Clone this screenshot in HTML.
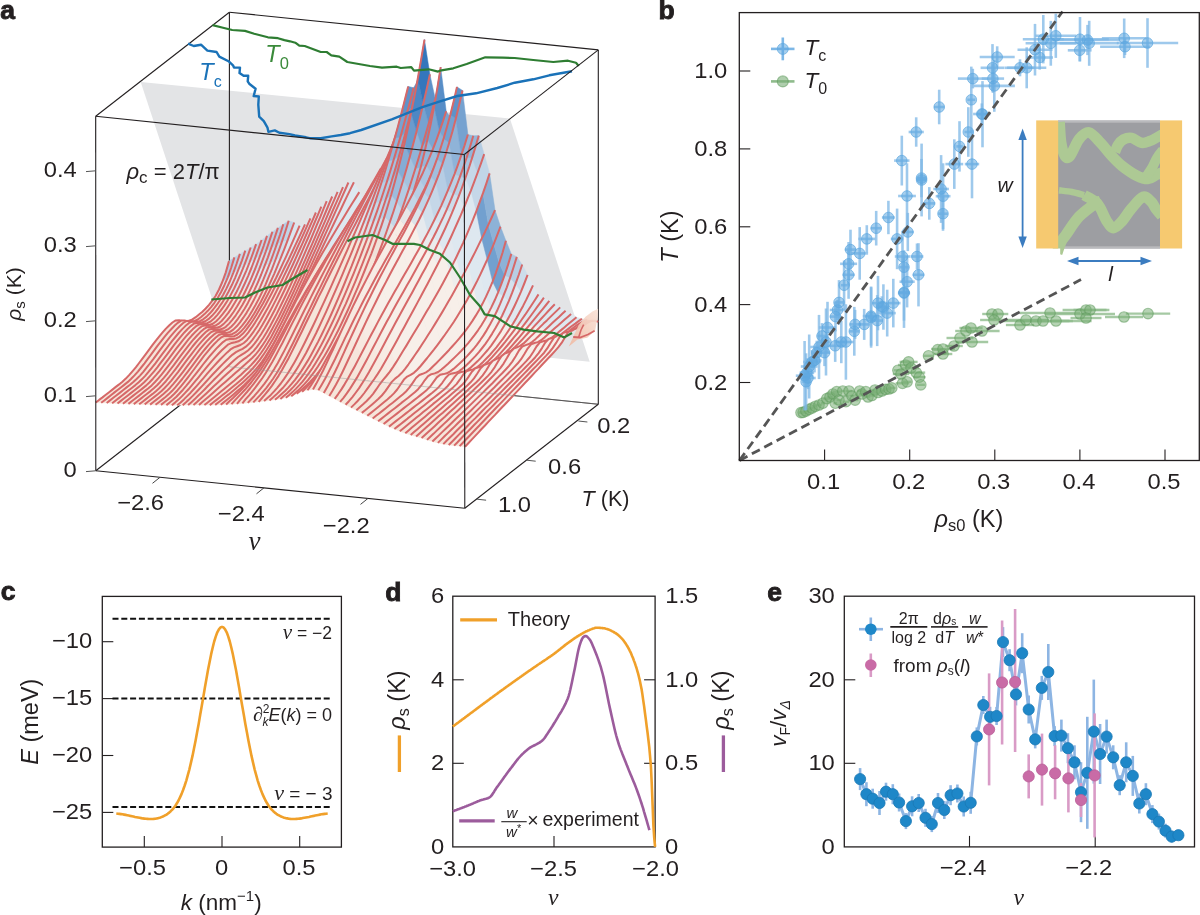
<!DOCTYPE html>
<html><head><meta charset="utf-8"><style>
html,body{margin:0;padding:0;background:#fff;}
body{width:1200px;height:915px;overflow:hidden;font-family:"Liberation Sans",sans-serif;}
svg{display:block;will-change:transform;}
</style></head><body>
<svg width="1200" height="915" viewBox="0 0 1200 915">
<rect width="1200" height="915" fill="#ffffff"/>
<polygon points="140.7,82 509.9,118.4 589.7,361.7 220.5,324.3" fill="#e3e4e6"/>
<g stroke="#231f20" stroke-width="1.1" fill="none">
<line x1="229.4" y1="12.2" x2="229.4" y2="366.8"/>
<line x1="229.4" y1="12.2" x2="598.3" y2="49.9"/>
<line x1="95.7" y1="116.2" x2="229.4" y2="12.2"/>
<line x1="598.3" y1="49.9" x2="598.3" y2="404.2"/>
<line x1="229.4" y1="366.8" x2="598.3" y2="404.2"/>
<line x1="95.8" y1="470.8" x2="229.4" y2="366.8"/>
</g>
<polygon points="95.8,402.6 99.1,399.9 102.5,397.4 107.9,397.6 104.6,400.2 101.2,402.8" fill="#f6e5da" stroke="#f6e5da" stroke-width="0.5"/>
<polygon points="102.5,397.4 105.8,394.8 109.1,392.2 114.5,392.4 111.2,395 107.9,397.6" fill="#f6e5da" stroke="#f6e5da" stroke-width="0.5"/>
<polygon points="109.1,392.2 112.4,389.6 115.8,386.9 121.2,387.2 117.9,389.8 114.5,392.4" fill="#f6e5da" stroke="#f6e5da" stroke-width="0.5"/>
<polygon points="115.8,386.9 119.1,384.4 122.4,381.7 127.9,381.9 124.5,384.6 121.2,387.2" fill="#f6e5da" stroke="#f6e5da" stroke-width="0.5"/>
<polygon points="122.4,381.7 125.8,378.6 129.1,375.1 134.5,375.4 131.2,378.8 127.9,381.9" fill="#f6e5da" stroke="#f6e5da" stroke-width="0.5"/>
<polygon points="129.1,375.1 132.4,371.3 135.8,367.3 141.2,367.5 137.9,371.6 134.5,375.4" fill="#f6e5da" stroke="#f6e5da" stroke-width="0.5"/>
<polygon points="135.8,367.3 139.1,363 142.4,358.7 147.8,358.9 144.5,363.3 141.2,367.5" fill="#f6e5da" stroke="#f6e5da" stroke-width="0.5"/>
<polygon points="142.4,358.7 145.8,354.2 149.1,349.7 154.5,349.9 151.2,354.4 147.8,358.9" fill="#f6e5da" stroke="#f6e5da" stroke-width="0.5"/>
<polygon points="149.1,349.7 152.4,345.2 155.7,340.9 161.2,341.1 157.8,345.4 154.5,349.9" fill="#f6e5da" stroke="#f6e5da" stroke-width="0.5"/>
<polygon points="155.7,340.9 159.1,336.7 162.4,332.7 167.8,332.9 164.5,336.9 161.2,341.1" fill="#f6e5da" stroke="#f6e5da" stroke-width="0.5"/>
<polygon points="162.4,332.7 165.7,328.9 169.1,325.5 174.5,325.8 171.2,329.2 167.8,332.9" fill="#f6e5da" stroke="#f6e5da" stroke-width="0.5"/>
<polygon points="169.1,325.5 172.4,322.5 175.7,320.4 181.1,320.6 177.8,322.8 174.5,325.8" fill="#f6e5da" stroke="#f6e5da" stroke-width="0.5"/>
<polygon points="175.7,320.4 179.1,320.2 182.4,321.1 187.8,321.3 184.5,320.5 181.1,320.6" fill="#f2cdbe" stroke="#f2cdbe" stroke-width="0.5"/>
<polygon points="182.4,321.1 185.7,321.5 189,321 194.5,321.2 191.1,321.8 187.8,321.3" fill="#f2cdbe" stroke="#f2cdbe" stroke-width="0.5"/>
<polygon points="189,321 192.4,319.4 195.7,317.2 201.1,317 197.8,319.5 194.5,321.2" fill="#f5ded2" stroke="#f5ded2" stroke-width="0.5"/>
<polygon points="195.7,317.2 199,314.5 202.4,311.7 207.8,310.8 204.5,314.1 201.1,317" fill="#f6e5da" stroke="#f6e5da" stroke-width="0.5"/>
<polygon points="202.4,311.7 205.7,308.5 209,304.9 214.4,302.8 211.1,307.1 207.8,310.8" fill="#f6e5da" stroke="#f6e5da" stroke-width="0.5"/>
<polygon points="209,304.9 212.3,300.7 215.7,295.7 221.1,292 217.8,297.8 214.4,302.8" fill="#e9e7e6" stroke="#e9e7e6" stroke-width="0.5"/>
<polygon points="215.7,295.7 219,289.5 222.3,282 227.8,277.3 224.4,285.2 221.1,292" fill="#dee8f0" stroke="#dee8f0" stroke-width="0.5"/>
<polygon points="222.3,282 225.7,272.6 229,261.1 234.4,257.4 231.1,268 227.8,277.3" fill="#b6cde4" stroke="#b6cde4" stroke-width="0.5"/>
<path d="M95.8 402.6L99.1 399.9L102.5 397.4L105.8 394.8L109.1 392.2L112.4 389.6L115.8 386.9L119.1 384.4L122.4 381.7L125.8 378.6L129.1 375.1L132.4 371.3L135.8 367.3L139.1 363L142.4 358.7L145.8 354.2L149.1 349.7L152.4 345.2L155.7 340.9L159.1 336.7L162.4 332.7L165.7 328.9L169.1 325.5L172.4 322.5L175.7 320.4L179.1 320.2L182.4 321.1L185.7 321.5L189 321L192.4 319.4L195.7 317.2L199 314.5L202.4 311.7L205.7 308.5L209 304.9L212.3 300.7L215.7 295.7L219 289.5L222.3 282L225.7 272.6L229 261.1" fill="none" stroke="#d66868" stroke-width="2" stroke-linejoin="round"/>
<polygon points="101.2,402.8 104.6,400.2 107.9,397.6 113.3,397.8 110,400.4 106.7,403" fill="#f6e5da" stroke="#f6e5da" stroke-width="0.5"/>
<polygon points="107.9,397.6 111.2,395 114.5,392.4 120,392.6 116.6,395.2 113.3,397.8" fill="#f6e5da" stroke="#f6e5da" stroke-width="0.5"/>
<polygon points="114.5,392.4 117.9,389.8 121.2,387.2 126.6,387.4 123.3,390 120,392.6" fill="#f6e5da" stroke="#f6e5da" stroke-width="0.5"/>
<polygon points="121.2,387.2 124.5,384.6 127.9,381.9 133.3,382.1 130,384.8 126.6,387.4" fill="#f6e5da" stroke="#f6e5da" stroke-width="0.5"/>
<polygon points="127.9,381.9 131.2,378.8 134.5,375.4 140,375.6 136.6,379 133.3,382.1" fill="#f6e5da" stroke="#f6e5da" stroke-width="0.5"/>
<polygon points="134.5,375.4 137.9,371.6 141.2,367.5 146.6,367.7 143.3,371.8 140,375.6" fill="#f6e5da" stroke="#f6e5da" stroke-width="0.5"/>
<polygon points="141.2,367.5 144.5,363.3 147.8,358.9 153.3,359.1 149.9,363.5 146.6,367.7" fill="#f6e5da" stroke="#f6e5da" stroke-width="0.5"/>
<polygon points="147.8,358.9 151.2,354.4 154.5,349.9 159.9,350.1 156.6,354.6 153.3,359.1" fill="#f6e5da" stroke="#f6e5da" stroke-width="0.5"/>
<polygon points="154.5,349.9 157.8,345.4 161.2,341.1 166.6,341.3 163.3,345.7 159.9,350.1" fill="#f6e5da" stroke="#f6e5da" stroke-width="0.5"/>
<polygon points="161.2,341.1 164.5,336.9 167.8,332.9 173.3,333.1 169.9,337.1 166.6,341.3" fill="#f6e5da" stroke="#f6e5da" stroke-width="0.5"/>
<polygon points="167.8,332.9 171.2,329.2 174.5,325.8 179.9,326 176.6,329.4 173.3,333.1" fill="#f6e5da" stroke="#f6e5da" stroke-width="0.5"/>
<polygon points="174.5,325.8 177.8,322.8 181.1,320.6 186.6,320.9 183.2,323 179.9,326" fill="#f6e5da" stroke="#f6e5da" stroke-width="0.5"/>
<polygon points="181.1,320.6 184.5,320.5 187.8,321.3 193.2,321.6 189.9,320.8 186.6,320.9" fill="#f2cdbe" stroke="#f2cdbe" stroke-width="0.5"/>
<polygon points="187.8,321.3 191.1,321.8 194.5,321.2 199.9,321.2 196.6,321.9 193.2,321.6" fill="#f2cdbe" stroke="#f2cdbe" stroke-width="0.5"/>
<polygon points="194.5,321.2 197.8,319.5 201.1,317 206.6,316.6 203.2,319.3 199.9,321.2" fill="#f5e1d5" stroke="#f5e1d5" stroke-width="0.5"/>
<polygon points="201.1,317 204.5,314.1 207.8,310.8 213.2,309.5 209.9,313.3 206.6,316.6" fill="#f6e5da" stroke="#f6e5da" stroke-width="0.5"/>
<polygon points="207.8,310.8 211.1,307.1 214.4,302.8 219.9,300.3 216.5,305.2 213.2,309.5" fill="#f6e5da" stroke="#f6e5da" stroke-width="0.5"/>
<polygon points="214.4,302.8 217.8,297.8 221.1,292 226.5,288.4 223.2,294.7 219.9,300.3" fill="#e7e7e8" stroke="#e7e7e8" stroke-width="0.5"/>
<polygon points="221.1,292 224.4,285.2 227.8,277.3 233.2,273.1 229.9,281.2 226.5,288.4" fill="#dee8f0" stroke="#dee8f0" stroke-width="0.5"/>
<polygon points="227.8,277.3 231.1,268 234.4,257.4 239.9,253.9 236.5,264 233.2,273.1" fill="#bfd3e7" stroke="#bfd3e7" stroke-width="0.5"/>
<path d="M101.2 402.8L104.6 400.2L107.9 397.6L111.2 395L114.5 392.4L117.9 389.8L121.2 387.2L124.5 384.6L127.9 381.9L131.2 378.8L134.5 375.4L137.9 371.6L141.2 367.5L144.5 363.3L147.8 358.9L151.2 354.4L154.5 349.9L157.8 345.4L161.2 341.1L164.5 336.9L167.8 332.9L171.2 329.2L174.5 325.8L177.8 322.8L181.1 320.6L184.5 320.5L187.8 321.3L191.1 321.8L194.5 321.2L197.8 319.5L201.1 317L204.5 314.1L207.8 310.8L211.1 307.1L214.4 302.8L217.8 297.8L221.1 292L224.4 285.2L227.8 277.3L231.1 268L234.4 257.4" fill="none" stroke="#d66868" stroke-width="2" stroke-linejoin="round"/>
<polygon points="106.7,403 110,400.4 113.3,397.8 118.7,398.1 115.4,400.7 112.1,403.3" fill="#f6e5da" stroke="#f6e5da" stroke-width="0.5"/>
<polygon points="113.3,397.8 116.6,395.2 120,392.6 125.4,392.9 122.1,395.5 118.7,398.1" fill="#f6e5da" stroke="#f6e5da" stroke-width="0.5"/>
<polygon points="120,392.6 123.3,390 126.6,387.4 132.1,387.7 128.7,390.3 125.4,392.9" fill="#f6e5da" stroke="#f6e5da" stroke-width="0.5"/>
<polygon points="126.6,387.4 130,384.8 133.3,382.1 138.7,382.3 135.4,385.1 132.1,387.7" fill="#f6e5da" stroke="#f6e5da" stroke-width="0.5"/>
<polygon points="133.3,382.1 136.6,379 140,375.6 145.4,375.6 142.1,379.1 138.7,382.3" fill="#f6e5da" stroke="#f6e5da" stroke-width="0.5"/>
<polygon points="140,375.6 143.3,371.8 146.6,367.7 152,367.6 148.7,371.7 145.4,375.6" fill="#f6e5da" stroke="#f6e5da" stroke-width="0.5"/>
<polygon points="146.6,367.7 149.9,363.5 153.3,359.1 158.7,358.9 155.4,363.3 152,367.6" fill="#f6e5da" stroke="#f6e5da" stroke-width="0.5"/>
<polygon points="153.3,359.1 156.6,354.6 159.9,350.1 165.4,349.9 162,354.4 158.7,358.9" fill="#f6e5da" stroke="#f6e5da" stroke-width="0.5"/>
<polygon points="159.9,350.1 163.3,345.7 166.6,341.3 172,341.1 168.7,345.5 165.4,349.9" fill="#f6e5da" stroke="#f6e5da" stroke-width="0.5"/>
<polygon points="166.6,341.3 169.9,337.1 173.3,333.1 178.7,333 175.4,337 172,341.1" fill="#f6e5da" stroke="#f6e5da" stroke-width="0.5"/>
<polygon points="173.3,333.1 176.6,329.4 179.9,326 185.3,326.1 182,329.4 178.7,333" fill="#f6e5da" stroke="#f6e5da" stroke-width="0.5"/>
<polygon points="179.9,326 183.2,323 186.6,320.9 192,321.5 188.7,323.2 185.3,326.1" fill="#f6e3d8" stroke="#f6e3d8" stroke-width="0.5"/>
<polygon points="186.6,320.9 189.9,320.8 193.2,321.6 198.7,322.4 195.3,321.7 192,321.5" fill="#f2cdbe" stroke="#f2cdbe" stroke-width="0.5"/>
<polygon points="193.2,321.6 196.6,321.9 199.9,321.2 205.3,321.3 202,322.5 198.7,322.4" fill="#f2cdbe" stroke="#f2cdbe" stroke-width="0.5"/>
<polygon points="199.9,321.2 203.2,319.3 206.6,316.6 212,315.8 208.7,318.9 205.3,321.3" fill="#f6e4d9" stroke="#f6e4d9" stroke-width="0.5"/>
<polygon points="206.6,316.6 209.9,313.3 213.2,309.5 218.6,307.8 215.3,312.1 212,315.8" fill="#f6e5da" stroke="#f6e5da" stroke-width="0.5"/>
<polygon points="213.2,309.5 216.5,305.2 219.9,300.3 225.3,297.5 222,302.9 218.6,307.8" fill="#f6e5da" stroke="#f6e5da" stroke-width="0.5"/>
<polygon points="219.9,300.3 223.2,294.7 226.5,288.4 232,284.8 228.6,291.5 225.3,297.5" fill="#e4e7ea" stroke="#e4e7ea" stroke-width="0.5"/>
<polygon points="226.5,288.4 229.9,281.2 233.2,273.1 238.6,269.2 235.3,277.3 232,284.8" fill="#dee8f0" stroke="#dee8f0" stroke-width="0.5"/>
<polygon points="233.2,273.1 236.5,264 239.9,253.9 245.3,250.7 242,260.3 238.6,269.2" fill="#c6d8e9" stroke="#c6d8e9" stroke-width="0.5"/>
<path d="M106.7 403L110 400.4L113.3 397.8L116.6 395.2L120 392.6L123.3 390L126.6 387.4L130 384.8L133.3 382.1L136.6 379L140 375.6L143.3 371.8L146.6 367.7L149.9 363.5L153.3 359.1L156.6 354.6L159.9 350.1L163.3 345.7L166.6 341.3L169.9 337.1L173.3 333.1L176.6 329.4L179.9 326L183.2 323L186.6 320.9L189.9 320.8L193.2 321.6L196.6 321.9L199.9 321.2L203.2 319.3L206.6 316.6L209.9 313.3L213.2 309.5L216.5 305.2L219.9 300.3L223.2 294.7L226.5 288.4L229.9 281.2L233.2 273.1L236.5 264L239.9 253.9" fill="none" stroke="#d66868" stroke-width="2" stroke-linejoin="round"/>
<polygon points="112.1,403.3 115.4,400.7 118.7,398.1 124.2,398.3 120.8,400.9 117.5,403.5" fill="#f6e5da" stroke="#f6e5da" stroke-width="0.5"/>
<polygon points="118.7,398.1 122.1,395.5 125.4,392.9 130.8,393.1 127.5,395.7 124.2,398.3" fill="#f6e5da" stroke="#f6e5da" stroke-width="0.5"/>
<polygon points="125.4,392.9 128.7,390.3 132.1,387.7 137.5,387.9 134.2,390.5 130.8,393.1" fill="#f6e5da" stroke="#f6e5da" stroke-width="0.5"/>
<polygon points="132.1,387.7 135.4,385.1 138.7,382.3 144.2,382.3 140.8,385.3 137.5,387.9" fill="#f6e5da" stroke="#f6e5da" stroke-width="0.5"/>
<polygon points="138.7,382.3 142.1,379.1 145.4,375.6 150.8,375.2 147.5,378.9 144.2,382.3" fill="#f6e5da" stroke="#f6e5da" stroke-width="0.5"/>
<polygon points="145.4,375.6 148.7,371.7 152,367.6 157.5,367.1 154.1,371.3 150.8,375.2" fill="#f6e5da" stroke="#f6e5da" stroke-width="0.5"/>
<polygon points="152,367.6 155.4,363.3 158.7,358.9 164.1,358.3 160.8,362.7 157.5,367.1" fill="#f6e5da" stroke="#f6e5da" stroke-width="0.5"/>
<polygon points="158.7,358.9 162,354.4 165.4,349.9 170.8,349.3 167.5,353.8 164.1,358.3" fill="#f6e5da" stroke="#f6e5da" stroke-width="0.5"/>
<polygon points="165.4,349.9 168.7,345.5 172,341.1 177.5,340.6 174.1,344.9 170.8,349.3" fill="#f6e5da" stroke="#f6e5da" stroke-width="0.5"/>
<polygon points="172,341.1 175.4,337 178.7,333 184.1,332.7 180.8,336.6 177.5,340.6" fill="#f6e5da" stroke="#f6e5da" stroke-width="0.5"/>
<polygon points="178.7,333 182,329.4 185.3,326.1 190.8,326.1 187.4,329.2 184.1,332.7" fill="#f6e5da" stroke="#f6e5da" stroke-width="0.5"/>
<polygon points="185.3,326.1 188.7,323.2 192,321.5 197.4,322.7 194.1,323.5 190.8,326.1" fill="#f5dfd3" stroke="#f5dfd3" stroke-width="0.5"/>
<polygon points="192,321.5 195.3,321.7 198.7,322.4 204.1,323.8 200.8,323.3 197.4,322.7" fill="#f2cdbe" stroke="#f2cdbe" stroke-width="0.5"/>
<polygon points="198.7,322.4 202,322.5 205.3,321.3 210.8,321.3 207.4,323.2 204.1,323.8" fill="#f3d3c5" stroke="#f3d3c5" stroke-width="0.5"/>
<polygon points="205.3,321.3 208.7,318.9 212,315.8 217.4,314.8 214.1,318.5 210.8,321.3" fill="#f6e5da" stroke="#f6e5da" stroke-width="0.5"/>
<polygon points="212,315.8 215.3,312.1 218.6,307.8 224.1,305.9 220.7,310.7 217.4,314.8" fill="#f6e5da" stroke="#f6e5da" stroke-width="0.5"/>
<polygon points="218.6,307.8 222,302.9 225.3,297.5 230.7,294.9 227.4,300.7 224.1,305.9" fill="#f6e5da" stroke="#f6e5da" stroke-width="0.5"/>
<polygon points="225.3,297.5 228.6,291.5 232,284.8 237.4,281.5 234.1,288.5 230.7,294.9" fill="#e2e7ec" stroke="#e2e7ec" stroke-width="0.5"/>
<polygon points="232,284.8 235.3,277.3 238.6,269.2 244.1,265.7 240.7,273.9 237.4,281.5" fill="#dee8f0" stroke="#dee8f0" stroke-width="0.5"/>
<polygon points="238.6,269.2 242,260.3 245.3,250.7 250.7,247.5 247.4,256.9 244.1,265.7" fill="#cbdbea" stroke="#cbdbea" stroke-width="0.5"/>
<path d="M112.1 403.3L115.4 400.7L118.7 398.1L122.1 395.5L125.4 392.9L128.7 390.3L132.1 387.7L135.4 385.1L138.7 382.3L142.1 379.1L145.4 375.6L148.7 371.7L152 367.6L155.4 363.3L158.7 358.9L162 354.4L165.4 349.9L168.7 345.5L172 341.1L175.4 337L178.7 333L182 329.4L185.3 326.1L188.7 323.2L192 321.5L195.3 321.7L198.7 322.4L202 322.5L205.3 321.3L208.7 318.9L212 315.8L215.3 312.1L218.6 307.8L222 302.9L225.3 297.5L228.6 291.5L232 284.8L235.3 277.3L238.6 269.2L242 260.3L245.3 250.7" fill="none" stroke="#d66868" stroke-width="2" stroke-linejoin="round"/>
<polygon points="117.5,403.5 120.8,400.9 124.2,398.3 129.6,398.5 126.3,401.1 122.9,403.7" fill="#f6e5da" stroke="#f6e5da" stroke-width="0.5"/>
<polygon points="124.2,398.3 127.5,395.7 130.8,393.1 136.3,393.3 132.9,395.9 129.6,398.5" fill="#f6e5da" stroke="#f6e5da" stroke-width="0.5"/>
<polygon points="130.8,393.1 134.2,390.5 137.5,387.9 142.9,388.1 139.6,390.7 136.3,393.3" fill="#f6e5da" stroke="#f6e5da" stroke-width="0.5"/>
<polygon points="137.5,387.9 140.8,385.3 144.2,382.3 149.6,382.2 146.3,385.4 142.9,388.1" fill="#f6e5da" stroke="#f6e5da" stroke-width="0.5"/>
<polygon points="144.2,382.3 147.5,378.9 150.8,375.2 156.2,374.9 152.9,378.7 149.6,382.2" fill="#f6e5da" stroke="#f6e5da" stroke-width="0.5"/>
<polygon points="150.8,375.2 154.1,371.3 157.5,367.1 162.9,366.5 159.6,370.8 156.2,374.9" fill="#f6e5da" stroke="#f6e5da" stroke-width="0.5"/>
<polygon points="157.5,367.1 160.8,362.7 164.1,358.3 169.6,357.6 166.2,362.1 162.9,366.5" fill="#f6e5da" stroke="#f6e5da" stroke-width="0.5"/>
<polygon points="164.1,358.3 167.5,353.8 170.8,349.3 176.2,348.7 172.9,353.1 169.6,357.6" fill="#f6e5da" stroke="#f6e5da" stroke-width="0.5"/>
<polygon points="170.8,349.3 174.1,344.9 177.5,340.6 182.9,340.1 179.6,344.3 176.2,348.7" fill="#f6e5da" stroke="#f6e5da" stroke-width="0.5"/>
<polygon points="177.5,340.6 180.8,336.6 184.1,332.7 189.5,332.5 186.2,336.2 182.9,340.1" fill="#f6e5da" stroke="#f6e5da" stroke-width="0.5"/>
<polygon points="184.1,332.7 187.4,329.2 190.8,326.1 196.2,326.2 192.9,329.1 189.5,332.5" fill="#f6e5da" stroke="#f6e5da" stroke-width="0.5"/>
<polygon points="190.8,326.1 194.1,323.5 197.4,322.7 202.9,324.3 199.5,324.2 196.2,326.2" fill="#f4d7ca" stroke="#f4d7ca" stroke-width="0.5"/>
<polygon points="197.4,322.7 200.8,323.3 204.1,323.8 209.5,325 206.2,324.9 202.9,324.3" fill="#f2cdbe" stroke="#f2cdbe" stroke-width="0.5"/>
<polygon points="204.1,323.8 207.4,323.2 210.8,321.3 216.2,321.3 212.9,323.7 209.5,325" fill="#f4dacd" stroke="#f4dacd" stroke-width="0.5"/>
<polygon points="210.8,321.3 214.1,318.5 217.4,314.8 222.8,313.9 219.5,317.9 216.2,321.3" fill="#f6e5da" stroke="#f6e5da" stroke-width="0.5"/>
<polygon points="217.4,314.8 220.7,310.7 224.1,305.9 229.5,304.3 226.2,309.4 222.8,313.9" fill="#f6e5da" stroke="#f6e5da" stroke-width="0.5"/>
<polygon points="224.1,305.9 227.4,300.7 230.7,294.9 236.2,292.6 232.8,298.7 229.5,304.3" fill="#f4e5db" stroke="#f4e5db" stroke-width="0.5"/>
<polygon points="230.7,294.9 234.1,288.5 237.4,281.5 242.8,278.6 239.5,285.9 236.2,292.6" fill="#e0e8ee" stroke="#e0e8ee" stroke-width="0.5"/>
<polygon points="237.4,281.5 240.7,273.9 244.1,265.7 249.5,262.5 246.2,270.8 242.8,278.6" fill="#dee8f0" stroke="#dee8f0" stroke-width="0.5"/>
<polygon points="244.1,265.7 247.4,256.9 250.7,247.5 256.1,244.1 252.8,253.6 249.5,262.5" fill="#ccdcea" stroke="#ccdcea" stroke-width="0.5"/>
<path d="M117.5 403.5L120.8 400.9L124.2 398.3L127.5 395.7L130.8 393.1L134.2 390.5L137.5 387.9L140.8 385.3L144.2 382.3L147.5 378.9L150.8 375.2L154.1 371.3L157.5 367.1L160.8 362.7L164.1 358.3L167.5 353.8L170.8 349.3L174.1 344.9L177.5 340.6L180.8 336.6L184.1 332.7L187.4 329.2L190.8 326.1L194.1 323.5L197.4 322.7L200.8 323.3L204.1 323.8L207.4 323.2L210.8 321.3L214.1 318.5L217.4 314.8L220.7 310.7L224.1 305.9L227.4 300.7L230.7 294.9L234.1 288.5L237.4 281.5L240.7 273.9L244.1 265.7L247.4 256.9L250.7 247.5" fill="none" stroke="#d66868" stroke-width="2" stroke-linejoin="round"/>
<polygon points="122.9,403.7 126.3,401.1 129.6,398.5 135,398.7 131.7,401.3 128.4,403.9" fill="#f6e5da" stroke="#f6e5da" stroke-width="0.5"/>
<polygon points="129.6,398.5 132.9,395.9 136.3,393.3 141.7,393.5 138.4,396.1 135,398.7" fill="#f6e5da" stroke="#f6e5da" stroke-width="0.5"/>
<polygon points="136.3,393.3 139.6,390.7 142.9,388.1 148.4,388.3 145,390.9 141.7,393.5" fill="#f6e5da" stroke="#f6e5da" stroke-width="0.5"/>
<polygon points="142.9,388.1 146.3,385.4 149.6,382.2 155,382 151.7,385.4 148.4,388.3" fill="#f6e5da" stroke="#f6e5da" stroke-width="0.5"/>
<polygon points="149.6,382.2 152.9,378.7 156.2,374.9 161.7,374.4 158.3,378.4 155,382" fill="#f6e5da" stroke="#f6e5da" stroke-width="0.5"/>
<polygon points="156.2,374.9 159.6,370.8 162.9,366.5 168.3,365.9 165,370.2 161.7,374.4" fill="#f6e5da" stroke="#f6e5da" stroke-width="0.5"/>
<polygon points="162.9,366.5 166.2,362.1 169.6,357.6 175,356.9 171.7,361.4 168.3,365.9" fill="#f6e5da" stroke="#f6e5da" stroke-width="0.5"/>
<polygon points="169.6,357.6 172.9,353.1 176.2,348.7 181.7,348.1 178.3,352.5 175,356.9" fill="#f6e5da" stroke="#f6e5da" stroke-width="0.5"/>
<polygon points="176.2,348.7 179.6,344.3 182.9,340.1 188.3,339.7 185,343.8 181.7,348.1" fill="#f6e5da" stroke="#f6e5da" stroke-width="0.5"/>
<polygon points="182.9,340.1 186.2,336.2 189.5,332.5 195,332.3 191.6,335.8 188.3,339.7" fill="#f6e5da" stroke="#f6e5da" stroke-width="0.5"/>
<polygon points="189.5,332.5 192.9,329.1 196.2,326.2 201.6,326.4 198.3,329.1 195,332.3" fill="#f6e5da" stroke="#f6e5da" stroke-width="0.5"/>
<polygon points="196.2,326.2 199.5,324.2 202.9,324.3 208.3,325.9 205,325.4 201.6,326.4" fill="#f2d0c1" stroke="#f2d0c1" stroke-width="0.5"/>
<polygon points="202.9,324.3 206.2,324.9 209.5,325 215,325.8 211.6,326.4 208.3,325.9" fill="#f2cdbe" stroke="#f2cdbe" stroke-width="0.5"/>
<polygon points="209.5,325 212.9,323.7 216.2,321.3 221.6,321 218.3,323.9 215,325.8" fill="#f5e0d4" stroke="#f5e0d4" stroke-width="0.5"/>
<polygon points="216.2,321.3 219.5,317.9 222.8,313.9 228.3,312.9 224.9,317.2 221.6,321" fill="#f6e5da" stroke="#f6e5da" stroke-width="0.5"/>
<polygon points="222.8,313.9 226.2,309.4 229.5,304.3 234.9,302.6 231.6,308 228.3,312.9" fill="#f6e5da" stroke="#f6e5da" stroke-width="0.5"/>
<polygon points="229.5,304.3 232.8,298.7 236.2,292.6 241.6,290.2 238.3,296.7 234.9,302.6" fill="#f3e5dd" stroke="#f3e5dd" stroke-width="0.5"/>
<polygon points="236.2,292.6 239.5,285.9 242.8,278.6 248.3,275.6 244.9,283.2 241.6,290.2" fill="#dfe8ef" stroke="#dfe8ef" stroke-width="0.5"/>
<polygon points="242.8,278.6 246.2,270.8 249.5,262.5 254.9,258.8 251.6,267.5 248.3,275.6" fill="#dee8f0" stroke="#dee8f0" stroke-width="0.5"/>
<polygon points="249.5,262.5 252.8,253.6 256.1,244.1 261.6,240 258.2,249.7 254.9,258.8" fill="#c8dae9" stroke="#c8dae9" stroke-width="0.5"/>
<path d="M122.9 403.7L126.3 401.1L129.6 398.5L132.9 395.9L136.3 393.3L139.6 390.7L142.9 388.1L146.3 385.4L149.6 382.2L152.9 378.7L156.2 374.9L159.6 370.8L162.9 366.5L166.2 362.1L169.6 357.6L172.9 353.1L176.2 348.7L179.6 344.3L182.9 340.1L186.2 336.2L189.5 332.5L192.9 329.1L196.2 326.2L199.5 324.2L202.9 324.3L206.2 324.9L209.5 325L212.9 323.7L216.2 321.3L219.5 317.9L222.8 313.9L226.2 309.4L229.5 304.3L232.8 298.7L236.2 292.6L239.5 285.9L242.8 278.6L246.2 270.8L249.5 262.5L252.8 253.6L256.1 244.1" fill="none" stroke="#d66868" stroke-width="2" stroke-linejoin="round"/>
<polygon points="128.4,403.9 131.7,401.3 135,398.7 140.5,398.9 137.1,401.5 133.8,404.1" fill="#f6e5da" stroke="#f6e5da" stroke-width="0.5"/>
<polygon points="135,398.7 138.4,396.1 141.7,393.5 147.1,393.7 143.8,396.3 140.5,398.9" fill="#f6e5da" stroke="#f6e5da" stroke-width="0.5"/>
<polygon points="141.7,393.5 145,390.9 148.4,388.3 153.8,388.3 150.5,391.1 147.1,393.7" fill="#f6e5da" stroke="#f6e5da" stroke-width="0.5"/>
<polygon points="148.4,388.3 151.7,385.4 155,382 160.4,381.7 157.1,385.2 153.8,388.3" fill="#f6e5da" stroke="#f6e5da" stroke-width="0.5"/>
<polygon points="155,382 158.3,378.4 161.7,374.4 167.1,373.8 163.8,377.9 160.4,381.7" fill="#f6e5da" stroke="#f6e5da" stroke-width="0.5"/>
<polygon points="161.7,374.4 165,370.2 168.3,365.9 173.8,365.1 170.4,369.5 167.1,373.8" fill="#f6e5da" stroke="#f6e5da" stroke-width="0.5"/>
<polygon points="168.3,365.9 171.7,361.4 175,356.9 180.4,356.1 177.1,360.6 173.8,365.1" fill="#f6e5da" stroke="#f6e5da" stroke-width="0.5"/>
<polygon points="175,356.9 178.3,352.5 181.7,348.1 187.1,347.3 183.8,351.7 180.4,356.1" fill="#f6e5da" stroke="#f6e5da" stroke-width="0.5"/>
<polygon points="181.7,348.1 185,343.8 188.3,339.7 193.7,339.2 190.4,343.1 187.1,347.3" fill="#f6e5da" stroke="#f6e5da" stroke-width="0.5"/>
<polygon points="188.3,339.7 191.6,335.8 195,332.3 200.4,332.1 197.1,335.5 193.7,339.2" fill="#f6e5da" stroke="#f6e5da" stroke-width="0.5"/>
<polygon points="195,332.3 198.3,329.1 201.6,326.4 207.1,327.2 203.7,329.2 200.4,332.1" fill="#f6e5da" stroke="#f6e5da" stroke-width="0.5"/>
<polygon points="201.6,326.4 205,325.4 208.3,325.9 213.7,327.8 210.4,327.2 207.1,327.2" fill="#f2cdbe" stroke="#f2cdbe" stroke-width="0.5"/>
<polygon points="208.3,325.9 211.6,326.4 215,325.8 220.4,326.5 217.1,327.8 213.7,327.8" fill="#f2cdbe" stroke="#f2cdbe" stroke-width="0.5"/>
<polygon points="215,325.8 218.3,323.9 221.6,321 227,320.5 223.7,323.9 220.4,326.5" fill="#f6e5da" stroke="#f6e5da" stroke-width="0.5"/>
<polygon points="221.6,321 224.9,317.2 228.3,312.9 233.7,311.7 230.4,316.4 227,320.5" fill="#f6e5da" stroke="#f6e5da" stroke-width="0.5"/>
<polygon points="228.3,312.9 231.6,308 234.9,302.6 240.4,300.8 237,306.5 233.7,311.7" fill="#f6e5da" stroke="#f6e5da" stroke-width="0.5"/>
<polygon points="234.9,302.6 238.3,296.7 241.6,290.2 247,287.7 243.7,294.5 240.4,300.8" fill="#f1e6df" stroke="#f1e6df" stroke-width="0.5"/>
<polygon points="241.6,290.2 244.9,283.2 248.3,275.6 253.7,272.5 250.4,280.4 247,287.7" fill="#dee8f0" stroke="#dee8f0" stroke-width="0.5"/>
<polygon points="248.3,275.6 251.6,267.5 254.9,258.8 260.3,255.2 257,264.1 253.7,272.5" fill="#d8e4ee" stroke="#d8e4ee" stroke-width="0.5"/>
<polygon points="254.9,258.8 258.2,249.7 261.6,240 267,235.9 263.7,245.8 260.3,255.2" fill="#c4d6e8" stroke="#c4d6e8" stroke-width="0.5"/>
<path d="M128.4 403.9L131.7 401.3L135 398.7L138.4 396.1L141.7 393.5L145 390.9L148.4 388.3L151.7 385.4L155 382L158.3 378.4L161.7 374.4L165 370.2L168.3 365.9L171.7 361.4L175 356.9L178.3 352.5L181.7 348.1L185 343.8L188.3 339.7L191.6 335.8L195 332.3L198.3 329.1L201.6 326.4L205 325.4L208.3 325.9L211.6 326.4L215 325.8L218.3 323.9L221.6 321L224.9 317.2L228.3 312.9L231.6 308L234.9 302.6L238.3 296.7L241.6 290.2L244.9 283.2L248.3 275.6L251.6 267.5L254.9 258.8L258.2 249.7L261.6 240" fill="none" stroke="#d66868" stroke-width="2" stroke-linejoin="round"/>
<polygon points="133.8,404.1 137.1,401.5 140.5,398.9 145.9,399.1 142.6,401.7 139.2,404.3" fill="#f6e5da" stroke="#f6e5da" stroke-width="0.5"/>
<polygon points="140.5,398.9 143.8,396.3 147.1,393.7 152.6,393.9 149.2,396.5 145.9,399.1" fill="#f6e5da" stroke="#f6e5da" stroke-width="0.5"/>
<polygon points="147.1,393.7 150.5,391.1 153.8,388.3 159.2,388.3 155.9,391.2 152.6,393.9" fill="#f6e5da" stroke="#f6e5da" stroke-width="0.5"/>
<polygon points="153.8,388.3 157.1,385.2 160.4,381.7 165.9,381.2 162.5,384.9 159.2,388.3" fill="#f6e5da" stroke="#f6e5da" stroke-width="0.5"/>
<polygon points="160.4,381.7 163.8,377.9 167.1,373.8 172.5,373 169.2,377.2 165.9,381.2" fill="#f6e5da" stroke="#f6e5da" stroke-width="0.5"/>
<polygon points="167.1,373.8 170.4,369.5 173.8,365.1 179.2,364.2 175.9,368.6 172.5,373" fill="#f6e5da" stroke="#f6e5da" stroke-width="0.5"/>
<polygon points="173.8,365.1 177.1,360.6 180.4,356.1 185.9,355.2 182.5,359.7 179.2,364.2" fill="#f6e5da" stroke="#f6e5da" stroke-width="0.5"/>
<polygon points="180.4,356.1 183.8,351.7 187.1,347.3 192.5,346.5 189.2,350.8 185.9,355.2" fill="#f6e5da" stroke="#f6e5da" stroke-width="0.5"/>
<polygon points="187.1,347.3 190.4,343.1 193.7,339.2 199.2,338.7 195.8,342.5 192.5,346.5" fill="#f6e5da" stroke="#f6e5da" stroke-width="0.5"/>
<polygon points="193.7,339.2 197.1,335.5 200.4,332.1 205.8,332 202.5,335.2 199.2,338.7" fill="#f6e5da" stroke="#f6e5da" stroke-width="0.5"/>
<polygon points="200.4,332.1 203.7,329.2 207.1,327.2 212.5,328.7 209.2,329.4 205.8,332" fill="#f5dfd3" stroke="#f5dfd3" stroke-width="0.5"/>
<polygon points="207.1,327.2 210.4,327.2 213.7,327.8 219.2,329.6 215.8,329.2 212.5,328.7" fill="#f2cdbe" stroke="#f2cdbe" stroke-width="0.5"/>
<polygon points="213.7,327.8 217.1,327.8 220.4,326.5 225.8,326.8 222.5,328.8 219.2,329.6" fill="#f3d4c7" stroke="#f3d4c7" stroke-width="0.5"/>
<polygon points="220.4,326.5 223.7,323.9 227,320.5 232.5,319.7 229.1,323.6 225.8,326.8" fill="#f6e5da" stroke="#f6e5da" stroke-width="0.5"/>
<polygon points="227,320.5 230.4,316.4 233.7,311.7 239.1,310.3 235.8,315.3 232.5,319.7" fill="#f6e5da" stroke="#f6e5da" stroke-width="0.5"/>
<polygon points="233.7,311.7 237,306.5 240.4,300.8 245.8,298.7 242.5,304.7 239.1,310.3" fill="#f6e5da" stroke="#f6e5da" stroke-width="0.5"/>
<polygon points="240.4,300.8 243.7,294.5 247,287.7 252.5,285 249.1,292.1 245.8,298.7" fill="#efe6e0" stroke="#efe6e0" stroke-width="0.5"/>
<polygon points="247,287.7 250.4,280.4 253.7,272.5 259.1,269.3 255.8,277.4 252.5,285" fill="#dee8f0" stroke="#dee8f0" stroke-width="0.5"/>
<polygon points="253.7,272.5 257,264.1 260.3,255.2 265.8,251.5 262.4,260.6 259.1,269.3" fill="#d3e1ed" stroke="#d3e1ed" stroke-width="0.5"/>
<polygon points="260.3,255.2 263.7,245.8 267,235.9 272.4,231.8 269.1,241.9 265.8,251.5" fill="#bfd3e7" stroke="#bfd3e7" stroke-width="0.5"/>
<path d="M133.8 404.1L137.1 401.5L140.5 398.9L143.8 396.3L147.1 393.7L150.5 391.1L153.8 388.3L157.1 385.2L160.4 381.7L163.8 377.9L167.1 373.8L170.4 369.5L173.8 365.1L177.1 360.6L180.4 356.1L183.8 351.7L187.1 347.3L190.4 343.1L193.7 339.2L197.1 335.5L200.4 332.1L203.7 329.2L207.1 327.2L210.4 327.2L213.7 327.8L217.1 327.8L220.4 326.5L223.7 323.9L227 320.5L230.4 316.4L233.7 311.7L237 306.5L240.4 300.8L243.7 294.5L247 287.7L250.4 280.4L253.7 272.5L257 264.1L260.3 255.2L263.7 245.8L267 235.9" fill="none" stroke="#d66868" stroke-width="2" stroke-linejoin="round"/>
<polygon points="139.2,404.3 142.6,401.7 145.9,399.1 151.3,399.2 148,401.8 144.7,404.4" fill="#f6e5da" stroke="#f6e5da" stroke-width="0.5"/>
<polygon points="145.9,399.1 149.2,396.5 152.6,393.9 158,394 154.7,396.6 151.3,399.2" fill="#f6e5da" stroke="#f6e5da" stroke-width="0.5"/>
<polygon points="152.6,393.9 155.9,391.2 159.2,388.3 164.6,388 161.3,391.2 158,394" fill="#f6e5da" stroke="#f6e5da" stroke-width="0.5"/>
<polygon points="159.2,388.3 162.5,384.9 165.9,381.2 171.3,380.6 168,384.4 164.6,388" fill="#f6e5da" stroke="#f6e5da" stroke-width="0.5"/>
<polygon points="165.9,381.2 169.2,377.2 172.5,373 178,372.1 174.6,376.4 171.3,380.6" fill="#f6e5da" stroke="#f6e5da" stroke-width="0.5"/>
<polygon points="172.5,373 175.9,368.6 179.2,364.2 184.6,363.2 181.3,367.7 178,372.1" fill="#f6e5da" stroke="#f6e5da" stroke-width="0.5"/>
<polygon points="179.2,364.2 182.5,359.7 185.9,355.2 191.3,354.3 188,358.7 184.6,363.2" fill="#f6e5da" stroke="#f6e5da" stroke-width="0.5"/>
<polygon points="185.9,355.2 189.2,350.8 192.5,346.5 197.9,345.8 194.6,350 191.3,354.3" fill="#f6e5da" stroke="#f6e5da" stroke-width="0.5"/>
<polygon points="192.5,346.5 195.8,342.5 199.2,338.7 204.6,338.3 201.3,341.9 197.9,345.8" fill="#f6e5da" stroke="#f6e5da" stroke-width="0.5"/>
<polygon points="199.2,338.7 202.5,335.2 205.8,332 211.3,332.1 207.9,335 204.6,338.3" fill="#f6e5da" stroke="#f6e5da" stroke-width="0.5"/>
<polygon points="205.8,332 209.2,329.4 212.5,328.7 217.9,330.7 214.6,330.5 211.3,332.1" fill="#f3d6c8" stroke="#f3d6c8" stroke-width="0.5"/>
<polygon points="212.5,328.7 215.8,329.2 219.2,329.6 224.6,331 221.3,331.2 217.9,330.7" fill="#f2cdbe" stroke="#f2cdbe" stroke-width="0.5"/>
<polygon points="219.2,329.6 222.5,328.8 225.8,326.8 231.2,326.7 227.9,329.4 224.6,331" fill="#f5dcd0" stroke="#f5dcd0" stroke-width="0.5"/>
<polygon points="225.8,326.8 229.1,323.6 232.5,319.7 237.9,318.8 234.6,323.1 231.2,326.7" fill="#f6e5da" stroke="#f6e5da" stroke-width="0.5"/>
<polygon points="232.5,319.7 235.8,315.3 239.1,310.3 244.6,308.7 241.2,314 237.9,318.8" fill="#f6e5da" stroke="#f6e5da" stroke-width="0.5"/>
<polygon points="239.1,310.3 242.5,304.7 245.8,298.7 251.2,296.5 247.9,302.9 244.6,308.7" fill="#f6e5da" stroke="#f6e5da" stroke-width="0.5"/>
<polygon points="245.8,298.7 249.1,292.1 252.5,285 257.9,282.3 254.6,289.7 251.2,296.5" fill="#eee6e2" stroke="#eee6e2" stroke-width="0.5"/>
<polygon points="252.5,285 255.8,277.4 259.1,269.3 264.5,266.1 261.2,274.5 257.9,282.3" fill="#dee8f0" stroke="#dee8f0" stroke-width="0.5"/>
<polygon points="259.1,269.3 262.4,260.6 265.8,251.5 271.2,247.9 267.9,257.3 264.5,266.1" fill="#cfdeeb" stroke="#cfdeeb" stroke-width="0.5"/>
<polygon points="265.8,251.5 269.1,241.9 272.4,231.8 277.9,227.9 274.5,238.2 271.2,247.9" fill="#bcd1e5" stroke="#bcd1e5" stroke-width="0.5"/>
<path d="M139.2 404.3L142.6 401.7L145.9 399.1L149.2 396.5L152.6 393.9L155.9 391.2L159.2 388.3L162.5 384.9L165.9 381.2L169.2 377.2L172.5 373L175.9 368.6L179.2 364.2L182.5 359.7L185.9 355.2L189.2 350.8L192.5 346.5L195.8 342.5L199.2 338.7L202.5 335.2L205.8 332L209.2 329.4L212.5 328.7L215.8 329.2L219.2 329.6L222.5 328.8L225.8 326.8L229.1 323.6L232.5 319.7L235.8 315.3L239.1 310.3L242.5 304.7L245.8 298.7L249.1 292.1L252.5 285L255.8 277.4L259.1 269.3L262.4 260.6L265.8 251.5L269.1 241.9L272.4 231.8" fill="none" stroke="#d66868" stroke-width="2" stroke-linejoin="round"/>
<polygon points="144.7,404.4 148,401.8 151.3,399.2 156.8,399.4 153.4,402 150.1,404.6" fill="#f6e5da" stroke="#f6e5da" stroke-width="0.5"/>
<polygon points="151.3,399.2 154.7,396.6 158,394 163.4,394.1 160.1,396.8 156.8,399.4" fill="#f6e5da" stroke="#f6e5da" stroke-width="0.5"/>
<polygon points="158,394 161.3,391.2 164.6,388 170.1,387.7 166.7,391.1 163.4,394.1" fill="#f6e5da" stroke="#f6e5da" stroke-width="0.5"/>
<polygon points="164.6,388 168,384.4 171.3,380.6 176.7,379.9 173.4,383.9 170.1,387.7" fill="#f6e5da" stroke="#f6e5da" stroke-width="0.5"/>
<polygon points="171.3,380.6 174.6,376.4 178,372.1 183.4,371.3 180.1,375.6 176.7,379.9" fill="#f6e5da" stroke="#f6e5da" stroke-width="0.5"/>
<polygon points="178,372.1 181.3,367.7 184.6,363.2 190.1,362.3 186.7,366.8 183.4,371.3" fill="#f6e5da" stroke="#f6e5da" stroke-width="0.5"/>
<polygon points="184.6,363.2 188,358.7 191.3,354.3 196.7,353.5 193.4,357.8 190.1,362.3" fill="#f6e5da" stroke="#f6e5da" stroke-width="0.5"/>
<polygon points="191.3,354.3 194.6,350 197.9,345.8 203.4,345.2 200,349.2 196.7,353.5" fill="#f6e5da" stroke="#f6e5da" stroke-width="0.5"/>
<polygon points="197.9,345.8 201.3,341.9 204.6,338.3 210,338 206.7,341.4 203.4,345.2" fill="#f6e5da" stroke="#f6e5da" stroke-width="0.5"/>
<polygon points="204.6,338.3 207.9,335 211.3,332.1 216.7,332.5 213.4,334.9 210,338" fill="#f6e5da" stroke="#f6e5da" stroke-width="0.5"/>
<polygon points="211.3,332.1 214.6,330.5 217.9,330.7 223.4,332.7 220,332.1 216.7,332.5" fill="#f2cdbe" stroke="#f2cdbe" stroke-width="0.5"/>
<polygon points="217.9,330.7 221.3,331.2 224.6,331 230,331.9 226.7,332.9 223.4,332.7" fill="#f2cdbe" stroke="#f2cdbe" stroke-width="0.5"/>
<polygon points="224.6,331 227.9,329.4 231.2,326.7 236.7,326.3 233.3,329.6 230,331.9" fill="#f6e4d9" stroke="#f6e4d9" stroke-width="0.5"/>
<polygon points="231.2,326.7 234.6,323.1 237.9,318.8 243.3,317.7 240,322.3 236.7,326.3" fill="#f6e5da" stroke="#f6e5da" stroke-width="0.5"/>
<polygon points="237.9,318.8 241.2,314 244.6,308.7 250,307.1 246.7,312.6 243.3,317.7" fill="#f6e5da" stroke="#f6e5da" stroke-width="0.5"/>
<polygon points="244.6,308.7 247.9,302.9 251.2,296.5 256.7,294.4 253.3,301 250,307.1" fill="#f6e5da" stroke="#f6e5da" stroke-width="0.5"/>
<polygon points="251.2,296.5 254.6,289.7 257.9,282.3 263.3,279.7 260,287.3 256.7,294.4" fill="#ece6e3" stroke="#ece6e3" stroke-width="0.5"/>
<polygon points="257.9,282.3 261.2,274.5 264.5,266.1 270,263 266.6,271.6 263.3,279.7" fill="#dee8f0" stroke="#dee8f0" stroke-width="0.5"/>
<polygon points="264.5,266.1 267.9,257.3 271.2,247.9 276.6,244.6 273.3,254 270,263" fill="#cbdbea" stroke="#cbdbea" stroke-width="0.5"/>
<polygon points="271.2,247.9 274.5,238.2 277.9,227.9 283.3,224.3 280,234.7 276.6,244.6" fill="#b9cfe5" stroke="#b9cfe5" stroke-width="0.5"/>
<path d="M144.7 404.4L148 401.8L151.3 399.2L154.7 396.6L158 394L161.3 391.2L164.6 388L168 384.4L171.3 380.6L174.6 376.4L178 372.1L181.3 367.7L184.6 363.2L188 358.7L191.3 354.3L194.6 350L197.9 345.8L201.3 341.9L204.6 338.3L207.9 335L211.3 332.1L214.6 330.5L217.9 330.7L221.3 331.2L224.6 331L227.9 329.4L231.2 326.7L234.6 323.1L237.9 318.8L241.2 314L244.6 308.7L247.9 302.9L251.2 296.5L254.6 289.7L257.9 282.3L261.2 274.5L264.5 266.1L267.9 257.3L271.2 247.9L274.5 238.2L277.9 227.9" fill="none" stroke="#d66868" stroke-width="2" stroke-linejoin="round"/>
<polygon points="150.1,404.6 153.4,402 156.8,399.4 162.2,399.6 158.9,402.2 155.5,404.8" fill="#f6e5da" stroke="#f6e5da" stroke-width="0.5"/>
<polygon points="156.8,399.4 160.1,396.8 163.4,394.1 168.8,394.1 165.5,397 162.2,399.6" fill="#f6e5da" stroke="#f6e5da" stroke-width="0.5"/>
<polygon points="163.4,394.1 166.7,391.1 170.1,387.7 175.5,387.1 172.2,390.8 168.8,394.1" fill="#f6e5da" stroke="#f6e5da" stroke-width="0.5"/>
<polygon points="170.1,387.7 173.4,383.9 176.7,379.9 182.2,379 178.8,383.2 175.5,387.1" fill="#f6e5da" stroke="#f6e5da" stroke-width="0.5"/>
<polygon points="176.7,379.9 180.1,375.6 183.4,371.3 188.8,370.3 185.5,374.7 182.2,379" fill="#f6e5da" stroke="#f6e5da" stroke-width="0.5"/>
<polygon points="183.4,371.3 186.7,366.8 190.1,362.3 195.5,361.3 192.2,365.8 188.8,370.3" fill="#f6e5da" stroke="#f6e5da" stroke-width="0.5"/>
<polygon points="190.1,362.3 193.4,357.8 196.7,353.5 202.1,352.6 198.8,356.9 195.5,361.3" fill="#f6e5da" stroke="#f6e5da" stroke-width="0.5"/>
<polygon points="196.7,353.5 200,349.2 203.4,345.2 208.8,344.6 205.5,348.5 202.1,352.6" fill="#f6e5da" stroke="#f6e5da" stroke-width="0.5"/>
<polygon points="203.4,345.2 206.7,341.4 210,338 215.5,337.8 212.1,341 208.8,344.6" fill="#f6e5da" stroke="#f6e5da" stroke-width="0.5"/>
<polygon points="210,338 213.4,334.9 216.7,332.5 222.1,333.9 218.8,335 215.5,337.8" fill="#f6e2d7" stroke="#f6e2d7" stroke-width="0.5"/>
<polygon points="216.7,332.5 220,332.1 223.4,332.7 228.8,334.7 225.5,334.3 222.1,333.9" fill="#f2cdbe" stroke="#f2cdbe" stroke-width="0.5"/>
<polygon points="223.4,332.7 226.7,332.9 230,331.9 235.4,332.4 232.1,334.2 228.8,334.7" fill="#f3d2c4" stroke="#f3d2c4" stroke-width="0.5"/>
<polygon points="230,331.9 233.3,329.6 236.7,326.3 242.1,325.7 238.8,329.4 235.4,332.4" fill="#f6e5da" stroke="#f6e5da" stroke-width="0.5"/>
<polygon points="236.7,326.3 240,322.3 243.3,317.7 248.8,316.5 245.4,321.4 242.1,325.7" fill="#f6e5da" stroke="#f6e5da" stroke-width="0.5"/>
<polygon points="243.3,317.7 246.7,312.6 250,307.1 255.4,305.3 252.1,311.1 248.8,316.5" fill="#f6e5da" stroke="#f6e5da" stroke-width="0.5"/>
<polygon points="250,307.1 253.3,301 256.7,294.4 262.1,292.1 258.8,298.9 255.4,305.3" fill="#f6e5da" stroke="#f6e5da" stroke-width="0.5"/>
<polygon points="256.7,294.4 260,287.3 263.3,279.7 268.7,276.9 265.4,284.8 262.1,292.1" fill="#eae6e5" stroke="#eae6e5" stroke-width="0.5"/>
<polygon points="263.3,279.7 266.6,271.6 270,263 275.4,260 272.1,268.7 268.7,276.9" fill="#dae6ef" stroke="#dae6ef" stroke-width="0.5"/>
<polygon points="270,263 273.3,254 276.6,244.6 282.1,241.2 278.7,250.8 275.4,260" fill="#c8d9e9" stroke="#c8d9e9" stroke-width="0.5"/>
<polygon points="276.6,244.6 280,234.7 283.3,224.3 288.7,220.7 285.4,231.2 282.1,241.2" fill="#b6cde4" stroke="#b6cde4" stroke-width="0.5"/>
<path d="M150.1 404.6L153.4 402L156.8 399.4L160.1 396.8L163.4 394.1L166.7 391.1L170.1 387.7L173.4 383.9L176.7 379.9L180.1 375.6L183.4 371.3L186.7 366.8L190.1 362.3L193.4 357.8L196.7 353.5L200 349.2L203.4 345.2L206.7 341.4L210 338L213.4 334.9L216.7 332.5L220 332.1L223.4 332.7L226.7 332.9L230 331.9L233.3 329.6L236.7 326.3L240 322.3L243.3 317.7L246.7 312.6L250 307.1L253.3 301L256.7 294.4L260 287.3L263.3 279.7L266.6 271.6L270 263L273.3 254L276.6 244.6L280 234.7L283.3 224.3" fill="none" stroke="#d66868" stroke-width="2" stroke-linejoin="round"/>
<polygon points="155.5,404.8 158.9,402.2 162.2,399.6 167.6,399.7 164.3,402.3 161,404.9" fill="#f6e5da" stroke="#f6e5da" stroke-width="0.5"/>
<polygon points="162.2,399.6 165.5,397 168.8,394.1 174.3,393.7 170.9,396.9 167.6,399.7" fill="#f6e5da" stroke="#f6e5da" stroke-width="0.5"/>
<polygon points="168.8,394.1 172.2,390.8 175.5,387.1 180.9,386.3 177.6,390.2 174.3,393.7" fill="#f6e5da" stroke="#f6e5da" stroke-width="0.5"/>
<polygon points="175.5,387.1 178.8,383.2 182.2,379 187.6,377.9 184.3,382.2 180.9,386.3" fill="#f6e5da" stroke="#f6e5da" stroke-width="0.5"/>
<polygon points="182.2,379 185.5,374.7 188.8,370.3 194.3,369 190.9,373.5 187.6,377.9" fill="#f6e5da" stroke="#f6e5da" stroke-width="0.5"/>
<polygon points="188.8,370.3 192.2,365.8 195.5,361.3 200.9,360.1 197.6,364.5 194.3,369" fill="#f6e5da" stroke="#f6e5da" stroke-width="0.5"/>
<polygon points="195.5,361.3 198.8,356.9 202.1,352.6 207.6,351.6 204.2,355.7 200.9,360.1" fill="#f6e5da" stroke="#f6e5da" stroke-width="0.5"/>
<polygon points="202.1,352.6 205.5,348.5 208.8,344.6 214.2,344 210.9,347.6 207.6,351.6" fill="#f6e5da" stroke="#f6e5da" stroke-width="0.5"/>
<polygon points="208.8,344.6 212.1,341 215.5,337.8 220.9,337.7 217.6,340.6 214.2,344" fill="#f6e5da" stroke="#f6e5da" stroke-width="0.5"/>
<polygon points="215.5,337.8 218.8,335 222.1,333.9 227.6,336 224.2,335.9 220.9,337.7" fill="#f4d8cb" stroke="#f4d8cb" stroke-width="0.5"/>
<polygon points="222.1,333.9 225.5,334.3 228.8,334.7 234.2,336.2 230.9,336.5 227.6,336" fill="#f2cdbe" stroke="#f2cdbe" stroke-width="0.5"/>
<polygon points="228.8,334.7 232.1,334.2 235.4,332.4 240.9,331.6 237.5,334.5 234.2,336.2" fill="#f4dccf" stroke="#f4dccf" stroke-width="0.5"/>
<polygon points="235.4,332.4 238.8,329.4 242.1,325.7 247.5,323.6 244.2,327.9 240.9,331.6" fill="#f6e5da" stroke="#f6e5da" stroke-width="0.5"/>
<polygon points="242.1,325.7 245.4,321.4 248.8,316.5 254.2,313.5 250.9,318.7 247.5,323.6" fill="#f6e5da" stroke="#f6e5da" stroke-width="0.5"/>
<polygon points="248.8,316.5 252.1,311.1 255.4,305.3 260.9,301.7 257.5,307.8 254.2,313.5" fill="#f6e5da" stroke="#f6e5da" stroke-width="0.5"/>
<polygon points="255.4,305.3 258.8,298.9 262.1,292.1 267.5,288.4 264.2,295.3 260.9,301.7" fill="#f6e5da" stroke="#f6e5da" stroke-width="0.5"/>
<polygon points="262.1,292.1 265.4,284.8 268.7,276.9 274.2,273.8 270.8,281.3 267.5,288.4" fill="#e8e7e7" stroke="#e8e7e7" stroke-width="0.5"/>
<polygon points="268.7,276.9 272.1,268.7 275.4,260 280.8,257.8 277.5,265.9 274.2,273.8" fill="#dee8f0" stroke="#dee8f0" stroke-width="0.5"/>
<polygon points="275.4,260 278.7,250.8 282.1,241.2 287.5,240.7 284.2,249.4 280.8,257.8" fill="#cfdeeb" stroke="#cfdeeb" stroke-width="0.5"/>
<polygon points="282.1,241.2 285.4,231.2 288.7,220.7 294.2,222.5 290.8,231.7 287.5,240.7" fill="#c1d4e7" stroke="#c1d4e7" stroke-width="0.5"/>
<path d="M155.5 404.8L158.9 402.2L162.2 399.6L165.5 397L168.8 394.1L172.2 390.8L175.5 387.1L178.8 383.2L182.2 379L185.5 374.7L188.8 370.3L192.2 365.8L195.5 361.3L198.8 356.9L202.1 352.6L205.5 348.5L208.8 344.6L212.1 341L215.5 337.8L218.8 335L222.1 333.9L225.5 334.3L228.8 334.7L232.1 334.2L235.4 332.4L238.8 329.4L242.1 325.7L245.4 321.4L248.8 316.5L252.1 311.1L255.4 305.3L258.8 298.9L262.1 292.1L265.4 284.8L268.7 276.9L272.1 268.7L275.4 260L278.7 250.8L282.1 241.2L285.4 231.2L288.7 220.7" fill="none" stroke="#d66868" stroke-width="2" stroke-linejoin="round"/>
<polygon points="161,404.9 164.3,402.3 167.6,399.7 173,399.8 169.7,402.5 166.4,405.1" fill="#f6e5da" stroke="#f6e5da" stroke-width="0.5"/>
<polygon points="167.6,399.7 170.9,396.9 174.3,393.7 179.7,393.3 176.4,396.7 173,399.8" fill="#f6e5da" stroke="#f6e5da" stroke-width="0.5"/>
<polygon points="174.3,393.7 177.6,390.2 180.9,386.3 186.4,385.7 183,389.7 179.7,393.3" fill="#f6e5da" stroke="#f6e5da" stroke-width="0.5"/>
<polygon points="180.9,386.3 184.3,382.2 187.6,377.9 193,377.4 189.7,381.6 186.4,385.7" fill="#f6e5da" stroke="#f6e5da" stroke-width="0.5"/>
<polygon points="187.6,377.9 190.9,373.5 194.3,369 199.7,368.8 196.4,373.1 193,377.4" fill="#f6e5da" stroke="#f6e5da" stroke-width="0.5"/>
<polygon points="194.3,369 197.6,364.5 200.9,360.1 206.3,360.3 203,364.5 199.7,368.8" fill="#f6e5da" stroke="#f6e5da" stroke-width="0.5"/>
<polygon points="200.9,360.1 204.2,355.7 207.6,351.6 213,352.3 209.7,356.2 206.3,360.3" fill="#f6e5da" stroke="#f6e5da" stroke-width="0.5"/>
<polygon points="207.6,351.6 210.9,347.6 214.2,344 219.7,345.2 216.3,348.6 213,352.3" fill="#f6e5da" stroke="#f6e5da" stroke-width="0.5"/>
<polygon points="214.2,344 217.6,340.6 220.9,337.7 226.3,339.7 223,342.1 219.7,345.2" fill="#f6e5da" stroke="#f6e5da" stroke-width="0.5"/>
<polygon points="220.9,337.7 224.2,335.9 227.6,336 233,339 229.7,339 226.3,339.7" fill="#f2d0c1" stroke="#f2d0c1" stroke-width="0.5"/>
<polygon points="227.6,336 230.9,336.5 234.2,336.2 239.6,336.6 236.3,338.4 233,339" fill="#f2cfc0" stroke="#f2cfc0" stroke-width="0.5"/>
<polygon points="234.2,336.2 237.5,334.5 240.9,331.6 246.3,329.7 243,333.6 239.6,336.6" fill="#f6e5da" stroke="#f6e5da" stroke-width="0.5"/>
<polygon points="240.9,331.6 244.2,327.9 247.5,323.6 253,320.3 249.6,325.2 246.3,329.7" fill="#f6e5da" stroke="#f6e5da" stroke-width="0.5"/>
<polygon points="247.5,323.6 250.9,318.7 254.2,313.5 259.6,309.3 256.3,315 253,320.3" fill="#f6e5da" stroke="#f6e5da" stroke-width="0.5"/>
<polygon points="254.2,313.5 257.5,307.8 260.9,301.7 266.3,297.3 263,303.4 259.6,309.3" fill="#f6e5da" stroke="#f6e5da" stroke-width="0.5"/>
<polygon points="260.9,301.7 264.2,295.3 267.5,288.4 272.9,284.3 269.6,290.9 266.3,297.3" fill="#f6e5da" stroke="#f6e5da" stroke-width="0.5"/>
<polygon points="267.5,288.4 270.8,281.3 274.2,273.8 279.6,270.5 276.3,277.5 272.9,284.3" fill="#e5e7e9" stroke="#e5e7e9" stroke-width="0.5"/>
<polygon points="274.2,273.8 277.5,265.9 280.8,257.8 286.3,256.1 282.9,263.4 279.6,270.5" fill="#dee8f0" stroke="#dee8f0" stroke-width="0.5"/>
<polygon points="280.8,257.8 284.2,249.4 287.5,240.7 292.9,241.1 289.6,248.7 286.3,256.1" fill="#dee8f0" stroke="#dee8f0" stroke-width="0.5"/>
<polygon points="287.5,240.7 290.8,231.7 294.2,222.5 299.6,225.6 296.3,233.4 292.9,241.1" fill="#dae5ef" stroke="#dae5ef" stroke-width="0.5"/>
<path d="M161 404.9L164.3 402.3L167.6 399.7L170.9 396.9L174.3 393.7L177.6 390.2L180.9 386.3L184.3 382.2L187.6 377.9L190.9 373.5L194.3 369L197.6 364.5L200.9 360.1L204.2 355.7L207.6 351.6L210.9 347.6L214.2 344L217.6 340.6L220.9 337.7L224.2 335.9L227.6 336L230.9 336.5L234.2 336.2L237.5 334.5L240.9 331.6L244.2 327.9L247.5 323.6L250.9 318.7L254.2 313.5L257.5 307.8L260.9 301.7L264.2 295.3L267.5 288.4L270.8 281.3L274.2 273.8L277.5 265.9L280.8 257.8L284.2 249.4L287.5 240.7L290.8 231.7L294.2 222.5" fill="none" stroke="#d66868" stroke-width="2" stroke-linejoin="round"/>
<polygon points="166.4,405.1 169.7,402.5 173,399.8 178.5,399.6 175.1,402.6 171.8,405.2" fill="#f6e5da" stroke="#f6e5da" stroke-width="0.5"/>
<polygon points="173,399.8 176.4,396.7 179.7,393.3 185.1,392.9 181.8,396.4 178.5,399.6" fill="#f6e5da" stroke="#f6e5da" stroke-width="0.5"/>
<polygon points="179.7,393.3 183,389.7 186.4,385.7 191.8,385.4 188.5,389.3 185.1,392.9" fill="#f6e5da" stroke="#f6e5da" stroke-width="0.5"/>
<polygon points="186.4,385.7 189.7,381.6 193,377.4 198.5,377.3 195.1,381.4 191.8,385.4" fill="#f6e5da" stroke="#f6e5da" stroke-width="0.5"/>
<polygon points="193,377.4 196.4,373.1 199.7,368.8 205.1,369.2 201.8,373.2 198.5,377.3" fill="#f6e5da" stroke="#f6e5da" stroke-width="0.5"/>
<polygon points="199.7,368.8 203,364.5 206.3,360.3 211.8,361.2 208.4,365.1 205.1,369.2" fill="#f6e5da" stroke="#f6e5da" stroke-width="0.5"/>
<polygon points="206.3,360.3 209.7,356.2 213,352.3 218.4,353.8 215.1,357.4 211.8,361.2" fill="#f6e5da" stroke="#f6e5da" stroke-width="0.5"/>
<polygon points="213,352.3 216.3,348.6 219.7,345.2 225.1,347.2 221.8,350.3 218.4,353.8" fill="#f6e5da" stroke="#f6e5da" stroke-width="0.5"/>
<polygon points="219.7,345.2 223,342.1 226.3,339.7 231.8,342.9 228.4,344.3 225.1,347.2" fill="#f6e3d8" stroke="#f6e3d8" stroke-width="0.5"/>
<polygon points="226.3,339.7 229.7,339 233,339 238.4,341.3 235.1,342.3 231.8,342.9" fill="#f2cfc0" stroke="#f2cfc0" stroke-width="0.5"/>
<polygon points="233,339 236.3,338.4 239.6,336.6 245.1,336.3 241.7,339.4 238.4,341.3" fill="#f5ddd1" stroke="#f5ddd1" stroke-width="0.5"/>
<polygon points="239.6,336.6 243,333.6 246.3,329.7 251.7,327.7 248.4,332.3 245.1,336.3" fill="#f6e5da" stroke="#f6e5da" stroke-width="0.5"/>
<polygon points="246.3,329.7 249.6,325.2 253,320.3 258.4,317.2 255.1,322.6 251.7,327.7" fill="#f6e5da" stroke="#f6e5da" stroke-width="0.5"/>
<polygon points="253,320.3 256.3,315 259.6,309.3 265.1,305.7 261.7,311.6 258.4,317.2" fill="#f6e5da" stroke="#f6e5da" stroke-width="0.5"/>
<polygon points="259.6,309.3 263,303.4 266.3,297.3 271.7,293.3 268.4,299.6 265.1,305.7" fill="#f6e5da" stroke="#f6e5da" stroke-width="0.5"/>
<polygon points="266.3,297.3 269.6,290.9 272.9,284.3 278.4,280.3 275,286.9 271.7,293.3" fill="#f6e5da" stroke="#f6e5da" stroke-width="0.5"/>
<polygon points="272.9,284.3 276.3,277.5 279.6,270.5 285,266.8 281.7,273.6 278.4,280.3" fill="#e3e7ec" stroke="#e3e7ec" stroke-width="0.5"/>
<polygon points="279.6,270.5 282.9,263.4 286.3,256.1 291.7,253 288.4,260 285,266.8" fill="#dee8f0" stroke="#dee8f0" stroke-width="0.5"/>
<polygon points="286.3,256.1 289.6,248.7 292.9,241.1 298.4,238.8 295,245.9 291.7,253" fill="#dee8f0" stroke="#dee8f0" stroke-width="0.5"/>
<polygon points="292.9,241.1 296.3,233.4 299.6,225.6 305,224.3 301.7,231.6 298.4,238.8" fill="#dee8f0" stroke="#dee8f0" stroke-width="0.5"/>
<path d="M166.4 405.1L169.7 402.5L173 399.8L176.4 396.7L179.7 393.3L183 389.7L186.4 385.7L189.7 381.6L193 377.4L196.4 373.1L199.7 368.8L203 364.5L206.3 360.3L209.7 356.2L213 352.3L216.3 348.6L219.7 345.2L223 342.1L226.3 339.7L229.7 339L233 339L236.3 338.4L239.6 336.6L243 333.6L246.3 329.7L249.6 325.2L253 320.3L256.3 315L259.6 309.3L263 303.4L266.3 297.3L269.6 290.9L272.9 284.3L276.3 277.5L279.6 270.5L282.9 263.4L286.3 256.1L289.6 248.7L292.9 241.1L296.3 233.4L299.6 225.6" fill="none" stroke="#d66868" stroke-width="2" stroke-linejoin="round"/>
<polygon points="171.8,405.2 175.1,402.6 178.5,399.6 183.9,399.4 180.6,402.5 177.2,405.3" fill="#f6e5da" stroke="#f6e5da" stroke-width="0.5"/>
<polygon points="178.5,399.6 181.8,396.4 185.1,392.9 190.6,392.7 187.2,396.1 183.9,399.4" fill="#f6e5da" stroke="#f6e5da" stroke-width="0.5"/>
<polygon points="185.1,392.9 188.5,389.3 191.8,385.4 197.2,385.3 193.9,389 190.6,392.7" fill="#f6e5da" stroke="#f6e5da" stroke-width="0.5"/>
<polygon points="191.8,385.4 195.1,381.4 198.5,377.3 203.9,377.6 200.6,381.4 197.2,385.3" fill="#f6e5da" stroke="#f6e5da" stroke-width="0.5"/>
<polygon points="198.5,377.3 201.8,373.2 205.1,369.2 210.5,369.9 207.2,373.7 203.9,377.6" fill="#f6e5da" stroke="#f6e5da" stroke-width="0.5"/>
<polygon points="205.1,369.2 208.4,365.1 211.8,361.2 217.2,362.5 213.9,366.1 210.5,369.9" fill="#f6e5da" stroke="#f6e5da" stroke-width="0.5"/>
<polygon points="211.8,361.2 215.1,357.4 218.4,353.8 223.9,355.6 220.5,359 217.2,362.5" fill="#f6e5da" stroke="#f6e5da" stroke-width="0.5"/>
<polygon points="218.4,353.8 221.8,350.3 225.1,347.2 230.5,349.4 227.2,352.4 223.9,355.6" fill="#f6e5da" stroke="#f6e5da" stroke-width="0.5"/>
<polygon points="225.1,347.2 228.4,344.3 231.8,342.9 237.2,346.2 233.9,347.4 230.5,349.4" fill="#f5ddd1" stroke="#f5ddd1" stroke-width="0.5"/>
<polygon points="231.8,342.9 235.1,342.3 238.4,341.3 243.8,343 240.5,345 237.2,346.2" fill="#f3d6c8" stroke="#f3d6c8" stroke-width="0.5"/>
<polygon points="238.4,341.3 241.7,339.4 245.1,336.3 250.5,335.9 247.2,339.9 243.8,343" fill="#f6e5da" stroke="#f6e5da" stroke-width="0.5"/>
<polygon points="245.1,336.3 248.4,332.3 251.7,327.7 257.2,326.2 253.8,331.3 250.5,335.9" fill="#f6e5da" stroke="#f6e5da" stroke-width="0.5"/>
<polygon points="251.7,327.7 255.1,322.6 258.4,317.2 263.8,315.1 260.5,320.8 257.2,326.2" fill="#f6e5da" stroke="#f6e5da" stroke-width="0.5"/>
<polygon points="258.4,317.2 261.7,311.6 265.1,305.7 270.5,302.9 267.2,309.1 263.8,315.1" fill="#f6e5da" stroke="#f6e5da" stroke-width="0.5"/>
<polygon points="265.1,305.7 268.4,299.6 271.7,293.3 277.1,289.9 273.8,296.5 270.5,302.9" fill="#f6e5da" stroke="#f6e5da" stroke-width="0.5"/>
<polygon points="271.7,293.3 275,286.9 278.4,280.3 283.8,276.4 280.5,283.2 277.1,289.9" fill="#f4e5dc" stroke="#f4e5dc" stroke-width="0.5"/>
<polygon points="278.4,280.3 281.7,273.6 285,266.8 290.5,262.4 287.1,269.5 283.8,276.4" fill="#e0e8ee" stroke="#e0e8ee" stroke-width="0.5"/>
<polygon points="285,266.8 288.4,260 291.7,253 297.1,248 293.8,255.3 290.5,262.4" fill="#dee8f0" stroke="#dee8f0" stroke-width="0.5"/>
<polygon points="291.7,253 295,245.9 298.4,238.8 303.8,233.4 300.5,240.7 297.1,248" fill="#dee8f0" stroke="#dee8f0" stroke-width="0.5"/>
<polygon points="298.4,238.8 301.7,231.6 305,224.3 310.4,218.4 307.1,225.9 303.8,233.4" fill="#dee8f0" stroke="#dee8f0" stroke-width="0.5"/>
<path d="M171.8 405.2L175.1 402.6L178.5 399.6L181.8 396.4L185.1 392.9L188.5 389.3L191.8 385.4L195.1 381.4L198.5 377.3L201.8 373.2L205.1 369.2L208.4 365.1L211.8 361.2L215.1 357.4L218.4 353.8L221.8 350.3L225.1 347.2L228.4 344.3L231.8 342.9L235.1 342.3L238.4 341.3L241.7 339.4L245.1 336.3L248.4 332.3L251.7 327.7L255.1 322.6L258.4 317.2L261.7 311.6L265.1 305.7L268.4 299.6L271.7 293.3L275 286.9L278.4 280.3L281.7 273.6L285 266.8L288.4 260L291.7 253L295 245.9L298.4 238.8L301.7 231.6L305 224.3" fill="none" stroke="#d66868" stroke-width="2" stroke-linejoin="round"/>
<polygon points="177.2,405.3 180.6,402.5 183.9,399.4 189.3,399.2 186,402.3 182.7,405.2" fill="#f6e5da" stroke="#f6e5da" stroke-width="0.5"/>
<polygon points="183.9,399.4 187.2,396.1 190.6,392.7 196,392.5 192.7,395.9 189.3,399.2" fill="#f6e5da" stroke="#f6e5da" stroke-width="0.5"/>
<polygon points="190.6,392.7 193.9,389 197.2,385.3 202.7,385.4 199.3,389 196,392.5" fill="#f6e5da" stroke="#f6e5da" stroke-width="0.5"/>
<polygon points="197.2,385.3 200.6,381.4 203.9,377.6 209.3,378.1 206,381.8 202.7,385.4" fill="#f6e5da" stroke="#f6e5da" stroke-width="0.5"/>
<polygon points="203.9,377.6 207.2,373.7 210.5,369.9 216,371 212.6,374.5 209.3,378.1" fill="#f6e5da" stroke="#f6e5da" stroke-width="0.5"/>
<polygon points="210.5,369.9 213.9,366.1 217.2,362.5 222.6,364.1 219.3,367.5 216,371" fill="#f6e5da" stroke="#f6e5da" stroke-width="0.5"/>
<polygon points="217.2,362.5 220.5,359 223.9,355.6 229.3,357.6 226,360.8 222.6,364.1" fill="#f6e5da" stroke="#f6e5da" stroke-width="0.5"/>
<polygon points="223.9,355.6 227.2,352.4 230.5,349.4 236,352.1 232.6,354.6 229.3,357.6" fill="#f6e5da" stroke="#f6e5da" stroke-width="0.5"/>
<polygon points="230.5,349.4 233.9,347.4 237.2,346.2 242.6,348.9 239.3,350.4 236,352.1" fill="#f4dacd" stroke="#f4dacd" stroke-width="0.5"/>
<polygon points="237.2,346.2 240.5,345 243.8,343 249.3,343.6 245.9,346.7 242.6,348.9" fill="#f5e0d4" stroke="#f5e0d4" stroke-width="0.5"/>
<polygon points="243.8,343 247.2,339.9 250.5,335.9 255.9,335 252.6,339.6 249.3,343.6" fill="#f6e5da" stroke="#f6e5da" stroke-width="0.5"/>
<polygon points="250.5,335.9 253.8,331.3 257.2,326.2 262.6,324.5 259.3,330 255.9,335" fill="#f6e5da" stroke="#f6e5da" stroke-width="0.5"/>
<polygon points="257.2,326.2 260.5,320.8 263.8,315.1 269.3,312.6 265.9,318.7 262.6,324.5" fill="#f6e5da" stroke="#f6e5da" stroke-width="0.5"/>
<polygon points="263.8,315.1 267.2,309.1 270.5,302.9 275.9,299.9 272.6,306.4 269.3,312.6" fill="#f6e5da" stroke="#f6e5da" stroke-width="0.5"/>
<polygon points="270.5,302.9 273.8,296.5 277.1,289.9 282.6,286.4 279.2,293.2 275.9,299.9" fill="#f6e5da" stroke="#f6e5da" stroke-width="0.5"/>
<polygon points="277.1,289.9 280.5,283.2 283.8,276.4 289.2,272.3 285.9,279.4 282.6,286.4" fill="#f1e6de" stroke="#f1e6de" stroke-width="0.5"/>
<polygon points="283.8,276.4 287.1,269.5 290.5,262.4 295.9,257.9 292.6,265.2 289.2,272.3" fill="#dee8f0" stroke="#dee8f0" stroke-width="0.5"/>
<polygon points="290.5,262.4 293.8,255.3 297.1,248 302.6,243.1 299.2,250.5 295.9,257.9" fill="#dee8f0" stroke="#dee8f0" stroke-width="0.5"/>
<polygon points="297.1,248 300.5,240.7 303.8,233.4 309.2,227.9 305.9,235.5 302.6,243.1" fill="#dee8f0" stroke="#dee8f0" stroke-width="0.5"/>
<polygon points="303.8,233.4 307.1,225.9 310.4,218.4 315.9,212.5 312.5,220.3 309.2,227.9" fill="#dee8f0" stroke="#dee8f0" stroke-width="0.5"/>
<path d="M177.2 405.3L180.6 402.5L183.9 399.4L187.2 396.1L190.6 392.7L193.9 389L197.2 385.3L200.6 381.4L203.9 377.6L207.2 373.7L210.5 369.9L213.9 366.1L217.2 362.5L220.5 359L223.9 355.6L227.2 352.4L230.5 349.4L233.9 347.4L237.2 346.2L240.5 345L243.8 343L247.2 339.9L250.5 335.9L253.8 331.3L257.2 326.2L260.5 320.8L263.8 315.1L267.2 309.1L270.5 302.9L273.8 296.5L277.1 289.9L280.5 283.2L283.8 276.4L287.1 269.5L290.5 262.4L293.8 255.3L297.1 248L300.5 240.7L303.8 233.4L307.1 225.9L310.4 218.4" fill="none" stroke="#d66868" stroke-width="2" stroke-linejoin="round"/>
<polygon points="182.7,405.2 186,402.3 189.3,399.2 194.8,399.1 191.4,402.2 188.1,405.1" fill="#f6e5da" stroke="#f6e5da" stroke-width="0.5"/>
<polygon points="189.3,399.2 192.7,395.9 196,392.5 201.4,392.6 198.1,395.8 194.8,399.1" fill="#f6e5da" stroke="#f6e5da" stroke-width="0.5"/>
<polygon points="196,392.5 199.3,389 202.7,385.4 208.1,385.8 204.8,389.2 201.4,392.6" fill="#f6e5da" stroke="#f6e5da" stroke-width="0.5"/>
<polygon points="202.7,385.4 206,381.8 209.3,378.1 214.7,379 211.4,382.4 208.1,385.8" fill="#f6e5da" stroke="#f6e5da" stroke-width="0.5"/>
<polygon points="209.3,378.1 212.6,374.5 216,371 221.4,372.3 218.1,375.6 214.7,379" fill="#f6e5da" stroke="#f6e5da" stroke-width="0.5"/>
<polygon points="216,371 219.3,367.5 222.6,364.1 228.1,365.9 224.7,369.1 221.4,372.3" fill="#f6e5da" stroke="#f6e5da" stroke-width="0.5"/>
<polygon points="222.6,364.1 226,360.8 229.3,357.6 234.7,359.8 231.4,362.8 228.1,365.9" fill="#f6e5da" stroke="#f6e5da" stroke-width="0.5"/>
<polygon points="229.3,357.6 232.6,354.6 236,352.1 241.4,354.9 238,357 234.7,359.8" fill="#f6e5da" stroke="#f6e5da" stroke-width="0.5"/>
<polygon points="236,352.1 239.3,350.4 242.6,348.9 248,350.5 244.7,352.9 241.4,354.9" fill="#f5ddd1" stroke="#f5ddd1" stroke-width="0.5"/>
<polygon points="242.6,348.9 245.9,346.7 249.3,343.6 254.7,343.4 251.4,347.3 248,350.5" fill="#f6e5da" stroke="#f6e5da" stroke-width="0.5"/>
<polygon points="249.3,343.6 252.6,339.6 255.9,335 261.4,333.7 258,338.8 254.7,343.4" fill="#f6e5da" stroke="#f6e5da" stroke-width="0.5"/>
<polygon points="255.9,335 259.3,330 262.6,324.5 268,322.4 264.7,328.3 261.4,333.7" fill="#f6e5da" stroke="#f6e5da" stroke-width="0.5"/>
<polygon points="262.6,324.5 265.9,318.7 269.3,312.6 274.7,310 271.4,316.3 268,322.4" fill="#f6e5da" stroke="#f6e5da" stroke-width="0.5"/>
<polygon points="269.3,312.6 272.6,306.4 275.9,299.9 281.3,296.7 278,303.4 274.7,310" fill="#f6e5da" stroke="#f6e5da" stroke-width="0.5"/>
<polygon points="275.9,299.9 279.2,293.2 282.6,286.4 288,282.7 284.7,289.7 281.3,296.7" fill="#f6e5da" stroke="#f6e5da" stroke-width="0.5"/>
<polygon points="282.6,286.4 285.9,279.4 289.2,272.3 294.7,268.2 291.3,275.5 288,282.7" fill="#efe6e1" stroke="#efe6e1" stroke-width="0.5"/>
<polygon points="289.2,272.3 292.6,265.2 295.9,257.9 301.3,253.3 298,260.8 294.7,268.2" fill="#dee8f0" stroke="#dee8f0" stroke-width="0.5"/>
<polygon points="295.9,257.9 299.2,250.5 302.6,243.1 308,238 304.6,245.7 301.3,253.3" fill="#dee8f0" stroke="#dee8f0" stroke-width="0.5"/>
<polygon points="302.6,243.1 305.9,235.5 309.2,227.9 314.6,222.5 311.3,230.3 308,238" fill="#dee8f0" stroke="#dee8f0" stroke-width="0.5"/>
<polygon points="309.2,227.9 312.5,220.3 315.9,212.5 321.3,206.7 318,214.6 314.6,222.5" fill="#dee8f0" stroke="#dee8f0" stroke-width="0.5"/>
<path d="M182.7 405.2L186 402.3L189.3 399.2L192.7 395.9L196 392.5L199.3 389L202.7 385.4L206 381.8L209.3 378.1L212.6 374.5L216 371L219.3 367.5L222.6 364.1L226 360.8L229.3 357.6L232.6 354.6L236 352.1L239.3 350.4L242.6 348.9L245.9 346.7L249.3 343.6L252.6 339.6L255.9 335L259.3 330L262.6 324.5L265.9 318.7L269.3 312.6L272.6 306.4L275.9 299.9L279.2 293.2L282.6 286.4L285.9 279.4L289.2 272.3L292.6 265.2L295.9 257.9L299.2 250.5L302.6 243.1L305.9 235.5L309.2 227.9L312.5 220.3L315.9 212.5" fill="none" stroke="#d66868" stroke-width="2" stroke-linejoin="round"/>
<polygon points="188.1,405.1 191.4,402.2 194.8,399.1 200.2,399.1 196.9,402.1 193.5,405" fill="#f6e5da" stroke="#f6e5da" stroke-width="0.5"/>
<polygon points="194.8,399.1 198.1,395.8 201.4,392.6 206.8,392.9 203.5,396 200.2,399.1" fill="#f6e5da" stroke="#f6e5da" stroke-width="0.5"/>
<polygon points="201.4,392.6 204.8,389.2 208.1,385.8 213.5,386.5 210.2,389.7 206.8,392.9" fill="#f6e5da" stroke="#f6e5da" stroke-width="0.5"/>
<polygon points="208.1,385.8 211.4,382.4 214.7,379 220.2,380.2 216.8,383.4 213.5,386.5" fill="#f6e5da" stroke="#f6e5da" stroke-width="0.5"/>
<polygon points="214.7,379 218.1,375.6 221.4,372.3 226.8,374 223.5,377.1 220.2,380.2" fill="#f6e5da" stroke="#f6e5da" stroke-width="0.5"/>
<polygon points="221.4,372.3 224.7,369.1 228.1,365.9 233.5,367.9 230.2,370.9 226.8,374" fill="#f6e5da" stroke="#f6e5da" stroke-width="0.5"/>
<polygon points="228.1,365.9 231.4,362.8 234.7,359.8 240.1,362 236.8,364.9 233.5,367.9" fill="#f6e5da" stroke="#f6e5da" stroke-width="0.5"/>
<polygon points="234.7,359.8 238,357 241.4,354.9 246.8,357.1 243.5,359.4 240.1,362" fill="#f6e3d8" stroke="#f6e3d8" stroke-width="0.5"/>
<polygon points="241.4,354.9 244.7,352.9 248,350.5 253.5,351.1 250.1,354.4 246.8,357.1" fill="#f6e5da" stroke="#f6e5da" stroke-width="0.5"/>
<polygon points="248,350.5 251.4,347.3 254.7,343.4 260.1,342.5 256.8,347.1 253.5,351.1" fill="#f6e5da" stroke="#f6e5da" stroke-width="0.5"/>
<polygon points="254.7,343.4 258,338.8 261.4,333.7 266.8,332 263.5,337.5 260.1,342.5" fill="#f6e5da" stroke="#f6e5da" stroke-width="0.5"/>
<polygon points="261.4,333.7 264.7,328.3 268,322.4 273.4,320 270.1,326.2 266.8,332" fill="#f6e5da" stroke="#f6e5da" stroke-width="0.5"/>
<polygon points="268,322.4 271.4,316.3 274.7,310 280.1,307 276.8,313.6 273.4,320" fill="#f6e5da" stroke="#f6e5da" stroke-width="0.5"/>
<polygon points="274.7,310 278,303.4 281.3,296.7 286.8,293.2 283.4,300.2 280.1,307" fill="#f6e5da" stroke="#f6e5da" stroke-width="0.5"/>
<polygon points="281.3,296.7 284.7,289.7 288,282.7 293.4,278.8 290.1,286.1 286.8,293.2" fill="#f6e5da" stroke="#f6e5da" stroke-width="0.5"/>
<polygon points="288,282.7 291.3,275.5 294.7,268.2 300.1,264 296.8,271.4 293.4,278.8" fill="#ece6e3" stroke="#ece6e3" stroke-width="0.5"/>
<polygon points="294.7,268.2 298,260.8 301.3,253.3 306.7,248.7 303.4,256.4 300.1,264" fill="#dee8f0" stroke="#dee8f0" stroke-width="0.5"/>
<polygon points="301.3,253.3 304.6,245.7 308,238 313.4,233.1 310.1,241 306.7,248.7" fill="#dee8f0" stroke="#dee8f0" stroke-width="0.5"/>
<polygon points="308,238 311.3,230.3 314.6,222.5 320.1,217.3 316.7,225.2 313.4,233.1" fill="#dee8f0" stroke="#dee8f0" stroke-width="0.5"/>
<polygon points="314.6,222.5 318,214.6 321.3,206.7 326.7,201.1 323.4,209.2 320.1,217.3" fill="#dee8f0" stroke="#dee8f0" stroke-width="0.5"/>
<path d="M188.1 405.1L191.4 402.2L194.8 399.1L198.1 395.8L201.4 392.6L204.8 389.2L208.1 385.8L211.4 382.4L214.7 379L218.1 375.6L221.4 372.3L224.7 369.1L228.1 365.9L231.4 362.8L234.7 359.8L238 357L241.4 354.9L244.7 352.9L248 350.5L251.4 347.3L254.7 343.4L258 338.8L261.4 333.7L264.7 328.3L268 322.4L271.4 316.3L274.7 310L278 303.4L281.3 296.7L284.7 289.7L288 282.7L291.3 275.5L294.7 268.2L298 260.8L301.3 253.3L304.6 245.7L308 238L311.3 230.3L314.6 222.5L318 214.6L321.3 206.7" fill="none" stroke="#d66868" stroke-width="2" stroke-linejoin="round"/>
<polygon points="193.5,405 196.9,402.1 200.2,399.1 205.6,399.3 202.3,402.1 199,405" fill="#f6e5da" stroke="#f6e5da" stroke-width="0.5"/>
<polygon points="200.2,399.1 203.5,396 206.8,392.9 212.3,393.4 208.9,396.4 205.6,399.3" fill="#f6e5da" stroke="#f6e5da" stroke-width="0.5"/>
<polygon points="206.8,392.9 210.2,389.7 213.5,386.5 218.9,387.5 215.6,390.5 212.3,393.4" fill="#f6e5da" stroke="#f6e5da" stroke-width="0.5"/>
<polygon points="213.5,386.5 216.8,383.4 220.2,380.2 225.6,381.7 222.3,384.6 218.9,387.5" fill="#f6e5da" stroke="#f6e5da" stroke-width="0.5"/>
<polygon points="220.2,380.2 223.5,377.1 226.8,374 232.3,375.8 228.9,378.7 225.6,381.7" fill="#f6e5da" stroke="#f6e5da" stroke-width="0.5"/>
<polygon points="226.8,374 230.2,370.9 233.5,367.9 238.9,369.9 235.6,372.8 232.3,375.8" fill="#f6e5da" stroke="#f6e5da" stroke-width="0.5"/>
<polygon points="233.5,367.9 236.8,364.9 240.1,362 245.6,364 242.2,366.9 238.9,369.9" fill="#f6e5da" stroke="#f6e5da" stroke-width="0.5"/>
<polygon points="240.1,362 243.5,359.4 246.8,357.1 252.2,358 248.9,361.1 245.6,364" fill="#f6e5da" stroke="#f6e5da" stroke-width="0.5"/>
<polygon points="246.8,357.1 250.1,354.4 253.5,351.1 258.9,350.3 255.6,354.5 252.2,358" fill="#f6e5da" stroke="#f6e5da" stroke-width="0.5"/>
<polygon points="253.5,351.1 256.8,347.1 260.1,342.5 265.6,340.5 262.2,345.7 258.9,350.3" fill="#f6e5da" stroke="#f6e5da" stroke-width="0.5"/>
<polygon points="260.1,342.5 263.5,337.5 266.8,332 272.2,329.1 268.9,335 265.6,340.5" fill="#f6e5da" stroke="#f6e5da" stroke-width="0.5"/>
<polygon points="266.8,332 270.1,326.2 273.4,320 278.9,316.5 275.5,322.9 272.2,329.1" fill="#f6e5da" stroke="#f6e5da" stroke-width="0.5"/>
<polygon points="273.4,320 276.8,313.6 280.1,307 285.5,302.9 282.2,309.8 278.9,316.5" fill="#f6e5da" stroke="#f6e5da" stroke-width="0.5"/>
<polygon points="280.1,307 283.4,300.2 286.8,293.2 292.2,288.8 288.9,295.9 285.5,302.9" fill="#f6e5da" stroke="#f6e5da" stroke-width="0.5"/>
<polygon points="286.8,293.2 290.1,286.1 293.4,278.8 298.9,274.2 295.5,281.5 292.2,288.8" fill="#f6e5da" stroke="#f6e5da" stroke-width="0.5"/>
<polygon points="293.4,278.8 296.8,271.4 300.1,264 305.5,259.2 302.2,266.7 298.9,274.2" fill="#eae7e5" stroke="#eae7e5" stroke-width="0.5"/>
<polygon points="300.1,264 303.4,256.4 306.7,248.7 312.2,243.9 308.8,251.5 305.5,259.2" fill="#dee8f0" stroke="#dee8f0" stroke-width="0.5"/>
<polygon points="306.7,248.7 310.1,241 313.4,233.1 318.8,228.3 315.5,236.1 312.2,243.9" fill="#dee8f0" stroke="#dee8f0" stroke-width="0.5"/>
<polygon points="313.4,233.1 316.7,225.2 320.1,217.3 325.5,212.5 322.2,220.4 318.8,228.3" fill="#dee8f0" stroke="#dee8f0" stroke-width="0.5"/>
<polygon points="320.1,217.3 323.4,209.2 326.7,201.1 332.2,196.5 328.8,204.5 325.5,212.5" fill="#dee8f0" stroke="#dee8f0" stroke-width="0.5"/>
<path d="M193.5 405L196.9 402.1L200.2 399.1L203.5 396L206.8 392.9L210.2 389.7L213.5 386.5L216.8 383.4L220.2 380.2L223.5 377.1L226.8 374L230.2 370.9L233.5 367.9L236.8 364.9L240.1 362L243.5 359.4L246.8 357.1L250.1 354.4L253.5 351.1L256.8 347.1L260.1 342.5L263.5 337.5L266.8 332L270.1 326.2L273.4 320L276.8 313.6L280.1 307L283.4 300.2L286.8 293.2L290.1 286.1L293.4 278.8L296.8 271.4L300.1 264L303.4 256.4L306.7 248.7L310.1 241L313.4 233.1L316.7 225.2L320.1 217.3L323.4 209.2L326.7 201.1" fill="none" stroke="#d66868" stroke-width="2" stroke-linejoin="round"/>
<polygon points="199,405 202.3,402.1 205.6,399.3 211,399.7 207.7,402.4 204.4,405.1" fill="#f6e5da" stroke="#f6e5da" stroke-width="0.5"/>
<polygon points="205.6,399.3 208.9,396.4 212.3,393.4 217.7,394.3 214.4,397 211,399.7" fill="#f6e5da" stroke="#f6e5da" stroke-width="0.5"/>
<polygon points="212.3,393.4 215.6,390.5 218.9,387.5 224.4,388.8 221,391.6 217.7,394.3" fill="#f6e5da" stroke="#f6e5da" stroke-width="0.5"/>
<polygon points="218.9,387.5 222.3,384.6 225.6,381.7 231,383.3 227.7,386.1 224.4,388.8" fill="#f6e5da" stroke="#f6e5da" stroke-width="0.5"/>
<polygon points="225.6,381.7 228.9,378.7 232.3,375.8 237.7,377.6 234.4,380.5 231,383.3" fill="#f6e5da" stroke="#f6e5da" stroke-width="0.5"/>
<polygon points="232.3,375.8 235.6,372.8 238.9,369.9 244.3,371.6 241,374.7 237.7,377.6" fill="#f6e5da" stroke="#f6e5da" stroke-width="0.5"/>
<polygon points="238.9,369.9 242.2,366.9 245.6,364 251,365.1 247.7,368.4 244.3,371.6" fill="#f6e5da" stroke="#f6e5da" stroke-width="0.5"/>
<polygon points="245.6,364 248.9,361.1 252.2,358 257.7,357.5 254.3,361.5 251,365.1" fill="#f6e5da" stroke="#f6e5da" stroke-width="0.5"/>
<polygon points="252.2,358 255.6,354.5 258.9,350.3 264.3,348.2 261,353 257.7,357.5" fill="#f6e5da" stroke="#f6e5da" stroke-width="0.5"/>
<polygon points="258.9,350.3 262.2,345.7 265.6,340.5 271,337.2 267.7,342.8 264.3,348.2" fill="#f6e5da" stroke="#f6e5da" stroke-width="0.5"/>
<polygon points="265.6,340.5 268.9,335 272.2,329.1 277.6,324.8 274.3,331.1 271,337.2" fill="#f6e5da" stroke="#f6e5da" stroke-width="0.5"/>
<polygon points="272.2,329.1 275.5,322.9 278.9,316.5 284.3,311.5 281,318.2 277.6,324.8" fill="#f6e5da" stroke="#f6e5da" stroke-width="0.5"/>
<polygon points="278.9,316.5 282.2,309.8 285.5,302.9 291,297.5 287.6,304.6 284.3,311.5" fill="#f6e5da" stroke="#f6e5da" stroke-width="0.5"/>
<polygon points="285.5,302.9 288.9,295.9 292.2,288.8 297.6,283.1 294.3,290.3 291,297.5" fill="#f6e5da" stroke="#f6e5da" stroke-width="0.5"/>
<polygon points="292.2,288.8 295.5,281.5 298.9,274.2 304.3,268.4 301,275.8 297.6,283.1" fill="#f6e5da" stroke="#f6e5da" stroke-width="0.5"/>
<polygon points="298.9,274.2 302.2,266.7 305.5,259.2 310.9,253.4 307.6,260.9 304.3,268.4" fill="#e6e7e9" stroke="#e6e7e9" stroke-width="0.5"/>
<polygon points="305.5,259.2 308.8,251.5 312.2,243.9 317.6,238.2 314.3,245.8 310.9,253.4" fill="#dee8f0" stroke="#dee8f0" stroke-width="0.5"/>
<polygon points="312.2,243.9 315.5,236.1 318.8,228.3 324.3,222.9 320.9,230.6 317.6,238.2" fill="#dee8f0" stroke="#dee8f0" stroke-width="0.5"/>
<polygon points="318.8,228.3 322.2,220.4 325.5,212.5 330.9,207.4 327.6,215.2 324.3,222.9" fill="#dee8f0" stroke="#dee8f0" stroke-width="0.5"/>
<polygon points="325.5,212.5 328.8,204.5 332.2,196.5 337.6,191.8 334.3,199.6 330.9,207.4" fill="#dee8f0" stroke="#dee8f0" stroke-width="0.5"/>
<path d="M199 405L202.3 402.1L205.6 399.3L208.9 396.4L212.3 393.4L215.6 390.5L218.9 387.5L222.3 384.6L225.6 381.7L228.9 378.7L232.3 375.8L235.6 372.8L238.9 369.9L242.2 366.9L245.6 364L248.9 361.1L252.2 358L255.6 354.5L258.9 350.3L262.2 345.7L265.6 340.5L268.9 335L272.2 329.1L275.5 322.9L278.9 316.5L282.2 309.8L285.5 302.9L288.9 295.9L292.2 288.8L295.5 281.5L298.9 274.2L302.2 266.7L305.5 259.2L308.8 251.5L312.2 243.9L315.5 236.1L318.8 228.3L322.2 220.4L325.5 212.5L328.8 204.5L332.2 196.5" fill="none" stroke="#d66868" stroke-width="2" stroke-linejoin="round"/>
<polygon points="204.4,405.1 207.7,402.4 211,399.7 216.5,399.9 213.1,402.5 209.8,405.1" fill="#f6e5da" stroke="#f6e5da" stroke-width="0.5"/>
<polygon points="211,399.7 214.4,397 217.7,394.3 223.1,394.6 219.8,397.3 216.5,399.9" fill="#f6e5da" stroke="#f6e5da" stroke-width="0.5"/>
<polygon points="217.7,394.3 221,391.6 224.4,388.8 229.8,389.3 226.5,392 223.1,394.6" fill="#f6e5da" stroke="#f6e5da" stroke-width="0.5"/>
<polygon points="224.4,388.8 227.7,386.1 231,383.3 236.5,383.8 233.1,386.6 229.8,389.3" fill="#f6e5da" stroke="#f6e5da" stroke-width="0.5"/>
<polygon points="231,383.3 234.4,380.5 237.7,377.6 243.1,378 239.8,380.9 236.5,383.8" fill="#f6e5da" stroke="#f6e5da" stroke-width="0.5"/>
<polygon points="237.7,377.6 241,374.7 244.3,371.6 249.8,371.5 246.4,374.8 243.1,378" fill="#f6e5da" stroke="#f6e5da" stroke-width="0.5"/>
<polygon points="244.3,371.6 247.7,368.4 251,365.1 256.4,364.1 253.1,368 249.8,371.5" fill="#f6e5da" stroke="#f6e5da" stroke-width="0.5"/>
<polygon points="251,365.1 254.3,361.5 257.7,357.5 263.1,355.2 259.8,359.8 256.4,364.1" fill="#f6e5da" stroke="#f6e5da" stroke-width="0.5"/>
<polygon points="257.7,357.5 261,353 264.3,348.2 269.8,344.7 266.4,350.2 263.1,355.2" fill="#f6e5da" stroke="#f6e5da" stroke-width="0.5"/>
<polygon points="264.3,348.2 267.7,342.8 271,337.2 276.4,332.8 273.1,338.9 269.8,344.7" fill="#f6e5da" stroke="#f6e5da" stroke-width="0.5"/>
<polygon points="271,337.2 274.3,331.1 277.6,324.8 283.1,319.7 279.7,326.4 276.4,332.8" fill="#f6e5da" stroke="#f6e5da" stroke-width="0.5"/>
<polygon points="277.6,324.8 281,318.2 284.3,311.5 289.7,306 286.4,312.9 283.1,319.7" fill="#f6e5da" stroke="#f6e5da" stroke-width="0.5"/>
<polygon points="284.3,311.5 287.6,304.6 291,297.5 296.4,291.8 293.1,298.9 289.7,306" fill="#f6e5da" stroke="#f6e5da" stroke-width="0.5"/>
<polygon points="291,297.5 294.3,290.3 297.6,283.1 303.1,277.3 299.7,284.6 296.4,291.8" fill="#f6e5da" stroke="#f6e5da" stroke-width="0.5"/>
<polygon points="297.6,283.1 301,275.8 304.3,268.4 309.7,262.5 306.4,269.9 303.1,277.3" fill="#f6e5da" stroke="#f6e5da" stroke-width="0.5"/>
<polygon points="304.3,268.4 307.6,260.9 310.9,253.4 316.4,247.7 313,255.1 309.7,262.5" fill="#e2e7ec" stroke="#e2e7ec" stroke-width="0.5"/>
<polygon points="310.9,253.4 314.3,245.8 317.6,238.2 323,232.7 319.7,240.2 316.4,247.7" fill="#dee8f0" stroke="#dee8f0" stroke-width="0.5"/>
<polygon points="317.6,238.2 320.9,230.6 324.3,222.9 329.7,217.6 326.4,225.1 323,232.7" fill="#dee8f0" stroke="#dee8f0" stroke-width="0.5"/>
<polygon points="324.3,222.9 327.6,215.2 330.9,207.4 336.4,202.4 333,210 329.7,217.6" fill="#dee8f0" stroke="#dee8f0" stroke-width="0.5"/>
<polygon points="330.9,207.4 334.3,199.6 337.6,191.8 343,187.1 339.7,194.8 336.4,202.4" fill="#dee8f0" stroke="#dee8f0" stroke-width="0.5"/>
<path d="M204.4 405.1L207.7 402.4L211 399.7L214.4 397L217.7 394.3L221 391.6L224.4 388.8L227.7 386.1L231 383.3L234.4 380.5L237.7 377.6L241 374.7L244.3 371.6L247.7 368.4L251 365.1L254.3 361.5L257.7 357.5L261 353L264.3 348.2L267.7 342.8L271 337.2L274.3 331.1L277.6 324.8L281 318.2L284.3 311.5L287.6 304.6L291 297.5L294.3 290.3L297.6 283.1L301 275.8L304.3 268.4L307.6 260.9L310.9 253.4L314.3 245.8L317.6 238.2L320.9 230.6L324.3 222.9L327.6 215.2L330.9 207.4L334.3 199.6L337.6 191.8" fill="none" stroke="#d66868" stroke-width="2" stroke-linejoin="round"/>
<polygon points="209.8,405.1 213.1,402.5 216.5,399.9 221.9,399.7 218.6,402.3 215.2,404.9" fill="#f6e5da" stroke="#f6e5da" stroke-width="0.5"/>
<polygon points="216.5,399.9 219.8,397.3 223.1,394.6 228.6,394.4 225.2,397 221.9,399.7" fill="#f6e5da" stroke="#f6e5da" stroke-width="0.5"/>
<polygon points="223.1,394.6 226.5,392 229.8,389.3 235.2,388.9 231.9,391.7 228.6,394.4" fill="#f6e5da" stroke="#f6e5da" stroke-width="0.5"/>
<polygon points="229.8,389.3 233.1,386.6 236.5,383.8 241.9,383.2 238.6,386.1 235.2,388.9" fill="#f6e5da" stroke="#f6e5da" stroke-width="0.5"/>
<polygon points="236.5,383.8 239.8,380.9 243.1,378 248.5,377.1 245.2,380.2 241.9,383.2" fill="#f6e5da" stroke="#f6e5da" stroke-width="0.5"/>
<polygon points="243.1,378 246.4,374.8 249.8,371.5 255.2,370.1 251.9,373.7 248.5,377.1" fill="#f6e5da" stroke="#f6e5da" stroke-width="0.5"/>
<polygon points="249.8,371.5 253.1,368 256.4,364.1 261.9,361.8 258.5,366.1 255.2,370.1" fill="#f6e5da" stroke="#f6e5da" stroke-width="0.5"/>
<polygon points="256.4,364.1 259.8,359.8 263.1,355.2 268.5,351.9 265.2,357 261.9,361.8" fill="#f6e5da" stroke="#f6e5da" stroke-width="0.5"/>
<polygon points="263.1,355.2 266.4,350.2 269.8,344.7 275.2,340.5 271.9,346.4 268.5,351.9" fill="#f6e5da" stroke="#f6e5da" stroke-width="0.5"/>
<polygon points="269.8,344.7 273.1,338.9 276.4,332.8 281.8,327.8 278.5,334.3 275.2,340.5" fill="#f6e5da" stroke="#f6e5da" stroke-width="0.5"/>
<polygon points="276.4,332.8 279.7,326.4 283.1,319.7 288.5,314.3 285.2,321.1 281.8,327.8" fill="#f6e5da" stroke="#f6e5da" stroke-width="0.5"/>
<polygon points="283.1,319.7 286.4,312.9 289.7,306 295.2,300.3 291.8,307.3 288.5,314.3" fill="#f6e5da" stroke="#f6e5da" stroke-width="0.5"/>
<polygon points="289.7,306 293.1,298.9 296.4,291.8 301.8,285.9 298.5,293.1 295.2,300.3" fill="#f6e5da" stroke="#f6e5da" stroke-width="0.5"/>
<polygon points="296.4,291.8 299.7,284.6 303.1,277.3 308.5,271.4 305.2,278.7 301.8,285.9" fill="#f6e5da" stroke="#f6e5da" stroke-width="0.5"/>
<polygon points="303.1,277.3 306.4,269.9 309.7,262.5 315.1,256.8 311.8,264.1 308.5,271.4" fill="#f3e5dd" stroke="#f3e5dd" stroke-width="0.5"/>
<polygon points="309.7,262.5 313,255.1 316.4,247.7 321.8,242 318.5,249.4 315.1,256.8" fill="#dfe8ef" stroke="#dfe8ef" stroke-width="0.5"/>
<polygon points="316.4,247.7 319.7,240.2 323,232.7 328.5,227.2 325.1,234.6 321.8,242" fill="#dee8f0" stroke="#dee8f0" stroke-width="0.5"/>
<polygon points="323,232.7 326.4,225.1 329.7,217.6 335.1,212.3 331.8,219.8 328.5,227.2" fill="#dee8f0" stroke="#dee8f0" stroke-width="0.5"/>
<polygon points="329.7,217.6 333,210 336.4,202.4 341.8,197.4 338.5,204.9 335.1,212.3" fill="#dee8f0" stroke="#dee8f0" stroke-width="0.5"/>
<polygon points="336.4,202.4 339.7,194.8 343,187.1 348.4,182.5 345.1,190 341.8,197.4" fill="#dee8f0" stroke="#dee8f0" stroke-width="0.5"/>
<path d="M209.8 405.1L213.1 402.5L216.5 399.9L219.8 397.3L223.1 394.6L226.5 392L229.8 389.3L233.1 386.6L236.5 383.8L239.8 380.9L243.1 378L246.4 374.8L249.8 371.5L253.1 368L256.4 364.1L259.8 359.8L263.1 355.2L266.4 350.2L269.8 344.7L273.1 338.9L276.4 332.8L279.7 326.4L283.1 319.7L286.4 312.9L289.7 306L293.1 298.9L296.4 291.8L299.7 284.6L303.1 277.3L306.4 269.9L309.7 262.5L313 255.1L316.4 247.7L319.7 240.2L323 232.7L326.4 225.1L329.7 217.6L333 210L336.4 202.4L339.7 194.8L343 187.1" fill="none" stroke="#d66868" stroke-width="2" stroke-linejoin="round"/>
<polygon points="215.2,404.9 218.6,402.3 221.9,399.7 227.3,399.4 224,402.1 220.7,404.7" fill="#f6e5da" stroke="#f6e5da" stroke-width="0.5"/>
<polygon points="221.9,399.7 225.2,397 228.6,394.4 234,393.9 230.7,396.7 227.3,399.4" fill="#f6e5da" stroke="#f6e5da" stroke-width="0.5"/>
<polygon points="228.6,394.4 231.9,391.7 235.2,388.9 240.7,388.2 237.3,391.1 234,393.9" fill="#f6e5da" stroke="#f6e5da" stroke-width="0.5"/>
<polygon points="235.2,388.9 238.6,386.1 241.9,383.2 247.3,382 244,385.2 240.7,388.2" fill="#f6e5da" stroke="#f6e5da" stroke-width="0.5"/>
<polygon points="241.9,383.2 245.2,380.2 248.5,377.1 254,375.1 250.6,378.7 247.3,382" fill="#f6e5da" stroke="#f6e5da" stroke-width="0.5"/>
<polygon points="248.5,377.1 251.9,373.7 255.2,370.1 260.6,367 257.3,371.2 254,375.1" fill="#f6e5da" stroke="#f6e5da" stroke-width="0.5"/>
<polygon points="255.2,370.1 258.5,366.1 261.9,361.8 267.3,357.4 264,362.4 260.6,367" fill="#f6e5da" stroke="#f6e5da" stroke-width="0.5"/>
<polygon points="261.9,361.8 265.2,357 268.5,351.9 274,346.3 270.6,352 267.3,357.4" fill="#f6e5da" stroke="#f6e5da" stroke-width="0.5"/>
<polygon points="268.5,351.9 271.9,346.4 275.2,340.5 280.6,333.8 277.3,340.2 274,346.3" fill="#f6e5da" stroke="#f6e5da" stroke-width="0.5"/>
<polygon points="275.2,340.5 278.5,334.3 281.8,327.8 287.3,320.6 283.9,327.3 280.6,333.8" fill="#f6e5da" stroke="#f6e5da" stroke-width="0.5"/>
<polygon points="281.8,327.8 285.2,321.1 288.5,314.3 293.9,306.9 290.6,313.8 287.3,320.6" fill="#f6e5da" stroke="#f6e5da" stroke-width="0.5"/>
<polygon points="288.5,314.3 291.8,307.3 295.2,300.3 300.6,293.1 297.3,300 293.9,306.9" fill="#f6e5da" stroke="#f6e5da" stroke-width="0.5"/>
<polygon points="295.2,300.3 298.5,293.1 301.8,285.9 307.3,279.1 303.9,286.1 300.6,293.1" fill="#f6e5da" stroke="#f6e5da" stroke-width="0.5"/>
<polygon points="301.8,285.9 305.2,278.7 308.5,271.4 313.9,265.2 310.6,272.1 307.3,279.1" fill="#f6e5da" stroke="#f6e5da" stroke-width="0.5"/>
<polygon points="308.5,271.4 311.8,264.1 315.1,256.8 320.6,251.3 317.2,258.2 313.9,265.2" fill="#efe6e0" stroke="#efe6e0" stroke-width="0.5"/>
<polygon points="315.1,256.8 318.5,249.4 321.8,242 327.2,237.4 323.9,244.3 320.6,251.3" fill="#dee8f0" stroke="#dee8f0" stroke-width="0.5"/>
<polygon points="321.8,242 325.1,234.6 328.5,227.2 333.9,223.5 330.6,230.4 327.2,237.4" fill="#dee8f0" stroke="#dee8f0" stroke-width="0.5"/>
<polygon points="328.5,227.2 331.8,219.8 335.1,212.3 340.6,209.7 337.2,216.6 333.9,223.5" fill="#dee8f0" stroke="#dee8f0" stroke-width="0.5"/>
<polygon points="335.1,212.3 338.5,204.9 341.8,197.4 347.2,195.9 343.9,202.8 340.6,209.7" fill="#dee8f0" stroke="#dee8f0" stroke-width="0.5"/>
<polygon points="341.8,197.4 345.1,190 348.4,182.5 353.9,182.2 350.5,189.1 347.2,195.9" fill="#dee8f0" stroke="#dee8f0" stroke-width="0.5"/>
<path d="M215.2 404.9L218.6 402.3L221.9 399.7L225.2 397L228.6 394.4L231.9 391.7L235.2 388.9L238.6 386.1L241.9 383.2L245.2 380.2L248.5 377.1L251.9 373.7L255.2 370.1L258.5 366.1L261.9 361.8L265.2 357L268.5 351.9L271.9 346.4L275.2 340.5L278.5 334.3L281.8 327.8L285.2 321.1L288.5 314.3L291.8 307.3L295.2 300.3L298.5 293.1L301.8 285.9L305.2 278.7L308.5 271.4L311.8 264.1L315.1 256.8L318.5 249.4L321.8 242L325.1 234.6L328.5 227.2L331.8 219.8L335.1 212.3L338.5 204.9L341.8 197.4L345.1 190L348.4 182.5" fill="none" stroke="#d66868" stroke-width="2" stroke-linejoin="round"/>
<polygon points="220.7,404.7 224,402.1 227.3,399.4 232.8,398.2 229.4,401.3 226.1,404.5" fill="#f6e5da" stroke="#f6e5da" stroke-width="0.5"/>
<polygon points="227.3,399.4 230.7,396.7 234,393.9 239.4,391.7 236.1,395 232.8,398.2" fill="#f6e5da" stroke="#f6e5da" stroke-width="0.5"/>
<polygon points="234,393.9 237.3,391.1 240.7,388.2 246.1,384.7 242.8,388.3 239.4,391.7" fill="#f6e5da" stroke="#f6e5da" stroke-width="0.5"/>
<polygon points="240.7,388.2 244,385.2 247.3,382 252.7,376.9 249.4,380.9 246.1,384.7" fill="#f6e5da" stroke="#f6e5da" stroke-width="0.5"/>
<polygon points="247.3,382 250.6,378.7 254,375.1 259.4,367.8 256.1,372.5 252.7,376.9" fill="#f6e5da" stroke="#f6e5da" stroke-width="0.5"/>
<polygon points="254,375.1 257.3,371.2 260.6,367 266.1,357.3 262.7,362.7 259.4,367.8" fill="#f6e5da" stroke="#f6e5da" stroke-width="0.5"/>
<polygon points="260.6,367 264,362.4 267.3,357.4 272.7,345.6 269.4,351.6 266.1,357.3" fill="#f6e5da" stroke="#f6e5da" stroke-width="0.5"/>
<polygon points="267.3,357.4 270.6,352 274,346.3 279.4,333 276.1,339.4 272.7,345.6" fill="#f6e5da" stroke="#f6e5da" stroke-width="0.5"/>
<polygon points="274,346.3 277.3,340.2 280.6,333.8 286,320.1 282.7,326.6 279.4,333" fill="#f6e5da" stroke="#f6e5da" stroke-width="0.5"/>
<polygon points="280.6,333.8 283.9,327.3 287.3,320.6 292.7,307.2 289.4,313.6 286,320.1" fill="#f6e5da" stroke="#f6e5da" stroke-width="0.5"/>
<polygon points="287.3,320.6 290.6,313.8 293.9,306.9 299.4,294.6 296,300.8 292.7,307.2" fill="#f6e5da" stroke="#f6e5da" stroke-width="0.5"/>
<polygon points="293.9,306.9 297.3,300 300.6,293.1 306,282.2 302.7,288.3 299.4,294.6" fill="#f6e5da" stroke="#f6e5da" stroke-width="0.5"/>
<polygon points="300.6,293.1 303.9,286.1 307.3,279.1 312.7,270.2 309.4,276.1 306,282.2" fill="#f6e5da" stroke="#f6e5da" stroke-width="0.5"/>
<polygon points="307.3,279.1 310.6,272.1 313.9,265.2 319.3,258.4 316,264.2 312.7,270.2" fill="#f6e5da" stroke="#f6e5da" stroke-width="0.5"/>
<polygon points="313.9,265.2 317.2,258.2 320.6,251.3 326,246.9 322.7,252.6 319.3,258.4" fill="#ece6e3" stroke="#ece6e3" stroke-width="0.5"/>
<polygon points="320.6,251.3 323.9,244.3 327.2,237.4 332.7,235.6 329.3,241.2 326,246.9" fill="#dee8f0" stroke="#dee8f0" stroke-width="0.5"/>
<polygon points="327.2,237.4 330.6,230.4 333.9,223.5 339.3,224.5 336,230 332.7,235.6" fill="#dee8f0" stroke="#dee8f0" stroke-width="0.5"/>
<polygon points="333.9,223.5 337.2,216.6 340.6,209.7 346,213.5 342.7,219 339.3,224.5" fill="#dee8f0" stroke="#dee8f0" stroke-width="0.5"/>
<polygon points="340.6,209.7 343.9,202.8 347.2,195.9 352.6,202.8 349.3,208.1 346,213.5" fill="#dee8f0" stroke="#dee8f0" stroke-width="0.5"/>
<polygon points="347.2,195.9 350.5,189.1 353.9,182.2 359.3,192.1 356,197.4 352.6,202.8" fill="#dee8f0" stroke="#dee8f0" stroke-width="0.5"/>
<path d="M220.7 404.7L224 402.1L227.3 399.4L230.7 396.7L234 393.9L237.3 391.1L240.7 388.2L244 385.2L247.3 382L250.6 378.7L254 375.1L257.3 371.2L260.6 367L264 362.4L267.3 357.4L270.6 352L274 346.3L277.3 340.2L280.6 333.8L283.9 327.3L287.3 320.6L290.6 313.8L293.9 306.9L297.3 300L300.6 293.1L303.9 286.1L307.3 279.1L310.6 272.1L313.9 265.2L317.2 258.2L320.6 251.3L323.9 244.3L327.2 237.4L330.6 230.4L333.9 223.5L337.2 216.6L340.6 209.7L343.9 202.8L347.2 195.9L350.5 189.1L353.9 182.2" fill="none" stroke="#d66868" stroke-width="2" stroke-linejoin="round"/>
<polygon points="226.1,404.5 229.4,401.3 232.8,398.2 238.2,396.9 234.9,400.4 231.5,404.2" fill="#f6e5da" stroke="#f6e5da" stroke-width="0.5"/>
<polygon points="232.8,398.2 236.1,395 239.4,391.7 244.9,389.8 241.5,393.4 238.2,396.9" fill="#f6e5da" stroke="#f6e5da" stroke-width="0.5"/>
<polygon points="239.4,391.7 242.8,388.3 246.1,384.7 251.5,382 248.2,386 244.9,389.8" fill="#f6e5da" stroke="#f6e5da" stroke-width="0.5"/>
<polygon points="246.1,384.7 249.4,380.9 252.7,376.9 258.2,373.2 254.8,377.7 251.5,382" fill="#f6e5da" stroke="#f6e5da" stroke-width="0.5"/>
<polygon points="252.7,376.9 256.1,372.5 259.4,367.8 264.8,363.3 261.5,368.4 258.2,373.2" fill="#f6e5da" stroke="#f6e5da" stroke-width="0.5"/>
<polygon points="259.4,367.8 262.7,362.7 266.1,357.3 271.5,352.2 268.2,357.9 264.8,363.3" fill="#f6e5da" stroke="#f6e5da" stroke-width="0.5"/>
<polygon points="266.1,357.3 269.4,351.6 272.7,345.6 278.2,340.4 274.8,346.4 271.5,352.2" fill="#f6e5da" stroke="#f6e5da" stroke-width="0.5"/>
<polygon points="272.7,345.6 276.1,339.4 279.4,333 284.8,328.2 281.5,334.3 278.2,340.4" fill="#f6e5da" stroke="#f6e5da" stroke-width="0.5"/>
<polygon points="279.4,333 282.7,326.6 286,320.1 291.5,316.2 288.1,322.2 284.8,328.2" fill="#f6e5da" stroke="#f6e5da" stroke-width="0.5"/>
<polygon points="286,320.1 289.4,313.6 292.7,307.2 298.1,304.4 294.8,310.3 291.5,316.2" fill="#f6e5da" stroke="#f6e5da" stroke-width="0.5"/>
<polygon points="292.7,307.2 296,300.8 299.4,294.6 304.8,293 301.5,298.7 298.1,304.4" fill="#f6e5da" stroke="#f6e5da" stroke-width="0.5"/>
<polygon points="299.4,294.6 302.7,288.3 306,282.2 311.5,282 308.1,287.5 304.8,293" fill="#f6e5da" stroke="#f6e5da" stroke-width="0.5"/>
<polygon points="306,282.2 309.4,276.1 312.7,270.2 318.1,271.2 314.8,276.6 311.5,282" fill="#f6e5da" stroke="#f6e5da" stroke-width="0.5"/>
<polygon points="312.7,270.2 316,264.2 319.3,258.4 324.8,260.8 321.4,266 318.1,271.2" fill="#f6e5da" stroke="#f6e5da" stroke-width="0.5"/>
<polygon points="319.3,258.4 322.7,252.6 326,246.9 331.4,250.5 328.1,255.6 324.8,260.8" fill="#e8e7e7" stroke="#e8e7e7" stroke-width="0.5"/>
<polygon points="326,246.9 329.3,241.2 332.7,235.6 338.1,240.5 334.8,245.5 331.4,250.5" fill="#dee8f0" stroke="#dee8f0" stroke-width="0.5"/>
<polygon points="332.7,235.6 336,230 339.3,224.5 344.8,230.7 341.4,235.6 338.1,240.5" fill="#dee8f0" stroke="#dee8f0" stroke-width="0.5"/>
<polygon points="339.3,224.5 342.7,219 346,213.5 351.4,221 348.1,225.8 344.8,230.7" fill="#dee8f0" stroke="#dee8f0" stroke-width="0.5"/>
<polygon points="346,213.5 349.3,208.1 352.6,202.8 358.1,211.5 354.7,216.2 351.4,221" fill="#dee8f0" stroke="#dee8f0" stroke-width="0.5"/>
<polygon points="352.6,202.8 356,197.4 359.3,192.1 364.7,202 361.4,206.7 358.1,211.5" fill="#dee8f0" stroke="#dee8f0" stroke-width="0.5"/>
<path d="M226.1 404.5L229.4 401.3L232.8 398.2L236.1 395L239.4 391.7L242.8 388.3L246.1 384.7L249.4 380.9L252.7 376.9L256.1 372.5L259.4 367.8L262.7 362.7L266.1 357.3L269.4 351.6L272.7 345.6L276.1 339.4L279.4 333L282.7 326.6L286 320.1L289.4 313.6L292.7 307.2L296 300.8L299.4 294.6L302.7 288.3L306 282.2L309.4 276.1L312.7 270.2L316 264.2L319.3 258.4L322.7 252.6L326 246.9L329.3 241.2L332.7 235.6L336 230L339.3 224.5L342.7 219L346 213.5L349.3 208.1L352.6 202.8L356 197.4L359.3 192.1" fill="none" stroke="#d66868" stroke-width="2" stroke-linejoin="round"/>
<polygon points="231.5,404.2 234.9,400.4 238.2,396.9 243.6,395.8 240.3,399.6 237,403.8" fill="#f6e5da" stroke="#f6e5da" stroke-width="0.5"/>
<polygon points="238.2,396.9 241.5,393.4 244.9,389.8 250.3,388 247,392 243.6,395.8" fill="#f6e5da" stroke="#f6e5da" stroke-width="0.5"/>
<polygon points="244.9,389.8 248.2,386 251.5,382 256.9,379.4 253.6,383.8 250.3,388" fill="#f6e5da" stroke="#f6e5da" stroke-width="0.5"/>
<polygon points="251.5,382 254.8,377.7 258.2,373.2 263.6,369.6 260.3,374.6 256.9,379.4" fill="#f6e5da" stroke="#f6e5da" stroke-width="0.5"/>
<polygon points="258.2,373.2 261.5,368.4 264.8,363.3 270.3,358.5 266.9,364.2 263.6,369.6" fill="#f6e5da" stroke="#f6e5da" stroke-width="0.5"/>
<polygon points="264.8,363.3 268.2,357.9 271.5,352.2 276.9,346.4 273.6,352.6 270.3,358.5" fill="#f6e5da" stroke="#f6e5da" stroke-width="0.5"/>
<polygon points="271.5,352.2 274.8,346.4 278.2,340.4 283.6,333.8 280.3,340.1 276.9,346.4" fill="#f6e5da" stroke="#f6e5da" stroke-width="0.5"/>
<polygon points="278.2,340.4 281.5,334.3 284.8,328.2 290.2,321 286.9,327.4 283.6,333.8" fill="#f6e5da" stroke="#f6e5da" stroke-width="0.5"/>
<polygon points="284.8,328.2 288.1,322.2 291.5,316.2 296.9,308.5 293.6,314.8 290.2,321" fill="#f6e5da" stroke="#f6e5da" stroke-width="0.5"/>
<polygon points="291.5,316.2 294.8,310.3 298.1,304.4 303.6,296.4 300.2,302.4 296.9,308.5" fill="#f6e5da" stroke="#f6e5da" stroke-width="0.5"/>
<polygon points="298.1,304.4 301.5,298.7 304.8,293 310.2,284.7 306.9,290.5 303.6,296.4" fill="#f6e5da" stroke="#f6e5da" stroke-width="0.5"/>
<polygon points="304.8,293 308.1,287.5 311.5,282 316.9,273.3 313.6,278.9 310.2,284.7" fill="#f6e5da" stroke="#f6e5da" stroke-width="0.5"/>
<polygon points="311.5,282 314.8,276.6 318.1,271.2 323.5,262.2 320.2,267.7 316.9,273.3" fill="#f6e5da" stroke="#f6e5da" stroke-width="0.5"/>
<polygon points="318.1,271.2 321.4,266 324.8,260.8 330.2,251.4 326.9,256.8 323.5,262.2" fill="#f6e5da" stroke="#f6e5da" stroke-width="0.5"/>
<polygon points="324.8,260.8 328.1,255.6 331.4,250.5 336.9,240.9 333.5,246.1 330.2,251.4" fill="#e4e7ea" stroke="#e4e7ea" stroke-width="0.5"/>
<polygon points="331.4,250.5 334.8,245.5 338.1,240.5 343.5,230.6 340.2,235.7 336.9,240.9" fill="#dee8f0" stroke="#dee8f0" stroke-width="0.5"/>
<polygon points="338.1,240.5 341.4,235.6 344.8,230.7 350.2,220.4 346.9,225.5 343.5,230.6" fill="#dee8f0" stroke="#dee8f0" stroke-width="0.5"/>
<polygon points="344.8,230.7 348.1,225.8 351.4,221 356.8,210.4 353.5,215.4 350.2,220.4" fill="#dee8f0" stroke="#dee8f0" stroke-width="0.5"/>
<polygon points="351.4,221 354.7,216.2 358.1,211.5 363.5,200.6 360.2,205.5 356.8,210.4" fill="#dee8f0" stroke="#dee8f0" stroke-width="0.5"/>
<polygon points="358.1,211.5 361.4,206.7 364.7,202 370.2,190.9 366.8,195.7 363.5,200.6" fill="#dee8f0" stroke="#dee8f0" stroke-width="0.5"/>
<path d="M231.5 404.2L234.9 400.4L238.2 396.9L241.5 393.4L244.9 389.8L248.2 386L251.5 382L254.8 377.7L258.2 373.2L261.5 368.4L264.8 363.3L268.2 357.9L271.5 352.2L274.8 346.4L278.2 340.4L281.5 334.3L284.8 328.2L288.1 322.2L291.5 316.2L294.8 310.3L298.1 304.4L301.5 298.7L304.8 293L308.1 287.5L311.5 282L314.8 276.6L318.1 271.2L321.4 266L324.8 260.8L328.1 255.6L331.4 250.5L334.8 245.5L338.1 240.5L341.4 235.6L344.8 230.7L348.1 225.8L351.4 221L354.7 216.2L358.1 211.5L361.4 206.7L364.7 202" fill="none" stroke="#d66868" stroke-width="2" stroke-linejoin="round"/>
<polygon points="237,403.8 240.3,399.6 243.6,395.8 249.1,395.3 245.7,399.2 242.4,403.4" fill="#f6e5da" stroke="#f6e5da" stroke-width="0.5"/>
<polygon points="243.6,395.8 247,392 250.3,388 255.7,387.2 252.4,391.3 249.1,395.3" fill="#f6e5da" stroke="#f6e5da" stroke-width="0.5"/>
<polygon points="250.3,388 253.6,383.8 256.9,379.4 262.4,378 259,382.7 255.7,387.2" fill="#f6e5da" stroke="#f6e5da" stroke-width="0.5"/>
<polygon points="256.9,379.4 260.3,374.6 263.6,369.6 269,367.5 265.7,373 262.4,378" fill="#f6e5da" stroke="#f6e5da" stroke-width="0.5"/>
<polygon points="263.6,369.6 266.9,364.2 270.3,358.5 275.7,355.7 272.4,361.8 269,367.5" fill="#f6e5da" stroke="#f6e5da" stroke-width="0.5"/>
<polygon points="270.3,358.5 273.6,352.6 276.9,346.4 282.4,343 279,349.4 275.7,355.7" fill="#f6e5da" stroke="#f6e5da" stroke-width="0.5"/>
<polygon points="276.9,346.4 280.3,340.1 283.6,333.8 289,329.8 285.7,336.4 282.4,343" fill="#f6e5da" stroke="#f6e5da" stroke-width="0.5"/>
<polygon points="283.6,333.8 286.9,327.4 290.2,321 295.7,316.6 292.3,323.1 289,329.8" fill="#f6e5da" stroke="#f6e5da" stroke-width="0.5"/>
<polygon points="290.2,321 293.6,314.8 296.9,308.5 302.3,303.6 299,310.1 295.7,316.6" fill="#f6e5da" stroke="#f6e5da" stroke-width="0.5"/>
<polygon points="296.9,308.5 300.2,302.4 303.6,296.4 309,291 305.7,297.3 302.3,303.6" fill="#f6e5da" stroke="#f6e5da" stroke-width="0.5"/>
<polygon points="303.6,296.4 306.9,290.5 310.2,284.7 315.7,278.8 312.3,284.9 309,291" fill="#f6e5da" stroke="#f6e5da" stroke-width="0.5"/>
<polygon points="310.2,284.7 313.6,278.9 316.9,273.3 322.3,266.9 319,272.8 315.7,278.8" fill="#f6e5da" stroke="#f6e5da" stroke-width="0.5"/>
<polygon points="316.9,273.3 320.2,267.7 323.5,262.2 329,255.3 325.6,261 322.3,266.9" fill="#f6e5da" stroke="#f6e5da" stroke-width="0.5"/>
<polygon points="323.5,262.2 326.9,256.8 330.2,251.4 335.6,243.9 332.3,249.6 329,255.3" fill="#f5e5db" stroke="#f5e5db" stroke-width="0.5"/>
<polygon points="330.2,251.4 333.5,246.1 336.9,240.9 342.3,232.8 339,238.3 335.6,243.9" fill="#e1e8ed" stroke="#e1e8ed" stroke-width="0.5"/>
<polygon points="336.9,240.9 340.2,235.7 343.5,230.6 349,221.9 345.6,227.3 342.3,232.8" fill="#dee8f0" stroke="#dee8f0" stroke-width="0.5"/>
<polygon points="343.5,230.6 346.9,225.5 350.2,220.4 355.6,211.1 352.3,216.5 349,221.9" fill="#dee8f0" stroke="#dee8f0" stroke-width="0.5"/>
<polygon points="350.2,220.4 353.5,215.4 356.8,210.4 362.3,200.5 358.9,205.8 355.6,211.1" fill="#dee8f0" stroke="#dee8f0" stroke-width="0.5"/>
<polygon points="356.8,210.4 360.2,205.5 363.5,200.6 368.9,190.1 365.6,195.3 362.3,200.5" fill="#dee8f0" stroke="#dee8f0" stroke-width="0.5"/>
<polygon points="363.5,200.6 366.8,195.7 370.2,190.9 375.6,179.8 372.3,184.9 368.9,190.1" fill="#dee8f0" stroke="#dee8f0" stroke-width="0.5"/>
<path d="M237 403.8L240.3 399.6L243.6 395.8L247 392L250.3 388L253.6 383.8L256.9 379.4L260.3 374.6L263.6 369.6L266.9 364.2L270.3 358.5L273.6 352.6L276.9 346.4L280.3 340.1L283.6 333.8L286.9 327.4L290.2 321L293.6 314.8L296.9 308.5L300.2 302.4L303.6 296.4L306.9 290.5L310.2 284.7L313.6 278.9L316.9 273.3L320.2 267.7L323.5 262.2L326.9 256.8L330.2 251.4L333.5 246.1L336.9 240.9L340.2 235.7L343.5 230.6L346.9 225.5L350.2 220.4L353.5 215.4L356.8 210.4L360.2 205.5L363.5 200.6L366.8 195.7L370.2 190.9" fill="none" stroke="#d66868" stroke-width="2" stroke-linejoin="round"/>
<polygon points="242.4,403.4 245.7,399.2 249.1,395.3 254.5,395.7 251.2,399.3 247.8,402.9" fill="#f6e5da" stroke="#f6e5da" stroke-width="0.5"/>
<polygon points="249.1,395.3 252.4,391.3 255.7,387.2 261.1,387.9 257.8,391.9 254.5,395.7" fill="#f6e5da" stroke="#f6e5da" stroke-width="0.5"/>
<polygon points="255.7,387.2 259,382.7 262.4,378 267.8,379 264.5,383.6 261.1,387.9" fill="#f6e5da" stroke="#f6e5da" stroke-width="0.5"/>
<polygon points="262.4,378 265.7,373 269,367.5 274.5,368.6 271.1,374 267.8,379" fill="#f6e5da" stroke="#f6e5da" stroke-width="0.5"/>
<polygon points="269,367.5 272.4,361.8 275.7,355.7 281.1,356.8 277.8,362.9 274.5,368.6" fill="#f6e5da" stroke="#f6e5da" stroke-width="0.5"/>
<polygon points="275.7,355.7 279,349.4 282.4,343 287.8,343.9 284.5,350.4 281.1,356.8" fill="#f6e5da" stroke="#f6e5da" stroke-width="0.5"/>
<polygon points="282.4,343 285.7,336.4 289,329.8 294.4,330.5 291.1,337.3 287.8,343.9" fill="#f6e5da" stroke="#f6e5da" stroke-width="0.5"/>
<polygon points="289,329.8 292.3,323.1 295.7,316.6 301.1,317 297.8,323.8 294.4,330.5" fill="#f6e5da" stroke="#f6e5da" stroke-width="0.5"/>
<polygon points="295.7,316.6 299,310.1 302.3,303.6 307.8,303.6 304.4,310.3 301.1,317" fill="#f6e5da" stroke="#f6e5da" stroke-width="0.5"/>
<polygon points="302.3,303.6 305.7,297.3 309,291 314.4,290.3 311.1,296.9 307.8,303.6" fill="#f6e5da" stroke="#f6e5da" stroke-width="0.5"/>
<polygon points="309,291 312.3,284.9 315.7,278.8 321.1,277.3 317.8,283.8 314.4,290.3" fill="#f6e5da" stroke="#f6e5da" stroke-width="0.5"/>
<polygon points="315.7,278.8 319,272.8 322.3,266.9 327.7,264.6 324.4,270.9 321.1,277.3" fill="#f6e5da" stroke="#f6e5da" stroke-width="0.5"/>
<polygon points="322.3,266.9 325.6,261 329,255.3 334.4,252 331.1,258.2 327.7,264.6" fill="#f6e5da" stroke="#f6e5da" stroke-width="0.5"/>
<polygon points="329,255.3 332.3,249.6 335.6,243.9 341.1,239.6 337.7,245.8 334.4,252" fill="#f2e5dd" stroke="#f2e5dd" stroke-width="0.5"/>
<polygon points="335.6,243.9 339,238.3 342.3,232.8 347.7,227.4 344.4,233.5 341.1,239.6" fill="#dee8f0" stroke="#dee8f0" stroke-width="0.5"/>
<polygon points="342.3,232.8 345.6,227.3 349,221.9 354.4,215.3 351.1,221.3 347.7,227.4" fill="#dee8f0" stroke="#dee8f0" stroke-width="0.5"/>
<polygon points="349,221.9 352.3,216.5 355.6,211.1 361,203.3 357.7,209.3 354.4,215.3" fill="#dee8f0" stroke="#dee8f0" stroke-width="0.5"/>
<polygon points="355.6,211.1 358.9,205.8 362.3,200.5 367.7,191.5 364.4,197.4 361,203.3" fill="#dee8f0" stroke="#dee8f0" stroke-width="0.5"/>
<polygon points="362.3,200.5 365.6,195.3 368.9,190.1 374.4,179.8 371,185.6 367.7,191.5" fill="#dee8f0" stroke="#dee8f0" stroke-width="0.5"/>
<polygon points="368.9,190.1 372.3,184.9 375.6,179.8 381,168.2 377.7,174 374.4,179.8" fill="#dee8f0" stroke="#dee8f0" stroke-width="0.5"/>
<path d="M242.4 403.4L245.7 399.2L249.1 395.3L252.4 391.3L255.7 387.2L259 382.7L262.4 378L265.7 373L269 367.5L272.4 361.8L275.7 355.7L279 349.4L282.4 343L285.7 336.4L289 329.8L292.3 323.1L295.7 316.6L299 310.1L302.3 303.6L305.7 297.3L309 291L312.3 284.9L315.7 278.8L319 272.8L322.3 266.9L325.6 261L329 255.3L332.3 249.6L335.6 243.9L339 238.3L342.3 232.8L345.6 227.3L349 221.9L352.3 216.5L355.6 211.1L358.9 205.8L362.3 200.5L365.6 195.3L368.9 190.1L372.3 184.9L375.6 179.8" fill="none" stroke="#d66868" stroke-width="2" stroke-linejoin="round"/>
<polygon points="247.8,402.9 251.2,399.3 254.5,395.7 259.9,395.4 256.6,398.9 253.3,402.4" fill="#f6e5da" stroke="#f6e5da" stroke-width="0.5"/>
<polygon points="254.5,395.7 257.8,391.9 261.1,387.9 266.6,387.6 263.2,391.6 259.9,395.4" fill="#f6e5da" stroke="#f6e5da" stroke-width="0.5"/>
<polygon points="261.1,387.9 264.5,383.6 267.8,379 273.2,378.5 269.9,383.2 266.6,387.6" fill="#f6e5da" stroke="#f6e5da" stroke-width="0.5"/>
<polygon points="267.8,379 271.1,374 274.5,368.6 279.9,367.8 276.6,373.3 273.2,378.5" fill="#f6e5da" stroke="#f6e5da" stroke-width="0.5"/>
<polygon points="274.5,368.6 277.8,362.9 281.1,356.8 286.6,355.8 283.2,361.9 279.9,367.8" fill="#f6e5da" stroke="#f6e5da" stroke-width="0.5"/>
<polygon points="281.1,356.8 284.5,350.4 287.8,343.9 293.2,342.7 289.9,349.3 286.6,355.8" fill="#f6e5da" stroke="#f6e5da" stroke-width="0.5"/>
<polygon points="287.8,343.9 291.1,337.3 294.4,330.5 299.9,329.2 296.5,336 293.2,342.7" fill="#f6e5da" stroke="#f6e5da" stroke-width="0.5"/>
<polygon points="294.4,330.5 297.8,323.8 301.1,317 306.5,315.4 303.2,322.3 299.9,329.2" fill="#f6e5da" stroke="#f6e5da" stroke-width="0.5"/>
<polygon points="301.1,317 304.4,310.3 307.8,303.6 313.2,301.7 309.9,308.6 306.5,315.4" fill="#f6e5da" stroke="#f6e5da" stroke-width="0.5"/>
<polygon points="307.8,303.6 311.1,296.9 314.4,290.3 319.9,288.1 316.5,294.9 313.2,301.7" fill="#f6e5da" stroke="#f6e5da" stroke-width="0.5"/>
<polygon points="314.4,290.3 317.8,283.8 321.1,277.3 326.5,274.6 323.2,281.4 319.9,288.1" fill="#f6e5da" stroke="#f6e5da" stroke-width="0.5"/>
<polygon points="321.1,277.3 324.4,270.9 327.7,264.6 333.2,261.3 329.8,268 326.5,274.6" fill="#f6e5da" stroke="#f6e5da" stroke-width="0.5"/>
<polygon points="327.7,264.6 331.1,258.2 334.4,252 339.8,248.1 336.5,254.7 333.2,261.3" fill="#f6e5da" stroke="#f6e5da" stroke-width="0.5"/>
<polygon points="334.4,252 337.7,245.8 341.1,239.6 346.5,235 343.2,241.6 339.8,248.1" fill="#efe6e0" stroke="#efe6e0" stroke-width="0.5"/>
<polygon points="341.1,239.6 344.4,233.5 347.7,227.4 353.2,222.1 349.8,228.5 346.5,235" fill="#dee8f0" stroke="#dee8f0" stroke-width="0.5"/>
<polygon points="347.7,227.4 351.1,221.3 354.4,215.3 359.8,209.2 356.5,215.6 353.2,222.1" fill="#dee8f0" stroke="#dee8f0" stroke-width="0.5"/>
<polygon points="354.4,215.3 357.7,209.3 361,203.3 366.5,196.4 363.1,202.8 359.8,209.2" fill="#dee8f0" stroke="#dee8f0" stroke-width="0.5"/>
<polygon points="361,203.3 364.4,197.4 367.7,191.5 373.1,183.8 369.8,190.1 366.5,196.4" fill="#dee8f0" stroke="#dee8f0" stroke-width="0.5"/>
<polygon points="367.7,191.5 371,185.6 374.4,179.8 379.8,171.2 376.5,177.4 373.1,183.8" fill="#dee8f0" stroke="#dee8f0" stroke-width="0.5"/>
<polygon points="374.4,179.8 377.7,174 381,168.2 386.5,158.6 383.1,164.9 379.8,171.2" fill="#dee8f0" stroke="#dee8f0" stroke-width="0.5"/>
<path d="M247.8 402.9L251.2 399.3L254.5 395.7L257.8 391.9L261.1 387.9L264.5 383.6L267.8 379L271.1 374L274.5 368.6L277.8 362.9L281.1 356.8L284.5 350.4L287.8 343.9L291.1 337.3L294.4 330.5L297.8 323.8L301.1 317L304.4 310.3L307.8 303.6L311.1 296.9L314.4 290.3L317.8 283.8L321.1 277.3L324.4 270.9L327.7 264.6L331.1 258.2L334.4 252L337.7 245.8L341.1 239.6L344.4 233.5L347.7 227.4L351.1 221.3L354.4 215.3L357.7 209.3L361 203.3L364.4 197.4L367.7 191.5L371 185.6L374.4 179.8L377.7 174L381 168.2" fill="none" stroke="#d66868" stroke-width="2" stroke-linejoin="round"/>
<polygon points="253.3,402.4 256.6,398.9 259.9,395.4 265.3,394.1 262,398 258.7,401.8" fill="#f6e5da" stroke="#f6e5da" stroke-width="0.5"/>
<polygon points="259.9,395.4 263.2,391.6 266.6,387.6 272,385.6 268.7,390 265.3,394.1" fill="#f6e5da" stroke="#f6e5da" stroke-width="0.5"/>
<polygon points="266.6,387.6 269.9,383.2 273.2,378.5 278.7,375.6 275.3,380.8 272,385.6" fill="#f6e5da" stroke="#f6e5da" stroke-width="0.5"/>
<polygon points="273.2,378.5 276.6,373.3 279.9,367.8 285.3,364.1 282,370 278.7,375.6" fill="#f6e5da" stroke="#f6e5da" stroke-width="0.5"/>
<polygon points="279.9,367.8 283.2,361.9 286.6,355.8 292,351.4 288.7,357.9 285.3,364.1" fill="#f6e5da" stroke="#f6e5da" stroke-width="0.5"/>
<polygon points="286.6,355.8 289.9,349.3 293.2,342.7 298.6,338 295.3,344.8 292,351.4" fill="#f6e5da" stroke="#f6e5da" stroke-width="0.5"/>
<polygon points="293.2,342.7 296.5,336 299.9,329.2 305.3,324.3 302,331.2 298.6,338" fill="#f6e5da" stroke="#f6e5da" stroke-width="0.5"/>
<polygon points="299.9,329.2 303.2,322.3 306.5,315.4 312,310.6 308.6,317.5 305.3,324.3" fill="#f6e5da" stroke="#f6e5da" stroke-width="0.5"/>
<polygon points="306.5,315.4 309.9,308.6 313.2,301.7 318.6,296.9 315.3,303.8 312,310.6" fill="#f6e5da" stroke="#f6e5da" stroke-width="0.5"/>
<polygon points="313.2,301.7 316.5,294.9 319.9,288.1 325.3,283.4 322,290.2 318.6,296.9" fill="#f6e5da" stroke="#f6e5da" stroke-width="0.5"/>
<polygon points="319.9,288.1 323.2,281.4 326.5,274.6 331.9,270 328.6,276.7 325.3,283.4" fill="#f6e5da" stroke="#f6e5da" stroke-width="0.5"/>
<polygon points="326.5,274.6 329.8,268 333.2,261.3 338.6,256.8 335.3,263.4 331.9,270" fill="#f6e5da" stroke="#f6e5da" stroke-width="0.5"/>
<polygon points="333.2,261.3 336.5,254.7 339.8,248.1 345.3,243.6 341.9,250.2 338.6,256.8" fill="#f6e5da" stroke="#f6e5da" stroke-width="0.5"/>
<polygon points="339.8,248.1 343.2,241.6 346.5,235 351.9,230.6 348.6,237.1 345.3,243.6" fill="#ece6e3" stroke="#ece6e3" stroke-width="0.5"/>
<polygon points="346.5,235 349.8,228.5 353.2,222.1 358.6,217.7 355.3,224.2 351.9,230.6" fill="#dee8f0" stroke="#dee8f0" stroke-width="0.5"/>
<polygon points="353.2,222.1 356.5,215.6 359.8,209.2 365.2,204.9 361.9,211.3 358.6,217.7" fill="#dee8f0" stroke="#dee8f0" stroke-width="0.5"/>
<polygon points="359.8,209.2 363.1,202.8 366.5,196.4 371.9,192.2 368.6,198.6 365.2,204.9" fill="#d6e3ee" stroke="#d6e3ee" stroke-width="0.5"/>
<polygon points="366.5,196.4 369.8,190.1 373.1,183.8 378.6,179.6 375.2,185.9 371.9,192.2" fill="#ccdcea" stroke="#ccdcea" stroke-width="0.5"/>
<polygon points="373.1,183.8 376.5,177.4 379.8,171.2 385.2,167.1 381.9,173.3 378.6,179.6" fill="#c1d5e7" stroke="#c1d5e7" stroke-width="0.5"/>
<polygon points="379.8,171.2 383.1,164.9 386.5,158.6 391.9,154.6 388.6,160.8 385.2,167.1" fill="#b7cee4" stroke="#b7cee4" stroke-width="0.5"/>
<path d="M253.3 402.4L256.6 398.9L259.9 395.4L263.2 391.6L266.6 387.6L269.9 383.2L273.2 378.5L276.6 373.3L279.9 367.8L283.2 361.9L286.6 355.8L289.9 349.3L293.2 342.7L296.5 336L299.9 329.2L303.2 322.3L306.5 315.4L309.9 308.6L313.2 301.7L316.5 294.9L319.9 288.1L323.2 281.4L326.5 274.6L329.8 268L333.2 261.3L336.5 254.7L339.8 248.1L343.2 241.6L346.5 235L349.8 228.5L353.2 222.1L356.5 215.6L359.8 209.2L363.1 202.8L366.5 196.4L369.8 190.1L373.1 183.8L376.5 177.4L379.8 171.2L383.1 164.9L386.5 158.6" fill="none" stroke="#d66868" stroke-width="2" stroke-linejoin="round"/>
<polygon points="258.7,401.8 262,398 265.3,394.1 270.8,394.9 267.4,398.1 264.1,401.1" fill="#f6e5da" stroke="#f6e5da" stroke-width="0.5"/>
<polygon points="265.3,394.1 268.7,390 272,385.6 277.4,387.6 274.1,391.4 270.8,394.9" fill="#f6e5da" stroke="#f6e5da" stroke-width="0.5"/>
<polygon points="272,385.6 275.3,380.8 278.7,375.6 284.1,378.9 280.8,383.5 277.4,387.6" fill="#f6e5da" stroke="#f6e5da" stroke-width="0.5"/>
<polygon points="278.7,375.6 282,370 285.3,364.1 290.8,368.6 287.4,374 284.1,378.9" fill="#f6e5da" stroke="#f6e5da" stroke-width="0.5"/>
<polygon points="285.3,364.1 288.7,357.9 292,351.4 297.4,356.9 294.1,362.9 290.8,368.6" fill="#f6e5da" stroke="#f6e5da" stroke-width="0.5"/>
<polygon points="292,351.4 295.3,344.8 298.6,338 304.1,344 300.7,350.6 297.4,356.9" fill="#f6e5da" stroke="#f6e5da" stroke-width="0.5"/>
<polygon points="298.6,338 302,331.2 305.3,324.3 310.7,330.5 307.4,337.3 304.1,344" fill="#f6e5da" stroke="#f6e5da" stroke-width="0.5"/>
<polygon points="305.3,324.3 308.6,317.5 312,310.6 317.4,316.4 314.1,323.5 310.7,330.5" fill="#f6e5da" stroke="#f6e5da" stroke-width="0.5"/>
<polygon points="312,310.6 315.3,303.8 318.6,296.9 324.1,301.9 320.7,309.2 317.4,316.4" fill="#f6e5da" stroke="#f6e5da" stroke-width="0.5"/>
<polygon points="318.6,296.9 322,290.2 325.3,283.4 330.7,287.3 327.4,294.6 324.1,301.9" fill="#f6e5da" stroke="#f6e5da" stroke-width="0.5"/>
<polygon points="325.3,283.4 328.6,276.7 331.9,270 337.4,272.4 334,279.8 330.7,287.3" fill="#f6e5da" stroke="#f6e5da" stroke-width="0.5"/>
<polygon points="331.9,270 335.3,263.4 338.6,256.8 344,257.4 340.7,264.9 337.4,272.4" fill="#f6e5da" stroke="#f6e5da" stroke-width="0.5"/>
<polygon points="338.6,256.8 341.9,250.2 345.3,243.6 350.7,242.2 347.4,249.8 344,257.4" fill="#f6e5da" stroke="#f6e5da" stroke-width="0.5"/>
<polygon points="345.3,243.6 348.6,237.1 351.9,230.6 357.4,226.9 354,234.6 350.7,242.2" fill="#e9e7e5" stroke="#e9e7e5" stroke-width="0.5"/>
<polygon points="351.9,230.6 355.3,224.2 358.6,217.7 364,211.6 360.7,219.3 357.4,226.9" fill="#dee8f0" stroke="#dee8f0" stroke-width="0.5"/>
<polygon points="358.6,217.7 361.9,211.3 365.2,204.9 370.7,196.1 367.3,203.8 364,211.6" fill="#d8e4ee" stroke="#d8e4ee" stroke-width="0.5"/>
<polygon points="365.2,204.9 368.6,198.6 371.9,192.2 377.3,180.5 374,188.3 370.7,196.1" fill="#cbdbea" stroke="#cbdbea" stroke-width="0.5"/>
<polygon points="371.9,192.2 375.2,185.9 378.6,179.6 384,164.9 380.7,172.7 377.3,180.5" fill="#bed3e6" stroke="#bed3e6" stroke-width="0.5"/>
<polygon points="378.6,179.6 381.9,173.3 385.2,167.1 390.7,149.2 387.3,157 384,164.9" fill="#b2cae2" stroke="#b2cae2" stroke-width="0.5"/>
<polygon points="385.2,167.1 388.6,160.8 391.9,154.6 397.3,133.3 394,141.3 390.7,149.2" fill="#a5c2df" stroke="#a5c2df" stroke-width="0.5"/>
<path d="M258.7 401.8L262 398L265.3 394.1L268.7 390L272 385.6L275.3 380.8L278.7 375.6L282 370L285.3 364.1L288.7 357.9L292 351.4L295.3 344.8L298.6 338L302 331.2L305.3 324.3L308.6 317.5L312 310.6L315.3 303.8L318.6 296.9L322 290.2L325.3 283.4L328.6 276.7L331.9 270L335.3 263.4L338.6 256.8L341.9 250.2L345.3 243.6L348.6 237.1L351.9 230.6L355.3 224.2L358.6 217.7L361.9 211.3L365.2 204.9L368.6 198.6L371.9 192.2L375.2 185.9L378.6 179.6L381.9 173.3L385.2 167.1L388.6 160.8L391.9 154.6" fill="none" stroke="#d66868" stroke-width="2" stroke-linejoin="round"/>
<polygon points="264.1,401.1 267.4,398.1 270.8,394.9 276.2,394.6 272.9,397.6 269.5,400.5" fill="#f6e5da" stroke="#f6e5da" stroke-width="0.5"/>
<polygon points="270.8,394.9 274.1,391.4 277.4,387.6 282.9,387.8 279.5,391.3 276.2,394.6" fill="#f6e5da" stroke="#f6e5da" stroke-width="0.5"/>
<polygon points="277.4,387.6 280.8,383.5 284.1,378.9 289.5,379.6 286.2,383.9 282.9,387.8" fill="#f6e5da" stroke="#f6e5da" stroke-width="0.5"/>
<polygon points="284.1,378.9 287.4,374 290.8,368.6 296.2,369.9 292.9,375 289.5,379.6" fill="#f6e5da" stroke="#f6e5da" stroke-width="0.5"/>
<polygon points="290.8,368.6 294.1,362.9 297.4,356.9 302.8,358.7 299.5,364.5 296.2,369.9" fill="#f6e5da" stroke="#f6e5da" stroke-width="0.5"/>
<polygon points="297.4,356.9 300.7,350.6 304.1,344 309.5,346.3 306.2,352.7 302.8,358.7" fill="#f6e5da" stroke="#f6e5da" stroke-width="0.5"/>
<polygon points="304.1,344 307.4,337.3 310.7,330.5 316.2,333 312.8,339.7 309.5,346.3" fill="#f6e5da" stroke="#f6e5da" stroke-width="0.5"/>
<polygon points="310.7,330.5 314.1,323.5 317.4,316.4 322.8,318.9 319.5,326 316.2,333" fill="#f6e5da" stroke="#f6e5da" stroke-width="0.5"/>
<polygon points="317.4,316.4 320.7,309.2 324.1,301.9 329.5,304.2 326.2,311.6 322.8,318.9" fill="#f6e5da" stroke="#f6e5da" stroke-width="0.5"/>
<polygon points="324.1,301.9 327.4,294.6 330.7,287.3 336.1,289.1 332.8,296.7 329.5,304.2" fill="#f6e5da" stroke="#f6e5da" stroke-width="0.5"/>
<polygon points="330.7,287.3 334,279.8 337.4,272.4 342.8,273.6 339.5,281.4 336.1,289.1" fill="#f6e5da" stroke="#f6e5da" stroke-width="0.5"/>
<polygon points="337.4,272.4 340.7,264.9 344,257.4 349.5,257.7 346.1,265.7 342.8,273.6" fill="#f6e5da" stroke="#f6e5da" stroke-width="0.5"/>
<polygon points="344,257.4 347.4,249.8 350.7,242.2 356.1,241.4 352.8,249.6 349.5,257.7" fill="#f6e5da" stroke="#f6e5da" stroke-width="0.5"/>
<polygon points="350.7,242.2 354,234.6 357.4,226.9 362.8,224.7 359.5,233.1 356.1,241.4" fill="#e9e7e6" stroke="#e9e7e6" stroke-width="0.5"/>
<polygon points="357.4,226.9 360.7,219.3 364,211.6 369.4,207.6 366.1,216.2 362.8,224.7" fill="#dee8f0" stroke="#dee8f0" stroke-width="0.5"/>
<polygon points="364,211.6 367.3,203.8 370.7,196.1 376.1,190 372.8,198.9 369.4,207.6" fill="#ceddeb" stroke="#ceddeb" stroke-width="0.5"/>
<polygon points="370.7,196.1 374,188.3 377.3,180.5 382.8,172 379.4,181.1 376.1,190" fill="#bed2e6" stroke="#bed2e6" stroke-width="0.5"/>
<polygon points="377.3,180.5 380.7,172.7 384,164.9 389.4,153.4 386.1,162.7 382.8,172" fill="#adc7e1" stroke="#adc7e1" stroke-width="0.5"/>
<polygon points="384,164.9 387.3,157 390.7,149.2 396.1,134.2 392.8,143.8 389.4,153.4" fill="#9cbcdc" stroke="#9cbcdc" stroke-width="0.5"/>
<polygon points="390.7,149.2 394,141.3 397.3,133.3 402.7,114.4 399.4,124.4 396.1,134.2" fill="#8ab0d6" stroke="#8ab0d6" stroke-width="0.5"/>
<path d="M264.1 401.1L267.4 398.1L270.8 394.9L274.1 391.4L277.4 387.6L280.8 383.5L284.1 378.9L287.4 374L290.8 368.6L294.1 362.9L297.4 356.9L300.7 350.6L304.1 344L307.4 337.3L310.7 330.5L314.1 323.5L317.4 316.4L320.7 309.2L324.1 301.9L327.4 294.6L330.7 287.3L334 279.8L337.4 272.4L340.7 264.9L344 257.4L347.4 249.8L350.7 242.2L354 234.6L357.4 226.9L360.7 219.3L364 211.6L367.3 203.8L370.7 196.1L374 188.3L377.3 180.5L380.7 172.7L384 164.9L387.3 157L390.7 149.2L394 141.3L397.3 133.3" fill="none" stroke="#d66868" stroke-width="2" stroke-linejoin="round"/>
<polygon points="269.5,400.5 272.9,397.6 276.2,394.6 281.6,394.1 278.3,397 275,399.7" fill="#f6e5da" stroke="#f6e5da" stroke-width="0.5"/>
<polygon points="276.2,394.6 279.5,391.3 282.9,387.8 288.3,387.6 285,391 281.6,394.1" fill="#f6e5da" stroke="#f6e5da" stroke-width="0.5"/>
<polygon points="282.9,387.8 286.2,383.9 289.5,379.6 295,379.8 291.6,383.9 288.3,387.6" fill="#f6e5da" stroke="#f6e5da" stroke-width="0.5"/>
<polygon points="289.5,379.6 292.9,375 296.2,369.9 301.6,370.6 298.3,375.4 295,379.8" fill="#f6e5da" stroke="#f6e5da" stroke-width="0.5"/>
<polygon points="296.2,369.9 299.5,364.5 302.8,358.7 308.3,359.9 304.9,365.4 301.6,370.6" fill="#f6e5da" stroke="#f6e5da" stroke-width="0.5"/>
<polygon points="302.8,358.7 306.2,352.7 309.5,346.3 314.9,347.8 311.6,354 308.3,359.9" fill="#f6e5da" stroke="#f6e5da" stroke-width="0.5"/>
<polygon points="309.5,346.3 312.8,339.7 316.2,333 321.6,334.8 318.3,341.4 314.9,347.8" fill="#f6e5da" stroke="#f6e5da" stroke-width="0.5"/>
<polygon points="316.2,333 319.5,326 322.8,318.9 328.3,320.8 324.9,327.9 321.6,334.8" fill="#f6e5da" stroke="#f6e5da" stroke-width="0.5"/>
<polygon points="322.8,318.9 326.2,311.6 329.5,304.2 334.9,306 331.6,313.5 328.3,320.8" fill="#f6e5da" stroke="#f6e5da" stroke-width="0.5"/>
<polygon points="329.5,304.2 332.8,296.7 336.1,289.1 341.6,290.5 338.2,298.3 334.9,306" fill="#f6e5da" stroke="#f6e5da" stroke-width="0.5"/>
<polygon points="336.1,289.1 339.5,281.4 342.8,273.6 348.2,274.4 344.9,282.5 341.6,290.5" fill="#f6e5da" stroke="#f6e5da" stroke-width="0.5"/>
<polygon points="342.8,273.6 346.1,265.7 349.5,257.7 354.9,257.7 351.6,266.2 348.2,274.4" fill="#f6e5da" stroke="#f6e5da" stroke-width="0.5"/>
<polygon points="349.5,257.7 352.8,249.6 356.1,241.4 361.6,240.3 358.2,249.1 354.9,257.7" fill="#f4e4da" stroke="#f4e4da" stroke-width="0.5"/>
<polygon points="356.1,241.4 359.5,233.1 362.8,224.7 368.2,222.1 364.9,231.3 361.6,240.3" fill="#e1e3e6" stroke="#e1e3e6" stroke-width="0.5"/>
<polygon points="362.8,224.7 366.1,216.2 369.4,207.6 374.9,202.9 371.5,212.6 368.2,222.1" fill="#cfdeeb" stroke="#cfdeeb" stroke-width="0.5"/>
<polygon points="369.4,207.6 372.8,198.9 376.1,190 381.5,182.5 378.2,192.8 374.9,202.9" fill="#c5d7e8" stroke="#c5d7e8" stroke-width="0.5"/>
<polygon points="376.1,190 379.4,181.1 382.8,172 388.2,160.8 384.9,171.8 381.5,182.5" fill="#b1cae2" stroke="#b1cae2" stroke-width="0.5"/>
<polygon points="382.8,172 386.1,162.7 389.4,153.4 394.9,137.7 391.5,149.5 388.2,160.8" fill="#9cbcdc" stroke="#9cbcdc" stroke-width="0.5"/>
<polygon points="389.4,153.4 392.8,143.8 396.1,134.2 401.5,113 398.2,125.5 394.9,137.7" fill="#85acd5" stroke="#85acd5" stroke-width="0.5"/>
<polygon points="396.1,134.2 399.4,124.4 402.7,114.4 408.2,86.4 404.8,99.9 401.5,113" fill="#6c9ccd" stroke="#6c9ccd" stroke-width="0.5"/>
<path d="M269.5 400.5L272.9 397.6L276.2 394.6L279.5 391.3L282.9 387.8L286.2 383.9L289.5 379.6L292.9 375L296.2 369.9L299.5 364.5L302.8 358.7L306.2 352.7L309.5 346.3L312.8 339.7L316.2 333L319.5 326L322.8 318.9L326.2 311.6L329.5 304.2L332.8 296.7L336.1 289.1L339.5 281.4L342.8 273.6L346.1 265.7L349.5 257.7L352.8 249.6L356.1 241.4L359.5 233.1L362.8 224.7L366.1 216.2L369.4 207.6L372.8 198.9L376.1 190L379.4 181.1L382.8 172L386.1 162.7L389.4 153.4L392.8 143.8L396.1 134.2L399.4 124.4L402.7 114.4" fill="none" stroke="#d66868" stroke-width="2" stroke-linejoin="round"/>
<polygon points="275,399.7 278.3,397 281.6,394.1 287.1,393.2 283.7,396.1 280.4,398.9" fill="#f6e5da" stroke="#f6e5da" stroke-width="0.5"/>
<polygon points="281.6,394.1 285,391 288.3,387.6 293.7,386.6 290.4,390 287.1,393.2" fill="#f6e5da" stroke="#f6e5da" stroke-width="0.5"/>
<polygon points="288.3,387.6 291.6,383.9 295,379.8 300.4,378.7 297,382.8 293.7,386.6" fill="#f6e5da" stroke="#f6e5da" stroke-width="0.5"/>
<polygon points="295,379.8 298.3,375.4 301.6,370.6 307,369.3 303.7,374.2 300.4,378.7" fill="#f6e5da" stroke="#f6e5da" stroke-width="0.5"/>
<polygon points="301.6,370.6 304.9,365.4 308.3,359.9 313.7,358.6 310.4,364.1 307,369.3" fill="#f6e5da" stroke="#f6e5da" stroke-width="0.5"/>
<polygon points="308.3,359.9 311.6,354 314.9,347.8 320.4,346.6 317,352.7 313.7,358.6" fill="#f6e5da" stroke="#f6e5da" stroke-width="0.5"/>
<polygon points="314.9,347.8 318.3,341.4 321.6,334.8 327,333.5 323.7,340.2 320.4,346.6" fill="#f6e5da" stroke="#f6e5da" stroke-width="0.5"/>
<polygon points="321.6,334.8 324.9,327.9 328.3,320.8 333.7,319.6 330.3,326.7 327,333.5" fill="#f6e5da" stroke="#f6e5da" stroke-width="0.5"/>
<polygon points="328.3,320.8 331.6,313.5 334.9,306 340.3,304.9 337,312.3 333.7,319.6" fill="#f6e5da" stroke="#f6e5da" stroke-width="0.5"/>
<polygon points="334.9,306 338.2,298.3 341.6,290.5 347,289.4 343.7,297.2 340.3,304.9" fill="#f6e5da" stroke="#f6e5da" stroke-width="0.5"/>
<polygon points="341.6,290.5 344.9,282.5 348.2,274.4 353.7,273.3 350.3,281.4 347,289.4" fill="#f6e5da" stroke="#f6e5da" stroke-width="0.5"/>
<polygon points="348.2,274.4 351.6,266.2 354.9,257.7 360.3,256.6 357,265 353.7,273.3" fill="#f6e5da" stroke="#f6e5da" stroke-width="0.5"/>
<polygon points="354.9,257.7 358.2,249.1 361.6,240.3 367,239.1 363.6,247.9 360.3,256.6" fill="#f2e3d9" stroke="#f2e3d9" stroke-width="0.5"/>
<polygon points="361.6,240.3 364.9,231.3 368.2,222.1 373.6,220.8 370.3,230.1 367,239.1" fill="#dbdfe5" stroke="#dbdfe5" stroke-width="0.5"/>
<polygon points="368.2,222.1 371.5,212.6 374.9,202.9 380.3,201.7 377,211.4 373.6,220.8" fill="#c6d8e9" stroke="#c6d8e9" stroke-width="0.5"/>
<polygon points="374.9,202.9 378.2,192.8 381.5,182.5 387,181.4 383.6,191.7 380.3,201.7" fill="#b7cee4" stroke="#b7cee4" stroke-width="0.5"/>
<polygon points="381.5,182.5 384.9,171.8 388.2,160.8 393.6,160 390.3,170.9 387,181.4" fill="#a9c5e0" stroke="#a9c5e0" stroke-width="0.5"/>
<polygon points="388.2,160.8 391.5,149.5 394.9,137.7 400.3,137.4 396.9,148.9 393.6,160" fill="#91b4d8" stroke="#91b4d8" stroke-width="0.5"/>
<polygon points="394.9,137.7 398.2,125.5 401.5,113 406.9,113.3 403.6,125.5 400.3,137.4" fill="#77a3d1" stroke="#77a3d1" stroke-width="0.5"/>
<polygon points="401.5,113 404.8,99.9 408.2,86.4 413.6,87.8 410.3,100.7 406.9,113.3" fill="#5e92c9" stroke="#5e92c9" stroke-width="0.5"/>
<path d="M275 399.7L278.3 397L281.6 394.1L285 391L288.3 387.6L291.6 383.9L295 379.8L298.3 375.4L301.6 370.6L304.9 365.4L308.3 359.9L311.6 354L314.9 347.8L318.3 341.4L321.6 334.8L324.9 327.9L328.3 320.8L331.6 313.5L334.9 306L338.2 298.3L341.6 290.5L344.9 282.5L348.2 274.4L351.6 266.2L354.9 257.7L358.2 249.1L361.6 240.3L364.9 231.3L368.2 222.1L371.5 212.6L374.9 202.9L378.2 192.8L381.5 182.5L384.9 171.8L388.2 160.8L391.5 149.5L394.9 137.7L398.2 125.5L401.5 113L404.8 99.9L408.2 86.4" fill="none" stroke="#d66868" stroke-width="2" stroke-linejoin="round"/>
<polygon points="280.4,398.9 283.7,396.1 287.1,393.2 292.5,392.1 289.2,395 285.8,397.8" fill="#f6e5da" stroke="#f6e5da" stroke-width="0.5"/>
<polygon points="287.1,393.2 290.4,390 293.7,386.6 299.1,385.4 295.8,388.9 292.5,392.1" fill="#f6e5da" stroke="#f6e5da" stroke-width="0.5"/>
<polygon points="293.7,386.6 297,382.8 300.4,378.7 305.8,377.4 302.5,381.6 299.1,385.4" fill="#f6e5da" stroke="#f6e5da" stroke-width="0.5"/>
<polygon points="300.4,378.7 303.7,374.2 307,369.3 312.5,368 309.1,372.9 305.8,377.4" fill="#f6e5da" stroke="#f6e5da" stroke-width="0.5"/>
<polygon points="307,369.3 310.4,364.1 313.7,358.6 319.1,357.3 315.8,362.8 312.5,368" fill="#f6e5da" stroke="#f6e5da" stroke-width="0.5"/>
<polygon points="313.7,358.6 317,352.7 320.4,346.6 325.8,345.3 322.5,351.5 319.1,357.3" fill="#f6e5da" stroke="#f6e5da" stroke-width="0.5"/>
<polygon points="320.4,346.6 323.7,340.2 327,333.5 332.4,332.4 329.1,339 325.8,345.3" fill="#f6e5da" stroke="#f6e5da" stroke-width="0.5"/>
<polygon points="327,333.5 330.3,326.7 333.7,319.6 339.1,318.5 335.8,325.5 332.4,332.4" fill="#f6e5da" stroke="#f6e5da" stroke-width="0.5"/>
<polygon points="333.7,319.6 337,312.3 340.3,304.9 345.8,303.8 342.4,311.2 339.1,318.5" fill="#f6e5da" stroke="#f6e5da" stroke-width="0.5"/>
<polygon points="340.3,304.9 343.7,297.2 347,289.4 352.4,288.3 349.1,296.1 345.8,303.8" fill="#f6e5da" stroke="#f6e5da" stroke-width="0.5"/>
<polygon points="347,289.4 350.3,281.4 353.7,273.3 359.1,272.2 355.8,280.3 352.4,288.3" fill="#f6e5da" stroke="#f6e5da" stroke-width="0.5"/>
<polygon points="353.7,273.3 357,265 360.3,256.6 365.7,255.3 362.4,263.8 359.1,272.2" fill="#f6e5da" stroke="#f6e5da" stroke-width="0.5"/>
<polygon points="360.3,256.6 363.6,247.9 367,239.1 372.4,237.7 369.1,246.6 365.7,255.3" fill="#f1e2d9" stroke="#f1e2d9" stroke-width="0.5"/>
<polygon points="367,239.1 370.3,230.1 373.6,220.8 379.1,219.2 375.7,228.6 372.4,237.7" fill="#d9dfe6" stroke="#d9dfe6" stroke-width="0.5"/>
<polygon points="373.6,220.8 377,211.4 380.3,201.7 385.7,199.5 382.4,209.5 379.1,219.2" fill="#c4d6e8" stroke="#c4d6e8" stroke-width="0.5"/>
<polygon points="380.3,201.7 383.6,191.7 387,181.4 392.4,178.5 389.1,189.2 385.7,199.5" fill="#b4cce3" stroke="#b4cce3" stroke-width="0.5"/>
<polygon points="387,181.4 390.3,170.9 393.6,160 399,156.1 395.7,167.5 392.4,178.5" fill="#a5c2df" stroke="#a5c2df" stroke-width="0.5"/>
<polygon points="393.6,160 396.9,148.9 400.3,137.4 405.7,132.1 402.4,144.3 399,156.1" fill="#8db2d7" stroke="#8db2d7" stroke-width="0.5"/>
<polygon points="400.3,137.4 403.6,125.5 406.9,113.3 412.4,106.3 409,119.4 405.7,132.1" fill="#72a0cf" stroke="#72a0cf" stroke-width="0.5"/>
<polygon points="406.9,113.3 410.3,100.7 413.6,87.8 419,78.6 415.7,92.7 412.4,106.3" fill="#5e92c9" stroke="#5e92c9" stroke-width="0.5"/>
<path d="M280.4 398.9L283.7 396.1L287.1 393.2L290.4 390L293.7 386.6L297 382.8L300.4 378.7L303.7 374.2L307 369.3L310.4 364.1L313.7 358.6L317 352.7L320.4 346.6L323.7 340.2L327 333.5L330.3 326.7L333.7 319.6L337 312.3L340.3 304.9L343.7 297.2L347 289.4L350.3 281.4L353.7 273.3L357 265L360.3 256.6L363.6 247.9L367 239.1L370.3 230.1L373.6 220.8L377 211.4L380.3 201.7L383.6 191.7L387 181.4L390.3 170.9L393.6 160L396.9 148.9L400.3 137.4L403.6 125.5L406.9 113.3L410.3 100.7L413.6 87.8" fill="none" stroke="#d66868" stroke-width="2" stroke-linejoin="round"/>
<polygon points="285.8,397.8 289.2,395 292.5,392.1 297.9,390.6 294.6,393.6 291.3,396.3" fill="#f6e5da" stroke="#f6e5da" stroke-width="0.5"/>
<polygon points="292.5,392.1 295.8,388.9 299.1,385.4 304.6,383.9 301.2,387.4 297.9,390.6" fill="#f6e5da" stroke="#f6e5da" stroke-width="0.5"/>
<polygon points="299.1,385.4 302.5,381.6 305.8,377.4 311.2,375.9 307.9,380.1 304.6,383.9" fill="#f6e5da" stroke="#f6e5da" stroke-width="0.5"/>
<polygon points="305.8,377.4 309.1,372.9 312.5,368 317.9,366.5 314.6,371.4 311.2,375.9" fill="#f6e5da" stroke="#f6e5da" stroke-width="0.5"/>
<polygon points="312.5,368 315.8,362.8 319.1,357.3 324.6,355.8 321.2,361.3 317.9,366.5" fill="#f6e5da" stroke="#f6e5da" stroke-width="0.5"/>
<polygon points="319.1,357.3 322.5,351.5 325.8,345.3 331.2,343.9 327.9,350 324.6,355.8" fill="#f6e5da" stroke="#f6e5da" stroke-width="0.5"/>
<polygon points="325.8,345.3 329.1,339 332.4,332.4 337.9,331 334.5,337.6 331.2,343.9" fill="#f6e5da" stroke="#f6e5da" stroke-width="0.5"/>
<polygon points="332.4,332.4 335.8,325.5 339.1,318.5 344.5,317.2 341.2,324.2 337.9,331" fill="#f6e5da" stroke="#f6e5da" stroke-width="0.5"/>
<polygon points="339.1,318.5 342.4,311.2 345.8,303.8 351.2,302.6 347.9,310 344.5,317.2" fill="#f6e5da" stroke="#f6e5da" stroke-width="0.5"/>
<polygon points="345.8,303.8 349.1,296.1 352.4,288.3 357.9,287.1 354.5,294.9 351.2,302.6" fill="#f6e5da" stroke="#f6e5da" stroke-width="0.5"/>
<polygon points="352.4,288.3 355.8,280.3 359.1,272.2 364.5,271 361.2,279.1 357.9,287.1" fill="#f6e5da" stroke="#f6e5da" stroke-width="0.5"/>
<polygon points="359.1,272.2 362.4,263.8 365.7,255.3 371.2,254.1 367.8,262.6 364.5,271" fill="#f5e5da" stroke="#f5e5da" stroke-width="0.5"/>
<polygon points="365.7,255.3 369.1,246.6 372.4,237.7 377.8,236 374.5,245.2 371.2,254.1" fill="#f0e2d9" stroke="#f0e2d9" stroke-width="0.5"/>
<polygon points="372.4,237.7 375.7,228.6 379.1,219.2 384.5,216.4 381.2,226.4 377.8,236" fill="#d3dce5" stroke="#d3dce5" stroke-width="0.5"/>
<polygon points="379.1,219.2 382.4,209.5 385.7,199.5 391.2,194.7 387.8,205.8 384.5,216.4" fill="#b9cfe5" stroke="#b9cfe5" stroke-width="0.5"/>
<polygon points="385.7,199.5 389.1,189.2 392.4,178.5 397.8,170.6 394.5,183 391.2,194.7" fill="#a0bfdd" stroke="#a0bfdd" stroke-width="0.5"/>
<polygon points="392.4,178.5 395.7,167.5 399,156.1 404.5,143.4 401.1,157.4 397.8,170.6" fill="#8ab0d6" stroke="#8ab0d6" stroke-width="0.5"/>
<polygon points="399,156.1 402.4,144.3 405.7,132.1 411.1,112.9 407.8,128.6 404.5,143.4" fill="#719fcf" stroke="#719fcf" stroke-width="0.5"/>
<polygon points="405.7,132.1 409,119.4 412.4,106.3 417.8,78.5 414.5,96.2 411.1,112.9" fill="#548cc6" stroke="#548cc6" stroke-width="0.5"/>
<polygon points="412.4,106.3 415.7,92.7 419,78.6 424.5,39.7 421.1,59.7 417.8,78.5" fill="#3576bc" stroke="#3576bc" stroke-width="0.5"/>
<path d="M285.8 397.8L289.2 395L292.5 392.1L295.8 388.9L299.1 385.4L302.5 381.6L305.8 377.4L309.1 372.9L312.5 368L315.8 362.8L319.1 357.3L322.5 351.5L325.8 345.3L329.1 339L332.4 332.4L335.8 325.5L339.1 318.5L342.4 311.2L345.8 303.8L349.1 296.1L352.4 288.3L355.8 280.3L359.1 272.2L362.4 263.8L365.7 255.3L369.1 246.6L372.4 237.7L375.7 228.6L379.1 219.2L382.4 209.5L385.7 199.5L389.1 189.2L392.4 178.5L395.7 167.5L399 156.1L402.4 144.3L405.7 132.1L409 119.4L412.4 106.3L415.7 92.7L419 78.6" fill="none" stroke="#d66868" stroke-width="2" stroke-linejoin="round"/>
<polygon points="291.3,396.3 294.6,393.6 297.9,390.6 303.3,388.3 300,391.1 296.7,393.8" fill="#f6e5da" stroke="#f6e5da" stroke-width="0.5"/>
<polygon points="297.9,390.6 301.2,387.4 304.6,383.9 310,382 306.7,385.2 303.3,388.3" fill="#f6e5da" stroke="#f6e5da" stroke-width="0.5"/>
<polygon points="304.6,383.9 307.9,380.1 311.2,375.9 316.7,374.6 313.3,378.4 310,382" fill="#f6e5da" stroke="#f6e5da" stroke-width="0.5"/>
<polygon points="311.2,375.9 314.6,371.4 317.9,366.5 323.3,366 320,370.4 316.7,374.6" fill="#f6e5da" stroke="#f6e5da" stroke-width="0.5"/>
<polygon points="317.9,366.5 321.2,361.3 324.6,355.8 330,356.1 326.7,361.2 323.3,366" fill="#f6e5da" stroke="#f6e5da" stroke-width="0.5"/>
<polygon points="324.6,355.8 327.9,350 331.2,343.9 336.6,345.1 333.3,350.8 330,356.1" fill="#f6e5da" stroke="#f6e5da" stroke-width="0.5"/>
<polygon points="331.2,343.9 334.5,337.6 337.9,331 343.3,333.1 340,339.2 336.6,345.1" fill="#f6e5da" stroke="#f6e5da" stroke-width="0.5"/>
<polygon points="337.9,331 341.2,324.2 344.5,317.2 350,320 346.6,326.6 343.3,333.1" fill="#f6e5da" stroke="#f6e5da" stroke-width="0.5"/>
<polygon points="344.5,317.2 347.9,310 351.2,302.6 356.6,305.9 353.3,313.1 350,320" fill="#f6e5da" stroke="#f6e5da" stroke-width="0.5"/>
<polygon points="351.2,302.6 354.5,294.9 357.9,287.1 363.3,291 360,298.6 356.6,305.9" fill="#f6e5da" stroke="#f6e5da" stroke-width="0.5"/>
<polygon points="357.9,287.1 361.2,279.1 364.5,271 369.9,275.2 366.6,283.2 363.3,291" fill="#f6e5da" stroke="#f6e5da" stroke-width="0.5"/>
<polygon points="364.5,271 367.8,262.6 371.2,254.1 376.6,258.5 373.3,267 369.9,275.2" fill="#f5e5da" stroke="#f5e5da" stroke-width="0.5"/>
<polygon points="371.2,254.1 374.5,245.2 377.8,236 383.3,240.8 379.9,249.8 376.6,258.5" fill="#f0e1d9" stroke="#f0e1d9" stroke-width="0.5"/>
<polygon points="377.8,236 381.2,226.4 384.5,216.4 389.9,221.9 386.6,231.5 383.3,240.8" fill="#d3dbe5" stroke="#d3dbe5" stroke-width="0.5"/>
<polygon points="384.5,216.4 387.8,205.8 391.2,194.7 396.6,201.7 393.3,212 389.9,221.9" fill="#b6cde4" stroke="#b6cde4" stroke-width="0.5"/>
<polygon points="391.2,194.7 394.5,183 397.8,170.6 403.2,180 399.9,191 396.6,201.7" fill="#9dbcdc" stroke="#9dbcdc" stroke-width="0.5"/>
<polygon points="397.8,170.6 401.1,157.4 404.5,143.4 409.9,156.5 406.6,168.5 403.2,180" fill="#85acd5" stroke="#85acd5" stroke-width="0.5"/>
<polygon points="404.5,143.4 407.8,128.6 411.1,112.9 416.6,131.3 413.2,144.1 409.9,156.5" fill="#6b9bcd" stroke="#6b9bcd" stroke-width="0.5"/>
<polygon points="411.1,112.9 414.5,96.2 417.8,78.5 423.2,103.9 419.9,117.9 416.6,131.3" fill="#4d87c4" stroke="#4d87c4" stroke-width="0.5"/>
<polygon points="417.8,78.5 421.1,59.7 424.5,39.7 429.9,74.4 426.6,89.5 423.2,103.9" fill="#3476bc" stroke="#3476bc" stroke-width="0.5"/>
<path d="M291.3 396.3L294.6 393.6L297.9 390.6L301.2 387.4L304.6 383.9L307.9 380.1L311.2 375.9L314.6 371.4L317.9 366.5L321.2 361.3L324.6 355.8L327.9 350L331.2 343.9L334.5 337.6L337.9 331L341.2 324.2L344.5 317.2L347.9 310L351.2 302.6L354.5 294.9L357.9 287.1L361.2 279.1L364.5 271L367.8 262.6L371.2 254.1L374.5 245.2L377.8 236L381.2 226.4L384.5 216.4L387.8 205.8L391.2 194.7L394.5 183L397.8 170.6L401.1 157.4L404.5 143.4L407.8 128.6L411.1 112.9L414.5 96.2L417.8 78.5L421.1 59.7L424.5 39.7" fill="none" stroke="#d66868" stroke-width="2" stroke-linejoin="round"/>
<polygon points="296.7,393.8 300,391.1 303.3,388.3 308.8,384.9 305.4,388.5 302.1,391.8" fill="#f6e5da" stroke="#f6e5da" stroke-width="0.5"/>
<polygon points="303.3,388.3 306.7,385.2 310,382 315.4,377.4 312.1,381.3 308.8,384.9" fill="#f6e5da" stroke="#f6e5da" stroke-width="0.5"/>
<polygon points="310,382 313.3,378.4 316.7,374.6 322.1,369.2 318.8,373.4 315.4,377.4" fill="#f6e5da" stroke="#f6e5da" stroke-width="0.5"/>
<polygon points="316.7,374.6 320,370.4 323.3,366 328.8,360.3 325.4,364.8 322.1,369.2" fill="#f6e5da" stroke="#f6e5da" stroke-width="0.5"/>
<polygon points="323.3,366 326.7,361.2 330,356.1 335.4,350.8 332.1,355.6 328.8,360.3" fill="#f6e5da" stroke="#f6e5da" stroke-width="0.5"/>
<polygon points="330,356.1 333.3,350.8 336.6,345.1 342.1,340.5 338.7,345.7 335.4,350.8" fill="#f6e5da" stroke="#f6e5da" stroke-width="0.5"/>
<polygon points="336.6,345.1 340,339.2 343.3,333.1 348.7,329.5 345.4,335.1 342.1,340.5" fill="#f6e5da" stroke="#f6e5da" stroke-width="0.5"/>
<polygon points="343.3,333.1 346.6,326.6 350,320 355.4,317.7 352.1,323.7 348.7,329.5" fill="#f6e5da" stroke="#f6e5da" stroke-width="0.5"/>
<polygon points="350,320 353.3,313.1 356.6,305.9 362.1,305.1 358.7,311.5 355.4,317.7" fill="#f6e5da" stroke="#f6e5da" stroke-width="0.5"/>
<polygon points="356.6,305.9 360,298.6 363.3,291 368.7,291.6 365.4,298.4 362.1,305.1" fill="#f6e5da" stroke="#f6e5da" stroke-width="0.5"/>
<polygon points="363.3,291 366.6,283.2 369.9,275.2 375.4,277.1 372,284.5 368.7,291.6" fill="#f6e5da" stroke="#f6e5da" stroke-width="0.5"/>
<polygon points="369.9,275.2 373.3,267 376.6,258.5 382,261.7 378.7,269.5 375.4,277.1" fill="#f6e5da" stroke="#f6e5da" stroke-width="0.5"/>
<polygon points="376.6,258.5 379.9,249.8 383.3,240.8 388.7,245.3 385.4,253.6 382,261.7" fill="#f3e3da" stroke="#f3e3da" stroke-width="0.5"/>
<polygon points="383.3,240.8 386.6,231.5 389.9,221.9 395.4,227.8 392,236.7 388.7,245.3" fill="#dce0e5" stroke="#dce0e5" stroke-width="0.5"/>
<polygon points="389.9,221.9 393.3,212 396.6,201.7 402,209.3 398.7,218.7 395.4,227.8" fill="#c4d7e8" stroke="#c4d7e8" stroke-width="0.5"/>
<polygon points="396.6,201.7 399.9,191 403.2,180 408.7,189.6 405.3,199.6 402,209.3" fill="#b3cbe3" stroke="#b3cbe3" stroke-width="0.5"/>
<polygon points="403.2,180 406.6,168.5 409.9,156.5 415.3,168.7 412,179.3 408.7,189.6" fill="#a5c2de" stroke="#a5c2de" stroke-width="0.5"/>
<polygon points="409.9,156.5 413.2,144.1 416.6,131.3 422,146.7 418.7,157.9 415.3,168.7" fill="#91b4d8" stroke="#91b4d8" stroke-width="0.5"/>
<polygon points="416.6,131.3 419.9,117.9 423.2,103.9 428.7,123.5 425.3,135.2 422,146.7" fill="#75a2d0" stroke="#75a2d0" stroke-width="0.5"/>
<polygon points="423.2,103.9 426.6,89.5 429.9,74.4 435.3,98.9 432,111.4 428.7,123.5" fill="#5e92c9" stroke="#5e92c9" stroke-width="0.5"/>
<path d="M296.7 393.8L300 391.1L303.3 388.3L306.7 385.2L310 382L313.3 378.4L316.7 374.6L320 370.4L323.3 366L326.7 361.2L330 356.1L333.3 350.8L336.6 345.1L340 339.2L343.3 333.1L346.6 326.6L350 320L353.3 313.1L356.6 305.9L360 298.6L363.3 291L366.6 283.2L369.9 275.2L373.3 267L376.6 258.5L379.9 249.8L383.3 240.8L386.6 231.5L389.9 221.9L393.3 212L396.6 201.7L399.9 191L403.2 180L406.6 168.5L409.9 156.5L413.2 144.1L416.6 131.3L419.9 117.9L423.2 103.9L426.6 89.5L429.9 74.4" fill="none" stroke="#d66868" stroke-width="2" stroke-linejoin="round"/>
<polygon points="302.1,391.8 305.4,388.5 308.8,384.9 314.2,380.2 310.9,385.4 307.5,390.3" fill="#f6e5da" stroke="#f6e5da" stroke-width="0.5"/>
<polygon points="308.8,384.9 312.1,381.3 315.4,377.4 320.9,368.9 317.5,374.7 314.2,380.2" fill="#f6e5da" stroke="#f6e5da" stroke-width="0.5"/>
<polygon points="315.4,377.4 318.8,373.4 322.1,369.2 327.5,357 324.2,363 320.9,368.9" fill="#f6e5da" stroke="#f6e5da" stroke-width="0.5"/>
<polygon points="322.1,369.2 325.4,364.8 328.8,360.3 334.2,344.8 330.9,350.9 327.5,357" fill="#f6e5da" stroke="#f6e5da" stroke-width="0.5"/>
<polygon points="328.8,360.3 332.1,355.6 335.4,350.8 340.8,332.8 337.5,338.8 334.2,344.8" fill="#f6e5db" stroke="#f6e5db" stroke-width="0.5"/>
<polygon points="335.4,350.8 338.7,345.7 342.1,340.5 347.5,320.9 344.2,326.8 340.8,332.8" fill="#f6e6db" stroke="#f6e6db" stroke-width="0.5"/>
<polygon points="342.1,340.5 345.4,335.1 348.7,329.5 354.2,309.3 350.8,315.1 347.5,320.9" fill="#f6e6dc" stroke="#f6e6dc" stroke-width="0.5"/>
<polygon points="348.7,329.5 352.1,323.7 355.4,317.7 360.8,298 357.5,303.6 354.2,309.3" fill="#f6e6dc" stroke="#f6e6dc" stroke-width="0.5"/>
<polygon points="355.4,317.7 358.7,311.5 362.1,305.1 367.5,286.8 364.2,292.4 360.8,298" fill="#f6e6dc" stroke="#f6e6dc" stroke-width="0.5"/>
<polygon points="362.1,305.1 365.4,298.4 368.7,291.6 374.1,275.6 370.8,281.2 367.5,286.8" fill="#f6e6dc" stroke="#f6e6dc" stroke-width="0.5"/>
<polygon points="368.7,291.6 372,284.5 375.4,277.1 380.8,264.3 377.5,270 374.1,275.6" fill="#f6e6dc" stroke="#f6e6dc" stroke-width="0.5"/>
<polygon points="375.4,277.1 378.7,269.5 382,261.7 387.5,252.5 384.1,258.4 380.8,264.3" fill="#f6e6dc" stroke="#f6e6dc" stroke-width="0.5"/>
<polygon points="382,261.7 385.4,253.6 388.7,245.3 394.1,239.7 390.8,246.2 387.5,252.5" fill="#f6e6dc" stroke="#f6e6dc" stroke-width="0.5"/>
<polygon points="388.7,245.3 392,236.7 395.4,227.8 400.8,225.5 397.5,232.8 394.1,239.7" fill="#e9e7e7" stroke="#e9e7e7" stroke-width="0.5"/>
<polygon points="395.4,227.8 398.7,218.7 402,209.3 407.4,209.1 404.1,217.6 400.8,225.5" fill="#d5e2ed" stroke="#d5e2ed" stroke-width="0.5"/>
<polygon points="402,209.3 405.3,199.6 408.7,189.6 414.1,189.8 410.8,199.9 407.4,209.1" fill="#c0d4e7" stroke="#c0d4e7" stroke-width="0.5"/>
<polygon points="408.7,189.6 412,179.3 415.3,168.7 420.8,166.9 417.4,178.9 414.1,189.8" fill="#a7c3df" stroke="#a7c3df" stroke-width="0.5"/>
<polygon points="415.3,168.7 418.7,157.9 422,146.7 427.4,139.5 424.1,153.8 420.8,166.9" fill="#8bb0d7" stroke="#8bb0d7" stroke-width="0.5"/>
<polygon points="422,146.7 425.3,135.2 428.7,123.5 434.1,106.6 430.8,123.8 427.4,139.5" fill="#699acc" stroke="#699acc" stroke-width="0.5"/>
<polygon points="428.7,123.5 432,111.4 435.3,98.9 440.7,67.2 437.4,87.8 434.1,106.6" fill="#427fc0" stroke="#427fc0" stroke-width="0.5"/>
<path d="M302.1 391.8L305.4 388.5L308.8 384.9L312.1 381.3L315.4 377.4L318.8 373.4L322.1 369.2L325.4 364.8L328.8 360.3L332.1 355.6L335.4 350.8L338.7 345.7L342.1 340.5L345.4 335.1L348.7 329.5L352.1 323.7L355.4 317.7L358.7 311.5L362.1 305.1L365.4 298.4L368.7 291.6L372 284.5L375.4 277.1L378.7 269.5L382 261.7L385.4 253.6L388.7 245.3L392 236.7L395.4 227.8L398.7 218.7L402 209.3L405.3 199.6L408.7 189.6L412 179.3L415.3 168.7L418.7 157.9L422 146.7L425.3 135.2L428.7 123.5L432 111.4L435.3 98.9" fill="none" stroke="#d66868" stroke-width="2" stroke-linejoin="round"/>
<polygon points="307.5,390.3 310.9,385.4 314.2,380.2 319.6,377.4 316.3,383.6 313,389.4" fill="#f6e5da" stroke="#f6e5da" stroke-width="0.5"/>
<polygon points="314.2,380.2 317.5,374.7 320.9,368.9 326.3,363.9 323,370.8 319.6,377.4" fill="#f6e5da" stroke="#f6e5da" stroke-width="0.5"/>
<polygon points="320.9,368.9 324.2,363 327.5,357 333,349.5 329.6,356.7 326.3,363.9" fill="#f6e5da" stroke="#f6e5da" stroke-width="0.5"/>
<polygon points="327.5,357 330.9,350.9 334.2,344.8 339.6,334.9 336.3,342.2 333,349.5" fill="#f6e6db" stroke="#f6e6db" stroke-width="0.5"/>
<polygon points="334.2,344.8 337.5,338.8 340.8,332.8 346.3,320.5 342.9,327.6 339.6,334.9" fill="#f6e7dc" stroke="#f6e7dc" stroke-width="0.5"/>
<polygon points="340.8,332.8 344.2,326.8 347.5,320.9 352.9,306.4 349.6,313.4 346.3,320.5" fill="#f6e8de" stroke="#f6e8de" stroke-width="0.5"/>
<polygon points="347.5,320.9 350.8,315.1 354.2,309.3 359.6,292.8 356.3,299.5 352.9,306.4" fill="#f7e9e0" stroke="#f7e9e0" stroke-width="0.5"/>
<polygon points="354.2,309.3 357.5,303.6 360.8,298 366.3,279.6 362.9,286.2 359.6,292.8" fill="#f7e9e0" stroke="#f7e9e0" stroke-width="0.5"/>
<polygon points="360.8,298 364.2,292.4 367.5,286.8 372.9,266.9 369.6,273.2 366.3,279.6" fill="#f7e9e0" stroke="#f7e9e0" stroke-width="0.5"/>
<polygon points="367.5,286.8 370.8,281.2 374.1,275.6 379.6,254.5 376.2,260.7 372.9,266.9" fill="#f7e9e0" stroke="#f7e9e0" stroke-width="0.5"/>
<polygon points="374.1,275.6 377.5,270 380.8,264.3 386.2,242.4 382.9,248.5 379.6,254.5" fill="#f7e9e0" stroke="#f7e9e0" stroke-width="0.5"/>
<polygon points="380.8,264.3 384.1,258.4 387.5,252.5 392.9,230.4 389.6,236.4 386.2,242.4" fill="#f7e9e0" stroke="#f7e9e0" stroke-width="0.5"/>
<polygon points="387.5,252.5 390.8,246.2 394.1,239.7 399.6,218.4 396.2,224.4 392.9,230.4" fill="#f7e9e0" stroke="#f7e9e0" stroke-width="0.5"/>
<polygon points="394.1,239.7 397.5,232.8 400.8,225.5 406.2,206.1 402.9,212.3 399.6,218.4" fill="#e8e7e7" stroke="#e8e7e7" stroke-width="0.5"/>
<polygon points="400.8,225.5 404.1,217.6 407.4,209.1 412.9,193.3 409.5,199.8 406.2,206.1" fill="#cbdbea" stroke="#cbdbea" stroke-width="0.5"/>
<polygon points="407.4,209.1 410.8,199.9 414.1,189.8 419.5,179.8 416.2,186.7 412.9,193.3" fill="#bcd1e6" stroke="#bcd1e6" stroke-width="0.5"/>
<polygon points="414.1,189.8 417.4,178.9 420.8,166.9 426.2,165.2 422.9,172.7 419.5,179.8" fill="#abc6e0" stroke="#abc6e0" stroke-width="0.5"/>
<polygon points="420.8,166.9 424.1,153.8 427.4,139.5 432.9,149.2 429.5,157.4 426.2,165.2" fill="#95b7da" stroke="#95b7da" stroke-width="0.5"/>
<polygon points="427.4,139.5 430.8,123.8 434.1,106.6 439.5,131.4 436.2,140.6 432.9,149.2" fill="#7ba6d2" stroke="#7ba6d2" stroke-width="0.5"/>
<polygon points="434.1,106.6 437.4,87.8 440.7,67.2 446.2,111.3 442.8,121.7 439.5,131.4" fill="#588ec7" stroke="#588ec7" stroke-width="0.5"/>
<path d="M307.5 390.3L310.9 385.4L314.2 380.2L317.5 374.7L320.9 368.9L324.2 363L327.5 357L330.9 350.9L334.2 344.8L337.5 338.8L340.8 332.8L344.2 326.8L347.5 320.9L350.8 315.1L354.2 309.3L357.5 303.6L360.8 298L364.2 292.4L367.5 286.8L370.8 281.2L374.1 275.6L377.5 270L380.8 264.3L384.1 258.4L387.5 252.5L390.8 246.2L394.1 239.7L397.5 232.8L400.8 225.5L404.1 217.6L407.4 209.1L410.8 199.9L414.1 189.8L417.4 178.9L420.8 166.9L424.1 153.8L427.4 139.5L430.8 123.8L434.1 106.6L437.4 87.8L440.7 67.2" fill="none" stroke="#d66868" stroke-width="2" stroke-linejoin="round"/>
<polygon points="313,389.4 316.3,383.6 319.6,377.4 325.1,378.7 321.7,384.7 318.4,390.3" fill="#f6e5da" stroke="#f6e5da" stroke-width="0.5"/>
<polygon points="319.6,377.4 323,370.8 326.3,363.9 331.7,365.8 328.4,372.4 325.1,378.7" fill="#f6e5da" stroke="#f6e5da" stroke-width="0.5"/>
<polygon points="326.3,363.9 329.6,356.7 333,349.5 338.4,352 335.1,359 331.7,365.8" fill="#f6e5da" stroke="#f6e5da" stroke-width="0.5"/>
<polygon points="333,349.5 336.3,342.2 339.6,334.9 345,338.1 341.7,345.1 338.4,352" fill="#f6e6db" stroke="#f6e6db" stroke-width="0.5"/>
<polygon points="339.6,334.9 342.9,327.6 346.3,320.5 351.7,324.3 348.4,331.2 345,338.1" fill="#f6e8de" stroke="#f6e8de" stroke-width="0.5"/>
<polygon points="346.3,320.5 349.6,313.4 352.9,306.4 358.4,310.9 355,317.5 351.7,324.3" fill="#f7e9e1" stroke="#f7e9e1" stroke-width="0.5"/>
<polygon points="352.9,306.4 356.3,299.5 359.6,292.8 365,297.8 361.7,304.3 358.4,310.9" fill="#f7ebe4" stroke="#f7ebe4" stroke-width="0.5"/>
<polygon points="359.6,292.8 362.9,286.2 366.3,279.6 371.7,285.2 368.4,291.5 365,297.8" fill="#f7ece5" stroke="#f7ece5" stroke-width="0.5"/>
<polygon points="366.3,279.6 369.6,273.2 372.9,266.9 378.3,273 375,279.1 371.7,285.2" fill="#f7ece5" stroke="#f7ece5" stroke-width="0.5"/>
<polygon points="372.9,266.9 376.2,260.7 379.6,254.5 385,261.1 381.7,267 378.3,273" fill="#f7ece5" stroke="#f7ece5" stroke-width="0.5"/>
<polygon points="379.6,254.5 382.9,248.5 386.2,242.4 391.7,249.3 388.3,255.2 385,261.1" fill="#f7ece5" stroke="#f7ece5" stroke-width="0.5"/>
<polygon points="386.2,242.4 389.6,236.4 392.9,230.4 398.3,237.7 395,243.5 391.7,249.3" fill="#f7ece5" stroke="#f7ece5" stroke-width="0.5"/>
<polygon points="392.9,230.4 396.2,224.4 399.6,218.4 405,225.9 401.7,231.8 398.3,237.7" fill="#f7ece5" stroke="#f7ece5" stroke-width="0.5"/>
<polygon points="399.6,218.4 402.9,212.3 406.2,206.1 411.6,213.9 408.3,220 405,225.9" fill="#e7e6e7" stroke="#e7e6e7" stroke-width="0.5"/>
<polygon points="406.2,206.1 409.5,199.8 412.9,193.3 418.3,201.3 415,207.7 411.6,213.9" fill="#c3d6e8" stroke="#c3d6e8" stroke-width="0.5"/>
<polygon points="412.9,193.3 416.2,186.7 419.5,179.8 425,188 421.6,194.8 418.3,201.3" fill="#b8cee4" stroke="#b8cee4" stroke-width="0.5"/>
<polygon points="419.5,179.8 422.9,172.7 426.2,165.2 431.6,173.4 428.3,180.9 425,188" fill="#abc6e1" stroke="#abc6e1" stroke-width="0.5"/>
<polygon points="426.2,165.2 429.5,157.4 432.9,149.2 438.3,157.5 435,165.7 431.6,173.4" fill="#9dbddc" stroke="#9dbddc" stroke-width="0.5"/>
<polygon points="432.9,149.2 436.2,140.6 439.5,131.4 444.9,139.6 441.6,148.8 438.3,157.5" fill="#8db1d7" stroke="#8db1d7" stroke-width="0.5"/>
<polygon points="439.5,131.4 442.8,121.7 446.2,111.3 451.6,119.4 448.3,129.8 444.9,139.6" fill="#79a4d1" stroke="#79a4d1" stroke-width="0.5"/>
<path d="M313 389.4L316.3 383.6L319.6 377.4L323 370.8L326.3 363.9L329.6 356.7L333 349.5L336.3 342.2L339.6 334.9L342.9 327.6L346.3 320.5L349.6 313.4L352.9 306.4L356.3 299.5L359.6 292.8L362.9 286.2L366.3 279.6L369.6 273.2L372.9 266.9L376.2 260.7L379.6 254.5L382.9 248.5L386.2 242.4L389.6 236.4L392.9 230.4L396.2 224.4L399.6 218.4L402.9 212.3L406.2 206.1L409.5 199.8L412.9 193.3L416.2 186.7L419.5 179.8L422.9 172.7L426.2 165.2L429.5 157.4L432.9 149.2L436.2 140.6L439.5 131.4L442.8 121.7L446.2 111.3" fill="none" stroke="#d66868" stroke-width="2" stroke-linejoin="round"/>
<polygon points="318.4,390.3 321.7,384.7 325.1,378.7 330.5,380.8 327.2,387.1 323.8,392.9" fill="#f6e5da" stroke="#f6e5da" stroke-width="0.5"/>
<polygon points="325.1,378.7 328.4,372.4 331.7,365.8 337.2,367.3 333.8,374.2 330.5,380.8" fill="#f6e5da" stroke="#f6e5da" stroke-width="0.5"/>
<polygon points="331.7,365.8 335.1,359 338.4,352 343.8,352.9 340.5,360.1 337.2,367.3" fill="#f6e5da" stroke="#f6e5da" stroke-width="0.5"/>
<polygon points="338.4,352 341.7,345.1 345,338.1 350.5,338.2 347.1,345.5 343.8,352.9" fill="#f6e6dc" stroke="#f6e6dc" stroke-width="0.5"/>
<polygon points="345,338.1 348.4,331.2 351.7,324.3 357.1,323.8 353.8,331 350.5,338.2" fill="#f7e9e0" stroke="#f7e9e0" stroke-width="0.5"/>
<polygon points="351.7,324.3 355,317.5 358.4,310.9 363.8,309.6 360.5,316.6 357.1,323.8" fill="#f7ebe4" stroke="#f7ebe4" stroke-width="0.5"/>
<polygon points="358.4,310.9 361.7,304.3 365,297.8 370.5,296 367.1,302.8 363.8,309.6" fill="#f7eee7" stroke="#f7eee7" stroke-width="0.5"/>
<polygon points="365,297.8 368.4,291.5 371.7,285.2 377.1,282.8 373.8,289.3 370.5,296" fill="#f7efe9" stroke="#f7efe9" stroke-width="0.5"/>
<polygon points="371.7,285.2 375,279.1 378.3,273 383.8,269.9 380.4,276.3 377.1,282.8" fill="#f7efe9" stroke="#f7efe9" stroke-width="0.5"/>
<polygon points="378.3,273 381.7,267 385,261.1 390.4,257.4 387.1,263.6 383.8,269.9" fill="#f7efe9" stroke="#f7efe9" stroke-width="0.5"/>
<polygon points="385,261.1 388.3,255.2 391.7,249.3 397.1,245.1 393.8,251.2 390.4,257.4" fill="#f7efe9" stroke="#f7efe9" stroke-width="0.5"/>
<polygon points="391.7,249.3 395,243.5 398.3,237.7 403.8,232.8 400.4,238.9 397.1,245.1" fill="#f7efe9" stroke="#f7efe9" stroke-width="0.5"/>
<polygon points="398.3,237.7 401.7,231.8 405,225.9 410.4,220.1 407.1,226.5 403.8,232.8" fill="#f7efe9" stroke="#f7efe9" stroke-width="0.5"/>
<polygon points="405,225.9 408.3,220 411.6,213.9 417.1,206.8 413.7,213.6 410.4,220.1" fill="#eceaea" stroke="#eceaea" stroke-width="0.5"/>
<polygon points="411.6,213.9 415,207.7 418.3,201.3 423.7,192.5 420.4,199.8 417.1,206.8" fill="#c2d5e8" stroke="#c2d5e8" stroke-width="0.5"/>
<polygon points="418.3,201.3 421.6,194.8 425,188 430.4,176.6 427.1,184.8 423.7,192.5" fill="#b6cde4" stroke="#b6cde4" stroke-width="0.5"/>
<polygon points="425,188 428.3,180.9 431.6,173.4 437.1,158.7 433.7,167.9 430.4,176.6" fill="#a7c3df" stroke="#a7c3df" stroke-width="0.5"/>
<polygon points="431.6,173.4 435,165.7 438.3,157.5 443.7,138.2 440.4,148.8 437.1,158.7" fill="#96b8da" stroke="#96b8da" stroke-width="0.5"/>
<polygon points="438.3,157.5 441.6,148.8 444.9,139.6 450.4,114.5 447,126.8 443.7,138.2" fill="#82aad4" stroke="#82aad4" stroke-width="0.5"/>
<polygon points="444.9,139.6 448.3,129.8 451.6,119.4 457,86.9 453.7,101.2 450.4,114.5" fill="#6a9acc" stroke="#6a9acc" stroke-width="0.5"/>
<path d="M318.4 390.3L321.7 384.7L325.1 378.7L328.4 372.4L331.7 365.8L335.1 359L338.4 352L341.7 345.1L345 338.1L348.4 331.2L351.7 324.3L355 317.5L358.4 310.9L361.7 304.3L365 297.8L368.4 291.5L371.7 285.2L375 279.1L378.3 273L381.7 267L385 261.1L388.3 255.2L391.7 249.3L395 243.5L398.3 237.7L401.7 231.8L405 225.9L408.3 220L411.6 213.9L415 207.7L418.3 201.3L421.6 194.8L425 188L428.3 180.9L431.6 173.4L435 165.7L438.3 157.5L441.6 148.8L444.9 139.6L448.3 129.8L451.6 119.4" fill="none" stroke="#d66868" stroke-width="2" stroke-linejoin="round"/>
<polygon points="323.8,392.9 327.2,387.1 330.5,380.8 335.9,384.7 332.6,390.5 329.3,396" fill="#f6e5da" stroke="#f6e5da" stroke-width="0.5"/>
<polygon points="330.5,380.8 333.8,374.2 337.2,367.3 342.6,371.7 339.3,378.4 335.9,384.7" fill="#f6e5da" stroke="#f6e5da" stroke-width="0.5"/>
<polygon points="337.2,367.3 340.5,360.1 343.8,352.9 349.2,357.8 345.9,364.8 342.6,371.7" fill="#f6e5da" stroke="#f6e5da" stroke-width="0.5"/>
<polygon points="343.8,352.9 347.1,345.5 350.5,338.2 355.9,343.5 352.6,350.6 349.2,357.8" fill="#f6e6dc" stroke="#f6e6dc" stroke-width="0.5"/>
<polygon points="350.5,338.2 353.8,331 357.1,323.8 362.6,329.2 359.2,336.3 355.9,343.5" fill="#f7e9e0" stroke="#f7e9e0" stroke-width="0.5"/>
<polygon points="357.1,323.8 360.5,316.6 363.8,309.6 369.2,315.2 365.9,322.1 362.6,329.2" fill="#f7ebe4" stroke="#f7ebe4" stroke-width="0.5"/>
<polygon points="363.8,309.6 367.1,302.8 370.5,296 375.9,301.7 372.6,308.4 369.2,315.2" fill="#f7eee7" stroke="#f7eee7" stroke-width="0.5"/>
<polygon points="370.5,296 373.8,289.3 377.1,282.8 382.5,288.5 379.2,295 375.9,301.7" fill="#f7efe9" stroke="#f7efe9" stroke-width="0.5"/>
<polygon points="377.1,282.8 380.4,276.3 383.8,269.9 389.2,275.8 385.9,282.1 382.5,288.5" fill="#f7efe9" stroke="#f7efe9" stroke-width="0.5"/>
<polygon points="383.8,269.9 387.1,263.6 390.4,257.4 395.9,263.3 392.5,269.5 389.2,275.8" fill="#f7efe9" stroke="#f7efe9" stroke-width="0.5"/>
<polygon points="390.4,257.4 393.8,251.2 397.1,245.1 402.5,251 399.2,257.2 395.9,263.3" fill="#f7efe9" stroke="#f7efe9" stroke-width="0.5"/>
<polygon points="397.1,245.1 400.4,238.9 403.8,232.8 409.2,238.7 405.9,244.9 402.5,251" fill="#f7efe9" stroke="#f7efe9" stroke-width="0.5"/>
<polygon points="403.8,232.8 407.1,226.5 410.4,220.1 415.8,226 412.5,232.4 409.2,238.7" fill="#f7efe9" stroke="#f7efe9" stroke-width="0.5"/>
<polygon points="410.4,220.1 413.7,213.6 417.1,206.8 422.5,212.7 419.2,219.5 415.8,226" fill="#dce3ea" stroke="#dce3ea" stroke-width="0.5"/>
<polygon points="417.1,206.8 420.4,199.8 423.7,192.5 429.2,198.2 425.8,205.6 422.5,212.7" fill="#c0d4e7" stroke="#c0d4e7" stroke-width="0.5"/>
<polygon points="423.7,192.5 427.1,184.8 430.4,176.6 435.8,182.1 432.5,190.4 429.2,198.2" fill="#b2cae2" stroke="#b2cae2" stroke-width="0.5"/>
<polygon points="430.4,176.6 433.7,167.9 437.1,158.7 442.5,163.9 439.2,173.3 435.8,182.1" fill="#a1bfdd" stroke="#a1bfdd" stroke-width="0.5"/>
<polygon points="437.1,158.7 440.4,148.8 443.7,138.2 449.1,143 445.8,153.8 442.5,163.9" fill="#8db2d7" stroke="#8db2d7" stroke-width="0.5"/>
<polygon points="443.7,138.2 447,126.8 450.4,114.5 455.8,118.7 452.5,131.3 449.1,143" fill="#75a1d0" stroke="#75a1d0" stroke-width="0.5"/>
<polygon points="450.4,114.5 453.7,101.2 457,86.9 462.5,90.4 459.1,105.1 455.8,118.7" fill="#5e92c9" stroke="#5e92c9" stroke-width="0.5"/>
<path d="M323.8 392.9L327.2 387.1L330.5 380.8L333.8 374.2L337.2 367.3L340.5 360.1L343.8 352.9L347.1 345.5L350.5 338.2L353.8 331L357.1 323.8L360.5 316.6L363.8 309.6L367.1 302.8L370.5 296L373.8 289.3L377.1 282.8L380.4 276.3L383.8 269.9L387.1 263.6L390.4 257.4L393.8 251.2L397.1 245.1L400.4 238.9L403.8 232.8L407.1 226.5L410.4 220.1L413.7 213.6L417.1 206.8L420.4 199.8L423.7 192.5L427.1 184.8L430.4 176.6L433.7 167.9L437.1 158.7L440.4 148.8L443.7 138.2L447 126.8L450.4 114.5L453.7 101.2L457 86.9" fill="none" stroke="#d66868" stroke-width="2" stroke-linejoin="round"/>
<polygon points="329.3,396 332.6,390.5 335.9,384.7 341.4,389.4 338,394.3 334.7,398.8" fill="#f6e5da" stroke="#f6e5da" stroke-width="0.5"/>
<polygon points="335.9,384.7 339.3,378.4 342.6,371.7 348,378.5 344.7,384.1 341.4,389.4" fill="#f6e5da" stroke="#f6e5da" stroke-width="0.5"/>
<polygon points="342.6,371.7 345.9,364.8 349.2,357.8 354.7,366.4 351.3,372.6 348,378.5" fill="#f6e5da" stroke="#f6e5da" stroke-width="0.5"/>
<polygon points="349.2,357.8 352.6,350.6 355.9,343.5 361.3,353.7 358,360.1 354.7,366.4" fill="#f6e6dc" stroke="#f6e6dc" stroke-width="0.5"/>
<polygon points="355.9,343.5 359.2,336.3 362.6,329.2 368,340.9 364.7,347.3 361.3,353.7" fill="#f7e9e0" stroke="#f7e9e0" stroke-width="0.5"/>
<polygon points="362.6,329.2 365.9,322.1 369.2,315.2 374.7,328.2 371.3,334.5 368,340.9" fill="#f7ebe4" stroke="#f7ebe4" stroke-width="0.5"/>
<polygon points="369.2,315.2 372.6,308.4 375.9,301.7 381.3,315.8 378,321.9 374.7,328.2" fill="#f7eee7" stroke="#f7eee7" stroke-width="0.5"/>
<polygon points="375.9,301.7 379.2,295 382.5,288.5 388,303.6 384.6,309.7 381.3,315.8" fill="#f7efe9" stroke="#f7efe9" stroke-width="0.5"/>
<polygon points="382.5,288.5 385.9,282.1 389.2,275.8 394.6,291.8 391.3,297.7 388,303.6" fill="#f7efe9" stroke="#f7efe9" stroke-width="0.5"/>
<polygon points="389.2,275.8 392.5,269.5 395.9,263.3 401.3,280.1 398,285.9 394.6,291.8" fill="#f7efe9" stroke="#f7efe9" stroke-width="0.5"/>
<polygon points="395.9,263.3 399.2,257.2 402.5,251 408,268.5 404.6,274.3 401.3,280.1" fill="#f7efe9" stroke="#f7efe9" stroke-width="0.5"/>
<polygon points="402.5,251 405.9,244.9 409.2,238.7 414.6,256.8 411.3,262.7 408,268.5" fill="#f7efe9" stroke="#f7efe9" stroke-width="0.5"/>
<polygon points="409.2,238.7 412.5,232.4 415.8,226 421.3,244.9 417.9,250.9 414.6,256.8" fill="#f7efe9" stroke="#f7efe9" stroke-width="0.5"/>
<polygon points="415.8,226 419.2,219.5 422.5,212.7 427.9,232.6 424.6,238.8 421.3,244.9" fill="#e6eaee" stroke="#e6eaee" stroke-width="0.5"/>
<polygon points="422.5,212.7 425.8,205.6 429.2,198.2 434.6,219.5 431.3,226.1 427.9,232.6" fill="#d2e0ec" stroke="#d2e0ec" stroke-width="0.5"/>
<polygon points="429.2,198.2 432.5,190.4 435.8,182.1 441.3,205.6 437.9,212.7 434.6,219.5" fill="#c5d7e8" stroke="#c5d7e8" stroke-width="0.5"/>
<polygon points="435.8,182.1 439.2,173.3 442.5,163.9 447.9,190.4 444.6,198.2 441.3,205.6" fill="#b6cde4" stroke="#b6cde4" stroke-width="0.5"/>
<polygon points="442.5,163.9 445.8,153.8 449.1,143 454.6,173.8 451.2,182.3 447.9,190.4" fill="#a4c1de" stroke="#a4c1de" stroke-width="0.5"/>
<polygon points="449.1,143 452.5,131.3 455.8,118.7 461.2,155.3 457.9,164.8 454.6,173.8" fill="#8fb3d8" stroke="#8fb3d8" stroke-width="0.5"/>
<polygon points="455.8,118.7 459.1,105.1 462.5,90.4 467.9,134.5 464.6,145.2 461.2,155.3" fill="#76a2d0" stroke="#76a2d0" stroke-width="0.5"/>
<path d="M329.3 396L332.6 390.5L335.9 384.7L339.3 378.4L342.6 371.7L345.9 364.8L349.2 357.8L352.6 350.6L355.9 343.5L359.2 336.3L362.6 329.2L365.9 322.1L369.2 315.2L372.6 308.4L375.9 301.7L379.2 295L382.5 288.5L385.9 282.1L389.2 275.8L392.5 269.5L395.9 263.3L399.2 257.2L402.5 251L405.9 244.9L409.2 238.7L412.5 232.4L415.8 226L419.2 219.5L422.5 212.7L425.8 205.6L429.2 198.2L432.5 190.4L435.8 182.1L439.2 173.3L442.5 163.9L445.8 153.8L449.1 143L452.5 131.3L455.8 118.7L459.1 105.1L462.5 90.4" fill="none" stroke="#d66868" stroke-width="2" stroke-linejoin="round"/>
<polygon points="334.7,398.8 338,394.3 341.4,389.4 346.8,393.4 343.5,397.8 340.1,401.9" fill="#f6e5da" stroke="#f6e5da" stroke-width="0.5"/>
<polygon points="341.4,389.4 344.7,384.1 348,378.5 353.4,383.4 350.1,388.6 346.8,393.4" fill="#f6e5da" stroke="#f6e5da" stroke-width="0.5"/>
<polygon points="348,378.5 351.3,372.6 354.7,366.4 360.1,372 356.8,377.9 353.4,383.4" fill="#f6e5da" stroke="#f6e5da" stroke-width="0.5"/>
<polygon points="354.7,366.4 358,360.1 361.3,353.7 366.8,359.7 363.4,365.9 360.1,372" fill="#f6e6dc" stroke="#f6e6dc" stroke-width="0.5"/>
<polygon points="361.3,353.7 364.7,347.3 368,340.9 373.4,347 370.1,353.4 366.8,359.7" fill="#f7e9e0" stroke="#f7e9e0" stroke-width="0.5"/>
<polygon points="368,340.9 371.3,334.5 374.7,328.2 380.1,334.3 376.8,340.6 373.4,347" fill="#f7ebe4" stroke="#f7ebe4" stroke-width="0.5"/>
<polygon points="374.7,328.2 378,321.9 381.3,315.8 386.7,321.8 383.4,328 380.1,334.3" fill="#f7eee7" stroke="#f7eee7" stroke-width="0.5"/>
<polygon points="381.3,315.8 384.6,309.7 388,303.6 393.4,309.6 390.1,315.7 386.7,321.8" fill="#f7efe9" stroke="#f7efe9" stroke-width="0.5"/>
<polygon points="388,303.6 391.3,297.7 394.6,291.8 400.1,297.6 396.7,303.6 393.4,309.6" fill="#f7efe9" stroke="#f7efe9" stroke-width="0.5"/>
<polygon points="394.6,291.8 398,285.9 401.3,280.1 406.7,285.8 403.4,291.7 400.1,297.6" fill="#f7efe9" stroke="#f7efe9" stroke-width="0.5"/>
<polygon points="401.3,280.1 404.6,274.3 408,268.5 413.4,274 410.1,279.9 406.7,285.8" fill="#f7efe9" stroke="#f7efe9" stroke-width="0.5"/>
<polygon points="408,268.5 411.3,262.7 414.6,256.8 420,262.1 416.7,268.1 413.4,274" fill="#f7efe9" stroke="#f7efe9" stroke-width="0.5"/>
<polygon points="414.6,256.8 417.9,250.9 421.3,244.9 426.7,250 423.4,256.1 420,262.1" fill="#f7efe9" stroke="#f7efe9" stroke-width="0.5"/>
<polygon points="421.3,244.9 424.6,238.8 427.9,232.6 433.4,237.3 430,243.7 426.7,250" fill="#e9ebed" stroke="#e9ebed" stroke-width="0.5"/>
<polygon points="427.9,232.6 431.3,226.1 434.6,219.5 440,223.9 436.7,230.7 433.4,237.3" fill="#dee8f0" stroke="#dee8f0" stroke-width="0.5"/>
<polygon points="434.6,219.5 437.9,212.7 441.3,205.6 446.7,209.6 443.4,216.9 440,223.9" fill="#d7e3ee" stroke="#d7e3ee" stroke-width="0.5"/>
<polygon points="441.3,205.6 444.6,198.2 447.9,190.4 453.3,193.9 450,201.9 446.7,209.6" fill="#c9daea" stroke="#c9daea" stroke-width="0.5"/>
<polygon points="447.9,190.4 451.2,182.3 454.6,173.8 460,176.7 456.7,185.5 453.3,193.9" fill="#bad0e5" stroke="#bad0e5" stroke-width="0.5"/>
<polygon points="454.6,173.8 457.9,164.8 461.2,155.3 466.7,157.4 463.3,167.3 460,176.7" fill="#a8c4df" stroke="#a8c4df" stroke-width="0.5"/>
<polygon points="461.2,155.3 464.6,145.2 467.9,134.5 473.3,135.8 470,146.9 466.7,157.4" fill="#93b6d9" stroke="#93b6d9" stroke-width="0.5"/>
<path d="M334.7 398.8L338 394.3L341.4 389.4L344.7 384.1L348 378.5L351.3 372.6L354.7 366.4L358 360.1L361.3 353.7L364.7 347.3L368 340.9L371.3 334.5L374.7 328.2L378 321.9L381.3 315.8L384.6 309.7L388 303.6L391.3 297.7L394.6 291.8L398 285.9L401.3 280.1L404.6 274.3L408 268.5L411.3 262.7L414.6 256.8L417.9 250.9L421.3 244.9L424.6 238.8L427.9 232.6L431.3 226.1L434.6 219.5L437.9 212.7L441.3 205.6L444.6 198.2L447.9 190.4L451.2 182.3L454.6 173.8L457.9 164.8L461.2 155.3L464.6 145.2L467.9 134.5" fill="none" stroke="#d66868" stroke-width="2" stroke-linejoin="round"/>
<polygon points="340.1,401.9 343.5,397.8 346.8,393.4 352.2,397.3 348.9,401.2 345.6,404.8" fill="#f6e5da" stroke="#f6e5da" stroke-width="0.5"/>
<polygon points="346.8,393.4 350.1,388.6 353.4,383.4 358.9,388.4 355.5,393 352.2,397.3" fill="#f6e5da" stroke="#f6e5da" stroke-width="0.5"/>
<polygon points="353.4,383.4 356.8,377.9 360.1,372 365.5,377.9 362.2,383.3 358.9,388.4" fill="#f6e5da" stroke="#f6e5da" stroke-width="0.5"/>
<polygon points="360.1,372 363.4,365.9 366.8,359.7 372.2,366.3 368.9,372.3 365.5,377.9" fill="#f6e6dc" stroke="#f6e6dc" stroke-width="0.5"/>
<polygon points="366.8,359.7 370.1,353.4 373.4,347 378.9,354 375.5,360.2 372.2,366.3" fill="#f7e9e0" stroke="#f7e9e0" stroke-width="0.5"/>
<polygon points="373.4,347 376.8,340.6 380.1,334.3 385.5,341.5 382.2,347.8 378.9,354" fill="#f7ebe4" stroke="#f7ebe4" stroke-width="0.5"/>
<polygon points="380.1,334.3 383.4,328 386.7,321.8 392.2,329 388.8,335.2 385.5,341.5" fill="#f7eee7" stroke="#f7eee7" stroke-width="0.5"/>
<polygon points="386.7,321.8 390.1,315.7 393.4,309.6 398.8,316.7 395.5,322.8 392.2,329" fill="#f7efe9" stroke="#f7efe9" stroke-width="0.5"/>
<polygon points="393.4,309.6 396.7,303.6 400.1,297.6 405.5,304.5 402.2,310.6 398.8,316.7" fill="#f7efe9" stroke="#f7efe9" stroke-width="0.5"/>
<polygon points="400.1,297.6 403.4,291.7 406.7,285.8 412.2,292.4 408.8,298.4 405.5,304.5" fill="#f7efe9" stroke="#f7efe9" stroke-width="0.5"/>
<polygon points="406.7,285.8 410.1,279.9 413.4,274 418.8,280.2 415.5,286.3 412.2,292.4" fill="#f7efe9" stroke="#f7efe9" stroke-width="0.5"/>
<polygon points="413.4,274 416.7,268.1 420,262.1 425.5,267.9 422.1,274.1 418.8,280.2" fill="#f7efe9" stroke="#f7efe9" stroke-width="0.5"/>
<polygon points="420,262.1 423.4,256.1 426.7,250 432.1,255.2 428.8,261.6 425.5,267.9" fill="#f7efe9" stroke="#f7efe9" stroke-width="0.5"/>
<polygon points="426.7,250 430,243.7 433.4,237.3 438.8,241.9 435.5,248.7 432.1,255.2" fill="#ececec" stroke="#ececec" stroke-width="0.5"/>
<polygon points="433.4,237.3 436.7,230.7 440,223.9 445.5,227.8 442.1,235 438.8,241.9" fill="#dee8f0" stroke="#dee8f0" stroke-width="0.5"/>
<polygon points="440,223.9 443.4,216.9 446.7,209.6 452.1,212.7 448.8,220.4 445.5,227.8" fill="#dce6ef" stroke="#dce6ef" stroke-width="0.5"/>
<polygon points="446.7,209.6 450,201.9 453.3,193.9 458.8,196.1 455.4,204.6 452.1,212.7" fill="#cdddeb" stroke="#cdddeb" stroke-width="0.5"/>
<polygon points="453.3,193.9 456.7,185.5 460,176.7 465.4,178 462.1,187.3 458.8,196.1" fill="#bcd2e6" stroke="#bcd2e6" stroke-width="0.5"/>
<polygon points="460,176.7 463.3,167.3 466.7,157.4 472.1,157.9 468.8,168.2 465.4,178" fill="#a9c5e0" stroke="#a9c5e0" stroke-width="0.5"/>
<polygon points="466.7,157.4 470,146.9 473.3,135.8 478.8,135.6 475.4,147.1 472.1,157.9" fill="#93b6d9" stroke="#93b6d9" stroke-width="0.5"/>
<path d="M340.1 401.9L343.5 397.8L346.8 393.4L350.1 388.6L353.4 383.4L356.8 377.9L360.1 372L363.4 365.9L366.8 359.7L370.1 353.4L373.4 347L376.8 340.6L380.1 334.3L383.4 328L386.7 321.8L390.1 315.7L393.4 309.6L396.7 303.6L400.1 297.6L403.4 291.7L406.7 285.8L410.1 279.9L413.4 274L416.7 268.1L420 262.1L423.4 256.1L426.7 250L430 243.7L433.4 237.3L436.7 230.7L440 223.9L443.4 216.9L446.7 209.6L450 201.9L453.3 193.9L456.7 185.5L460 176.7L463.3 167.3L466.7 157.4L470 146.9L473.3 135.8" fill="none" stroke="#d66868" stroke-width="2" stroke-linejoin="round"/>
<polygon points="345.6,404.8 348.9,401.2 352.2,397.3 357.6,401 354.3,404.4 351,407.6" fill="#f6e5da" stroke="#f6e5da" stroke-width="0.5"/>
<polygon points="352.2,397.3 355.5,393 358.9,388.4 364.3,393 361,397.2 357.6,401" fill="#f6e5da" stroke="#f6e5da" stroke-width="0.5"/>
<polygon points="358.9,388.4 362.2,383.3 365.5,377.9 371,383.6 367.6,388.4 364.3,393" fill="#f6e5da" stroke="#f6e5da" stroke-width="0.5"/>
<polygon points="365.5,377.9 368.9,372.3 372.2,366.3 377.6,374.1 374.3,379 371,383.6" fill="#f6e6dc" stroke="#f6e6dc" stroke-width="0.5"/>
<polygon points="372.2,366.3 375.5,360.2 378.9,354 384.3,363.1 381,368.8 377.6,374.1" fill="#f7e9e0" stroke="#f7e9e0" stroke-width="0.5"/>
<polygon points="378.9,354 382.2,347.8 385.5,341.5 390.9,351.3 387.6,357.3 384.3,363.1" fill="#f7ebe4" stroke="#f7ebe4" stroke-width="0.5"/>
<polygon points="385.5,341.5 388.8,335.2 392.2,329 397.6,339.2 394.3,345.2 390.9,351.3" fill="#f7eee7" stroke="#f7eee7" stroke-width="0.5"/>
<polygon points="392.2,329 395.5,322.8 398.8,316.7 404.3,326.9 400.9,333.1 397.6,339.2" fill="#f7efe9" stroke="#f7efe9" stroke-width="0.5"/>
<polygon points="398.8,316.7 402.2,310.6 405.5,304.5 410.9,314.7 407.6,320.8 404.3,326.9" fill="#f7efe9" stroke="#f7efe9" stroke-width="0.5"/>
<polygon points="405.5,304.5 408.8,298.4 412.2,292.4 417.6,302.4 414.3,308.6 410.9,314.7" fill="#f7efe9" stroke="#f7efe9" stroke-width="0.5"/>
<polygon points="412.2,292.4 415.5,286.3 418.8,280.2 424.2,290 420.9,296.2 417.6,302.4" fill="#f7efe9" stroke="#f7efe9" stroke-width="0.5"/>
<polygon points="418.8,280.2 422.1,274.1 425.5,267.9 430.9,277.4 427.6,283.7 424.2,290" fill="#f7efe9" stroke="#f7efe9" stroke-width="0.5"/>
<polygon points="425.5,267.9 428.8,261.6 432.1,255.2 437.6,264.5 434.2,271 430.9,277.4" fill="#f7efe9" stroke="#f7efe9" stroke-width="0.5"/>
<polygon points="432.1,255.2 435.5,248.7 438.8,241.9 444.2,251.1 440.9,257.9 437.6,264.5" fill="#efecec" stroke="#efecec" stroke-width="0.5"/>
<polygon points="438.8,241.9 442.1,235 445.5,227.8 450.9,237.2 447.6,244.2 444.2,251.1" fill="#dee8f0" stroke="#dee8f0" stroke-width="0.5"/>
<polygon points="445.5,227.8 448.8,220.4 452.1,212.7 457.5,222.5 454.2,229.9 450.9,237.2" fill="#dee8f0" stroke="#dee8f0" stroke-width="0.5"/>
<polygon points="452.1,212.7 455.4,204.6 458.8,196.1 464.2,207 460.9,214.9 457.5,222.5" fill="#dee8f0" stroke="#dee8f0" stroke-width="0.5"/>
<polygon points="458.8,196.1 462.1,187.3 465.4,178 470.9,190.6 467.5,198.9 464.2,207" fill="#d5e2ed" stroke="#d5e2ed" stroke-width="0.5"/>
<polygon points="465.4,178 468.8,168.2 472.1,157.9 477.5,173 474.2,181.9 470.9,190.6" fill="#c6d8e9" stroke="#c6d8e9" stroke-width="0.5"/>
<polygon points="472.1,157.9 475.4,147.1 478.8,135.6 484.2,154.2 480.9,163.7 477.5,173" fill="#b4cce3" stroke="#b4cce3" stroke-width="0.5"/>
<path d="M345.6 404.8L348.9 401.2L352.2 397.3L355.5 393L358.9 388.4L362.2 383.3L365.5 377.9L368.9 372.3L372.2 366.3L375.5 360.2L378.9 354L382.2 347.8L385.5 341.5L388.8 335.2L392.2 329L395.5 322.8L398.8 316.7L402.2 310.6L405.5 304.5L408.8 298.4L412.2 292.4L415.5 286.3L418.8 280.2L422.1 274.1L425.5 267.9L428.8 261.6L432.1 255.2L435.5 248.7L438.8 241.9L442.1 235L445.5 227.8L448.8 220.4L452.1 212.7L455.4 204.6L458.8 196.1L462.1 187.3L465.4 178L468.8 168.2L472.1 157.9L475.4 147.1L478.8 135.6" fill="none" stroke="#d66868" stroke-width="2" stroke-linejoin="round"/>
<polygon points="351,407.6 354.3,404.4 357.6,401 363.1,404.3 359.7,407.3 356.4,410.2" fill="#f6e5da" stroke="#f6e5da" stroke-width="0.5"/>
<polygon points="357.6,401 361,397.2 364.3,393 369.7,397.8 366.4,401.2 363.1,404.3" fill="#f6e5da" stroke="#f6e5da" stroke-width="0.5"/>
<polygon points="364.3,393 367.6,388.4 371,383.6 376.4,389.2 373.1,393.8 369.7,397.8" fill="#f6e5da" stroke="#f6e5da" stroke-width="0.5"/>
<polygon points="371,383.6 374.3,379 377.6,374.1 383.1,379.9 379.7,384.3 376.4,389.2" fill="#f6e6dc" stroke="#f6e6dc" stroke-width="0.5"/>
<polygon points="377.6,374.1 381,368.8 384.3,363.1 389.7,371.9 386.4,376 383.1,379.9" fill="#f7e9e0" stroke="#f7e9e0" stroke-width="0.5"/>
<polygon points="384.3,363.1 387.6,357.3 390.9,351.3 396.4,361.9 393,367.1 389.7,371.9" fill="#f7ebe4" stroke="#f7ebe4" stroke-width="0.5"/>
<polygon points="390.9,351.3 394.3,345.2 397.6,339.2 403,351.1 399.7,356.5 396.4,361.9" fill="#f7eee7" stroke="#f7eee7" stroke-width="0.5"/>
<polygon points="397.6,339.2 400.9,333.1 404.3,326.9 409.7,340 406.4,345.6 403,351.1" fill="#f7efe9" stroke="#f7efe9" stroke-width="0.5"/>
<polygon points="404.3,326.9 407.6,320.8 410.9,314.7 416.4,328.9 413,334.5 409.7,340" fill="#f7efe9" stroke="#f7efe9" stroke-width="0.5"/>
<polygon points="410.9,314.7 414.3,308.6 417.6,302.4 423,317.8 419.7,323.4 416.4,328.9" fill="#f7efe9" stroke="#f7efe9" stroke-width="0.5"/>
<polygon points="417.6,302.4 420.9,296.2 424.2,290 429.7,306.5 426.3,312.1 423,317.8" fill="#f7efe9" stroke="#f7efe9" stroke-width="0.5"/>
<polygon points="424.2,290 427.6,283.7 430.9,277.4 436.3,294.9 433,300.7 429.7,306.5" fill="#f7efe9" stroke="#f7efe9" stroke-width="0.5"/>
<polygon points="430.9,277.4 434.2,271 437.6,264.5 443,283 439.7,289 436.3,294.9" fill="#f7efe9" stroke="#f7efe9" stroke-width="0.5"/>
<polygon points="437.6,264.5 440.9,257.9 444.2,251.1 449.7,270.4 446.3,276.8 443,283" fill="#f7efe9" stroke="#f7efe9" stroke-width="0.5"/>
<polygon points="444.2,251.1 447.6,244.2 450.9,237.2 456.3,257.2 453,263.9 449.7,270.4" fill="#e3e9ef" stroke="#e3e9ef" stroke-width="0.5"/>
<polygon points="450.9,237.2 454.2,229.9 457.5,222.5 463,243.1 459.6,250.3 456.3,257.2" fill="#dee8f0" stroke="#dee8f0" stroke-width="0.5"/>
<polygon points="457.5,222.5 460.9,214.9 464.2,207 469.6,227.8 466.3,235.6 463,243.1" fill="#dee8f0" stroke="#dee8f0" stroke-width="0.5"/>
<polygon points="464.2,207 467.5,198.9 470.9,190.6 476.3,211.3 473,219.7 469.6,227.8" fill="#dde8f0" stroke="#dde8f0" stroke-width="0.5"/>
<polygon points="470.9,190.6 474.2,181.9 477.5,173 483,193.2 479.6,202.4 476.3,211.3" fill="#c5d7e8" stroke="#c5d7e8" stroke-width="0.5"/>
<polygon points="477.5,173 480.9,163.7 484.2,154.2 489.6,173.4 486.3,183.6 483,193.2" fill="#c1d5e7" stroke="#c1d5e7" stroke-width="0.5"/>
<path d="M351 407.6L354.3 404.4L357.6 401L361 397.2L364.3 393L367.6 388.4L371 383.6L374.3 379L377.6 374.1L381 368.8L384.3 363.1L387.6 357.3L390.9 351.3L394.3 345.2L397.6 339.2L400.9 333.1L404.3 326.9L407.6 320.8L410.9 314.7L414.3 308.6L417.6 302.4L420.9 296.2L424.2 290L427.6 283.7L430.9 277.4L434.2 271L437.6 264.5L440.9 257.9L444.2 251.1L447.6 244.2L450.9 237.2L454.2 229.9L457.5 222.5L460.9 214.9L464.2 207L467.5 198.9L470.9 190.6L474.2 181.9L477.5 173L480.9 163.7L484.2 154.2" fill="none" stroke="#d66868" stroke-width="2" stroke-linejoin="round"/>
<polygon points="356.4,410.2 359.7,407.3 363.1,404.3 368.5,407.5 365.2,410.2 361.8,412.9" fill="#f6e5da" stroke="#f6e5da" stroke-width="0.5"/>
<polygon points="363.1,404.3 366.4,401.2 369.7,397.8 375.2,401.8 371.8,404.7 368.5,407.5" fill="#f6e5da" stroke="#f6e5da" stroke-width="0.5"/>
<polygon points="369.7,397.8 373.1,393.8 376.4,389.2 381.8,395.5 378.5,398.8 375.2,401.8" fill="#f6e5da" stroke="#f6e5da" stroke-width="0.5"/>
<polygon points="376.4,389.2 379.7,384.3 383.1,379.9 388.5,386.6 385.2,391.4 381.8,395.5" fill="#f6e6dc" stroke="#f6e6dc" stroke-width="0.5"/>
<polygon points="383.1,379.9 386.4,376 389.7,371.9 395.1,378.6 391.8,381.9 388.5,386.6" fill="#f7e9e0" stroke="#f7e9e0" stroke-width="0.5"/>
<polygon points="389.7,371.9 393,367.1 396.4,361.9 401.8,372.8 398.5,376 395.1,378.6" fill="#f7ebe4" stroke="#f7ebe4" stroke-width="0.5"/>
<polygon points="396.4,361.9 399.7,356.5 403,351.1 408.5,364.3 405.1,368.8 401.8,372.8" fill="#f7eee7" stroke="#f7eee7" stroke-width="0.5"/>
<polygon points="403,351.1 406.4,345.6 409.7,340 415.1,354.8 411.8,359.6 408.5,364.3" fill="#f7efe9" stroke="#f7efe9" stroke-width="0.5"/>
<polygon points="409.7,340 413,334.5 416.4,328.9 421.8,344.8 418.5,349.9 415.1,354.8" fill="#f7efe9" stroke="#f7efe9" stroke-width="0.5"/>
<polygon points="416.4,328.9 419.7,323.4 423,317.8 428.4,334.5 425.1,339.7 421.8,344.8" fill="#f7efe9" stroke="#f7efe9" stroke-width="0.5"/>
<polygon points="423,317.8 426.3,312.1 429.7,306.5 435.1,323.9 431.8,329.2 428.4,334.5" fill="#f7efe9" stroke="#f7efe9" stroke-width="0.5"/>
<polygon points="429.7,306.5 433,300.7 436.3,294.9 441.8,312.9 438.4,318.4 435.1,323.9" fill="#f7efe9" stroke="#f7efe9" stroke-width="0.5"/>
<polygon points="436.3,294.9 439.7,289 443,283 448.4,301.5 445.1,307.3 441.8,312.9" fill="#f7efe9" stroke="#f7efe9" stroke-width="0.5"/>
<polygon points="443,283 446.3,276.8 449.7,270.4 455.1,289.8 451.8,295.7 448.4,301.5" fill="#f7efe9" stroke="#f7efe9" stroke-width="0.5"/>
<polygon points="449.7,270.4 453,263.9 456.3,257.2 461.7,277.7 458.4,283.8 455.1,289.8" fill="#efedec" stroke="#efedec" stroke-width="0.5"/>
<polygon points="456.3,257.2 459.6,250.3 463,243.1 468.4,265.1 465.1,271.4 461.7,277.7" fill="#dee8f0" stroke="#dee8f0" stroke-width="0.5"/>
<polygon points="463,243.1 466.3,235.6 469.6,227.8 475.1,252.1 471.7,258.7 468.4,265.1" fill="#dee8f0" stroke="#dee8f0" stroke-width="0.5"/>
<polygon points="469.6,227.8 473,219.7 476.3,211.3 481.7,238.6 478.4,245.4 475.1,252.1" fill="#dee8f0" stroke="#dee8f0" stroke-width="0.5"/>
<polygon points="476.3,211.3 479.6,202.4 483,193.2 488.4,224.6 485.1,231.7 481.7,238.6" fill="#72a0cf" stroke="#72a0cf" stroke-width="0.5"/>
<polygon points="483,193.2 486.3,183.6 489.6,173.4 495,210.1 491.7,217.5 488.4,224.6" fill="#8db2d7" stroke="#8db2d7" stroke-width="0.5"/>
<path d="M356.4 410.2L359.7 407.3L363.1 404.3L366.4 401.2L369.7 397.8L373.1 393.8L376.4 389.2L379.7 384.3L383.1 379.9L386.4 376L389.7 371.9L393 367.1L396.4 361.9L399.7 356.5L403 351.1L406.4 345.6L409.7 340L413 334.5L416.4 328.9L419.7 323.4L423 317.8L426.3 312.1L429.7 306.5L433 300.7L436.3 294.9L439.7 289L443 283L446.3 276.8L449.7 270.4L453 263.9L456.3 257.2L459.6 250.3L463 243.1L466.3 235.6L469.6 227.8L473 219.7L476.3 211.3L479.6 202.4L483 193.2L486.3 183.6L489.6 173.4" fill="none" stroke="#d66868" stroke-width="2" stroke-linejoin="round"/>
<polygon points="361.8,412.9 365.2,410.2 368.5,407.5 373.9,410.4 370.6,413.1 367.3,415.7" fill="#f6e5da" stroke="#f6e5da" stroke-width="0.5"/>
<polygon points="368.5,407.5 371.8,404.7 375.2,401.8 380.6,405 377.3,407.7 373.9,410.4" fill="#f6e5da" stroke="#f6e5da" stroke-width="0.5"/>
<polygon points="375.2,401.8 378.5,398.8 381.8,395.5 387.3,399.5 383.9,402.3 380.6,405" fill="#f6e5da" stroke="#f6e5da" stroke-width="0.5"/>
<polygon points="381.8,395.5 385.2,391.4 388.5,386.6 393.9,393.4 390.6,396.6 387.3,399.5" fill="#f6e6dc" stroke="#f6e6dc" stroke-width="0.5"/>
<polygon points="388.5,386.6 391.8,381.9 395.1,378.6 400.6,384.5 397.2,389.5 393.9,393.4" fill="#f7e9e0" stroke="#f7e9e0" stroke-width="0.5"/>
<polygon points="395.1,378.6 398.5,376 401.8,372.8 407.2,376.6 403.9,379.6 400.6,384.5" fill="#f7ebe4" stroke="#f7ebe4" stroke-width="0.5"/>
<polygon points="401.8,372.8 405.1,368.8 408.5,364.3 413.9,372.8 410.6,374.9 407.2,376.6" fill="#f7eee7" stroke="#f7eee7" stroke-width="0.5"/>
<polygon points="408.5,364.3 411.8,359.6 415.1,354.8 420.6,366 417.2,369.7 413.9,372.8" fill="#f7efe9" stroke="#f7efe9" stroke-width="0.5"/>
<polygon points="415.1,354.8 418.5,349.9 421.8,344.8 427.2,358 423.9,362 420.6,366" fill="#f7efe9" stroke="#f7efe9" stroke-width="0.5"/>
<polygon points="421.8,344.8 425.1,339.7 428.4,334.5 433.9,349.6 430.5,353.8 427.2,358" fill="#f7efe9" stroke="#f7efe9" stroke-width="0.5"/>
<polygon points="428.4,334.5 431.8,329.2 435.1,323.9 440.5,340.8 437.2,345.3 433.9,349.6" fill="#f7efe9" stroke="#f7efe9" stroke-width="0.5"/>
<polygon points="435.1,323.9 438.4,318.4 441.8,312.9 447.2,331.5 443.9,336.2 440.5,340.8" fill="#f7efe9" stroke="#f7efe9" stroke-width="0.5"/>
<polygon points="441.8,312.9 445.1,307.3 448.4,301.5 453.9,321.7 450.5,326.7 447.2,331.5" fill="#f7efe9" stroke="#f7efe9" stroke-width="0.5"/>
<polygon points="448.4,301.5 451.8,295.7 455.1,289.8 460.5,311.1 457.2,316.5 453.9,321.7" fill="#f7efe9" stroke="#f7efe9" stroke-width="0.5"/>
<polygon points="455.1,289.8 458.4,283.8 461.7,277.7 467.2,299.8 463.8,305.6 460.5,311.1" fill="#f7efe9" stroke="#f7efe9" stroke-width="0.5"/>
<polygon points="461.7,277.7 465.1,271.4 468.4,265.1 473.8,287.5 470.5,293.8 467.2,299.8" fill="#e8ebed" stroke="#e8ebed" stroke-width="0.5"/>
<polygon points="468.4,265.1 471.7,258.7 475.1,252.1 480.5,274.1 477.2,280.9 473.8,287.5" fill="#dee8f0" stroke="#dee8f0" stroke-width="0.5"/>
<polygon points="475.1,252.1 478.4,245.4 481.7,238.6 487.2,259.6 483.8,267 480.5,274.1" fill="#dee8f0" stroke="#dee8f0" stroke-width="0.5"/>
<polygon points="481.7,238.6 485.1,231.7 488.4,224.6 493.8,243.8 490.5,251.9 487.2,259.6" fill="#72a0cf" stroke="#72a0cf" stroke-width="0.5"/>
<polygon points="488.4,224.6 491.7,217.5 495,210.1 500.5,226.6 497.1,235.4 493.8,243.8" fill="#8db2d7" stroke="#8db2d7" stroke-width="0.5"/>
<path d="M361.8 412.9L365.2 410.2L368.5 407.5L371.8 404.7L375.2 401.8L378.5 398.8L381.8 395.5L385.2 391.4L388.5 386.6L391.8 381.9L395.1 378.6L398.5 376L401.8 372.8L405.1 368.8L408.5 364.3L411.8 359.6L415.1 354.8L418.5 349.9L421.8 344.8L425.1 339.7L428.4 334.5L431.8 329.2L435.1 323.9L438.4 318.4L441.8 312.9L445.1 307.3L448.4 301.5L451.8 295.7L455.1 289.8L458.4 283.8L461.7 277.7L465.1 271.4L468.4 265.1L471.7 258.7L475.1 252.1L478.4 245.4L481.7 238.6L485.1 231.7L488.4 224.6L491.7 217.5L495 210.1" fill="none" stroke="#d66868" stroke-width="2" stroke-linejoin="round"/>
<polygon points="367.3,415.7 370.6,413.1 373.9,410.4 379.4,413.2 376,415.8 372.7,418.5" fill="#f6e5da" stroke="#f6e5da" stroke-width="0.5"/>
<polygon points="373.9,410.4 377.3,407.7 380.6,405 386,408 382.7,410.6 379.4,413.2" fill="#f6e5da" stroke="#f6e5da" stroke-width="0.5"/>
<polygon points="380.6,405 383.9,402.3 387.3,399.5 392.7,402.7 389.3,405.3 386,408" fill="#f6e5da" stroke="#f6e5da" stroke-width="0.5"/>
<polygon points="387.3,399.5 390.6,396.6 393.9,393.4 399.3,397.3 396,400 392.7,402.7" fill="#f6e6dc" stroke="#f6e6dc" stroke-width="0.5"/>
<polygon points="393.9,393.4 397.2,389.5 400.6,384.5 406,391.5 402.7,394.5 399.3,397.3" fill="#f7e9e0" stroke="#f7e9e0" stroke-width="0.5"/>
<polygon points="400.6,384.5 403.9,379.6 407.2,376.6 412.7,382.9 409.3,387.7 406,391.5" fill="#f7ebe4" stroke="#f7ebe4" stroke-width="0.5"/>
<polygon points="407.2,376.6 410.6,374.9 413.9,372.8 419.3,375 416,378 412.7,382.9" fill="#f7eee7" stroke="#f7eee7" stroke-width="0.5"/>
<polygon points="413.9,372.8 417.2,369.7 420.6,366 426,372.4 422.6,373.8 419.3,375" fill="#f7ebe5" stroke="#f7ebe5" stroke-width="0.5"/>
<polygon points="420.6,366 423.9,362 427.2,358 432.6,366.8 429.3,370 426,372.4" fill="#f7efe9" stroke="#f7efe9" stroke-width="0.5"/>
<polygon points="427.2,358 430.5,353.8 433.9,349.6 439.3,360.1 436,363.5 432.6,366.8" fill="#f7efe9" stroke="#f7efe9" stroke-width="0.5"/>
<polygon points="433.9,349.6 437.2,345.3 440.5,340.8 446,353.2 442.6,356.7 439.3,360.1" fill="#f7efe9" stroke="#f7efe9" stroke-width="0.5"/>
<polygon points="440.5,340.8 443.9,336.2 447.2,331.5 452.6,346 449.3,349.7 446,353.2" fill="#f7efe9" stroke="#f7efe9" stroke-width="0.5"/>
<polygon points="447.2,331.5 450.5,326.7 453.9,321.7 459.3,338.4 455.9,342.3 452.6,346" fill="#f7efe9" stroke="#f7efe9" stroke-width="0.5"/>
<polygon points="453.9,321.7 457.2,316.5 460.5,311.1 465.9,330.1 462.6,334.3 459.3,338.4" fill="#f7efe9" stroke="#f7efe9" stroke-width="0.5"/>
<polygon points="460.5,311.1 463.8,305.6 467.2,299.8 472.6,320.6 469.3,325.5 465.9,330.1" fill="#f7efe9" stroke="#f7efe9" stroke-width="0.5"/>
<polygon points="467.2,299.8 470.5,293.8 473.8,287.5 479.3,309.7 475.9,315.4 472.6,320.6" fill="#f6eeea" stroke="#f6eeea" stroke-width="0.5"/>
<polygon points="473.8,287.5 477.2,280.9 480.5,274.1 485.9,296.9 482.6,303.6 479.3,309.7" fill="#e1e9ef" stroke="#e1e9ef" stroke-width="0.5"/>
<polygon points="480.5,274.1 483.8,267 487.2,259.6 492.6,281.6 489.2,289.6 485.9,296.9" fill="#dee8f0" stroke="#dee8f0" stroke-width="0.5"/>
<polygon points="487.2,259.6 490.5,251.9 493.8,243.8 499.2,263.1 495.9,272.8 492.6,281.6" fill="#72a0cf" stroke="#72a0cf" stroke-width="0.5"/>
<polygon points="493.8,243.8 497.1,235.4 500.5,226.6 505.9,240.8 502.6,252.5 499.2,263.1" fill="#8db2d7" stroke="#8db2d7" stroke-width="0.5"/>
<path d="M367.3 415.7L370.6 413.1L373.9 410.4L377.3 407.7L380.6 405L383.9 402.3L387.3 399.5L390.6 396.6L393.9 393.4L397.2 389.5L400.6 384.5L403.9 379.6L407.2 376.6L410.6 374.9L413.9 372.8L417.2 369.7L420.6 366L423.9 362L427.2 358L430.5 353.8L433.9 349.6L437.2 345.3L440.5 340.8L443.9 336.2L447.2 331.5L450.5 326.7L453.9 321.7L457.2 316.5L460.5 311.1L463.8 305.6L467.2 299.8L470.5 293.8L473.8 287.5L477.2 280.9L480.5 274.1L483.8 267L487.2 259.6L490.5 251.9L493.8 243.8L497.1 235.4L500.5 226.6" fill="none" stroke="#d66868" stroke-width="2" stroke-linejoin="round"/>
<polygon points="372.7,418.5 376,415.8 379.4,413.2 384.8,416 381.5,418.6 378.1,421.2" fill="#f6e5da" stroke="#f6e5da" stroke-width="0.5"/>
<polygon points="379.4,413.2 382.7,410.6 386,408 391.4,410.8 388.1,413.4 384.8,416" fill="#f6e5da" stroke="#f6e5da" stroke-width="0.5"/>
<polygon points="386,408 389.3,405.3 392.7,402.7 398.1,405.6 394.8,408.2 391.4,410.8" fill="#f6e5da" stroke="#f6e5da" stroke-width="0.5"/>
<polygon points="392.7,402.7 396,400 399.3,397.3 404.8,400.3 401.4,402.9 398.1,405.6" fill="#f6e6dc" stroke="#f6e6dc" stroke-width="0.5"/>
<polygon points="399.3,397.3 402.7,394.5 406,391.5 411.4,395 408.1,397.7 404.8,400.3" fill="#f7e9e0" stroke="#f7e9e0" stroke-width="0.5"/>
<polygon points="406,391.5 409.3,387.7 412.7,382.9 418.1,389.2 414.8,392.3 411.4,395" fill="#f7ebe4" stroke="#f7ebe4" stroke-width="0.5"/>
<polygon points="412.7,382.9 416,378 419.3,375 424.7,380.3 421.4,385.2 418.1,389.2" fill="#f7eee7" stroke="#f7eee7" stroke-width="0.5"/>
<polygon points="419.3,375 422.6,373.8 426,372.4 431.4,374.2 428.1,376.1 424.7,380.3" fill="#f6e8e1" stroke="#f6e8e1" stroke-width="0.5"/>
<polygon points="426,372.4 429.3,370 432.6,366.8 438.1,372 434.7,373.4 431.4,374.2" fill="#f6e5dc" stroke="#f6e5dc" stroke-width="0.5"/>
<polygon points="432.6,366.8 436,363.5 439.3,360.1 444.7,366.7 441.4,369.6 438.1,372" fill="#f7efe9" stroke="#f7efe9" stroke-width="0.5"/>
<polygon points="439.3,360.1 442.6,356.7 446,353.2 451.4,360.6 448.1,363.7 444.7,366.7" fill="#f7efe9" stroke="#f7efe9" stroke-width="0.5"/>
<polygon points="446,353.2 449.3,349.7 452.6,346 458,354.1 454.7,357.4 451.4,360.6" fill="#f7efe9" stroke="#f7efe9" stroke-width="0.5"/>
<polygon points="452.6,346 455.9,342.3 459.3,338.4 464.7,347.1 461.4,350.7 458,354.1" fill="#f7efe9" stroke="#f7efe9" stroke-width="0.5"/>
<polygon points="459.3,338.4 462.6,334.3 465.9,330.1 471.4,339.2 468,343.3 464.7,347.1" fill="#f7efe9" stroke="#f7efe9" stroke-width="0.5"/>
<polygon points="465.9,330.1 469.3,325.5 472.6,320.6 478,330.3 474.7,334.9 471.4,339.2" fill="#f7efe9" stroke="#f7efe9" stroke-width="0.5"/>
<polygon points="472.6,320.6 475.9,315.4 479.3,309.7 484.7,319.8 481.4,325.2 478,330.3" fill="#f7efe9" stroke="#f7efe9" stroke-width="0.5"/>
<polygon points="479.3,309.7 482.6,303.6 485.9,296.9 491.3,307.4 488,313.9 484.7,319.8" fill="#edecec" stroke="#edecec" stroke-width="0.5"/>
<polygon points="485.9,296.9 489.2,289.6 492.6,281.6 498,292.6 494.7,300.3 491.3,307.4" fill="#dee8f0" stroke="#dee8f0" stroke-width="0.5"/>
<polygon points="492.6,281.6 495.9,272.8 499.2,263.1 504.7,275 501.3,284.2 498,292.6" fill="#72a0cf" stroke="#72a0cf" stroke-width="0.5"/>
<polygon points="499.2,263.1 502.6,252.5 505.9,240.8 511.3,253.9 508,264.9 504.7,275" fill="#8db2d7" stroke="#8db2d7" stroke-width="0.5"/>
<path d="M372.7 418.5L376 415.8L379.4 413.2L382.7 410.6L386 408L389.3 405.3L392.7 402.7L396 400L399.3 397.3L402.7 394.5L406 391.5L409.3 387.7L412.7 382.9L416 378L419.3 375L422.6 373.8L426 372.4L429.3 370L432.6 366.8L436 363.5L439.3 360.1L442.6 356.7L446 353.2L449.3 349.7L452.6 346L455.9 342.3L459.3 338.4L462.6 334.3L465.9 330.1L469.3 325.5L472.6 320.6L475.9 315.4L479.3 309.7L482.6 303.6L485.9 296.9L489.2 289.6L492.6 281.6L495.9 272.8L499.2 263.1L502.6 252.5L505.9 240.8" fill="none" stroke="#d66868" stroke-width="2" stroke-linejoin="round"/>
<polygon points="378.1,421.2 381.5,418.6 384.8,416 390.2,418.8 386.9,421.4 383.6,424" fill="#f6e5da" stroke="#f6e5da" stroke-width="0.5"/>
<polygon points="384.8,416 388.1,413.4 391.4,410.8 396.9,413.6 393.5,416.2 390.2,418.8" fill="#f6e5da" stroke="#f6e5da" stroke-width="0.5"/>
<polygon points="391.4,410.8 394.8,408.2 398.1,405.6 403.5,408.4 400.2,411 396.9,413.6" fill="#f6e5da" stroke="#f6e5da" stroke-width="0.5"/>
<polygon points="398.1,405.6 401.4,402.9 404.8,400.3 410.2,403.2 406.9,405.8 403.5,408.4" fill="#f6e6dc" stroke="#f6e6dc" stroke-width="0.5"/>
<polygon points="404.8,400.3 408.1,397.7 411.4,395 416.9,398 413.5,400.6 410.2,403.2" fill="#f7e9e0" stroke="#f7e9e0" stroke-width="0.5"/>
<polygon points="411.4,395 414.8,392.3 418.1,389.2 423.5,392.7 420.2,395.4 416.9,398" fill="#f7ebe4" stroke="#f7ebe4" stroke-width="0.5"/>
<polygon points="418.1,389.2 421.4,385.2 424.7,380.3 430.2,386.5 426.8,389.9 423.5,392.7" fill="#f7eee7" stroke="#f7eee7" stroke-width="0.5"/>
<polygon points="424.7,380.3 428.1,376.1 431.4,374.2 436.8,377.4 433.5,381.9 430.2,386.5" fill="#f7efe9" stroke="#f7efe9" stroke-width="0.5"/>
<polygon points="431.4,374.2 434.7,373.4 438.1,372 443.5,374.1 440.2,374.8 436.8,377.4" fill="#f4dcd1" stroke="#f4dcd1" stroke-width="0.5"/>
<polygon points="438.1,372 441.4,369.6 444.7,366.7 450.2,371.4 446.8,373.3 443.5,374.1" fill="#f6e6de" stroke="#f6e6de" stroke-width="0.5"/>
<polygon points="444.7,366.7 448.1,363.7 451.4,360.6 456.8,366 453.5,368.9 450.2,371.4" fill="#f7efe9" stroke="#f7efe9" stroke-width="0.5"/>
<polygon points="451.4,360.6 454.7,357.4 458,354.1 463.5,359.8 460.1,363 456.8,366" fill="#f7efe9" stroke="#f7efe9" stroke-width="0.5"/>
<polygon points="458,354.1 461.4,350.7 464.7,347.1 470.1,352.8 466.8,356.4 463.5,359.8" fill="#f7efe9" stroke="#f7efe9" stroke-width="0.5"/>
<polygon points="464.7,347.1 468,343.3 471.4,339.2 476.8,344.8 473.5,349 470.1,352.8" fill="#f7efe9" stroke="#f7efe9" stroke-width="0.5"/>
<polygon points="471.4,339.2 474.7,334.9 478,330.3 483.5,335.4 480.1,340.3 476.8,344.8" fill="#f7efe9" stroke="#f7efe9" stroke-width="0.5"/>
<polygon points="478,330.3 481.4,325.2 484.7,319.8 490.1,324.3 486.8,330.1 483.5,335.4" fill="#f7efe9" stroke="#f7efe9" stroke-width="0.5"/>
<polygon points="484.7,319.8 488,313.9 491.3,307.4 496.8,311.3 493.4,318.1 490.1,324.3" fill="#efedec" stroke="#efedec" stroke-width="0.5"/>
<polygon points="491.3,307.4 494.7,300.3 498,292.6 503.4,295.9 500.1,303.9 496.8,311.3" fill="#dee8f0" stroke="#dee8f0" stroke-width="0.5"/>
<polygon points="498,292.6 501.3,284.2 504.7,275 510.1,277.9 506.8,287.3 503.4,295.9" fill="#c9daea" stroke="#c9daea" stroke-width="0.5"/>
<polygon points="504.7,275 508,264.9 511.3,253.9 516.8,256.9 513.4,267.8 510.1,277.9" fill="#b0c9e2" stroke="#b0c9e2" stroke-width="0.5"/>
<path d="M378.1 421.2L381.5 418.6L384.8 416L388.1 413.4L391.4 410.8L394.8 408.2L398.1 405.6L401.4 402.9L404.8 400.3L408.1 397.7L411.4 395L414.8 392.3L418.1 389.2L421.4 385.2L424.7 380.3L428.1 376.1L431.4 374.2L434.7 373.4L438.1 372L441.4 369.6L444.7 366.7L448.1 363.7L451.4 360.6L454.7 357.4L458 354.1L461.4 350.7L464.7 347.1L468 343.3L471.4 339.2L474.7 334.9L478 330.3L481.4 325.2L484.7 319.8L488 313.9L491.3 307.4L494.7 300.3L498 292.6L501.3 284.2L504.7 275L508 264.9L511.3 253.9" fill="none" stroke="#d66868" stroke-width="2" stroke-linejoin="round"/>
<polygon points="383.6,424 386.9,421.4 390.2,418.8 395.6,421.4 392.3,424 389,426.6" fill="#f6e5da" stroke="#f6e5da" stroke-width="0.5"/>
<polygon points="390.2,418.8 393.5,416.2 396.9,413.6 402.3,416.2 399,418.8 395.6,421.4" fill="#f6e5da" stroke="#f6e5da" stroke-width="0.5"/>
<polygon points="396.9,413.6 400.2,411 403.5,408.4 409,411 405.6,413.6 402.3,416.2" fill="#f6e5da" stroke="#f6e5da" stroke-width="0.5"/>
<polygon points="403.5,408.4 406.9,405.8 410.2,403.2 415.6,405.8 412.3,408.4 409,411" fill="#f6e6dc" stroke="#f6e6dc" stroke-width="0.5"/>
<polygon points="410.2,403.2 413.5,400.6 416.9,398 422.3,400.6 419,403.2 415.6,405.8" fill="#f7e9e0" stroke="#f7e9e0" stroke-width="0.5"/>
<polygon points="416.9,398 420.2,395.4 423.5,392.7 428.9,395.4 425.6,398 422.3,400.6" fill="#f7ebe4" stroke="#f7ebe4" stroke-width="0.5"/>
<polygon points="423.5,392.7 426.8,389.9 430.2,386.5 435.6,390.1 432.3,392.8 428.9,395.4" fill="#f7eee7" stroke="#f7eee7" stroke-width="0.5"/>
<polygon points="430.2,386.5 433.5,381.9 436.8,377.4 442.3,382.8 438.9,386.9 435.6,390.1" fill="#f7efe9" stroke="#f7efe9" stroke-width="0.5"/>
<polygon points="436.8,377.4 440.2,374.8 443.5,374.1 448.9,374.6 445.6,378 442.3,382.8" fill="#f7efe9" stroke="#f7efe9" stroke-width="0.5"/>
<polygon points="443.5,374.1 446.8,373.3 450.2,371.4 455.6,372.8 452.3,373.4 448.9,374.6" fill="#f4d8cd" stroke="#f4d8cd" stroke-width="0.5"/>
<polygon points="450.2,371.4 453.5,368.9 456.8,366 462.2,368.8 458.9,371.3 455.6,372.8" fill="#f7ebe5" stroke="#f7ebe5" stroke-width="0.5"/>
<polygon points="456.8,366 460.1,363 463.5,359.8 468.9,362.8 465.6,365.9 462.2,368.8" fill="#f7efe9" stroke="#f7efe9" stroke-width="0.5"/>
<polygon points="463.5,359.8 466.8,356.4 470.1,352.8 475.6,355.9 472.2,359.4 468.9,362.8" fill="#f7efe9" stroke="#f7efe9" stroke-width="0.5"/>
<polygon points="470.1,352.8 473.5,349 476.8,344.8 482.2,348 478.9,352.1 475.6,355.9" fill="#f7efe9" stroke="#f7efe9" stroke-width="0.5"/>
<polygon points="476.8,344.8 480.1,340.3 483.5,335.4 488.9,338.8 485.6,343.6 482.2,348" fill="#f7efe9" stroke="#f7efe9" stroke-width="0.5"/>
<polygon points="483.5,335.4 486.8,330.1 490.1,324.3 495.5,328.1 492.2,333.6 488.9,338.8" fill="#f7efe9" stroke="#f7efe9" stroke-width="0.5"/>
<polygon points="490.1,324.3 493.4,318.1 496.8,311.3 502.2,315.5 498.9,322 495.5,328.1" fill="#f1edeb" stroke="#f1edeb" stroke-width="0.5"/>
<polygon points="496.8,311.3 500.1,303.9 503.4,295.9 508.9,300.9 505.5,308.4 502.2,315.5" fill="#dee8f0" stroke="#dee8f0" stroke-width="0.5"/>
<polygon points="503.4,295.9 506.8,287.3 510.1,277.9 515.5,283.9 512.2,292.7 508.9,300.9" fill="#d4e1ed" stroke="#d4e1ed" stroke-width="0.5"/>
<polygon points="510.1,277.9 513.4,267.8 516.8,256.9 522.2,264.5 518.9,274.5 515.5,283.9" fill="#b8cee4" stroke="#b8cee4" stroke-width="0.5"/>
<path d="M383.6 424L386.9 421.4L390.2 418.8L393.5 416.2L396.9 413.6L400.2 411L403.5 408.4L406.9 405.8L410.2 403.2L413.5 400.6L416.9 398L420.2 395.4L423.5 392.7L426.8 389.9L430.2 386.5L433.5 381.9L436.8 377.4L440.2 374.8L443.5 374.1L446.8 373.3L450.2 371.4L453.5 368.9L456.8 366L460.1 363L463.5 359.8L466.8 356.4L470.1 352.8L473.5 349L476.8 344.8L480.1 340.3L483.5 335.4L486.8 330.1L490.1 324.3L493.4 318.1L496.8 311.3L500.1 303.9L503.4 295.9L506.8 287.3L510.1 277.9L513.4 267.8L516.8 256.9" fill="none" stroke="#d66868" stroke-width="2" stroke-linejoin="round"/>
<polygon points="389,426.6 392.3,424 395.6,421.4 401.1,423.7 397.7,426.4 394.4,429" fill="#f6e5da" stroke="#f6e5da" stroke-width="0.5"/>
<polygon points="395.6,421.4 399,418.8 402.3,416.2 407.7,418.4 404.4,421.1 401.1,423.7" fill="#f6e5da" stroke="#f6e5da" stroke-width="0.5"/>
<polygon points="402.3,416.2 405.6,413.6 409,411 414.4,413.1 411.1,415.8 407.7,418.4" fill="#f6e5da" stroke="#f6e5da" stroke-width="0.5"/>
<polygon points="409,411 412.3,408.4 415.6,405.8 421.1,407.8 417.7,410.5 414.4,413.1" fill="#f6e6dc" stroke="#f6e6dc" stroke-width="0.5"/>
<polygon points="415.6,405.8 419,403.2 422.3,400.6 427.7,402.5 424.4,405.2 421.1,407.8" fill="#f7e9e0" stroke="#f7e9e0" stroke-width="0.5"/>
<polygon points="422.3,400.6 425.6,398 428.9,395.4 434.4,397.2 431,399.9 427.7,402.5" fill="#f7ebe4" stroke="#f7ebe4" stroke-width="0.5"/>
<polygon points="428.9,395.4 432.3,392.8 435.6,390.1 441,391.9 437.7,394.6 434.4,397.2" fill="#f7eee7" stroke="#f7eee7" stroke-width="0.5"/>
<polygon points="435.6,390.1 438.9,386.9 442.3,382.8 447.7,386 444.4,389.2 441,391.9" fill="#f7efe9" stroke="#f7efe9" stroke-width="0.5"/>
<polygon points="442.3,382.8 445.6,378 448.9,374.6 454.4,377.1 451,381.9 447.7,386" fill="#f7efe9" stroke="#f7efe9" stroke-width="0.5"/>
<polygon points="448.9,374.6 452.3,373.4 455.6,372.8 461,372 457.7,373.4 454.4,377.1" fill="#f5e2d8" stroke="#f5e2d8" stroke-width="0.5"/>
<polygon points="455.6,372.8 458.9,371.3 462.2,368.8 467.7,369.9 464.3,371.4 461,372" fill="#f5dfd5" stroke="#f5dfd5" stroke-width="0.5"/>
<polygon points="462.2,368.8 465.6,365.9 468.9,362.8 474.3,364.3 471,367.3 467.7,369.9" fill="#f7efe9" stroke="#f7efe9" stroke-width="0.5"/>
<polygon points="468.9,362.8 472.2,359.4 475.6,355.9 481,357.6 477.7,361.1 474.3,364.3" fill="#f7efe9" stroke="#f7efe9" stroke-width="0.5"/>
<polygon points="475.6,355.9 478.9,352.1 482.2,348 487.7,350 484.3,353.9 481,357.6" fill="#f7efe9" stroke="#f7efe9" stroke-width="0.5"/>
<polygon points="482.2,348 485.6,343.6 488.9,338.8 494.3,341.2 491,345.8 487.7,350" fill="#f7efe9" stroke="#f7efe9" stroke-width="0.5"/>
<polygon points="488.9,338.8 492.2,333.6 495.5,328.1 501,331.1 497.6,336.3 494.3,341.2" fill="#f7efe9" stroke="#f7efe9" stroke-width="0.5"/>
<polygon points="495.5,328.1 498.9,322 502.2,315.5 507.6,319.6 504.3,325.6 501,331.1" fill="#f3eeea" stroke="#f3eeea" stroke-width="0.5"/>
<polygon points="502.2,315.5 505.5,308.4 508.9,300.9 514.3,306.5 511,313.3 507.6,319.6" fill="#dee8f0" stroke="#dee8f0" stroke-width="0.5"/>
<polygon points="508.9,300.9 512.2,292.7 515.5,283.9 521,291.6 517.6,299.3 514.3,306.5" fill="#dee8f0" stroke="#dee8f0" stroke-width="0.5"/>
<polygon points="515.5,283.9 518.9,274.5 522.2,264.5 527.6,274.9 524.3,283.5 521,291.6" fill="#cdddeb" stroke="#cdddeb" stroke-width="0.5"/>
<path d="M389 426.6L392.3 424L395.6 421.4L399 418.8L402.3 416.2L405.6 413.6L409 411L412.3 408.4L415.6 405.8L419 403.2L422.3 400.6L425.6 398L428.9 395.4L432.3 392.8L435.6 390.1L438.9 386.9L442.3 382.8L445.6 378L448.9 374.6L452.3 373.4L455.6 372.8L458.9 371.3L462.2 368.8L465.6 365.9L468.9 362.8L472.2 359.4L475.6 355.9L478.9 352.1L482.2 348L485.6 343.6L488.9 338.8L492.2 333.6L495.5 328.1L498.9 322L502.2 315.5L505.5 308.4L508.9 300.9L512.2 292.7L515.5 283.9L518.9 274.5L522.2 264.5" fill="none" stroke="#d66868" stroke-width="2" stroke-linejoin="round"/>
<polygon points="394.4,429 397.7,426.4 401.1,423.7 406.5,425.8 403.2,428.5 399.8,431.3" fill="#f6e5da" stroke="#f6e5da" stroke-width="0.5"/>
<polygon points="401.1,423.7 404.4,421.1 407.7,418.4 413.2,420.3 409.8,423.1 406.5,425.8" fill="#f6e5da" stroke="#f6e5da" stroke-width="0.5"/>
<polygon points="407.7,418.4 411.1,415.8 414.4,413.1 419.8,414.9 416.5,417.6 413.2,420.3" fill="#f6e5da" stroke="#f6e5da" stroke-width="0.5"/>
<polygon points="414.4,413.1 417.7,410.5 421.1,407.8 426.5,409.4 423.2,412.1 419.8,414.9" fill="#f6e6dc" stroke="#f6e6dc" stroke-width="0.5"/>
<polygon points="421.1,407.8 424.4,405.2 427.7,402.5 433.1,403.9 429.8,406.7 426.5,409.4" fill="#f7e9e0" stroke="#f7e9e0" stroke-width="0.5"/>
<polygon points="427.7,402.5 431,399.9 434.4,397.2 439.8,398.5 436.5,401.2 433.1,403.9" fill="#f7ebe4" stroke="#f7ebe4" stroke-width="0.5"/>
<polygon points="434.4,397.2 437.7,394.6 441,391.9 446.5,393 443.1,395.7 439.8,398.5" fill="#f7eee7" stroke="#f7eee7" stroke-width="0.5"/>
<polygon points="441,391.9 444.4,389.2 447.7,386 453.1,387.4 449.8,390.3 446.5,393" fill="#f7efe9" stroke="#f7efe9" stroke-width="0.5"/>
<polygon points="447.7,386 451,381.9 454.4,377.1 459.8,379.7 456.5,384.1 453.1,387.4" fill="#f7efe9" stroke="#f7efe9" stroke-width="0.5"/>
<polygon points="454.4,377.1 457.7,373.4 461,372 466.4,371.3 463.1,374.8 459.8,379.7" fill="#f7efe9" stroke="#f7efe9" stroke-width="0.5"/>
<polygon points="461,372 464.3,371.4 467.7,369.9 473.1,369.4 469.8,370.1 466.4,371.3" fill="#f4d7ca" stroke="#f4d7ca" stroke-width="0.5"/>
<polygon points="467.7,369.9 471,367.3 474.3,364.3 479.8,365 476.4,367.7 473.1,369.4" fill="#f7ede7" stroke="#f7ede7" stroke-width="0.5"/>
<polygon points="474.3,364.3 477.7,361.1 481,357.6 486.4,358.5 483.1,361.9 479.8,365" fill="#f7efe9" stroke="#f7efe9" stroke-width="0.5"/>
<polygon points="481,357.6 484.3,353.9 487.7,350 493.1,351.2 489.8,355 486.4,358.5" fill="#f7efe9" stroke="#f7efe9" stroke-width="0.5"/>
<polygon points="487.7,350 491,345.8 494.3,341.2 499.7,343 496.4,347.3 493.1,351.2" fill="#f7efe9" stroke="#f7efe9" stroke-width="0.5"/>
<polygon points="494.3,341.2 497.6,336.3 501,331.1 506.4,333.8 503.1,338.6 499.7,343" fill="#f7efe9" stroke="#f7efe9" stroke-width="0.5"/>
<polygon points="501,331.1 504.3,325.6 507.6,319.6 513.1,323.5 509.7,328.8 506.4,333.8" fill="#f6eeea" stroke="#f6eeea" stroke-width="0.5"/>
<polygon points="507.6,319.6 511,313.3 514.3,306.5 519.7,312 516.4,317.9 513.1,323.5" fill="#e0e9ef" stroke="#e0e9ef" stroke-width="0.5"/>
<polygon points="514.3,306.5 517.6,299.3 521,291.6 526.4,299.4 523.1,305.9 519.7,312" fill="#dee8f0" stroke="#dee8f0" stroke-width="0.5"/>
<polygon points="521,291.6 524.3,283.5 527.6,274.9 533,285.4 529.7,292.5 526.4,299.4" fill="#dee8f0" stroke="#dee8f0" stroke-width="0.5"/>
<path d="M394.4 429L397.7 426.4L401.1 423.7L404.4 421.1L407.7 418.4L411.1 415.8L414.4 413.1L417.7 410.5L421.1 407.8L424.4 405.2L427.7 402.5L431 399.9L434.4 397.2L437.7 394.6L441 391.9L444.4 389.2L447.7 386L451 381.9L454.4 377.1L457.7 373.4L461 372L464.3 371.4L467.7 369.9L471 367.3L474.3 364.3L477.7 361.1L481 357.6L484.3 353.9L487.7 350L491 345.8L494.3 341.2L497.6 336.3L501 331.1L504.3 325.6L507.6 319.6L511 313.3L514.3 306.5L517.6 299.3L521 291.6L524.3 283.5L527.6 274.9" fill="none" stroke="#d66868" stroke-width="2" stroke-linejoin="round"/>
<polygon points="399.8,431.3 403.2,428.5 406.5,425.8 411.9,427.6 408.6,430.4 405.3,433.3" fill="#f6e5da" stroke="#f6e5da" stroke-width="0.5"/>
<polygon points="406.5,425.8 409.8,423.1 413.2,420.3 418.6,422 415.3,424.8 411.9,427.6" fill="#f6e5da" stroke="#f6e5da" stroke-width="0.5"/>
<polygon points="413.2,420.3 416.5,417.6 419.8,414.9 425.3,416.4 421.9,419.2 418.6,422" fill="#f6e5da" stroke="#f6e5da" stroke-width="0.5"/>
<polygon points="419.8,414.9 423.2,412.1 426.5,409.4 431.9,410.7 428.6,413.6 425.3,416.4" fill="#f6e6dc" stroke="#f6e6dc" stroke-width="0.5"/>
<polygon points="426.5,409.4 429.8,406.7 433.1,403.9 438.6,405.1 435.2,407.9 431.9,410.7" fill="#f7e9e0" stroke="#f7e9e0" stroke-width="0.5"/>
<polygon points="433.1,403.9 436.5,401.2 439.8,398.5 445.2,399.5 441.9,402.3 438.6,405.1" fill="#f7ebe4" stroke="#f7ebe4" stroke-width="0.5"/>
<polygon points="439.8,398.5 443.1,395.7 446.5,393 451.9,393.8 448.6,396.7 445.2,399.5" fill="#f7eee7" stroke="#f7eee7" stroke-width="0.5"/>
<polygon points="446.5,393 449.8,390.3 453.1,387.4 458.6,388.1 455.2,391 451.9,393.8" fill="#f7efe9" stroke="#f7efe9" stroke-width="0.5"/>
<polygon points="453.1,387.4 456.5,384.1 459.8,379.7 465.2,381.5 461.9,385.1 458.6,388.1" fill="#f7efe9" stroke="#f7efe9" stroke-width="0.5"/>
<polygon points="459.8,379.7 463.1,374.8 466.4,371.3 471.9,371.8 468.5,376.9 465.2,381.5" fill="#f7efe9" stroke="#f7efe9" stroke-width="0.5"/>
<polygon points="466.4,371.3 469.8,370.1 473.1,369.4 478.5,367.2 475.2,368.4 471.9,371.8" fill="#f5e0d6" stroke="#f5e0d6" stroke-width="0.5"/>
<polygon points="473.1,369.4 476.4,367.7 479.8,365 485.2,364 481.9,366.2 478.5,367.2" fill="#f6e5dc" stroke="#f6e5dc" stroke-width="0.5"/>
<polygon points="479.8,365 483.1,361.9 486.4,358.5 491.9,357.4 488.5,360.9 485.2,364" fill="#f7efe9" stroke="#f7efe9" stroke-width="0.5"/>
<polygon points="486.4,358.5 489.8,355 493.1,351.2 498.5,349.9 495.2,353.7 491.9,357.4" fill="#f7efe9" stroke="#f7efe9" stroke-width="0.5"/>
<polygon points="493.1,351.2 496.4,347.3 499.7,343 505.2,341.9 501.8,346 498.5,349.9" fill="#f7efe9" stroke="#f7efe9" stroke-width="0.5"/>
<polygon points="499.7,343 503.1,338.6 506.4,333.8 511.8,333.3 508.5,337.7 505.2,341.9" fill="#f7efe9" stroke="#f7efe9" stroke-width="0.5"/>
<polygon points="506.4,333.8 509.7,328.8 513.1,323.5 518.5,324.3 515.2,328.8 511.8,333.3" fill="#f7efea" stroke="#f7efea" stroke-width="0.5"/>
<polygon points="513.1,323.5 516.4,317.9 519.7,312 525.2,314.7 521.8,319.5 518.5,324.3" fill="#e2e9ef" stroke="#e2e9ef" stroke-width="0.5"/>
<polygon points="519.7,312 523.1,305.9 526.4,299.4 531.8,304.8 528.5,309.8 525.2,314.7" fill="#dee8f0" stroke="#dee8f0" stroke-width="0.5"/>
<polygon points="526.4,299.4 529.7,292.5 533,285.4 538.5,294.4 535.1,299.7 531.8,304.8" fill="#dee8f0" stroke="#dee8f0" stroke-width="0.5"/>
<path d="M399.8 431.3L403.2 428.5L406.5 425.8L409.8 423.1L413.2 420.3L416.5 417.6L419.8 414.9L423.2 412.1L426.5 409.4L429.8 406.7L433.1 403.9L436.5 401.2L439.8 398.5L443.1 395.7L446.5 393L449.8 390.3L453.1 387.4L456.5 384.1L459.8 379.7L463.1 374.8L466.4 371.3L469.8 370.1L473.1 369.4L476.4 367.7L479.8 365L483.1 361.9L486.4 358.5L489.8 355L493.1 351.2L496.4 347.3L499.7 343L503.1 338.6L506.4 333.8L509.7 328.8L513.1 323.5L516.4 317.9L519.7 312L523.1 305.9L526.4 299.4L529.7 292.5L533 285.4" fill="none" stroke="#d66868" stroke-width="2" stroke-linejoin="round"/>
<polygon points="405.3,433.3 408.6,430.4 411.9,427.6 417.4,429.2 414,432.1 410.7,435" fill="#f6e5da" stroke="#f6e5da" stroke-width="0.5"/>
<polygon points="411.9,427.6 415.3,424.8 418.6,422 424,423.4 420.7,426.3 417.4,429.2" fill="#f6e5da" stroke="#f6e5da" stroke-width="0.5"/>
<polygon points="418.6,422 421.9,419.2 425.3,416.4 430.7,417.6 427.4,420.5 424,423.4" fill="#f6e5da" stroke="#f6e5da" stroke-width="0.5"/>
<polygon points="425.3,416.4 428.6,413.6 431.9,410.7 437.3,411.8 434,414.7 430.7,417.6" fill="#f6e6dc" stroke="#f6e6dc" stroke-width="0.5"/>
<polygon points="431.9,410.7 435.2,407.9 438.6,405.1 444,406 440.7,408.9 437.3,411.8" fill="#f7e9e0" stroke="#f7e9e0" stroke-width="0.5"/>
<polygon points="438.6,405.1 441.9,402.3 445.2,399.5 450.7,400.2 447.3,403.1 444,406" fill="#f7ebe4" stroke="#f7ebe4" stroke-width="0.5"/>
<polygon points="445.2,399.5 448.6,396.7 451.9,393.8 457.3,394.3 454,397.3 450.7,400.2" fill="#f7eee7" stroke="#f7eee7" stroke-width="0.5"/>
<polygon points="451.9,393.8 455.2,391 458.6,388.1 464,388.5 460.7,391.4 457.3,394.3" fill="#f7efe9" stroke="#f7efe9" stroke-width="0.5"/>
<polygon points="458.6,388.1 461.9,385.1 465.2,381.5 470.6,382.3 467.3,385.5 464,388.5" fill="#f7efe9" stroke="#f7efe9" stroke-width="0.5"/>
<polygon points="465.2,381.5 468.5,376.9 471.9,371.8 477.3,373.5 474,378.4 470.6,382.3" fill="#f7efe9" stroke="#f7efe9" stroke-width="0.5"/>
<polygon points="471.9,371.8 475.2,368.4 478.5,367.2 484,365.1 480.6,368.3 477.3,373.5" fill="#f7efe9" stroke="#f7efe9" stroke-width="0.5"/>
<polygon points="478.5,367.2 481.9,366.2 485.2,364 490.6,362.6 487.3,363.9 484,365.1" fill="#f5ded3" stroke="#f5ded3" stroke-width="0.5"/>
<polygon points="485.2,364 488.5,360.9 491.9,357.4 497.3,356.8 494,360.1 490.6,362.6" fill="#f7efe9" stroke="#f7efe9" stroke-width="0.5"/>
<polygon points="491.9,357.4 495.2,353.7 498.5,349.9 503.9,349.4 500.6,353.1 497.3,356.8" fill="#f7efe9" stroke="#f7efe9" stroke-width="0.5"/>
<polygon points="498.5,349.9 501.8,346 505.2,341.9 510.6,341.5 507.3,345.5 503.9,349.4" fill="#f7efe9" stroke="#f7efe9" stroke-width="0.5"/>
<polygon points="505.2,341.9 508.5,337.7 511.8,333.3 517.3,333.3 513.9,337.4 510.6,341.5" fill="#f7efe9" stroke="#f7efe9" stroke-width="0.5"/>
<polygon points="511.8,333.3 515.2,328.8 518.5,324.3 523.9,324.8 520.6,329.1 517.3,333.3" fill="#f7efea" stroke="#f7efea" stroke-width="0.5"/>
<polygon points="518.5,324.3 521.8,319.5 525.2,314.7 530.6,316 527.3,320.4 523.9,324.8" fill="#e2e9ef" stroke="#e2e9ef" stroke-width="0.5"/>
<polygon points="525.2,314.7 528.5,309.8 531.8,304.8 537.2,306.9 533.9,311.5 530.6,316" fill="#dee8f0" stroke="#dee8f0" stroke-width="0.5"/>
<polygon points="531.8,304.8 535.1,299.7 538.5,294.4 543.9,297.7 540.6,302.3 537.2,306.9" fill="#dee8f0" stroke="#dee8f0" stroke-width="0.5"/>
<path d="M405.3 433.3L408.6 430.4L411.9 427.6L415.3 424.8L418.6 422L421.9 419.2L425.3 416.4L428.6 413.6L431.9 410.7L435.2 407.9L438.6 405.1L441.9 402.3L445.2 399.5L448.6 396.7L451.9 393.8L455.2 391L458.6 388.1L461.9 385.1L465.2 381.5L468.5 376.9L471.9 371.8L475.2 368.4L478.5 367.2L481.9 366.2L485.2 364L488.5 360.9L491.9 357.4L495.2 353.7L498.5 349.9L501.8 346L505.2 341.9L508.5 337.7L511.8 333.3L515.2 328.8L518.5 324.3L521.8 319.5L525.2 314.7L528.5 309.8L531.8 304.8L535.1 299.7L538.5 294.4" fill="none" stroke="#d66868" stroke-width="2" stroke-linejoin="round"/>
<polygon points="410.7,435 414,432.1 417.4,429.2 422.8,430.6 419.5,433.5 416.1,436.5" fill="#f6e5da" stroke="#f6e5da" stroke-width="0.5"/>
<polygon points="417.4,429.2 420.7,426.3 424,423.4 429.5,424.6 426.1,427.6 422.8,430.6" fill="#f6e5da" stroke="#f6e5da" stroke-width="0.5"/>
<polygon points="424,423.4 427.4,420.5 430.7,417.6 436.1,418.6 432.8,421.6 429.5,424.6" fill="#f6e5da" stroke="#f6e5da" stroke-width="0.5"/>
<polygon points="430.7,417.6 434,414.7 437.3,411.8 442.8,412.7 439.4,415.6 436.1,418.6" fill="#f6e6dc" stroke="#f6e6dc" stroke-width="0.5"/>
<polygon points="437.3,411.8 440.7,408.9 444,406 449.4,406.7 446.1,409.7 442.8,412.7" fill="#f7e9e0" stroke="#f7e9e0" stroke-width="0.5"/>
<polygon points="444,406 447.3,403.1 450.7,400.2 456.1,400.7 452.8,403.7 449.4,406.7" fill="#f7ebe4" stroke="#f7ebe4" stroke-width="0.5"/>
<polygon points="450.7,400.2 454,397.3 457.3,394.3 462.8,394.7 459.4,397.7 456.1,400.7" fill="#f7eee7" stroke="#f7eee7" stroke-width="0.5"/>
<polygon points="457.3,394.3 460.7,391.4 464,388.5 469.4,388.6 466.1,391.7 462.8,394.7" fill="#f7efe9" stroke="#f7efe9" stroke-width="0.5"/>
<polygon points="464,388.5 467.3,385.5 470.6,382.3 476.1,382.5 472.7,385.6 469.4,388.6" fill="#f7efe9" stroke="#f7efe9" stroke-width="0.5"/>
<polygon points="470.6,382.3 474,378.4 477.3,373.5 482.7,375.4 479.4,379.2 476.1,382.5" fill="#f7efe9" stroke="#f7efe9" stroke-width="0.5"/>
<polygon points="477.3,373.5 480.6,368.3 484,365.1 489.4,364.9 486.1,370.5 482.7,375.4" fill="#f7efe9" stroke="#f7efe9" stroke-width="0.5"/>
<polygon points="484,365.1 487.3,363.9 490.6,362.6 496.1,359 492.7,360.8 489.4,364.9" fill="#f6e8e0" stroke="#f6e8e0" stroke-width="0.5"/>
<polygon points="490.6,362.6 494,360.1 497.3,356.8 502.7,355.4 499.4,357.8 496.1,359" fill="#f7ebe5" stroke="#f7ebe5" stroke-width="0.5"/>
<polygon points="497.3,356.8 500.6,353.1 503.9,349.4 509.4,348.6 506,352.2 502.7,355.4" fill="#f7efe9" stroke="#f7efe9" stroke-width="0.5"/>
<polygon points="503.9,349.4 507.3,345.5 510.6,341.5 516,341 512.7,344.8 509.4,348.6" fill="#f7efe9" stroke="#f7efe9" stroke-width="0.5"/>
<polygon points="510.6,341.5 513.9,337.4 517.3,333.3 522.7,333.2 519.4,337.1 516,341" fill="#f7efe9" stroke="#f7efe9" stroke-width="0.5"/>
<polygon points="517.3,333.3 520.6,329.1 523.9,324.8 529.4,325.2 526,329.2 522.7,333.2" fill="#f7efea" stroke="#f7efea" stroke-width="0.5"/>
<polygon points="523.9,324.8 527.3,320.4 530.6,316 536,317.2 532.7,321.2 529.4,325.2" fill="#e2e9ef" stroke="#e2e9ef" stroke-width="0.5"/>
<polygon points="530.6,316 533.9,311.5 537.2,306.9 542.7,309.1 539.3,313.2 536,317.2" fill="#dee8f0" stroke="#dee8f0" stroke-width="0.5"/>
<polygon points="537.2,306.9 540.6,302.3 543.9,297.7 549.3,300.9 546,305 542.7,309.1" fill="#dee8f0" stroke="#dee8f0" stroke-width="0.5"/>
<path d="M410.7 435L414 432.1L417.4 429.2L420.7 426.3L424 423.4L427.4 420.5L430.7 417.6L434 414.7L437.3 411.8L440.7 408.9L444 406L447.3 403.1L450.7 400.2L454 397.3L457.3 394.3L460.7 391.4L464 388.5L467.3 385.5L470.6 382.3L474 378.4L477.3 373.5L480.6 368.3L484 365.1L487.3 363.9L490.6 362.6L494 360.1L497.3 356.8L500.6 353.1L503.9 349.4L507.3 345.5L510.6 341.5L513.9 337.4L517.3 333.3L520.6 329.1L523.9 324.8L527.3 320.4L530.6 316L533.9 311.5L537.2 306.9L540.6 302.3L543.9 297.7" fill="none" stroke="#d66868" stroke-width="2" stroke-linejoin="round"/>
<polygon points="416.1,436.5 419.5,433.5 422.8,430.6 428.2,432 424.9,435.1 421.6,438.1" fill="#f6e5da" stroke="#f6e5da" stroke-width="0.5"/>
<polygon points="422.8,430.6 426.1,427.6 429.5,424.6 434.9,425.9 431.6,428.9 428.2,432" fill="#f6e5da" stroke="#f6e5da" stroke-width="0.5"/>
<polygon points="429.5,424.6 432.8,421.6 436.1,418.6 441.5,419.7 438.2,422.8 434.9,425.9" fill="#f6e5da" stroke="#f6e5da" stroke-width="0.5"/>
<polygon points="436.1,418.6 439.4,415.6 442.8,412.7 448.2,413.6 444.9,416.7 441.5,419.7" fill="#f6e6dc" stroke="#f6e6dc" stroke-width="0.5"/>
<polygon points="442.8,412.7 446.1,409.7 449.4,406.7 454.9,407.4 451.5,410.5 448.2,413.6" fill="#f7e9e0" stroke="#f7e9e0" stroke-width="0.5"/>
<polygon points="449.4,406.7 452.8,403.7 456.1,400.7 461.5,401.2 458.2,404.3 454.9,407.4" fill="#f7ebe4" stroke="#f7ebe4" stroke-width="0.5"/>
<polygon points="456.1,400.7 459.4,397.7 462.8,394.7 468.2,395 464.9,398.1 461.5,401.2" fill="#f7eee7" stroke="#f7eee7" stroke-width="0.5"/>
<polygon points="462.8,394.7 466.1,391.7 469.4,388.6 474.8,388.7 471.5,391.9 468.2,395" fill="#f7efe9" stroke="#f7efe9" stroke-width="0.5"/>
<polygon points="469.4,388.6 472.7,385.6 476.1,382.5 481.5,382.3 478.2,385.5 474.8,388.7" fill="#f7efe9" stroke="#f7efe9" stroke-width="0.5"/>
<polygon points="476.1,382.5 479.4,379.2 482.7,375.4 488.2,375.6 484.8,379 481.5,382.3" fill="#f7efe9" stroke="#f7efe9" stroke-width="0.5"/>
<polygon points="482.7,375.4 486.1,370.5 489.4,364.9 494.8,367.1 491.5,371.8 488.2,375.6" fill="#f7efe9" stroke="#f7efe9" stroke-width="0.5"/>
<polygon points="489.4,364.9 492.7,360.8 496.1,359 501.5,356.1 498.2,361.3 494.8,367.1" fill="#f7efe9" stroke="#f7efe9" stroke-width="0.5"/>
<polygon points="496.1,359 499.4,357.8 502.7,355.4 508.1,352.2 504.8,353.5 501.5,356.1" fill="#f6e4db" stroke="#f6e4db" stroke-width="0.5"/>
<polygon points="502.7,355.4 506,352.2 509.4,348.6 514.8,347.3 511.5,350.3 508.1,352.2" fill="#f7efe9" stroke="#f7efe9" stroke-width="0.5"/>
<polygon points="509.4,348.6 512.7,344.8 516,341 521.5,340.3 518.1,343.9 514.8,347.3" fill="#f7efe9" stroke="#f7efe9" stroke-width="0.5"/>
<polygon points="516,341 519.4,337.1 522.7,333.2 528.1,333 524.8,336.6 521.5,340.3" fill="#f7efe9" stroke="#f7efe9" stroke-width="0.5"/>
<polygon points="522.7,333.2 526,329.2 529.4,325.2 534.8,325.7 531.5,329.4 528.1,333" fill="#f7efea" stroke="#f7efea" stroke-width="0.5"/>
<polygon points="529.4,325.2 532.7,321.2 536,317.2 541.4,318.5 538.1,322.1 534.8,325.7" fill="#e2e9ef" stroke="#e2e9ef" stroke-width="0.5"/>
<polygon points="536,317.2 539.3,313.2 542.7,309.1 548.1,311.3 544.8,314.9 541.4,318.5" fill="#dee8f0" stroke="#dee8f0" stroke-width="0.5"/>
<polygon points="542.7,309.1 546,305 549.3,300.9 554.8,304.2 551.4,307.7 548.1,311.3" fill="#dee8f0" stroke="#dee8f0" stroke-width="0.5"/>
<path d="M416.1 436.5L419.5 433.5L422.8 430.6L426.1 427.6L429.5 424.6L432.8 421.6L436.1 418.6L439.4 415.6L442.8 412.7L446.1 409.7L449.4 406.7L452.8 403.7L456.1 400.7L459.4 397.7L462.8 394.7L466.1 391.7L469.4 388.6L472.7 385.6L476.1 382.5L479.4 379.2L482.7 375.4L486.1 370.5L489.4 364.9L492.7 360.8L496.1 359L499.4 357.8L502.7 355.4L506 352.2L509.4 348.6L512.7 344.8L516 341L519.4 337.1L522.7 333.2L526 329.2L529.4 325.2L532.7 321.2L536 317.2L539.3 313.2L542.7 309.1L546 305L549.3 300.9" fill="none" stroke="#d66868" stroke-width="2" stroke-linejoin="round"/>
<polygon points="421.6,438.1 424.9,435.1 428.2,432 433.7,433.6 430.3,436.7 427,439.9" fill="#f6e5da" stroke="#f6e5da" stroke-width="0.5"/>
<polygon points="428.2,432 431.6,428.9 434.9,425.9 440.3,427.3 437,430.4 433.7,433.6" fill="#f6e5da" stroke="#f6e5da" stroke-width="0.5"/>
<polygon points="434.9,425.9 438.2,422.8 441.5,419.7 447,420.9 443.6,424.1 440.3,427.3" fill="#f6e5da" stroke="#f6e5da" stroke-width="0.5"/>
<polygon points="441.5,419.7 444.9,416.7 448.2,413.6 453.6,414.6 450.3,417.8 447,420.9" fill="#f6e6dc" stroke="#f6e6dc" stroke-width="0.5"/>
<polygon points="448.2,413.6 451.5,410.5 454.9,407.4 460.3,408.2 457,411.4 453.6,414.6" fill="#f7e9e0" stroke="#f7e9e0" stroke-width="0.5"/>
<polygon points="454.9,407.4 458.2,404.3 461.5,401.2 467,401.9 463.6,405.1 460.3,408.2" fill="#f7ebe4" stroke="#f7ebe4" stroke-width="0.5"/>
<polygon points="461.5,401.2 464.9,398.1 468.2,395 473.6,395.4 470.3,398.6 467,401.9" fill="#f7eee7" stroke="#f7eee7" stroke-width="0.5"/>
<polygon points="468.2,395 471.5,391.9 474.8,388.7 480.3,388.9 476.9,392.1 473.6,395.4" fill="#f7efe9" stroke="#f7efe9" stroke-width="0.5"/>
<polygon points="474.8,388.7 478.2,385.5 481.5,382.3 486.9,382.2 483.6,385.6 480.3,388.9" fill="#f7efe9" stroke="#f7efe9" stroke-width="0.5"/>
<polygon points="481.5,382.3 484.8,379 488.2,375.6 493.6,375.4 490.3,378.8 486.9,382.2" fill="#f7efe9" stroke="#f7efe9" stroke-width="0.5"/>
<polygon points="488.2,375.6 491.5,371.8 494.8,367.1 500.3,368.1 496.9,371.9 493.6,375.4" fill="#f7efe9" stroke="#f7efe9" stroke-width="0.5"/>
<polygon points="494.8,367.1 498.2,361.3 501.5,356.1 506.9,358.1 503.6,363.6 500.3,368.1" fill="#f7efe9" stroke="#f7efe9" stroke-width="0.5"/>
<polygon points="501.5,356.1 504.8,353.5 508.1,352.2 513.6,348.7 510.2,352.3 506.9,358.1" fill="#f7efe9" stroke="#f7efe9" stroke-width="0.5"/>
<polygon points="508.1,352.2 511.5,350.3 514.8,347.3 520.2,345.9 516.9,347.3 513.6,348.7" fill="#f6e5dd" stroke="#f6e5dd" stroke-width="0.5"/>
<polygon points="514.8,347.3 518.1,343.9 521.5,340.3 526.9,340.3 523.6,343.4 520.2,345.9" fill="#f7efe9" stroke="#f7efe9" stroke-width="0.5"/>
<polygon points="521.5,340.3 524.8,336.6 528.1,333 533.6,333.6 530.2,336.9 526.9,340.3" fill="#f7efe9" stroke="#f7efe9" stroke-width="0.5"/>
<polygon points="528.1,333 531.5,329.4 534.8,325.7 540.2,326.9 536.9,330.2 533.6,333.6" fill="#f7efea" stroke="#f7efea" stroke-width="0.5"/>
<polygon points="534.8,325.7 538.1,322.1 541.4,318.5 546.9,320.4 543.5,323.6 540.2,326.9" fill="#e2e9ef" stroke="#e2e9ef" stroke-width="0.5"/>
<polygon points="541.4,318.5 544.8,314.9 548.1,311.3 553.5,313.9 550.2,317.1 546.9,320.4" fill="#dee8f0" stroke="#dee8f0" stroke-width="0.5"/>
<polygon points="548.1,311.3 551.4,307.7 554.8,304.2 560.2,307.4 556.9,310.6 553.5,313.9" fill="#dee8f0" stroke="#dee8f0" stroke-width="0.5"/>
<path d="M421.6 438.1L424.9 435.1L428.2 432L431.6 428.9L434.9 425.9L438.2 422.8L441.5 419.7L444.9 416.7L448.2 413.6L451.5 410.5L454.9 407.4L458.2 404.3L461.5 401.2L464.9 398.1L468.2 395L471.5 391.9L474.8 388.7L478.2 385.5L481.5 382.3L484.8 379L488.2 375.6L491.5 371.8L494.8 367.1L498.2 361.3L501.5 356.1L504.8 353.5L508.1 352.2L511.5 350.3L514.8 347.3L518.1 343.9L521.5 340.3L524.8 336.6L528.1 333L531.5 329.4L534.8 325.7L538.1 322.1L541.4 318.5L544.8 314.9L548.1 311.3L551.4 307.7L554.8 304.2" fill="none" stroke="#d66868" stroke-width="2" stroke-linejoin="round"/>
<polygon points="427,439.9 430.3,436.7 433.7,433.6 439.1,435.1 435.8,438.3 432.4,441.5" fill="#f6e5da" stroke="#f6e5da" stroke-width="0.5"/>
<polygon points="433.7,433.6 437,430.4 440.3,427.3 445.7,428.7 442.4,431.9 439.1,435.1" fill="#f6e5da" stroke="#f6e5da" stroke-width="0.5"/>
<polygon points="440.3,427.3 443.6,424.1 447,420.9 452.4,422.3 449.1,425.5 445.7,428.7" fill="#f6e5da" stroke="#f6e5da" stroke-width="0.5"/>
<polygon points="447,420.9 450.3,417.8 453.6,414.6 459.1,415.8 455.7,419 452.4,422.3" fill="#f6e6dc" stroke="#f6e6dc" stroke-width="0.5"/>
<polygon points="453.6,414.6 457,411.4 460.3,408.2 465.7,409.4 462.4,412.6 459.1,415.8" fill="#f7e9e0" stroke="#f7e9e0" stroke-width="0.5"/>
<polygon points="460.3,408.2 463.6,405.1 467,401.9 472.4,402.9 469.1,406.1 465.7,409.4" fill="#f7ebe4" stroke="#f7ebe4" stroke-width="0.5"/>
<polygon points="467,401.9 470.3,398.6 473.6,395.4 479,396.4 475.7,399.6 472.4,402.9" fill="#f7eee7" stroke="#f7eee7" stroke-width="0.5"/>
<polygon points="473.6,395.4 476.9,392.1 480.3,388.9 485.7,389.8 482.4,393.1 479,396.4" fill="#f7efe9" stroke="#f7efe9" stroke-width="0.5"/>
<polygon points="480.3,388.9 483.6,385.6 486.9,382.2 492.4,383.2 489,386.5 485.7,389.8" fill="#f7efe9" stroke="#f7efe9" stroke-width="0.5"/>
<polygon points="486.9,382.2 490.3,378.8 493.6,375.4 499,376.4 495.7,379.8 492.4,383.2" fill="#f7efe9" stroke="#f7efe9" stroke-width="0.5"/>
<polygon points="493.6,375.4 496.9,371.9 500.3,368.1 505.7,369.5 502.4,373 499,376.4" fill="#f7efe9" stroke="#f7efe9" stroke-width="0.5"/>
<polygon points="500.3,368.1 503.6,363.6 506.9,358.1 512.3,361.6 509,365.8 505.7,369.5" fill="#f7efe9" stroke="#f7efe9" stroke-width="0.5"/>
<polygon points="506.9,358.1 510.2,352.3 513.6,348.7 519,350.5 515.7,356.2 512.3,361.6" fill="#f7efe9" stroke="#f7efe9" stroke-width="0.5"/>
<polygon points="513.6,348.7 516.9,347.3 520.2,345.9 525.7,345.1 522.3,346.5 519,350.5" fill="#f6e6df" stroke="#f6e6df" stroke-width="0.5"/>
<polygon points="520.2,345.9 523.6,343.4 526.9,340.3 532.3,341.8 529,344 525.7,345.1" fill="#f7e9e2" stroke="#f7e9e2" stroke-width="0.5"/>
<polygon points="526.9,340.3 530.2,336.9 533.6,333.6 539,335.7 535.7,338.9 532.3,341.8" fill="#f7efe9" stroke="#f7efe9" stroke-width="0.5"/>
<polygon points="533.6,333.6 536.9,330.2 540.2,326.9 545.6,329.4 542.3,332.6 539,335.7" fill="#f7efea" stroke="#f7efea" stroke-width="0.5"/>
<polygon points="540.2,326.9 543.5,323.6 546.9,320.4 552.3,323.1 549,326.2 545.6,329.4" fill="#e2e9ef" stroke="#e2e9ef" stroke-width="0.5"/>
<polygon points="546.9,320.4 550.2,317.1 553.5,313.9 559,316.9 555.6,320 552.3,323.1" fill="#dee8f0" stroke="#dee8f0" stroke-width="0.5"/>
<polygon points="553.5,313.9 556.9,310.6 560.2,307.4 565.6,310.7 562.3,313.8 559,316.9" fill="#dee8f0" stroke="#dee8f0" stroke-width="0.5"/>
<path d="M427 439.9L430.3 436.7L433.7 433.6L437 430.4L440.3 427.3L443.6 424.1L447 420.9L450.3 417.8L453.6 414.6L457 411.4L460.3 408.2L463.6 405.1L467 401.9L470.3 398.6L473.6 395.4L476.9 392.1L480.3 388.9L483.6 385.6L486.9 382.2L490.3 378.8L493.6 375.4L496.9 371.9L500.3 368.1L503.6 363.6L506.9 358.1L510.2 352.3L513.6 348.7L516.9 347.3L520.2 345.9L523.6 343.4L526.9 340.3L530.2 336.9L533.6 333.6L536.9 330.2L540.2 326.9L543.5 323.6L546.9 320.4L550.2 317.1L553.5 313.9L556.9 310.6L560.2 307.4" fill="none" stroke="#d66868" stroke-width="2" stroke-linejoin="round"/>
<polygon points="432.4,441.5 435.8,438.3 439.1,435.1 444.5,436.3 441.2,439.6 437.9,442.9" fill="#f6e5da" stroke="#f6e5da" stroke-width="0.5"/>
<polygon points="439.1,435.1 442.4,431.9 445.7,428.7 451.2,429.8 447.8,433.1 444.5,436.3" fill="#f6e5da" stroke="#f6e5da" stroke-width="0.5"/>
<polygon points="445.7,428.7 449.1,425.5 452.4,422.3 457.8,423.3 454.5,426.6 451.2,429.8" fill="#f6e5da" stroke="#f6e5da" stroke-width="0.5"/>
<polygon points="452.4,422.3 455.7,419 459.1,415.8 464.5,416.7 461.2,420 457.8,423.3" fill="#f6e6dc" stroke="#f6e6dc" stroke-width="0.5"/>
<polygon points="459.1,415.8 462.4,412.6 465.7,409.4 471.2,410.2 467.8,413.5 464.5,416.7" fill="#f7e9e0" stroke="#f7e9e0" stroke-width="0.5"/>
<polygon points="465.7,409.4 469.1,406.1 472.4,402.9 477.8,403.6 474.5,406.9 471.2,410.2" fill="#f7ebe4" stroke="#f7ebe4" stroke-width="0.5"/>
<polygon points="472.4,402.9 475.7,399.6 479,396.4 484.5,397.1 481.1,400.4 477.8,403.6" fill="#f7eee7" stroke="#f7eee7" stroke-width="0.5"/>
<polygon points="479,396.4 482.4,393.1 485.7,389.8 491.1,390.5 487.8,393.8 484.5,397.1" fill="#f7efe9" stroke="#f7efe9" stroke-width="0.5"/>
<polygon points="485.7,389.8 489,386.5 492.4,383.2 497.8,383.8 494.5,387.2 491.1,390.5" fill="#f7efe9" stroke="#f7efe9" stroke-width="0.5"/>
<polygon points="492.4,383.2 495.7,379.8 499,376.4 504.5,377.1 501.1,380.5 497.8,383.8" fill="#f7efe9" stroke="#f7efe9" stroke-width="0.5"/>
<polygon points="499,376.4 502.4,373 505.7,369.5 511.1,370.4 507.8,373.8 504.5,377.1" fill="#f7efe9" stroke="#f7efe9" stroke-width="0.5"/>
<polygon points="505.7,369.5 509,365.8 512.3,361.6 517.8,363.3 514.4,366.9 511.1,370.4" fill="#f7efe9" stroke="#f7efe9" stroke-width="0.5"/>
<polygon points="512.3,361.6 515.7,356.2 519,350.5 524.4,354 521.1,359.2 517.8,363.3" fill="#f7efe9" stroke="#f7efe9" stroke-width="0.5"/>
<polygon points="519,350.5 522.3,346.5 525.7,345.1 531.1,344.3 527.8,348.3 524.4,354" fill="#f7efe9" stroke="#f7efe9" stroke-width="0.5"/>
<polygon points="525.7,345.1 529,344 532.3,341.8 537.8,342.1 534.4,343 531.1,344.3" fill="#f4ddd2" stroke="#f4ddd2" stroke-width="0.5"/>
<polygon points="532.3,341.8 535.7,338.9 539,335.7 544.4,337.5 541.1,340.2 537.8,342.1" fill="#f7efe9" stroke="#f7efe9" stroke-width="0.5"/>
<polygon points="539,335.7 542.3,332.6 545.6,329.4 551.1,331.6 547.7,334.6 544.4,337.5" fill="#f7efe9" stroke="#f7efe9" stroke-width="0.5"/>
<polygon points="545.6,329.4 549,326.2 552.3,323.1 557.7,325.7 554.4,328.6 551.1,331.6" fill="#e3e9ef" stroke="#e3e9ef" stroke-width="0.5"/>
<polygon points="552.3,323.1 555.6,320 559,316.9 564.4,319.8 561.1,322.7 557.7,325.7" fill="#dee8f0" stroke="#dee8f0" stroke-width="0.5"/>
<polygon points="559,316.9 562.3,313.8 565.6,310.7 571.1,313.9 567.7,316.9 564.4,319.8" fill="#dee8f0" stroke="#dee8f0" stroke-width="0.5"/>
<path d="M432.4 441.5L435.8 438.3L439.1 435.1L442.4 431.9L445.7 428.7L449.1 425.5L452.4 422.3L455.7 419L459.1 415.8L462.4 412.6L465.7 409.4L469.1 406.1L472.4 402.9L475.7 399.6L479 396.4L482.4 393.1L485.7 389.8L489 386.5L492.4 383.2L495.7 379.8L499 376.4L502.4 373L505.7 369.5L509 365.8L512.3 361.6L515.7 356.2L519 350.5L522.3 346.5L525.7 345.1L529 344L532.3 341.8L535.7 338.9L539 335.7L542.3 332.6L545.6 329.4L549 326.2L552.3 323.1L555.6 320L559 316.9L562.3 313.8L565.6 310.7" fill="none" stroke="#d66868" stroke-width="2" stroke-linejoin="round"/>
<polygon points="437.9,442.9 441.2,439.6 444.5,436.3 449.9,437.5 446.6,440.8 443.3,444.1" fill="#f6e5da" stroke="#f6e5da" stroke-width="0.5"/>
<polygon points="444.5,436.3 447.8,433.1 451.2,429.8 456.6,430.8 453.3,434.2 449.9,437.5" fill="#f6e5da" stroke="#f6e5da" stroke-width="0.5"/>
<polygon points="451.2,429.8 454.5,426.6 457.8,423.3 463.3,424.2 459.9,427.5 456.6,430.8" fill="#f6e5da" stroke="#f6e5da" stroke-width="0.5"/>
<polygon points="457.8,423.3 461.2,420 464.5,416.7 469.9,417.6 466.6,420.9 463.3,424.2" fill="#f6e6dc" stroke="#f6e6dc" stroke-width="0.5"/>
<polygon points="464.5,416.7 467.8,413.5 471.2,410.2 476.6,410.9 473.3,414.3 469.9,417.6" fill="#f7e9e0" stroke="#f7e9e0" stroke-width="0.5"/>
<polygon points="471.2,410.2 474.5,406.9 477.8,403.6 483.2,404.3 479.9,407.6 476.6,410.9" fill="#f7ebe4" stroke="#f7ebe4" stroke-width="0.5"/>
<polygon points="477.8,403.6 481.1,400.4 484.5,397.1 489.9,397.7 486.6,401 483.2,404.3" fill="#f7eee7" stroke="#f7eee7" stroke-width="0.5"/>
<polygon points="484.5,397.1 487.8,393.8 491.1,390.5 496.6,391 493.2,394.4 489.9,397.7" fill="#f7efe9" stroke="#f7efe9" stroke-width="0.5"/>
<polygon points="491.1,390.5 494.5,387.2 497.8,383.8 503.2,384.4 499.9,387.7 496.6,391" fill="#f7efe9" stroke="#f7efe9" stroke-width="0.5"/>
<polygon points="497.8,383.8 501.1,380.5 504.5,377.1 509.9,377.7 506.6,381.1 503.2,384.4" fill="#f7efe9" stroke="#f7efe9" stroke-width="0.5"/>
<polygon points="504.5,377.1 507.8,373.8 511.1,370.4 516.5,371.1 513.2,374.4 509.9,377.7" fill="#f7efe9" stroke="#f7efe9" stroke-width="0.5"/>
<polygon points="511.1,370.4 514.4,366.9 517.8,363.3 523.2,364.4 519.9,367.8 516.5,371.1" fill="#f7efe9" stroke="#f7efe9" stroke-width="0.5"/>
<polygon points="517.8,363.3 521.1,359.2 524.4,354 529.9,357 526.5,360.9 523.2,364.4" fill="#f7efe9" stroke="#f7efe9" stroke-width="0.5"/>
<polygon points="524.4,354 527.8,348.3 531.1,344.3 536.5,346.5 533.2,352 529.9,357" fill="#f7efe9" stroke="#f7efe9" stroke-width="0.5"/>
<polygon points="531.1,344.3 534.4,343 537.8,342.1 543.2,341.2 539.9,342.4 536.5,346.5" fill="#f6e4dc" stroke="#f6e4dc" stroke-width="0.5"/>
<polygon points="537.8,342.1 541.1,340.2 544.4,337.5 549.8,339 546.5,340.6 543.2,341.2" fill="#f5e1d8" stroke="#f5e1d8" stroke-width="0.5"/>
<polygon points="544.4,337.5 547.7,334.6 551.1,331.6 556.5,333.9 553.2,336.6 549.8,339" fill="#f7efe9" stroke="#f7efe9" stroke-width="0.5"/>
<polygon points="551.1,331.6 554.4,328.6 557.7,325.7 563.2,328.4 559.8,331.1 556.5,333.9" fill="#e6eaee" stroke="#e6eaee" stroke-width="0.5"/>
<polygon points="557.7,325.7 561.1,322.7 564.4,319.8 569.8,322.8 566.5,325.6 563.2,328.4" fill="#dee8f0" stroke="#dee8f0" stroke-width="0.5"/>
<polygon points="564.4,319.8 567.7,316.9 571.1,313.9 576.5,317.2 573.2,320 569.8,322.8" fill="#dee8f0" stroke="#dee8f0" stroke-width="0.5"/>
<path d="M437.9 442.9L441.2 439.6L444.5 436.3L447.8 433.1L451.2 429.8L454.5 426.6L457.8 423.3L461.2 420L464.5 416.7L467.8 413.5L471.2 410.2L474.5 406.9L477.8 403.6L481.1 400.4L484.5 397.1L487.8 393.8L491.1 390.5L494.5 387.2L497.8 383.8L501.1 380.5L504.5 377.1L507.8 373.8L511.1 370.4L514.4 366.9L517.8 363.3L521.1 359.2L524.4 354L527.8 348.3L531.1 344.3L534.4 343L537.8 342.1L541.1 340.2L544.4 337.5L547.7 334.6L551.1 331.6L554.4 328.6L557.7 325.7L561.1 322.7L564.4 319.8L567.7 316.9L571.1 313.9" fill="none" stroke="#d66868" stroke-width="2" stroke-linejoin="round"/>
<polygon points="443.3,444.1 446.6,440.8 449.9,437.5 455.4,438.3 452,441.7 448.7,445" fill="#f6e5da" stroke="#f6e5da" stroke-width="0.5"/>
<polygon points="449.9,437.5 453.3,434.2 456.6,430.8 462,431.5 458.7,434.9 455.4,438.3" fill="#f6e5da" stroke="#f6e5da" stroke-width="0.5"/>
<polygon points="456.6,430.8 459.9,427.5 463.3,424.2 468.7,424.8 465.4,428.2 462,431.5" fill="#f6e5da" stroke="#f6e5da" stroke-width="0.5"/>
<polygon points="463.3,424.2 466.6,420.9 469.9,417.6 475.4,418.1 472,421.4 468.7,424.8" fill="#f6e6dc" stroke="#f6e6dc" stroke-width="0.5"/>
<polygon points="469.9,417.6 473.3,414.3 476.6,410.9 482,411.3 478.7,414.7 475.4,418.1" fill="#f7e9e0" stroke="#f7e9e0" stroke-width="0.5"/>
<polygon points="476.6,410.9 479.9,407.6 483.2,404.3 488.7,404.6 485.3,407.9 482,411.3" fill="#f7ebe4" stroke="#f7ebe4" stroke-width="0.5"/>
<polygon points="483.2,404.3 486.6,401 489.9,397.7 495.3,397.8 492,401.2 488.7,404.6" fill="#f7eee7" stroke="#f7eee7" stroke-width="0.5"/>
<polygon points="489.9,397.7 493.2,394.4 496.6,391 502,391.1 498.7,394.5 495.3,397.8" fill="#f7efe9" stroke="#f7efe9" stroke-width="0.5"/>
<polygon points="496.6,391 499.9,387.7 503.2,384.4 508.7,384.3 505.3,387.7 502,391.1" fill="#f7efe9" stroke="#f7efe9" stroke-width="0.5"/>
<polygon points="503.2,384.4 506.6,381.1 509.9,377.7 515.3,377.6 512,381 508.7,384.3" fill="#f7efe9" stroke="#f7efe9" stroke-width="0.5"/>
<polygon points="509.9,377.7 513.2,374.4 516.5,371.1 522,370.9 518.6,374.2 515.3,377.6" fill="#f7efe9" stroke="#f7efe9" stroke-width="0.5"/>
<polygon points="516.5,371.1 519.9,367.8 523.2,364.4 528.6,364.1 525.3,367.5 522,370.9" fill="#f7efe9" stroke="#f7efe9" stroke-width="0.5"/>
<polygon points="523.2,364.4 526.5,360.9 529.9,357 535.3,357.2 532,360.7 528.6,364.1" fill="#f7efe9" stroke="#f7efe9" stroke-width="0.5"/>
<polygon points="529.9,357 533.2,352 536.5,346.5 542,348.1 538.6,353.1 535.3,357.2" fill="#f7efe9" stroke="#f7efe9" stroke-width="0.5"/>
<polygon points="536.5,346.5 539.9,342.4 543.2,341.2 548.6,339 545.3,342.6 542,348.1" fill="#f7efe9" stroke="#f7efe9" stroke-width="0.5"/>
<polygon points="543.2,341.2 546.5,340.6 549.8,339 555.3,337.5 551.9,338 548.6,339" fill="#f3d5c9" stroke="#f3d5c9" stroke-width="0.5"/>
<polygon points="549.8,339 553.2,336.6 556.5,333.9 561.9,333.7 558.6,336 555.3,337.5" fill="#f7e9e2" stroke="#f7e9e2" stroke-width="0.5"/>
<polygon points="556.5,333.9 559.8,331.1 563.2,328.4 568.6,328.6 565.3,331.1 561.9,333.7" fill="#e8ebed" stroke="#e8ebed" stroke-width="0.5"/>
<polygon points="563.2,328.4 566.5,325.6 569.8,322.8 575.3,323.6 571.9,326 568.6,328.6" fill="#dee8f0" stroke="#dee8f0" stroke-width="0.5"/>
<polygon points="569.8,322.8 573.2,320 576.5,317.2 581.9,318.8 578.6,321.1 575.3,323.6" fill="#dee8f0" stroke="#dee8f0" stroke-width="0.5"/>
<path d="M443.3 444.1L446.6 440.8L449.9 437.5L453.3 434.2L456.6 430.8L459.9 427.5L463.3 424.2L466.6 420.9L469.9 417.6L473.3 414.3L476.6 410.9L479.9 407.6L483.2 404.3L486.6 401L489.9 397.7L493.2 394.4L496.6 391L499.9 387.7L503.2 384.4L506.6 381.1L509.9 377.7L513.2 374.4L516.5 371.1L519.9 367.8L523.2 364.4L526.5 360.9L529.9 357L533.2 352L536.5 346.5L539.9 342.4L543.2 341.2L546.5 340.6L549.8 339L553.2 336.6L556.5 333.9L559.8 331.1L563.2 328.4L566.5 325.6L569.8 322.8L573.2 320L576.5 317.2" fill="none" stroke="#d66868" stroke-width="2" stroke-linejoin="round"/>
<polygon points="448.7,445 452,441.7 455.4,438.3 460.8,438.7 457.5,442.2 454.1,445.6" fill="#f6e5da" stroke="#f6e5da" stroke-width="0.5"/>
<polygon points="455.4,438.3 458.7,434.9 462,431.5 467.5,431.9 464.1,435.3 460.8,438.7" fill="#f6e5da" stroke="#f6e5da" stroke-width="0.5"/>
<polygon points="462,431.5 465.4,428.2 468.7,424.8 474.1,425 470.8,428.5 467.5,431.9" fill="#f6e5da" stroke="#f6e5da" stroke-width="0.5"/>
<polygon points="468.7,424.8 472,421.4 475.4,418.1 480.8,418.2 477.5,421.6 474.1,425" fill="#f6e6dc" stroke="#f6e6dc" stroke-width="0.5"/>
<polygon points="475.4,418.1 478.7,414.7 482,411.3 487.4,411.3 484.1,414.8 480.8,418.2" fill="#f7e9e0" stroke="#f7e9e0" stroke-width="0.5"/>
<polygon points="482,411.3 485.3,407.9 488.7,404.6 494.1,404.5 490.8,407.9 487.4,411.3" fill="#f7ebe4" stroke="#f7ebe4" stroke-width="0.5"/>
<polygon points="488.7,404.6 492,401.2 495.3,397.8 500.8,397.6 497.4,401 494.1,404.5" fill="#f7eee7" stroke="#f7eee7" stroke-width="0.5"/>
<polygon points="495.3,397.8 498.7,394.5 502,391.1 507.4,390.8 504.1,394.2 500.8,397.6" fill="#f7efe9" stroke="#f7efe9" stroke-width="0.5"/>
<polygon points="502,391.1 505.3,387.7 508.7,384.3 514.1,383.9 510.8,387.3 507.4,390.8" fill="#f7efe9" stroke="#f7efe9" stroke-width="0.5"/>
<polygon points="508.7,384.3 512,381 515.3,377.6 520.7,377.1 517.4,380.5 514.1,383.9" fill="#f7efe9" stroke="#f7efe9" stroke-width="0.5"/>
<polygon points="515.3,377.6 518.6,374.2 522,370.9 527.4,370.2 524.1,373.6 520.7,377.1" fill="#f7efe9" stroke="#f7efe9" stroke-width="0.5"/>
<polygon points="522,370.9 525.3,367.5 528.6,364.1 534.1,363.3 530.7,366.8 527.4,370.2" fill="#f7efe9" stroke="#f7efe9" stroke-width="0.5"/>
<polygon points="528.6,364.1 532,360.7 535.3,357.2 540.7,356.4 537.4,359.9 534.1,363.3" fill="#f7efe9" stroke="#f7efe9" stroke-width="0.5"/>
<polygon points="535.3,357.2 538.6,353.1 542,348.1 547.4,348.2 544.1,352.7 540.7,356.4" fill="#f7efe9" stroke="#f7efe9" stroke-width="0.5"/>
<polygon points="542,348.1 545.3,342.6 548.6,339 554,337.6 550.7,342.7 547.4,348.2" fill="#f7efe9" stroke="#f7efe9" stroke-width="0.5"/>
<polygon points="548.6,339 551.9,338 555.3,337.5 560.7,334.9 557.4,335.4 554,337.6" fill="#f4d8cc" stroke="#f4d8cc" stroke-width="0.5"/>
<polygon points="555.3,337.5 558.6,336 561.9,333.7 567.4,332.1 564,334 560.7,334.9" fill="#f5e1d7" stroke="#f5e1d7" stroke-width="0.5"/>
<polygon points="561.9,333.7 565.3,331.1 568.6,328.6 574,327.3 570.7,329.7 567.4,332.1" fill="#ebeaea" stroke="#ebeaea" stroke-width="0.5"/>
<polygon points="568.6,328.6 571.9,326 575.3,323.6 580.7,322.9 577.4,324.9 574,327.3" fill="#e0e5eb" stroke="#e0e5eb" stroke-width="0.5"/>
<polygon points="575.3,323.6 578.6,321.1 581.9,318.8 587.3,319.8 584,321.1 580.7,322.9" fill="#e4e0e2" stroke="#e4e0e2" stroke-width="0.5"/>
<path d="M448.7 445L452 441.7L455.4 438.3L458.7 434.9L462 431.5L465.4 428.2L468.7 424.8L472 421.4L475.4 418.1L478.7 414.7L482 411.3L485.3 407.9L488.7 404.6L492 401.2L495.3 397.8L498.7 394.5L502 391.1L505.3 387.7L508.7 384.3L512 381L515.3 377.6L518.6 374.2L522 370.9L525.3 367.5L528.6 364.1L532 360.7L535.3 357.2L538.6 353.1L542 348.1L545.3 342.6L548.6 339L551.9 338L555.3 337.5L558.6 336L561.9 333.7L565.3 331.1L568.6 328.6L571.9 326L575.3 323.6L578.6 321.1L581.9 318.8" fill="none" stroke="#d66868" stroke-width="2" stroke-linejoin="round"/>
<polygon points="454.1,445.6 457.5,442.2 460.8,438.7 466.2,439.2 462.9,442.7 459.6,446.1" fill="#f6e5da" stroke="#f6e5da" stroke-width="0.5"/>
<polygon points="460.8,438.7 464.1,435.3 467.5,431.9 472.9,432.2 469.6,435.7 466.2,439.2" fill="#f6e5da" stroke="#f6e5da" stroke-width="0.5"/>
<polygon points="467.5,431.9 470.8,428.5 474.1,425 479.6,425.3 476.2,428.7 472.9,432.2" fill="#f6e5da" stroke="#f6e5da" stroke-width="0.5"/>
<polygon points="474.1,425 477.5,421.6 480.8,418.2 486.2,418.3 482.9,421.8 479.6,425.3" fill="#f6e6dc" stroke="#f6e6dc" stroke-width="0.5"/>
<polygon points="480.8,418.2 484.1,414.8 487.4,411.3 492.9,411.3 489.5,414.8 486.2,418.3" fill="#f7e9e0" stroke="#f7e9e0" stroke-width="0.5"/>
<polygon points="487.4,411.3 490.8,407.9 494.1,404.5 499.5,404.4 496.2,407.8 492.9,411.3" fill="#f7ebe4" stroke="#f7ebe4" stroke-width="0.5"/>
<polygon points="494.1,404.5 497.4,401 500.8,397.6 506.2,397.4 502.9,400.9 499.5,404.4" fill="#f7eee7" stroke="#f7eee7" stroke-width="0.5"/>
<polygon points="500.8,397.6 504.1,394.2 507.4,390.8 512.9,390.4 509.5,393.9 506.2,397.4" fill="#f7efe9" stroke="#f7efe9" stroke-width="0.5"/>
<polygon points="507.4,390.8 510.8,387.3 514.1,383.9 519.5,383.5 516.2,387 512.9,390.4" fill="#f7efe9" stroke="#f7efe9" stroke-width="0.5"/>
<polygon points="514.1,383.9 517.4,380.5 520.7,377.1 526.2,376.5 522.8,380 519.5,383.5" fill="#f7efe9" stroke="#f7efe9" stroke-width="0.5"/>
<polygon points="520.7,377.1 524.1,373.6 527.4,370.2 532.8,369.5 529.5,373 526.2,376.5" fill="#f7efe9" stroke="#f7efe9" stroke-width="0.5"/>
<polygon points="527.4,370.2 530.7,366.8 534.1,363.3 539.5,362.6 536.2,366.1 532.8,369.5" fill="#f7efe9" stroke="#f7efe9" stroke-width="0.5"/>
<polygon points="534.1,363.3 537.4,359.9 540.7,356.4 546.2,355.6 542.8,359.1 539.5,362.6" fill="#f7efe9" stroke="#f7efe9" stroke-width="0.5"/>
<polygon points="540.7,356.4 544.1,352.7 547.4,348.2 552.8,347.9 549.5,352 546.2,355.6" fill="#f7efe9" stroke="#f7efe9" stroke-width="0.5"/>
<polygon points="547.4,348.2 550.7,342.7 554,337.6 559.5,337.3 556.1,342.9 552.8,347.9" fill="#f7efe9" stroke="#f7efe9" stroke-width="0.5"/>
<polygon points="554,337.6 557.4,335.4 560.7,334.9 566.1,332 562.8,333.1 559.5,337.3" fill="#f6e6de" stroke="#f6e6de" stroke-width="0.5"/>
<polygon points="560.7,334.9 564,334 567.4,332.1 572.8,330.2 569.5,331.5 566.1,332" fill="#f4d9ce" stroke="#f4d9ce" stroke-width="0.5"/>
<polygon points="567.4,332.1 570.7,329.7 574,327.3 579.5,325.8 576.1,328.1 572.8,330.2" fill="#eae7e7" stroke="#eae7e7" stroke-width="0.5"/>
<polygon points="574,327.3 577.4,324.9 580.7,322.9 586.1,322 582.8,323.7 579.5,325.8" fill="#e3e1e4" stroke="#e3e1e4" stroke-width="0.5"/>
<polygon points="580.7,322.9 584,321.1 587.3,319.8 592.8,320.7 589.4,320.9 586.1,322" fill="#ecd6ce" stroke="#ecd6ce" stroke-width="0.5"/>
<path d="M454.1 445.6L457.5 442.2L460.8 438.7L464.1 435.3L467.5 431.9L470.8 428.5L474.1 425L477.5 421.6L480.8 418.2L484.1 414.8L487.4 411.3L490.8 407.9L494.1 404.5L497.4 401L500.8 397.6L504.1 394.2L507.4 390.8L510.8 387.3L514.1 383.9L517.4 380.5L520.7 377.1L524.1 373.6L527.4 370.2L530.7 366.8L534.1 363.3L537.4 359.9L540.7 356.4L544.1 352.7L547.4 348.2L550.7 342.7L554 337.6L557.4 335.4L560.7 334.9L564 334L567.4 332.1L570.7 329.7L574 327.3L577.4 324.9L580.7 322.9L584 321.1L587.3 319.8" fill="none" stroke="#d66868" stroke-width="2" stroke-linejoin="round"/>
<polygon points="459.6,446.1 462.9,442.7 466.2,439.2 471.7,439.6 468.3,443.2 465,446.7" fill="#f6e5da" stroke="#f6e5da" stroke-width="0.5"/>
<polygon points="466.2,439.2 469.6,435.7 472.9,432.2 478.3,432.6 475,436.1 471.7,439.6" fill="#f6e5da" stroke="#f6e5da" stroke-width="0.5"/>
<polygon points="472.9,432.2 476.2,428.7 479.6,425.3 485,425.5 481.6,429 478.3,432.6" fill="#f6e5da" stroke="#f6e5da" stroke-width="0.5"/>
<polygon points="479.6,425.3 482.9,421.8 486.2,418.3 491.6,418.4 488.3,421.9 485,425.5" fill="#f6e6dc" stroke="#f6e6dc" stroke-width="0.5"/>
<polygon points="486.2,418.3 489.5,414.8 492.9,411.3 498.3,411.3 495,414.9 491.6,418.4" fill="#f7e9e0" stroke="#f7e9e0" stroke-width="0.5"/>
<polygon points="492.9,411.3 496.2,407.8 499.5,404.4 505,404.2 501.6,407.8 498.3,411.3" fill="#f7ebe4" stroke="#f7ebe4" stroke-width="0.5"/>
<polygon points="499.5,404.4 502.9,400.9 506.2,397.4 511.6,397.2 508.3,400.7 505,404.2" fill="#f7eee7" stroke="#f7eee7" stroke-width="0.5"/>
<polygon points="506.2,397.4 509.5,393.9 512.9,390.4 518.3,390.1 515,393.6 511.6,397.2" fill="#f7efe9" stroke="#f7efe9" stroke-width="0.5"/>
<polygon points="512.9,390.4 516.2,387 519.5,383.5 524.9,383 521.6,386.6 518.3,390.1" fill="#f7efe9" stroke="#f7efe9" stroke-width="0.5"/>
<polygon points="519.5,383.5 522.8,380 526.2,376.5 531.6,376 528.3,379.5 524.9,383" fill="#f7efe9" stroke="#f7efe9" stroke-width="0.5"/>
<polygon points="526.2,376.5 529.5,373 532.8,369.5 538.3,368.9 534.9,372.4 531.6,376" fill="#f7efe9" stroke="#f7efe9" stroke-width="0.5"/>
<polygon points="532.8,369.5 536.2,366.1 539.5,362.6 544.9,361.8 541.6,365.3 538.3,368.9" fill="#f7efe9" stroke="#f7efe9" stroke-width="0.5"/>
<polygon points="539.5,362.6 542.8,359.1 546.2,355.6 551.6,354.7 548.2,358.3 544.9,361.8" fill="#f7efe9" stroke="#f7efe9" stroke-width="0.5"/>
<polygon points="546.2,355.6 549.5,352 552.8,347.9 558.2,347.4 554.9,351.1 551.6,354.7" fill="#f7efe9" stroke="#f7efe9" stroke-width="0.5"/>
<polygon points="552.8,347.9 556.1,342.9 559.5,337.3 564.9,337.4 561.6,342.9 558.2,347.4" fill="#f7efe9" stroke="#f7efe9" stroke-width="0.5"/>
<polygon points="559.5,337.3 562.8,333.1 566.1,332 571.6,329.3 568.2,332 564.9,337.4" fill="#f7efe9" stroke="#f7efe9" stroke-width="0.5"/>
<polygon points="566.1,332 569.5,331.5 572.8,330.2 578.2,328 574.9,328.7 571.6,329.3" fill="#f3d3c6" stroke="#f3d3c6" stroke-width="0.5"/>
<polygon points="572.8,330.2 576.1,328.1 579.5,325.8 584.9,324.3 581.5,326.3 578.2,328" fill="#e9e3e2" stroke="#e9e3e2" stroke-width="0.5"/>
<polygon points="579.5,325.8 582.8,323.7 586.1,322 591.5,321.1 588.2,322.4 584.9,324.3" fill="#e6dedd" stroke="#e6dedd" stroke-width="0.5"/>
<polygon points="586.1,322 589.4,320.9 592.8,320.7 598.2,321.7 594.9,320.8 591.5,321.1" fill="#f2cdbe" stroke="#f2cdbe" stroke-width="0.5"/>
<path d="M459.6 446.1L462.9 442.7L466.2 439.2L469.6 435.7L472.9 432.2L476.2 428.7L479.6 425.3L482.9 421.8L486.2 418.3L489.5 414.8L492.9 411.3L496.2 407.8L499.5 404.4L502.9 400.9L506.2 397.4L509.5 393.9L512.9 390.4L516.2 387L519.5 383.5L522.8 380L526.2 376.5L529.5 373L532.8 369.5L536.2 366.1L539.5 362.6L542.8 359.1L546.2 355.6L549.5 352L552.8 347.9L556.1 342.9L559.5 337.3L562.8 333.1L566.1 332L569.5 331.5L572.8 330.2L576.1 328.1L579.5 325.8L582.8 323.7L586.1 322L589.4 320.9L592.8 320.7" fill="none" stroke="#d66868" stroke-width="2" stroke-linejoin="round"/>
<path d="M465 446.7L468.3 443.2L471.7 439.6L475 436.1L478.3 432.6L481.6 429L485 425.5L488.3 421.9L491.6 418.4L495 414.9L498.3 411.3L501.6 407.8L505 404.2L508.3 400.7L511.6 397.2L515 393.6L518.3 390.1L521.6 386.6L524.9 383L528.3 379.5L531.6 376L534.9 372.4L538.3 368.9L541.6 365.3L544.9 361.8L548.2 358.3L551.6 354.7L554.9 351.1L558.2 347.4L561.6 342.9L564.9 337.4L568.2 332L571.6 329.3L574.9 328.7L578.2 328L581.5 326.3L584.9 324.3L588.2 322.4L591.5 321.1L594.9 320.8L598.2 321.7" fill="none" stroke="#d66868" stroke-width="2" stroke-linejoin="round"/>
<g stroke="#9a9a9a" stroke-width="1" stroke-opacity="0.45" fill="none"><line x1="229.4" y1="366.8" x2="598.3" y2="404.2"/></g>
<defs><linearGradient id="blobg" x1="0" y1="1" x2="1" y2="0"><stop offset="0" stop-color="#efb9a2"/><stop offset="1" stop-color="#f9e3d8"/></linearGradient></defs>
<polygon points="568.8,346.4 578.5,325.5 585.5,316.7 592.4,311.5 598.1,308.8 597.7,316.7 595.1,330.7 587.2,337.7 577.6,339.4 573.2,343" fill="url(#blobg)" fill-opacity="0.92"/>
<path d="M573.2,337 L580,337.5 L588,334.5 L594.6,330.7" fill="none" stroke="#d66868" stroke-width="1.8"/>
<path d="M578.5,337.7 L581,330 L583.7,324.6" fill="none" stroke="#d66868" stroke-width="1.6"/>
<path d="M211.3 299.5L230 298L245 297.5L255 292.5L267.5 287.5L282.5 285L292.5 278.8L307.5 270" fill="none" stroke="#2e7d32" stroke-width="2.2" stroke-linejoin="round"/>
<path d="M347.5 241.3L355 237.5L372.5 235L385 240L392.5 243.8L405 243.8L413.8 243.8L420 245L430 250L440 253.8L450 262.5L460 277.5L470 295L480 306.3L484.7 314.4L494.8 316.1L510.1 326.2L523.7 329.6L537.2 331.3L554.2 333L564.3 337.4L572 333" fill="none" stroke="#2e7d32" stroke-width="2.2" stroke-linejoin="round"/>
<path d="M212.6 25.1L222 27.5L232.2 30L245 30.9L254.2 33.7L267.9 37.3L278 38.2L284.4 40.1L290 41.3L295.3 42.7L299.3 45.7L304.7 46L320.7 52L326.7 52L331.3 55.3L339.3 56.7L347.3 62L370 66L382 67.6L396.7 66.7L400.7 68L411.3 67.1L414 70.7L428.7 69.3L438 71.6L440 70.7L453.3 68.3L466.7 64L485.3 57.3L502.7 57.6L514.7 58L533.3 60L553.3 62L568 60.7L576 62.7L578.7 66" fill="none" stroke="#2e7d32" stroke-width="2.2" stroke-linejoin="round"/>
<path d="M188.1 43.7L193.7 46L201 44.7L207.4 50.6L216.6 52L219.3 56.6L228.5 61.2L233 65.3L234 67.6L240 67.6L239.5 73.1L243.6 75.8L248.2 75.8L247.7 81.3L249.2 83.7L255.6 88.7L253.7 96L258.8 96.5L258.3 104.7L259.2 116.7L263.8 121.2L267.5 127.7L268.4 131.8L274.8 130.4L279.4 132.7L289.5 134.1L295 135.5L306 137.3L309.7 138.2L320.7 138.2L331.7 136.4L340.8 135L350 133.2L361.2 130L391.8 119.3L422.4 107.1L440 101.3L457.3 96L476 93.3L497.3 88L514.7 82.7L533.3 79.3L549.3 75.3L572 71.3" fill="none" stroke="#1a72b8" stroke-width="2.4" stroke-linejoin="round"/>
<g stroke="#231f20" stroke-width="1.1" fill="none">
<line x1="95.7" y1="116.2" x2="95.8" y2="470.8"/>
<line x1="95.7" y1="116.2" x2="464.3" y2="154.5"/>
<line x1="464.3" y1="154.5" x2="464.8" y2="508.2"/>
<line x1="95.8" y1="470.8" x2="464.8" y2="508.2"/>
<line x1="464.3" y1="154.5" x2="598.3" y2="49.9"/>
<line x1="464.8" y1="508.2" x2="598.3" y2="404.2"/>
</g>
<line x1="86" y1="471.6" x2="95.7" y2="470.8" stroke="#555" stroke-width="1"/>
<text transform="translate(76.8,476.6) scale(1.08,1)" font-size="22" text-anchor="end" font-family='"Liberation Sans", sans-serif' fill="#231f20">0</text>
<line x1="86" y1="396.6" x2="95.7" y2="395.8" stroke="#555" stroke-width="1"/>
<text transform="translate(76.8,401.6) scale(1.08,1)" font-size="22" text-anchor="end" font-family='"Liberation Sans", sans-serif' fill="#231f20">0.1</text>
<line x1="86" y1="321.6" x2="95.7" y2="320.8" stroke="#555" stroke-width="1"/>
<text transform="translate(76.8,326.6) scale(1.08,1)" font-size="22" text-anchor="end" font-family='"Liberation Sans", sans-serif' fill="#231f20">0.2</text>
<line x1="86" y1="246.6" x2="95.7" y2="245.8" stroke="#555" stroke-width="1"/>
<text transform="translate(76.8,251.6) scale(1.08,1)" font-size="22" text-anchor="end" font-family='"Liberation Sans", sans-serif' fill="#231f20">0.3</text>
<line x1="86" y1="171.6" x2="95.7" y2="170.8" stroke="#555" stroke-width="1"/>
<text transform="translate(76.8,176.6) scale(1.08,1)" font-size="22" text-anchor="end" font-family='"Liberation Sans", sans-serif' fill="#231f20">0.4</text>
<line x1="160" y1="477.3" x2="152.5" y2="483.3" stroke="#444" stroke-width="1"/>
<text transform="translate(140.6,510.1) scale(1.08,1)" font-size="22" text-anchor="middle" font-family='"Liberation Sans", sans-serif' fill="#231f20">−2.6</text>
<line x1="264" y1="487.8" x2="256.5" y2="493.8" stroke="#444" stroke-width="1"/>
<text transform="translate(241.2,521.2) scale(1.08,1)" font-size="22" text-anchor="middle" font-family='"Liberation Sans", sans-serif' fill="#231f20">−2.4</text>
<line x1="368" y1="498.4" x2="360.5" y2="504.4" stroke="#444" stroke-width="1"/>
<text transform="translate(346.2,532.5) scale(1.08,1)" font-size="22" text-anchor="middle" font-family='"Liberation Sans", sans-serif' fill="#231f20">−2.2</text>
<line x1="578.4" y1="421" x2="587.4" y2="422" stroke="#555" stroke-width="1"/>
<text transform="translate(597.3,432.7) scale(1.08,1)" font-size="22" text-anchor="start" font-family='"Liberation Sans", sans-serif' fill="#231f20">0.2</text>
<line x1="526.7" y1="460.2" x2="535.7" y2="461.2" stroke="#555" stroke-width="1"/>
<text transform="translate(548.1,473.6) scale(1.08,1)" font-size="22" text-anchor="start" font-family='"Liberation Sans", sans-serif' fill="#231f20">0.6</text>
<line x1="477.1" y1="499.2" x2="486.1" y2="500.2" stroke="#555" stroke-width="1"/>
<text transform="translate(497.9,512.4) scale(1.08,1)" font-size="22" text-anchor="start" font-family='"Liberation Sans", sans-serif' fill="#231f20">1.0</text>
<text x="581.5" y="506.2" font-size="21.6" text-anchor="start" font-family='"Liberation Sans", sans-serif' fill="#231f20" ><tspan font-style="italic">T</tspan> (K)</text>
<text x="248.4" y="549.7" font-size="27" font-family='"Liberation Serif", serif' font-style="italic" fill="#231f20">ν</text>
<text transform="translate(20.5,294) rotate(-90)" font-size="21" text-anchor="middle" font-family='"Liberation Sans", sans-serif' fill="#231f20"><tspan font-style="italic">ρ</tspan><tspan font-size="15" dy="4">s</tspan><tspan dy="-4"> (K)</tspan></text>
<text x="126.5" y="178.9" font-size="22" text-anchor="start" font-family='"Liberation Sans", sans-serif' fill="#231f20" ><tspan font-style="italic">ρ</tspan><tspan font-size="17" dy="3.6">c</tspan><tspan dy="-3.6"> = 2</tspan><tspan font-style="italic">T</tspan>/π</text>
<text x="199.3" y="80" font-size="23.5" text-anchor="start" font-family='"Liberation Sans", sans-serif' fill="#1a72b8" ><tspan font-style="italic">T</tspan><tspan font-size="16" dy="6.8">c</tspan></text>
<text x="265.3" y="61.6" font-size="23.5" text-anchor="start" font-family='"Liberation Sans", sans-serif' fill="#3a8a3a" ><tspan font-style="italic">T</tspan><tspan font-size="16.5" dy="7.4">0</tspan></text>
<line x1="739.3" y1="382.5" x2="750.3" y2="382.5" stroke="#231f20" stroke-width="1.1"/>
<text transform="translate(727.2,389.6) scale(1.08,1)" font-size="22" text-anchor="end" font-family='"Liberation Sans", sans-serif' fill="#231f20">0.2</text>
<line x1="739.3" y1="304.6" x2="750.3" y2="304.6" stroke="#231f20" stroke-width="1.1"/>
<text transform="translate(727.2,311.7) scale(1.08,1)" font-size="22" text-anchor="end" font-family='"Liberation Sans", sans-serif' fill="#231f20">0.4</text>
<line x1="739.3" y1="226.8" x2="750.3" y2="226.8" stroke="#231f20" stroke-width="1.1"/>
<text transform="translate(727.2,233.8) scale(1.08,1)" font-size="22" text-anchor="end" font-family='"Liberation Sans", sans-serif' fill="#231f20">0.6</text>
<line x1="739.3" y1="148.9" x2="750.3" y2="148.9" stroke="#231f20" stroke-width="1.1"/>
<text transform="translate(727.2,155.9) scale(1.08,1)" font-size="22" text-anchor="end" font-family='"Liberation Sans", sans-serif' fill="#231f20">0.8</text>
<line x1="739.3" y1="71" x2="750.3" y2="71" stroke="#231f20" stroke-width="1.1"/>
<text transform="translate(727.2,78.1) scale(1.08,1)" font-size="22" text-anchor="end" font-family='"Liberation Sans", sans-serif' fill="#231f20">1.0</text>
<line x1="824.6" y1="460.5" x2="824.6" y2="449.5" stroke="#231f20" stroke-width="1.1"/>
<text transform="translate(823.6,489.3) scale(1.08,1)" font-size="22" text-anchor="middle" font-family='"Liberation Sans", sans-serif' fill="#231f20">0.1</text>
<line x1="909.7" y1="460.5" x2="909.7" y2="449.5" stroke="#231f20" stroke-width="1.1"/>
<text transform="translate(908.7,489.3) scale(1.08,1)" font-size="22" text-anchor="middle" font-family='"Liberation Sans", sans-serif' fill="#231f20">0.2</text>
<line x1="994.8" y1="460.5" x2="994.8" y2="449.5" stroke="#231f20" stroke-width="1.1"/>
<text transform="translate(993.8,489.3) scale(1.08,1)" font-size="22" text-anchor="middle" font-family='"Liberation Sans", sans-serif' fill="#231f20">0.3</text>
<line x1="1079.9" y1="460.5" x2="1079.9" y2="449.5" stroke="#231f20" stroke-width="1.1"/>
<text transform="translate(1078.9,489.3) scale(1.08,1)" font-size="22" text-anchor="middle" font-family='"Liberation Sans", sans-serif' fill="#231f20">0.4</text>
<line x1="1165" y1="460.5" x2="1165" y2="449.5" stroke="#231f20" stroke-width="1.1"/>
<text transform="translate(1164,489.3) scale(1.08,1)" font-size="22" text-anchor="middle" font-family='"Liberation Sans", sans-serif' fill="#231f20">0.5</text>
<line x1="798.5" y1="412.6" x2="803.5" y2="412.6" stroke="#8fbb8c" stroke-width="2.4" stroke-opacity="0.8"/>
<line x1="799.6" y1="412.4" x2="806.6" y2="412.4" stroke="#8fbb8c" stroke-width="2.4" stroke-opacity="0.8"/>
<line x1="802.9" y1="411" x2="809.1" y2="411" stroke="#8fbb8c" stroke-width="2.4" stroke-opacity="0.8"/>
<line x1="807.5" y1="409.3" x2="810.9" y2="409.3" stroke="#8fbb8c" stroke-width="2.4" stroke-opacity="0.8"/>
<line x1="810.4" y1="408" x2="813.6" y2="408" stroke="#8fbb8c" stroke-width="2.4" stroke-opacity="0.8"/>
<line x1="813.6" y1="406.3" x2="817" y2="406.3" stroke="#8fbb8c" stroke-width="2.4" stroke-opacity="0.8"/>
<line x1="816.2" y1="405" x2="821.8" y2="405" stroke="#8fbb8c" stroke-width="2.4" stroke-opacity="0.8"/>
<line x1="821" y1="403.2" x2="824.8" y2="403.2" stroke="#8fbb8c" stroke-width="2.4" stroke-opacity="0.8"/>
<line x1="823.4" y1="398.6" x2="830.2" y2="398.6" stroke="#8fbb8c" stroke-width="2.4" stroke-opacity="0.8"/>
<line x1="826.8" y1="397" x2="833.2" y2="397" stroke="#8fbb8c" stroke-width="2.4" stroke-opacity="0.8"/>
<line x1="828.6" y1="394" x2="837.4" y2="394" stroke="#8fbb8c" stroke-width="2.4" stroke-opacity="0.8"/>
<line x1="832.6" y1="391.7" x2="840.8" y2="391.7" stroke="#8fbb8c" stroke-width="2.4" stroke-opacity="0.8"/>
<line x1="833.3" y1="403.2" x2="837.1" y2="403.2" stroke="#8fbb8c" stroke-width="2.4" stroke-opacity="0.8"/>
<line x1="836.6" y1="400" x2="841.4" y2="400" stroke="#8fbb8c" stroke-width="2.4" stroke-opacity="0.8"/>
<line x1="840.8" y1="391" x2="844.8" y2="391" stroke="#8fbb8c" stroke-width="2.4" stroke-opacity="0.8"/>
<line x1="845.6" y1="391" x2="852.4" y2="391" stroke="#8fbb8c" stroke-width="2.4" stroke-opacity="0.8"/>
<line x1="842.8" y1="401.7" x2="849" y2="401.7" stroke="#8fbb8c" stroke-width="2.4" stroke-opacity="0.8"/>
<line x1="850.3" y1="396" x2="853.7" y2="396" stroke="#8fbb8c" stroke-width="2.4" stroke-opacity="0.8"/>
<line x1="851.6" y1="400.1" x2="858.6" y2="400.1" stroke="#8fbb8c" stroke-width="2.4" stroke-opacity="0.8"/>
<line x1="857.3" y1="391" x2="862.1" y2="391" stroke="#8fbb8c" stroke-width="2.4" stroke-opacity="0.8"/>
<line x1="859.1" y1="394" x2="864.9" y2="394" stroke="#8fbb8c" stroke-width="2.4" stroke-opacity="0.8"/>
<line x1="861.9" y1="391.7" x2="869.7" y2="391.7" stroke="#8fbb8c" stroke-width="2.4" stroke-opacity="0.8"/>
<line x1="865.8" y1="397" x2="870.2" y2="397" stroke="#8fbb8c" stroke-width="2.4" stroke-opacity="0.8"/>
<line x1="868.8" y1="395.5" x2="875" y2="395.5" stroke="#8fbb8c" stroke-width="2.4" stroke-opacity="0.8"/>
<line x1="871.3" y1="390" x2="878.7" y2="390" stroke="#8fbb8c" stroke-width="2.4" stroke-opacity="0.8"/>
<line x1="873.6" y1="392.5" x2="882.4" y2="392.5" stroke="#8fbb8c" stroke-width="2.4" stroke-opacity="0.8"/>
<line x1="879.2" y1="391" x2="884.8" y2="391" stroke="#8fbb8c" stroke-width="2.4" stroke-opacity="0.8"/>
<line x1="883.7" y1="389.4" x2="887.7" y2="389.4" stroke="#8fbb8c" stroke-width="2.4" stroke-opacity="0.8"/>
<line x1="887.4" y1="389" x2="890.6" y2="389" stroke="#8fbb8c" stroke-width="2.4" stroke-opacity="0.8"/>
<line x1="888" y1="387.9" x2="895.6" y2="387.9" stroke="#8fbb8c" stroke-width="2.4" stroke-opacity="0.8"/>
<line x1="893.8" y1="370.3" x2="902" y2="370.3" stroke="#8fbb8c" stroke-width="2.4" stroke-opacity="0.8"/>
<line x1="892.8" y1="374" x2="909.2" y2="374" stroke="#8fbb8c" stroke-width="2.4" stroke-opacity="0.8"/>
<line x1="898" y1="365" x2="913" y2="365" stroke="#8fbb8c" stroke-width="2.4" stroke-opacity="0.8"/>
<line x1="899.6" y1="361.9" x2="917.6" y2="361.9" stroke="#8fbb8c" stroke-width="2.4" stroke-opacity="0.8"/>
<line x1="895.7" y1="383.3" x2="909.3" y2="383.3" stroke="#8fbb8c" stroke-width="2.4" stroke-opacity="0.8"/>
<line x1="902.7" y1="381.8" x2="911.5" y2="381.8" stroke="#8fbb8c" stroke-width="2.4" stroke-opacity="0.8"/>
<line x1="903.1" y1="368" x2="918.9" y2="368" stroke="#8fbb8c" stroke-width="2.4" stroke-opacity="0.8"/>
<line x1="907.4" y1="372.6" x2="925.2" y2="372.6" stroke="#8fbb8c" stroke-width="2.4" stroke-opacity="0.8"/>
<line x1="913" y1="377.2" x2="925.6" y2="377.2" stroke="#8fbb8c" stroke-width="2.4" stroke-opacity="0.8"/>
<line x1="916.7" y1="384.8" x2="924.9" y2="384.8" stroke="#8fbb8c" stroke-width="2.4" stroke-opacity="0.8"/>
<line x1="923.5" y1="355.8" x2="933.5" y2="355.8" stroke="#8fbb8c" stroke-width="2.4" stroke-opacity="0.8"/>
<line x1="933.3" y1="349.7" x2="942.1" y2="349.7" stroke="#8fbb8c" stroke-width="2.4" stroke-opacity="0.8"/>
<line x1="933.7" y1="354" x2="952.3" y2="354" stroke="#8fbb8c" stroke-width="2.4" stroke-opacity="0.8"/>
<line x1="931.1" y1="349" x2="954.9" y2="349" stroke="#8fbb8c" stroke-width="2.4" stroke-opacity="0.8"/>
<line x1="945.2" y1="346" x2="962.8" y2="346" stroke="#8fbb8c" stroke-width="2.4" stroke-opacity="0.8"/>
<line x1="946.5" y1="338" x2="973.5" y2="338" stroke="#8fbb8c" stroke-width="2.4" stroke-opacity="0.8"/>
<line x1="955.8" y1="342" x2="988.2" y2="342" stroke="#8fbb8c" stroke-width="2.4" stroke-opacity="0.8"/>
<line x1="955.2" y1="331" x2="976.8" y2="331" stroke="#8fbb8c" stroke-width="2.4" stroke-opacity="0.8"/>
<line x1="959.4" y1="328" x2="982.6" y2="328" stroke="#8fbb8c" stroke-width="2.4" stroke-opacity="0.8"/>
<line x1="964.4" y1="331" x2="999.6" y2="331" stroke="#8fbb8c" stroke-width="2.4" stroke-opacity="0.8"/>
<line x1="982.2" y1="314" x2="1001.8" y2="314" stroke="#8fbb8c" stroke-width="2.4" stroke-opacity="0.8"/>
<line x1="987.7" y1="314" x2="1008.3" y2="314" stroke="#8fbb8c" stroke-width="2.4" stroke-opacity="0.8"/>
<line x1="980.1" y1="320" x2="1007.9" y2="320" stroke="#8fbb8c" stroke-width="2.4" stroke-opacity="0.8"/>
<line x1="1005.9" y1="325" x2="1034.1" y2="325" stroke="#8fbb8c" stroke-width="2.4" stroke-opacity="0.8"/>
<line x1="1003.1" y1="320" x2="1048.9" y2="320" stroke="#8fbb8c" stroke-width="2.4" stroke-opacity="0.8"/>
<line x1="999.1" y1="321" x2="1072.9" y2="321" stroke="#8fbb8c" stroke-width="2.4" stroke-opacity="0.8"/>
<line x1="1016.6" y1="321" x2="1069.4" y2="321" stroke="#8fbb8c" stroke-width="2.4" stroke-opacity="0.8"/>
<line x1="1019.8" y1="313" x2="1080.2" y2="313" stroke="#8fbb8c" stroke-width="2.4" stroke-opacity="0.8"/>
<line x1="1020.4" y1="321" x2="1091.6" y2="321" stroke="#8fbb8c" stroke-width="2.4" stroke-opacity="0.8"/>
<line x1="1045" y1="314" x2="1115" y2="314" stroke="#8fbb8c" stroke-width="2.4" stroke-opacity="0.8"/>
<line x1="1062.6" y1="310" x2="1109.4" y2="310" stroke="#8fbb8c" stroke-width="2.4" stroke-opacity="0.8"/>
<line x1="1073.5" y1="310" x2="1106.5" y2="310" stroke="#8fbb8c" stroke-width="2.4" stroke-opacity="0.8"/>
<line x1="1070.5" y1="318" x2="1101.5" y2="318" stroke="#8fbb8c" stroke-width="2.4" stroke-opacity="0.8"/>
<line x1="1105" y1="317" x2="1143" y2="317" stroke="#8fbb8c" stroke-width="2.4" stroke-opacity="0.8"/>
<line x1="1125.8" y1="313.6" x2="1170.2" y2="313.6" stroke="#8fbb8c" stroke-width="2.4" stroke-opacity="0.8"/>
<circle cx="801" cy="412.6" r="5.3" fill="#7aae77" fill-opacity="0.55" stroke="#5f9a5c" stroke-opacity="0.55" stroke-width="1.1"/>
<circle cx="803.1" cy="412.4" r="5.3" fill="#7aae77" fill-opacity="0.55" stroke="#5f9a5c" stroke-opacity="0.55" stroke-width="1.1"/>
<circle cx="806" cy="411" r="5.3" fill="#7aae77" fill-opacity="0.55" stroke="#5f9a5c" stroke-opacity="0.55" stroke-width="1.1"/>
<circle cx="809.2" cy="409.3" r="5.3" fill="#7aae77" fill-opacity="0.55" stroke="#5f9a5c" stroke-opacity="0.55" stroke-width="1.1"/>
<circle cx="812" cy="408" r="5.3" fill="#7aae77" fill-opacity="0.55" stroke="#5f9a5c" stroke-opacity="0.55" stroke-width="1.1"/>
<circle cx="815.3" cy="406.3" r="5.3" fill="#7aae77" fill-opacity="0.55" stroke="#5f9a5c" stroke-opacity="0.55" stroke-width="1.1"/>
<circle cx="819" cy="405" r="5.3" fill="#7aae77" fill-opacity="0.55" stroke="#5f9a5c" stroke-opacity="0.55" stroke-width="1.1"/>
<circle cx="822.9" cy="403.2" r="5.3" fill="#7aae77" fill-opacity="0.55" stroke="#5f9a5c" stroke-opacity="0.55" stroke-width="1.1"/>
<circle cx="826.8" cy="398.6" r="5.3" fill="#7aae77" fill-opacity="0.55" stroke="#5f9a5c" stroke-opacity="0.55" stroke-width="1.1"/>
<circle cx="830" cy="397" r="5.3" fill="#7aae77" fill-opacity="0.55" stroke="#5f9a5c" stroke-opacity="0.55" stroke-width="1.1"/>
<circle cx="833" cy="394" r="5.3" fill="#7aae77" fill-opacity="0.55" stroke="#5f9a5c" stroke-opacity="0.55" stroke-width="1.1"/>
<circle cx="836.7" cy="391.7" r="5.3" fill="#7aae77" fill-opacity="0.55" stroke="#5f9a5c" stroke-opacity="0.55" stroke-width="1.1"/>
<circle cx="835.2" cy="403.2" r="5.3" fill="#7aae77" fill-opacity="0.55" stroke="#5f9a5c" stroke-opacity="0.55" stroke-width="1.1"/>
<circle cx="839" cy="400" r="5.3" fill="#7aae77" fill-opacity="0.55" stroke="#5f9a5c" stroke-opacity="0.55" stroke-width="1.1"/>
<circle cx="842.8" cy="391" r="5.3" fill="#7aae77" fill-opacity="0.55" stroke="#5f9a5c" stroke-opacity="0.55" stroke-width="1.1"/>
<circle cx="849" cy="391" r="5.3" fill="#7aae77" fill-opacity="0.55" stroke="#5f9a5c" stroke-opacity="0.55" stroke-width="1.1"/>
<circle cx="845.9" cy="401.7" r="5.3" fill="#7aae77" fill-opacity="0.55" stroke="#5f9a5c" stroke-opacity="0.55" stroke-width="1.1"/>
<circle cx="852" cy="396" r="5.3" fill="#7aae77" fill-opacity="0.55" stroke="#5f9a5c" stroke-opacity="0.55" stroke-width="1.1"/>
<circle cx="855.1" cy="400.1" r="5.3" fill="#7aae77" fill-opacity="0.55" stroke="#5f9a5c" stroke-opacity="0.55" stroke-width="1.1"/>
<circle cx="859.7" cy="391" r="5.3" fill="#7aae77" fill-opacity="0.55" stroke="#5f9a5c" stroke-opacity="0.55" stroke-width="1.1"/>
<circle cx="862" cy="394" r="5.3" fill="#7aae77" fill-opacity="0.55" stroke="#5f9a5c" stroke-opacity="0.55" stroke-width="1.1"/>
<circle cx="865.8" cy="391.7" r="5.3" fill="#7aae77" fill-opacity="0.55" stroke="#5f9a5c" stroke-opacity="0.55" stroke-width="1.1"/>
<circle cx="868" cy="397" r="5.3" fill="#7aae77" fill-opacity="0.55" stroke="#5f9a5c" stroke-opacity="0.55" stroke-width="1.1"/>
<circle cx="871.9" cy="395.5" r="5.3" fill="#7aae77" fill-opacity="0.55" stroke="#5f9a5c" stroke-opacity="0.55" stroke-width="1.1"/>
<circle cx="875" cy="390" r="5.3" fill="#7aae77" fill-opacity="0.55" stroke="#5f9a5c" stroke-opacity="0.55" stroke-width="1.1"/>
<circle cx="878" cy="392.5" r="5.3" fill="#7aae77" fill-opacity="0.55" stroke="#5f9a5c" stroke-opacity="0.55" stroke-width="1.1"/>
<circle cx="882" cy="391" r="5.3" fill="#7aae77" fill-opacity="0.55" stroke="#5f9a5c" stroke-opacity="0.55" stroke-width="1.1"/>
<circle cx="885.7" cy="389.4" r="5.3" fill="#7aae77" fill-opacity="0.55" stroke="#5f9a5c" stroke-opacity="0.55" stroke-width="1.1"/>
<circle cx="889" cy="389" r="5.3" fill="#7aae77" fill-opacity="0.55" stroke="#5f9a5c" stroke-opacity="0.55" stroke-width="1.1"/>
<circle cx="891.8" cy="387.9" r="5.3" fill="#7aae77" fill-opacity="0.55" stroke="#5f9a5c" stroke-opacity="0.55" stroke-width="1.1"/>
<circle cx="897.9" cy="370.3" r="5.3" fill="#7aae77" fill-opacity="0.55" stroke="#5f9a5c" stroke-opacity="0.55" stroke-width="1.1"/>
<circle cx="901" cy="374" r="5.3" fill="#7aae77" fill-opacity="0.55" stroke="#5f9a5c" stroke-opacity="0.55" stroke-width="1.1"/>
<circle cx="905.5" cy="365" r="5.3" fill="#7aae77" fill-opacity="0.55" stroke="#5f9a5c" stroke-opacity="0.55" stroke-width="1.1"/>
<circle cx="908.6" cy="361.9" r="5.3" fill="#7aae77" fill-opacity="0.55" stroke="#5f9a5c" stroke-opacity="0.55" stroke-width="1.1"/>
<circle cx="902.5" cy="383.3" r="5.3" fill="#7aae77" fill-opacity="0.55" stroke="#5f9a5c" stroke-opacity="0.55" stroke-width="1.1"/>
<circle cx="907.1" cy="381.8" r="5.3" fill="#7aae77" fill-opacity="0.55" stroke="#5f9a5c" stroke-opacity="0.55" stroke-width="1.1"/>
<circle cx="911" cy="368" r="5.3" fill="#7aae77" fill-opacity="0.55" stroke="#5f9a5c" stroke-opacity="0.55" stroke-width="1.1"/>
<circle cx="916.3" cy="372.6" r="5.3" fill="#7aae77" fill-opacity="0.55" stroke="#5f9a5c" stroke-opacity="0.55" stroke-width="1.1"/>
<circle cx="919.3" cy="377.2" r="5.3" fill="#7aae77" fill-opacity="0.55" stroke="#5f9a5c" stroke-opacity="0.55" stroke-width="1.1"/>
<circle cx="920.8" cy="384.8" r="5.3" fill="#7aae77" fill-opacity="0.55" stroke="#5f9a5c" stroke-opacity="0.55" stroke-width="1.1"/>
<circle cx="928.5" cy="355.8" r="5.3" fill="#7aae77" fill-opacity="0.55" stroke="#5f9a5c" stroke-opacity="0.55" stroke-width="1.1"/>
<circle cx="937.7" cy="349.7" r="5.3" fill="#7aae77" fill-opacity="0.55" stroke="#5f9a5c" stroke-opacity="0.55" stroke-width="1.1"/>
<circle cx="943" cy="354" r="5.3" fill="#7aae77" fill-opacity="0.55" stroke="#5f9a5c" stroke-opacity="0.55" stroke-width="1.1"/>
<circle cx="943" cy="349" r="5.3" fill="#7aae77" fill-opacity="0.55" stroke="#5f9a5c" stroke-opacity="0.55" stroke-width="1.1"/>
<circle cx="954" cy="346" r="5.3" fill="#7aae77" fill-opacity="0.55" stroke="#5f9a5c" stroke-opacity="0.55" stroke-width="1.1"/>
<circle cx="960" cy="338" r="5.3" fill="#7aae77" fill-opacity="0.55" stroke="#5f9a5c" stroke-opacity="0.55" stroke-width="1.1"/>
<circle cx="972" cy="342" r="5.3" fill="#7aae77" fill-opacity="0.55" stroke="#5f9a5c" stroke-opacity="0.55" stroke-width="1.1"/>
<circle cx="966" cy="331" r="5.3" fill="#7aae77" fill-opacity="0.55" stroke="#5f9a5c" stroke-opacity="0.55" stroke-width="1.1"/>
<circle cx="971" cy="328" r="5.3" fill="#7aae77" fill-opacity="0.55" stroke="#5f9a5c" stroke-opacity="0.55" stroke-width="1.1"/>
<circle cx="982" cy="331" r="5.3" fill="#7aae77" fill-opacity="0.55" stroke="#5f9a5c" stroke-opacity="0.55" stroke-width="1.1"/>
<circle cx="992" cy="314" r="5.3" fill="#7aae77" fill-opacity="0.55" stroke="#5f9a5c" stroke-opacity="0.55" stroke-width="1.1"/>
<circle cx="998" cy="314" r="5.3" fill="#7aae77" fill-opacity="0.55" stroke="#5f9a5c" stroke-opacity="0.55" stroke-width="1.1"/>
<circle cx="994" cy="320" r="5.3" fill="#7aae77" fill-opacity="0.55" stroke="#5f9a5c" stroke-opacity="0.55" stroke-width="1.1"/>
<circle cx="1020" cy="325" r="5.3" fill="#7aae77" fill-opacity="0.55" stroke="#5f9a5c" stroke-opacity="0.55" stroke-width="1.1"/>
<circle cx="1026" cy="320" r="5.3" fill="#7aae77" fill-opacity="0.55" stroke="#5f9a5c" stroke-opacity="0.55" stroke-width="1.1"/>
<circle cx="1036" cy="321" r="5.3" fill="#7aae77" fill-opacity="0.55" stroke="#5f9a5c" stroke-opacity="0.55" stroke-width="1.1"/>
<circle cx="1043" cy="321" r="5.3" fill="#7aae77" fill-opacity="0.55" stroke="#5f9a5c" stroke-opacity="0.55" stroke-width="1.1"/>
<circle cx="1050" cy="313" r="5.3" fill="#7aae77" fill-opacity="0.55" stroke="#5f9a5c" stroke-opacity="0.55" stroke-width="1.1"/>
<circle cx="1056" cy="321" r="5.3" fill="#7aae77" fill-opacity="0.55" stroke="#5f9a5c" stroke-opacity="0.55" stroke-width="1.1"/>
<circle cx="1080" cy="314" r="5.3" fill="#7aae77" fill-opacity="0.55" stroke="#5f9a5c" stroke-opacity="0.55" stroke-width="1.1"/>
<circle cx="1086" cy="310" r="5.3" fill="#7aae77" fill-opacity="0.55" stroke="#5f9a5c" stroke-opacity="0.55" stroke-width="1.1"/>
<circle cx="1090" cy="310" r="5.3" fill="#7aae77" fill-opacity="0.55" stroke="#5f9a5c" stroke-opacity="0.55" stroke-width="1.1"/>
<circle cx="1086" cy="318" r="5.3" fill="#7aae77" fill-opacity="0.55" stroke="#5f9a5c" stroke-opacity="0.55" stroke-width="1.1"/>
<circle cx="1124" cy="317" r="5.3" fill="#7aae77" fill-opacity="0.55" stroke="#5f9a5c" stroke-opacity="0.55" stroke-width="1.1"/>
<circle cx="1148" cy="313.6" r="5.3" fill="#7aae77" fill-opacity="0.55" stroke="#5f9a5c" stroke-opacity="0.55" stroke-width="1.1"/>
<line x1="997.2" y1="46.3" x2="997.2" y2="67.7" stroke="#7db7e6" stroke-width="2.6" stroke-opacity="0.75"/>
<line x1="979.7" y1="57" x2="1014.7" y2="57" stroke="#7db7e6" stroke-width="2.6" stroke-opacity="0.75"/>
<line x1="992.5" y1="44.1" x2="992.5" y2="91.5" stroke="#7db7e6" stroke-width="2.6" stroke-opacity="0.75"/>
<line x1="980.6" y1="67.8" x2="1004.4" y2="67.8" stroke="#7db7e6" stroke-width="2.6" stroke-opacity="0.75"/>
<line x1="992.9" y1="64.3" x2="992.9" y2="92.9" stroke="#7db7e6" stroke-width="2.6" stroke-opacity="0.75"/>
<line x1="981.7" y1="78.6" x2="1004.1" y2="78.6" stroke="#7db7e6" stroke-width="2.6" stroke-opacity="0.75"/>
<line x1="994.3" y1="60" x2="994.3" y2="111.8" stroke="#7db7e6" stroke-width="2.6" stroke-opacity="0.75"/>
<line x1="973.7" y1="85.9" x2="1014.9" y2="85.9" stroke="#7db7e6" stroke-width="2.6" stroke-opacity="0.75"/>
<line x1="972.8" y1="68.8" x2="972.8" y2="88.4" stroke="#7db7e6" stroke-width="2.6" stroke-opacity="0.75"/>
<line x1="957.9" y1="78.6" x2="987.7" y2="78.6" stroke="#7db7e6" stroke-width="2.6" stroke-opacity="0.75"/>
<line x1="971.3" y1="66.6" x2="971.3" y2="133" stroke="#7db7e6" stroke-width="2.6" stroke-opacity="0.75"/>
<line x1="967.3" y1="99.8" x2="975.3" y2="99.8" stroke="#7db7e6" stroke-width="2.6" stroke-opacity="0.75"/>
<line x1="981.8" y1="103.4" x2="981.8" y2="124.6" stroke="#7db7e6" stroke-width="2.6" stroke-opacity="0.75"/>
<line x1="973.1" y1="114" x2="990.5" y2="114" stroke="#7db7e6" stroke-width="2.6" stroke-opacity="0.75"/>
<line x1="968.3" y1="107.2" x2="968.3" y2="156.8" stroke="#7db7e6" stroke-width="2.6" stroke-opacity="0.75"/>
<line x1="964.4" y1="132" x2="972.2" y2="132" stroke="#7db7e6" stroke-width="2.6" stroke-opacity="0.75"/>
<line x1="959.5" y1="121.2" x2="959.5" y2="171.6" stroke="#7db7e6" stroke-width="2.6" stroke-opacity="0.75"/>
<line x1="956.3" y1="146.4" x2="962.7" y2="146.4" stroke="#7db7e6" stroke-width="2.6" stroke-opacity="0.75"/>
<line x1="954.3" y1="139.3" x2="954.3" y2="188.9" stroke="#7db7e6" stroke-width="2.6" stroke-opacity="0.75"/>
<line x1="945.4" y1="164.1" x2="963.2" y2="164.1" stroke="#7db7e6" stroke-width="2.6" stroke-opacity="0.75"/>
<line x1="972" y1="129.9" x2="972" y2="198.3" stroke="#7db7e6" stroke-width="2.6" stroke-opacity="0.75"/>
<line x1="964.8" y1="164.1" x2="979.2" y2="164.1" stroke="#7db7e6" stroke-width="2.6" stroke-opacity="0.75"/>
<line x1="939.2" y1="89.7" x2="939.2" y2="124.3" stroke="#7db7e6" stroke-width="2.6" stroke-opacity="0.75"/>
<line x1="934" y1="107" x2="944.4" y2="107" stroke="#7db7e6" stroke-width="2.6" stroke-opacity="0.75"/>
<line x1="916.2" y1="117.3" x2="916.2" y2="146.7" stroke="#7db7e6" stroke-width="2.6" stroke-opacity="0.75"/>
<line x1="908.6" y1="132" x2="923.8" y2="132" stroke="#7db7e6" stroke-width="2.6" stroke-opacity="0.75"/>
<line x1="901.8" y1="135.7" x2="901.8" y2="185.5" stroke="#7db7e6" stroke-width="2.6" stroke-opacity="0.75"/>
<line x1="894.1" y1="160.6" x2="909.5" y2="160.6" stroke="#7db7e6" stroke-width="2.6" stroke-opacity="0.75"/>
<line x1="921.5" y1="158.9" x2="921.5" y2="197.3" stroke="#7db7e6" stroke-width="2.6" stroke-opacity="0.75"/>
<line x1="917.2" y1="178.1" x2="925.8" y2="178.1" stroke="#7db7e6" stroke-width="2.6" stroke-opacity="0.75"/>
<line x1="907" y1="163.3" x2="907" y2="228.7" stroke="#7db7e6" stroke-width="2.6" stroke-opacity="0.75"/>
<line x1="898.1" y1="196" x2="915.9" y2="196" stroke="#7db7e6" stroke-width="2.6" stroke-opacity="0.75"/>
<line x1="941.1" y1="155.1" x2="941.1" y2="222.9" stroke="#7db7e6" stroke-width="2.6" stroke-opacity="0.75"/>
<line x1="933.3" y1="189" x2="948.9" y2="189" stroke="#7db7e6" stroke-width="2.6" stroke-opacity="0.75"/>
<line x1="943.1" y1="163.3" x2="943.1" y2="229.1" stroke="#7db7e6" stroke-width="2.6" stroke-opacity="0.75"/>
<line x1="935.7" y1="196.2" x2="950.5" y2="196.2" stroke="#7db7e6" stroke-width="2.6" stroke-opacity="0.75"/>
<line x1="929.3" y1="187.1" x2="929.3" y2="219.7" stroke="#7db7e6" stroke-width="2.6" stroke-opacity="0.75"/>
<line x1="923.2" y1="203.4" x2="935.4" y2="203.4" stroke="#7db7e6" stroke-width="2.6" stroke-opacity="0.75"/>
<line x1="1020" y1="59.3" x2="1020" y2="76.3" stroke="#7db7e6" stroke-width="2.6" stroke-opacity="0.75"/>
<line x1="1004.7" y1="67.8" x2="1035.3" y2="67.8" stroke="#7db7e6" stroke-width="2.6" stroke-opacity="0.75"/>
<line x1="1026.7" y1="47.3" x2="1026.7" y2="88.3" stroke="#7db7e6" stroke-width="2.6" stroke-opacity="0.75"/>
<line x1="1007.1" y1="67.8" x2="1046.3" y2="67.8" stroke="#7db7e6" stroke-width="2.6" stroke-opacity="0.75"/>
<line x1="1035" y1="23.9" x2="1035" y2="75.5" stroke="#7db7e6" stroke-width="2.6" stroke-opacity="0.75"/>
<line x1="1017.5" y1="49.7" x2="1052.5" y2="49.7" stroke="#7db7e6" stroke-width="2.6" stroke-opacity="0.75"/>
<line x1="1039.7" y1="45.4" x2="1039.7" y2="69.6" stroke="#7db7e6" stroke-width="2.6" stroke-opacity="0.75"/>
<line x1="1026.4" y1="57.5" x2="1053" y2="57.5" stroke="#7db7e6" stroke-width="2.6" stroke-opacity="0.75"/>
<line x1="1043.3" y1="15" x2="1043.3" y2="63.4" stroke="#7db7e6" stroke-width="2.6" stroke-opacity="0.75"/>
<line x1="1022.8" y1="39.2" x2="1063.8" y2="39.2" stroke="#7db7e6" stroke-width="2.6" stroke-opacity="0.75"/>
<line x1="1050.8" y1="20.9" x2="1050.8" y2="65.7" stroke="#7db7e6" stroke-width="2.6" stroke-opacity="0.75"/>
<line x1="1025.6" y1="43.3" x2="1076" y2="43.3" stroke="#7db7e6" stroke-width="2.6" stroke-opacity="0.75"/>
<line x1="1055.8" y1="13.7" x2="1055.8" y2="57.9" stroke="#7db7e6" stroke-width="2.6" stroke-opacity="0.75"/>
<line x1="1035.4" y1="35.8" x2="1076.2" y2="35.8" stroke="#7db7e6" stroke-width="2.6" stroke-opacity="0.75"/>
<line x1="1080" y1="17" x2="1080" y2="61.4" stroke="#7db7e6" stroke-width="2.6" stroke-opacity="0.75"/>
<line x1="1051.2" y1="39.2" x2="1108.8" y2="39.2" stroke="#7db7e6" stroke-width="2.6" stroke-opacity="0.75"/>
<line x1="1087.5" y1="24.9" x2="1087.5" y2="55.1" stroke="#7db7e6" stroke-width="2.6" stroke-opacity="0.75"/>
<line x1="1054.9" y1="40" x2="1120.1" y2="40" stroke="#7db7e6" stroke-width="2.6" stroke-opacity="0.75"/>
<line x1="1079.7" y1="39.2" x2="1079.7" y2="61.4" stroke="#7db7e6" stroke-width="2.6" stroke-opacity="0.75"/>
<line x1="1067.8" y1="50.3" x2="1091.6" y2="50.3" stroke="#7db7e6" stroke-width="2.6" stroke-opacity="0.75"/>
<line x1="1089.2" y1="20.8" x2="1089.2" y2="65.8" stroke="#7db7e6" stroke-width="2.6" stroke-opacity="0.75"/>
<line x1="1059.7" y1="43.3" x2="1118.7" y2="43.3" stroke="#7db7e6" stroke-width="2.6" stroke-opacity="0.75"/>
<line x1="1124.2" y1="18.5" x2="1124.2" y2="58.1" stroke="#7db7e6" stroke-width="2.6" stroke-opacity="0.75"/>
<line x1="1101.9" y1="38.3" x2="1146.5" y2="38.3" stroke="#7db7e6" stroke-width="2.6" stroke-opacity="0.75"/>
<line x1="1125" y1="38.4" x2="1125" y2="55" stroke="#7db7e6" stroke-width="2.6" stroke-opacity="0.75"/>
<line x1="1100.1" y1="46.7" x2="1149.9" y2="46.7" stroke="#7db7e6" stroke-width="2.6" stroke-opacity="0.75"/>
<line x1="1147.5" y1="18.2" x2="1147.5" y2="67.8" stroke="#7db7e6" stroke-width="2.6" stroke-opacity="0.75"/>
<line x1="1116.8" y1="43" x2="1178.2" y2="43" stroke="#7db7e6" stroke-width="2.6" stroke-opacity="0.75"/>
<line x1="982.5" y1="81.1" x2="982.5" y2="147.3" stroke="#7db7e6" stroke-width="2.6" stroke-opacity="0.75"/>
<line x1="978.2" y1="114.2" x2="986.8" y2="114.2" stroke="#7db7e6" stroke-width="2.6" stroke-opacity="0.75"/>
<line x1="943" y1="196.6" x2="943" y2="230.8" stroke="#7db7e6" stroke-width="2.6" stroke-opacity="0.75"/>
<line x1="938.2" y1="213.7" x2="947.8" y2="213.7" stroke="#7db7e6" stroke-width="2.6" stroke-opacity="0.75"/>
<line x1="888.4" y1="200.8" x2="888.4" y2="234.2" stroke="#7db7e6" stroke-width="2.6" stroke-opacity="0.75"/>
<line x1="881.9" y1="217.5" x2="894.9" y2="217.5" stroke="#7db7e6" stroke-width="2.6" stroke-opacity="0.75"/>
<line x1="876.2" y1="210.9" x2="876.2" y2="245.5" stroke="#7db7e6" stroke-width="2.6" stroke-opacity="0.75"/>
<line x1="870.7" y1="228.2" x2="881.7" y2="228.2" stroke="#7db7e6" stroke-width="2.6" stroke-opacity="0.75"/>
<line x1="866.8" y1="225.2" x2="866.8" y2="252.6" stroke="#7db7e6" stroke-width="2.6" stroke-opacity="0.75"/>
<line x1="858.3" y1="238.9" x2="875.3" y2="238.9" stroke="#7db7e6" stroke-width="2.6" stroke-opacity="0.75"/>
<line x1="850.5" y1="229.7" x2="850.5" y2="269.5" stroke="#7db7e6" stroke-width="2.6" stroke-opacity="0.75"/>
<line x1="844.8" y1="249.6" x2="856.2" y2="249.6" stroke="#7db7e6" stroke-width="2.6" stroke-opacity="0.75"/>
<line x1="859.7" y1="227.1" x2="859.7" y2="279.7" stroke="#7db7e6" stroke-width="2.6" stroke-opacity="0.75"/>
<line x1="851.3" y1="253.4" x2="868.1" y2="253.4" stroke="#7db7e6" stroke-width="2.6" stroke-opacity="0.75"/>
<line x1="848.6" y1="242" x2="848.6" y2="285.6" stroke="#7db7e6" stroke-width="2.6" stroke-opacity="0.75"/>
<line x1="840.1" y1="263.8" x2="857.1" y2="263.8" stroke="#7db7e6" stroke-width="2.6" stroke-opacity="0.75"/>
<line x1="848.6" y1="250.8" x2="848.6" y2="298.8" stroke="#7db7e6" stroke-width="2.6" stroke-opacity="0.75"/>
<line x1="842.4" y1="274.8" x2="854.8" y2="274.8" stroke="#7db7e6" stroke-width="2.6" stroke-opacity="0.75"/>
<line x1="844.1" y1="260.5" x2="844.1" y2="309.9" stroke="#7db7e6" stroke-width="2.6" stroke-opacity="0.75"/>
<line x1="841" y1="285.2" x2="847.2" y2="285.2" stroke="#7db7e6" stroke-width="2.6" stroke-opacity="0.75"/>
<line x1="839" y1="280.1" x2="839" y2="324.7" stroke="#7db7e6" stroke-width="2.6" stroke-opacity="0.75"/>
<line x1="834.9" y1="302.4" x2="843.1" y2="302.4" stroke="#7db7e6" stroke-width="2.6" stroke-opacity="0.75"/>
<line x1="837.5" y1="299.9" x2="837.5" y2="320.1" stroke="#7db7e6" stroke-width="2.6" stroke-opacity="0.75"/>
<line x1="829.7" y1="310" x2="845.3" y2="310" stroke="#7db7e6" stroke-width="2.6" stroke-opacity="0.75"/>
<line x1="835.5" y1="301.8" x2="835.5" y2="331.4" stroke="#7db7e6" stroke-width="2.6" stroke-opacity="0.75"/>
<line x1="829.7" y1="316.6" x2="841.3" y2="316.6" stroke="#7db7e6" stroke-width="2.6" stroke-opacity="0.75"/>
<line x1="897.1" y1="208.6" x2="897.1" y2="269.2" stroke="#7db7e6" stroke-width="2.6" stroke-opacity="0.75"/>
<line x1="890.8" y1="238.9" x2="903.4" y2="238.9" stroke="#7db7e6" stroke-width="2.6" stroke-opacity="0.75"/>
<line x1="907.8" y1="212.9" x2="907.8" y2="251.1" stroke="#7db7e6" stroke-width="2.6" stroke-opacity="0.75"/>
<line x1="901.7" y1="232" x2="913.9" y2="232" stroke="#7db7e6" stroke-width="2.6" stroke-opacity="0.75"/>
<line x1="902.5" y1="230.9" x2="902.5" y2="282.1" stroke="#7db7e6" stroke-width="2.6" stroke-opacity="0.75"/>
<line x1="894.8" y1="256.5" x2="910.2" y2="256.5" stroke="#7db7e6" stroke-width="2.6" stroke-opacity="0.75"/>
<line x1="917" y1="243.5" x2="917" y2="269.5" stroke="#7db7e6" stroke-width="2.6" stroke-opacity="0.75"/>
<line x1="910.6" y1="256.5" x2="923.4" y2="256.5" stroke="#7db7e6" stroke-width="2.6" stroke-opacity="0.75"/>
<line x1="904" y1="250.2" x2="904" y2="284.2" stroke="#7db7e6" stroke-width="2.6" stroke-opacity="0.75"/>
<line x1="899.3" y1="267.2" x2="908.7" y2="267.2" stroke="#7db7e6" stroke-width="2.6" stroke-opacity="0.75"/>
<line x1="918.5" y1="243.2" x2="918.5" y2="306.4" stroke="#7db7e6" stroke-width="2.6" stroke-opacity="0.75"/>
<line x1="912.5" y1="274.8" x2="924.5" y2="274.8" stroke="#7db7e6" stroke-width="2.6" stroke-opacity="0.75"/>
<line x1="907.1" y1="256" x2="907.1" y2="307.4" stroke="#7db7e6" stroke-width="2.6" stroke-opacity="0.75"/>
<line x1="899.5" y1="281.7" x2="914.7" y2="281.7" stroke="#7db7e6" stroke-width="2.6" stroke-opacity="0.75"/>
<line x1="904" y1="256.9" x2="904" y2="327.9" stroke="#7db7e6" stroke-width="2.6" stroke-opacity="0.75"/>
<line x1="898.3" y1="292.4" x2="909.7" y2="292.4" stroke="#7db7e6" stroke-width="2.6" stroke-opacity="0.75"/>
<line x1="878" y1="275.9" x2="878" y2="330.3" stroke="#7db7e6" stroke-width="2.6" stroke-opacity="0.75"/>
<line x1="872" y1="303.1" x2="884" y2="303.1" stroke="#7db7e6" stroke-width="2.6" stroke-opacity="0.75"/>
<line x1="893.3" y1="278.8" x2="893.3" y2="327.4" stroke="#7db7e6" stroke-width="2.6" stroke-opacity="0.75"/>
<line x1="886.1" y1="303.1" x2="900.5" y2="303.1" stroke="#7db7e6" stroke-width="2.6" stroke-opacity="0.75"/>
<line x1="883.4" y1="284.3" x2="883.4" y2="329.7" stroke="#7db7e6" stroke-width="2.6" stroke-opacity="0.75"/>
<line x1="877.2" y1="307" x2="889.6" y2="307" stroke="#7db7e6" stroke-width="2.6" stroke-opacity="0.75"/>
<line x1="887.2" y1="289.7" x2="887.2" y2="336.5" stroke="#7db7e6" stroke-width="2.6" stroke-opacity="0.75"/>
<line x1="878.6" y1="313.1" x2="895.8" y2="313.1" stroke="#7db7e6" stroke-width="2.6" stroke-opacity="0.75"/>
<line x1="871.1" y1="286.5" x2="871.1" y2="345.7" stroke="#7db7e6" stroke-width="2.6" stroke-opacity="0.75"/>
<line x1="862.8" y1="316.1" x2="879.4" y2="316.1" stroke="#7db7e6" stroke-width="2.6" stroke-opacity="0.75"/>
<line x1="921.6" y1="143.6" x2="921.6" y2="216.4" stroke="#7db7e6" stroke-width="2.6" stroke-opacity="0.75"/>
<line x1="917" y1="180" x2="926.2" y2="180" stroke="#7db7e6" stroke-width="2.6" stroke-opacity="0.75"/>
<line x1="827.5" y1="301.8" x2="827.5" y2="353.2" stroke="#7db7e6" stroke-width="2.6" stroke-opacity="0.75"/>
<line x1="818.8" y1="327.5" x2="836.2" y2="327.5" stroke="#7db7e6" stroke-width="2.6" stroke-opacity="0.75"/>
<line x1="826" y1="308.5" x2="826" y2="375.5" stroke="#7db7e6" stroke-width="2.6" stroke-opacity="0.75"/>
<line x1="822.2" y1="342" x2="829.8" y2="342" stroke="#7db7e6" stroke-width="2.6" stroke-opacity="0.75"/>
<line x1="824.5" y1="339.3" x2="824.5" y2="366.1" stroke="#7db7e6" stroke-width="2.6" stroke-opacity="0.75"/>
<line x1="818.8" y1="352.7" x2="830.2" y2="352.7" stroke="#7db7e6" stroke-width="2.6" stroke-opacity="0.75"/>
<line x1="816.8" y1="340.7" x2="816.8" y2="364.7" stroke="#7db7e6" stroke-width="2.6" stroke-opacity="0.75"/>
<line x1="812.4" y1="352.7" x2="821.2" y2="352.7" stroke="#7db7e6" stroke-width="2.6" stroke-opacity="0.75"/>
<line x1="814.5" y1="348.4" x2="814.5" y2="372.4" stroke="#7db7e6" stroke-width="2.6" stroke-opacity="0.75"/>
<line x1="807.5" y1="360.4" x2="821.5" y2="360.4" stroke="#7db7e6" stroke-width="2.6" stroke-opacity="0.75"/>
<line x1="809.2" y1="334.5" x2="809.2" y2="398.5" stroke="#7db7e6" stroke-width="2.6" stroke-opacity="0.75"/>
<line x1="800.8" y1="366.5" x2="817.6" y2="366.5" stroke="#7db7e6" stroke-width="2.6" stroke-opacity="0.75"/>
<line x1="806.9" y1="358.3" x2="806.9" y2="386.9" stroke="#7db7e6" stroke-width="2.6" stroke-opacity="0.75"/>
<line x1="799.6" y1="372.6" x2="814.2" y2="372.6" stroke="#7db7e6" stroke-width="2.6" stroke-opacity="0.75"/>
<line x1="806.1" y1="353.3" x2="806.1" y2="410.3" stroke="#7db7e6" stroke-width="2.6" stroke-opacity="0.75"/>
<line x1="802.2" y1="381.8" x2="810" y2="381.8" stroke="#7db7e6" stroke-width="2.6" stroke-opacity="0.75"/>
<line x1="804.6" y1="341" x2="804.6" y2="410.4" stroke="#7db7e6" stroke-width="2.6" stroke-opacity="0.75"/>
<line x1="795.8" y1="375.7" x2="813.4" y2="375.7" stroke="#7db7e6" stroke-width="2.6" stroke-opacity="0.75"/>
<line x1="835.2" y1="329.7" x2="835.2" y2="361.9" stroke="#7db7e6" stroke-width="2.6" stroke-opacity="0.75"/>
<line x1="826.5" y1="345.8" x2="843.9" y2="345.8" stroke="#7db7e6" stroke-width="2.6" stroke-opacity="0.75"/>
<line x1="841.3" y1="320.8" x2="841.3" y2="363.2" stroke="#7db7e6" stroke-width="2.6" stroke-opacity="0.75"/>
<line x1="835.4" y1="342" x2="847.2" y2="342" stroke="#7db7e6" stroke-width="2.6" stroke-opacity="0.75"/>
<line x1="845.9" y1="304.3" x2="845.9" y2="379.7" stroke="#7db7e6" stroke-width="2.6" stroke-opacity="0.75"/>
<line x1="837.9" y1="342" x2="853.9" y2="342" stroke="#7db7e6" stroke-width="2.6" stroke-opacity="0.75"/>
<line x1="855.1" y1="309.9" x2="855.1" y2="338.9" stroke="#7db7e6" stroke-width="2.6" stroke-opacity="0.75"/>
<line x1="849.5" y1="324.4" x2="860.7" y2="324.4" stroke="#7db7e6" stroke-width="2.6" stroke-opacity="0.75"/>
<line x1="854.3" y1="306.9" x2="854.3" y2="355.7" stroke="#7db7e6" stroke-width="2.6" stroke-opacity="0.75"/>
<line x1="849.3" y1="331.3" x2="859.3" y2="331.3" stroke="#7db7e6" stroke-width="2.6" stroke-opacity="0.75"/>
<line x1="864.2" y1="308.9" x2="864.2" y2="339.9" stroke="#7db7e6" stroke-width="2.6" stroke-opacity="0.75"/>
<line x1="859.3" y1="324.4" x2="869.1" y2="324.4" stroke="#7db7e6" stroke-width="2.6" stroke-opacity="0.75"/>
<line x1="871.1" y1="287.3" x2="871.1" y2="347.7" stroke="#7db7e6" stroke-width="2.6" stroke-opacity="0.75"/>
<line x1="868" y1="317.5" x2="874.2" y2="317.5" stroke="#7db7e6" stroke-width="2.6" stroke-opacity="0.75"/>
<line x1="877.2" y1="295.1" x2="877.2" y2="346.1" stroke="#7db7e6" stroke-width="2.6" stroke-opacity="0.75"/>
<line x1="871.6" y1="320.6" x2="882.8" y2="320.6" stroke="#7db7e6" stroke-width="2.6" stroke-opacity="0.75"/>
<line x1="881.8" y1="296.3" x2="881.8" y2="317.3" stroke="#7db7e6" stroke-width="2.6" stroke-opacity="0.75"/>
<line x1="876.8" y1="306.8" x2="886.8" y2="306.8" stroke="#7db7e6" stroke-width="2.6" stroke-opacity="0.75"/>
<line x1="904" y1="265.6" x2="904" y2="320.6" stroke="#7db7e6" stroke-width="2.6" stroke-opacity="0.75"/>
<line x1="897.9" y1="293.1" x2="910.1" y2="293.1" stroke="#7db7e6" stroke-width="2.6" stroke-opacity="0.75"/>
<line x1="812" y1="350.2" x2="812" y2="373.8" stroke="#7db7e6" stroke-width="2.6" stroke-opacity="0.75"/>
<line x1="803.1" y1="362" x2="820.9" y2="362" stroke="#7db7e6" stroke-width="2.6" stroke-opacity="0.75"/>
<line x1="819" y1="314.9" x2="819" y2="379.1" stroke="#7db7e6" stroke-width="2.6" stroke-opacity="0.75"/>
<line x1="810.2" y1="347" x2="827.8" y2="347" stroke="#7db7e6" stroke-width="2.6" stroke-opacity="0.75"/>
<line x1="822" y1="323.1" x2="822" y2="348.9" stroke="#7db7e6" stroke-width="2.6" stroke-opacity="0.75"/>
<line x1="817.4" y1="336" x2="826.6" y2="336" stroke="#7db7e6" stroke-width="2.6" stroke-opacity="0.75"/>
<line x1="808" y1="366.9" x2="808" y2="389.1" stroke="#7db7e6" stroke-width="2.6" stroke-opacity="0.75"/>
<line x1="800.3" y1="378" x2="815.7" y2="378" stroke="#7db7e6" stroke-width="2.6" stroke-opacity="0.75"/>
<circle cx="997.2" cy="57" r="5.3" fill="#5ea8e0" fill-opacity="0.55" stroke="#5ea8e0" stroke-opacity="0.7" stroke-width="1"/>
<circle cx="992.5" cy="67.8" r="5.3" fill="#5ea8e0" fill-opacity="0.55" stroke="#5ea8e0" stroke-opacity="0.7" stroke-width="1"/>
<circle cx="992.9" cy="78.6" r="5.3" fill="#5ea8e0" fill-opacity="0.55" stroke="#5ea8e0" stroke-opacity="0.7" stroke-width="1"/>
<circle cx="994.3" cy="85.9" r="5.3" fill="#5ea8e0" fill-opacity="0.55" stroke="#5ea8e0" stroke-opacity="0.7" stroke-width="1"/>
<circle cx="972.8" cy="78.6" r="5.3" fill="#5ea8e0" fill-opacity="0.55" stroke="#5ea8e0" stroke-opacity="0.7" stroke-width="1"/>
<circle cx="971.3" cy="99.8" r="5.3" fill="#5ea8e0" fill-opacity="0.55" stroke="#5ea8e0" stroke-opacity="0.7" stroke-width="1"/>
<circle cx="981.8" cy="114" r="5.3" fill="#5ea8e0" fill-opacity="0.55" stroke="#5ea8e0" stroke-opacity="0.7" stroke-width="1"/>
<circle cx="968.3" cy="132" r="5.3" fill="#5ea8e0" fill-opacity="0.55" stroke="#5ea8e0" stroke-opacity="0.7" stroke-width="1"/>
<circle cx="959.5" cy="146.4" r="5.3" fill="#5ea8e0" fill-opacity="0.55" stroke="#5ea8e0" stroke-opacity="0.7" stroke-width="1"/>
<circle cx="954.3" cy="164.1" r="5.3" fill="#5ea8e0" fill-opacity="0.55" stroke="#5ea8e0" stroke-opacity="0.7" stroke-width="1"/>
<circle cx="972" cy="164.1" r="5.3" fill="#5ea8e0" fill-opacity="0.55" stroke="#5ea8e0" stroke-opacity="0.7" stroke-width="1"/>
<circle cx="939.2" cy="107" r="5.3" fill="#5ea8e0" fill-opacity="0.55" stroke="#5ea8e0" stroke-opacity="0.7" stroke-width="1"/>
<circle cx="916.2" cy="132" r="5.3" fill="#5ea8e0" fill-opacity="0.55" stroke="#5ea8e0" stroke-opacity="0.7" stroke-width="1"/>
<circle cx="901.8" cy="160.6" r="5.3" fill="#5ea8e0" fill-opacity="0.55" stroke="#5ea8e0" stroke-opacity="0.7" stroke-width="1"/>
<circle cx="921.5" cy="178.1" r="5.3" fill="#5ea8e0" fill-opacity="0.55" stroke="#5ea8e0" stroke-opacity="0.7" stroke-width="1"/>
<circle cx="907" cy="196" r="5.3" fill="#5ea8e0" fill-opacity="0.55" stroke="#5ea8e0" stroke-opacity="0.7" stroke-width="1"/>
<circle cx="941.1" cy="189" r="5.3" fill="#5ea8e0" fill-opacity="0.55" stroke="#5ea8e0" stroke-opacity="0.7" stroke-width="1"/>
<circle cx="943.1" cy="196.2" r="5.3" fill="#5ea8e0" fill-opacity="0.55" stroke="#5ea8e0" stroke-opacity="0.7" stroke-width="1"/>
<circle cx="929.3" cy="203.4" r="5.3" fill="#5ea8e0" fill-opacity="0.55" stroke="#5ea8e0" stroke-opacity="0.7" stroke-width="1"/>
<circle cx="1020" cy="67.8" r="5.3" fill="#5ea8e0" fill-opacity="0.55" stroke="#5ea8e0" stroke-opacity="0.7" stroke-width="1"/>
<circle cx="1026.7" cy="67.8" r="5.3" fill="#5ea8e0" fill-opacity="0.55" stroke="#5ea8e0" stroke-opacity="0.7" stroke-width="1"/>
<circle cx="1035" cy="49.7" r="5.3" fill="#5ea8e0" fill-opacity="0.55" stroke="#5ea8e0" stroke-opacity="0.7" stroke-width="1"/>
<circle cx="1039.7" cy="57.5" r="5.3" fill="#5ea8e0" fill-opacity="0.55" stroke="#5ea8e0" stroke-opacity="0.7" stroke-width="1"/>
<circle cx="1043.3" cy="39.2" r="5.3" fill="#5ea8e0" fill-opacity="0.55" stroke="#5ea8e0" stroke-opacity="0.7" stroke-width="1"/>
<circle cx="1050.8" cy="43.3" r="5.3" fill="#5ea8e0" fill-opacity="0.55" stroke="#5ea8e0" stroke-opacity="0.7" stroke-width="1"/>
<circle cx="1055.8" cy="35.8" r="5.3" fill="#5ea8e0" fill-opacity="0.55" stroke="#5ea8e0" stroke-opacity="0.7" stroke-width="1"/>
<circle cx="1080" cy="39.2" r="5.3" fill="#5ea8e0" fill-opacity="0.55" stroke="#5ea8e0" stroke-opacity="0.7" stroke-width="1"/>
<circle cx="1087.5" cy="40" r="5.3" fill="#5ea8e0" fill-opacity="0.55" stroke="#5ea8e0" stroke-opacity="0.7" stroke-width="1"/>
<circle cx="1079.7" cy="50.3" r="5.3" fill="#5ea8e0" fill-opacity="0.55" stroke="#5ea8e0" stroke-opacity="0.7" stroke-width="1"/>
<circle cx="1089.2" cy="43.3" r="5.3" fill="#5ea8e0" fill-opacity="0.55" stroke="#5ea8e0" stroke-opacity="0.7" stroke-width="1"/>
<circle cx="1124.2" cy="38.3" r="5.3" fill="#5ea8e0" fill-opacity="0.55" stroke="#5ea8e0" stroke-opacity="0.7" stroke-width="1"/>
<circle cx="1125" cy="46.7" r="5.3" fill="#5ea8e0" fill-opacity="0.55" stroke="#5ea8e0" stroke-opacity="0.7" stroke-width="1"/>
<circle cx="1147.5" cy="43" r="5.3" fill="#5ea8e0" fill-opacity="0.55" stroke="#5ea8e0" stroke-opacity="0.7" stroke-width="1"/>
<circle cx="982.5" cy="114.2" r="5.3" fill="#5ea8e0" fill-opacity="0.55" stroke="#5ea8e0" stroke-opacity="0.7" stroke-width="1"/>
<circle cx="943" cy="213.7" r="5.3" fill="#5ea8e0" fill-opacity="0.55" stroke="#5ea8e0" stroke-opacity="0.7" stroke-width="1"/>
<circle cx="888.4" cy="217.5" r="5.3" fill="#5ea8e0" fill-opacity="0.55" stroke="#5ea8e0" stroke-opacity="0.7" stroke-width="1"/>
<circle cx="876.2" cy="228.2" r="5.3" fill="#5ea8e0" fill-opacity="0.55" stroke="#5ea8e0" stroke-opacity="0.7" stroke-width="1"/>
<circle cx="866.8" cy="238.9" r="5.3" fill="#5ea8e0" fill-opacity="0.55" stroke="#5ea8e0" stroke-opacity="0.7" stroke-width="1"/>
<circle cx="850.5" cy="249.6" r="5.3" fill="#5ea8e0" fill-opacity="0.55" stroke="#5ea8e0" stroke-opacity="0.7" stroke-width="1"/>
<circle cx="859.7" cy="253.4" r="5.3" fill="#5ea8e0" fill-opacity="0.55" stroke="#5ea8e0" stroke-opacity="0.7" stroke-width="1"/>
<circle cx="848.6" cy="263.8" r="5.3" fill="#5ea8e0" fill-opacity="0.55" stroke="#5ea8e0" stroke-opacity="0.7" stroke-width="1"/>
<circle cx="848.6" cy="274.8" r="5.3" fill="#5ea8e0" fill-opacity="0.55" stroke="#5ea8e0" stroke-opacity="0.7" stroke-width="1"/>
<circle cx="844.1" cy="285.2" r="5.3" fill="#5ea8e0" fill-opacity="0.55" stroke="#5ea8e0" stroke-opacity="0.7" stroke-width="1"/>
<circle cx="839" cy="302.4" r="5.3" fill="#5ea8e0" fill-opacity="0.55" stroke="#5ea8e0" stroke-opacity="0.7" stroke-width="1"/>
<circle cx="837.5" cy="310" r="5.3" fill="#5ea8e0" fill-opacity="0.55" stroke="#5ea8e0" stroke-opacity="0.7" stroke-width="1"/>
<circle cx="835.5" cy="316.6" r="5.3" fill="#5ea8e0" fill-opacity="0.55" stroke="#5ea8e0" stroke-opacity="0.7" stroke-width="1"/>
<circle cx="897.1" cy="238.9" r="5.3" fill="#5ea8e0" fill-opacity="0.55" stroke="#5ea8e0" stroke-opacity="0.7" stroke-width="1"/>
<circle cx="907.8" cy="232" r="5.3" fill="#5ea8e0" fill-opacity="0.55" stroke="#5ea8e0" stroke-opacity="0.7" stroke-width="1"/>
<circle cx="902.5" cy="256.5" r="5.3" fill="#5ea8e0" fill-opacity="0.55" stroke="#5ea8e0" stroke-opacity="0.7" stroke-width="1"/>
<circle cx="917" cy="256.5" r="5.3" fill="#5ea8e0" fill-opacity="0.55" stroke="#5ea8e0" stroke-opacity="0.7" stroke-width="1"/>
<circle cx="904" cy="267.2" r="5.3" fill="#5ea8e0" fill-opacity="0.55" stroke="#5ea8e0" stroke-opacity="0.7" stroke-width="1"/>
<circle cx="918.5" cy="274.8" r="5.3" fill="#5ea8e0" fill-opacity="0.55" stroke="#5ea8e0" stroke-opacity="0.7" stroke-width="1"/>
<circle cx="907.1" cy="281.7" r="5.3" fill="#5ea8e0" fill-opacity="0.55" stroke="#5ea8e0" stroke-opacity="0.7" stroke-width="1"/>
<circle cx="904" cy="292.4" r="5.3" fill="#5ea8e0" fill-opacity="0.55" stroke="#5ea8e0" stroke-opacity="0.7" stroke-width="1"/>
<circle cx="878" cy="303.1" r="5.3" fill="#5ea8e0" fill-opacity="0.55" stroke="#5ea8e0" stroke-opacity="0.7" stroke-width="1"/>
<circle cx="893.3" cy="303.1" r="5.3" fill="#5ea8e0" fill-opacity="0.55" stroke="#5ea8e0" stroke-opacity="0.7" stroke-width="1"/>
<circle cx="883.4" cy="307" r="5.3" fill="#5ea8e0" fill-opacity="0.55" stroke="#5ea8e0" stroke-opacity="0.7" stroke-width="1"/>
<circle cx="887.2" cy="313.1" r="5.3" fill="#5ea8e0" fill-opacity="0.55" stroke="#5ea8e0" stroke-opacity="0.7" stroke-width="1"/>
<circle cx="871.1" cy="316.1" r="5.3" fill="#5ea8e0" fill-opacity="0.55" stroke="#5ea8e0" stroke-opacity="0.7" stroke-width="1"/>
<circle cx="921.6" cy="180" r="5.3" fill="#5ea8e0" fill-opacity="0.55" stroke="#5ea8e0" stroke-opacity="0.7" stroke-width="1"/>
<circle cx="827.5" cy="327.5" r="5.3" fill="#5ea8e0" fill-opacity="0.55" stroke="#5ea8e0" stroke-opacity="0.7" stroke-width="1"/>
<circle cx="826" cy="342" r="5.3" fill="#5ea8e0" fill-opacity="0.55" stroke="#5ea8e0" stroke-opacity="0.7" stroke-width="1"/>
<circle cx="824.5" cy="352.7" r="5.3" fill="#5ea8e0" fill-opacity="0.55" stroke="#5ea8e0" stroke-opacity="0.7" stroke-width="1"/>
<circle cx="816.8" cy="352.7" r="5.3" fill="#5ea8e0" fill-opacity="0.55" stroke="#5ea8e0" stroke-opacity="0.7" stroke-width="1"/>
<circle cx="814.5" cy="360.4" r="5.3" fill="#5ea8e0" fill-opacity="0.55" stroke="#5ea8e0" stroke-opacity="0.7" stroke-width="1"/>
<circle cx="809.2" cy="366.5" r="5.3" fill="#5ea8e0" fill-opacity="0.55" stroke="#5ea8e0" stroke-opacity="0.7" stroke-width="1"/>
<circle cx="806.9" cy="372.6" r="5.3" fill="#5ea8e0" fill-opacity="0.55" stroke="#5ea8e0" stroke-opacity="0.7" stroke-width="1"/>
<circle cx="806.1" cy="381.8" r="5.3" fill="#5ea8e0" fill-opacity="0.55" stroke="#5ea8e0" stroke-opacity="0.7" stroke-width="1"/>
<circle cx="804.6" cy="375.7" r="5.3" fill="#5ea8e0" fill-opacity="0.55" stroke="#5ea8e0" stroke-opacity="0.7" stroke-width="1"/>
<circle cx="835.2" cy="345.8" r="5.3" fill="#5ea8e0" fill-opacity="0.55" stroke="#5ea8e0" stroke-opacity="0.7" stroke-width="1"/>
<circle cx="841.3" cy="342" r="5.3" fill="#5ea8e0" fill-opacity="0.55" stroke="#5ea8e0" stroke-opacity="0.7" stroke-width="1"/>
<circle cx="845.9" cy="342" r="5.3" fill="#5ea8e0" fill-opacity="0.55" stroke="#5ea8e0" stroke-opacity="0.7" stroke-width="1"/>
<circle cx="855.1" cy="324.4" r="5.3" fill="#5ea8e0" fill-opacity="0.55" stroke="#5ea8e0" stroke-opacity="0.7" stroke-width="1"/>
<circle cx="854.3" cy="331.3" r="5.3" fill="#5ea8e0" fill-opacity="0.55" stroke="#5ea8e0" stroke-opacity="0.7" stroke-width="1"/>
<circle cx="864.2" cy="324.4" r="5.3" fill="#5ea8e0" fill-opacity="0.55" stroke="#5ea8e0" stroke-opacity="0.7" stroke-width="1"/>
<circle cx="871.1" cy="317.5" r="5.3" fill="#5ea8e0" fill-opacity="0.55" stroke="#5ea8e0" stroke-opacity="0.7" stroke-width="1"/>
<circle cx="877.2" cy="320.6" r="5.3" fill="#5ea8e0" fill-opacity="0.55" stroke="#5ea8e0" stroke-opacity="0.7" stroke-width="1"/>
<circle cx="881.8" cy="306.8" r="5.3" fill="#5ea8e0" fill-opacity="0.55" stroke="#5ea8e0" stroke-opacity="0.7" stroke-width="1"/>
<circle cx="904" cy="293.1" r="5.3" fill="#5ea8e0" fill-opacity="0.55" stroke="#5ea8e0" stroke-opacity="0.7" stroke-width="1"/>
<circle cx="812" cy="362" r="5.3" fill="#5ea8e0" fill-opacity="0.55" stroke="#5ea8e0" stroke-opacity="0.7" stroke-width="1"/>
<circle cx="819" cy="347" r="5.3" fill="#5ea8e0" fill-opacity="0.55" stroke="#5ea8e0" stroke-opacity="0.7" stroke-width="1"/>
<circle cx="822" cy="336" r="5.3" fill="#5ea8e0" fill-opacity="0.55" stroke="#5ea8e0" stroke-opacity="0.7" stroke-width="1"/>
<circle cx="808" cy="378" r="5.3" fill="#5ea8e0" fill-opacity="0.55" stroke="#5ea8e0" stroke-opacity="0.7" stroke-width="1"/>
<line x1="739.5" y1="460.4" x2="1062.5" y2="11.5" stroke="#555555" stroke-width="2.8" stroke-dasharray="9 5"/>
<line x1="739.5" y1="460.4" x2="1081" y2="279.6" stroke="#555555" stroke-width="2.8" stroke-dasharray="9 5"/>
<rect x="739.3" y="12.6" width="460" height="447.9" fill="none" stroke="#231f20" stroke-width="1.3"/>
<line x1="771" y1="48.9" x2="794.5" y2="48.9" stroke="#7db7e6" stroke-width="2.6"/>
<line x1="782.8" y1="37.5" x2="782.8" y2="60.3" stroke="#7db7e6" stroke-width="2.6"/>
<circle cx="782.8" cy="48.9" r="5.5" fill="#5ea8e0" fill-opacity="0.55" stroke="#5ea8e0" stroke-opacity="0.7" stroke-width="1"/>
<line x1="771" y1="81.4" x2="794.5" y2="81.4" stroke="#8fbb8c" stroke-width="2.6"/>
<circle cx="782.8" cy="81.4" r="5.5" fill="#7aae77" fill-opacity="0.6" stroke="#5f9a5c" stroke-opacity="0.55" stroke-width="1.1"/>
<text x="804.5" y="55.2" font-size="22.5" text-anchor="start" font-family='"Liberation Sans", sans-serif' fill="#231f20" ><tspan font-style="italic">T</tspan><tspan font-size="16" dy="6">c</tspan></text>
<text x="804.5" y="87.8" font-size="22.5" text-anchor="start" font-family='"Liberation Sans", sans-serif' fill="#231f20" ><tspan font-style="italic">T</tspan><tspan font-size="16" dy="6">0</tspan></text>
<text transform="translate(678,236.6) rotate(-90)" font-size="23.5" text-anchor="middle" font-family='"Liberation Sans", sans-serif' fill="#231f20"><tspan font-style="italic">T</tspan> (K)</text>
<text x="969" y="526.7" font-size="23.5" text-anchor="middle" font-family='"Liberation Sans", sans-serif' fill="#231f20" ><tspan font-style="italic">ρ</tspan><tspan font-size="16.5" dy="4">s0</tspan><tspan dy="-4"> (K)</tspan></text>
<rect x="1058" y="120.5" width="102" height="128" fill="#9d9ea2"/>
<rect x="1058" y="120.5" width="102" height="2.2" fill="#b9babd"/>
<rect x="1058" y="246.3" width="102" height="2.2" fill="#b9babd"/>
<g fill="none" stroke="#adc994" stroke-linecap="butt" stroke-linejoin="round">
<path d="M1059.5,122.0 C1059.8,125.3 1060.1,136.3 1061.0,142.0 C1061.9,147.7 1063.5,153.7 1065.0,156.0 C1066.5,158.3 1067.6,158.8 1070.0,156.0 C1072.4,153.2 1076.0,142.9 1079.2,139.0 C1082.4,135.1 1085.5,131.9 1089.0,132.5 C1092.5,133.1 1097.0,139.2 1100.5,142.8 C1104.0,146.4 1106.8,150.5 1110.3,154.3 C1113.8,158.1 1117.4,162.1 1121.8,165.7 C1126.2,169.2 1132.2,173.4 1136.6,175.6 C1141.0,177.8 1144.8,179.0 1148.0,178.9 C1151.2,178.8 1153.5,176.2 1156.0,175.0 C1158.5,173.8 1161.8,172.5 1163.0,172.0" stroke-width="10.8"/>
<path d="M1115.0,152.0 C1115.5,150.8 1116.6,147.1 1118.0,145.0 C1119.4,142.9 1121.1,140.7 1123.4,139.5 C1125.7,138.3 1128.6,137.3 1131.6,137.9 C1134.6,138.5 1138.5,142.3 1141.5,142.8 C1144.5,143.3 1147.3,141.9 1149.7,141.1 C1152.1,140.3 1153.8,139.2 1156.0,138.0 C1158.2,136.8 1161.8,134.7 1163.0,134.0" stroke-width="10.5"/>
<path d="M1146.0,177.0 C1147.0,175.5 1150.2,171.2 1152.0,168.0 C1153.8,164.8 1155.2,161.0 1157.0,158.0 C1158.8,155.0 1162.0,151.3 1163.0,150.0" stroke-width="10"/>
<path d="M1059.0,190.3 C1061.2,190.6 1067.8,191.2 1072.0,192.0 C1076.2,192.8 1082.1,194.7 1084.1,195.2" stroke-width="6.5"/>
<path d="M1084.1,195.2 C1086.0,196.3 1092.9,199.6 1095.6,201.8 C1098.3,204.0 1098.6,205.1 1100.5,208.4 C1102.4,211.7 1104.8,218.2 1107.0,221.5 C1109.2,224.8 1111.1,228.0 1113.6,228.0 C1116.1,228.0 1118.8,224.8 1121.8,221.5 C1124.8,218.2 1128.0,212.5 1131.6,208.4 C1135.1,204.3 1139.8,198.0 1143.1,196.9 C1146.4,195.8 1149.1,199.8 1151.3,201.8 C1153.5,203.8 1154.2,206.6 1156.0,209.0 C1157.8,211.4 1161.0,214.8 1162.0,216.0" stroke-width="10.8"/>
<path d="M1057.0,253.0 C1057.7,251.2 1059.5,245.1 1061.0,242.0 C1062.5,238.9 1063.1,238.8 1066.1,234.6 C1069.1,230.4 1074.3,221.8 1079.2,216.6 C1084.1,211.4 1092.0,206.0 1095.6,203.4 C1099.2,200.8 1100.1,201.4 1101.0,201.0" stroke-width="11"/>
</g>
<rect x="1036.2" y="248.5" width="24" height="6" fill="#ffffff"/>
<rect x="1036.2" y="120.4" width="22" height="128.1" fill="#f6c970"/>
<rect x="1160" y="120.4" width="22.1" height="128.1" fill="#f6c970"/>
<line x1="1022.6" y1="136" x2="1022.6" y2="241" stroke="#3b7cc0" stroke-width="1.8"/>
<path d="M1022.6,128.5 L1018.4,140 L1026.8,140 Z" fill="#3b7cc0"/>
<path d="M1022.6,248 L1018.4,236.5 L1026.8,236.5 Z" fill="#3b7cc0"/>
<line x1="1074" y1="261" x2="1145" y2="261" stroke="#3b7cc0" stroke-width="1.8"/>
<path d="M1067,261 L1078.5,256.8 L1078.5,265.2 Z" fill="#3b7cc0"/>
<path d="M1152,261 L1140.5,256.8 L1140.5,265.2 Z" fill="#3b7cc0"/>
<text x="1005" y="192" font-size="21" text-anchor="middle" font-family='"Liberation Sans", sans-serif' fill="#231f20" ><tspan font-style="italic">w</tspan></text>
<text x="1110.5" y="280.5" font-size="21" text-anchor="middle" font-family='"Liberation Sans", sans-serif' fill="#231f20" ><tspan font-style="italic">l</tspan></text>
<rect x="102.3" y="596.4" width="239.1" height="250.7" fill="none" stroke="#231f20" stroke-width="1.3"/>
<line x1="102.3" y1="641.7" x2="113.3" y2="641.7" stroke="#231f20" stroke-width="1.1"/>
<text transform="translate(92.2,648.3) scale(1.08,1)" font-size="22" text-anchor="end" font-family='"Liberation Sans", sans-serif' fill="#231f20">−10</text>
<line x1="102.3" y1="698.6" x2="113.3" y2="698.6" stroke="#231f20" stroke-width="1.1"/>
<text transform="translate(92.2,705.2) scale(1.08,1)" font-size="22" text-anchor="end" font-family='"Liberation Sans", sans-serif' fill="#231f20">−15</text>
<line x1="102.3" y1="755.5" x2="113.3" y2="755.5" stroke="#231f20" stroke-width="1.1"/>
<text transform="translate(92.2,762.1) scale(1.08,1)" font-size="22" text-anchor="end" font-family='"Liberation Sans", sans-serif' fill="#231f20">−20</text>
<line x1="102.3" y1="812.4" x2="113.3" y2="812.4" stroke="#231f20" stroke-width="1.1"/>
<text transform="translate(92.2,819) scale(1.08,1)" font-size="22" text-anchor="end" font-family='"Liberation Sans", sans-serif' fill="#231f20">−25</text>
<line x1="144.3" y1="847.1" x2="144.3" y2="836.1" stroke="#231f20" stroke-width="1.1"/>
<text transform="translate(142.5,874.6) scale(1.08,1)" font-size="22" text-anchor="middle" font-family='"Liberation Sans", sans-serif' fill="#231f20">−0.5</text>
<line x1="222" y1="847.1" x2="222" y2="836.1" stroke="#231f20" stroke-width="1.1"/>
<text transform="translate(221.7,874.6) scale(1.08,1)" font-size="22" text-anchor="middle" font-family='"Liberation Sans", sans-serif' fill="#231f20">0</text>
<line x1="299.7" y1="847.1" x2="299.7" y2="836.1" stroke="#231f20" stroke-width="1.1"/>
<text transform="translate(299,874.6) scale(1.08,1)" font-size="22" text-anchor="middle" font-family='"Liberation Sans", sans-serif' fill="#231f20">0.5</text>
<line x1="112.5" y1="618.8" x2="330" y2="618.8" stroke="#111" stroke-width="2" stroke-dasharray="6 2.8"/>
<line x1="112.5" y1="698.6" x2="330" y2="698.6" stroke="#111" stroke-width="2" stroke-dasharray="6 2.8"/>
<line x1="112.5" y1="807.0" x2="330" y2="807.0" stroke="#111" stroke-width="2" stroke-dasharray="6 2.8"/>
<path d="M116.3 813.5L117.9 813.7L119.4 813.9L121 814.1L122.5 814.3L124.1 814.6L125.7 814.9L127.2 815.2L128.8 815.5L130.3 815.9L131.9 816.2L133.4 816.5L135 816.9L136.5 817.2L138.1 817.5L139.6 817.8L141.2 818.1L142.7 818.4L144.3 818.6L145.9 818.8L147.4 818.9L149 819L150.5 819L152.1 819L153.6 818.9L155.2 818.7L156.7 818.4L158.3 818.1L159.8 817.7L161.4 817.1L162.9 816.5L164.5 815.7L166.1 814.8L167.6 813.8L169.2 812.6L170.7 811.2L172.3 809.6L173.8 807.8L175.4 805.7L176.9 803.3L178.5 800.5L180 797.4L181.6 793.9L183.1 790L184.7 785.5L186.3 780.6L187.8 775.2L189.4 769.3L190.9 762.9L192.5 755.9L194 748.5L195.6 740.6L197.1 732.3L198.7 723.7L200.2 714.8L201.8 705.7L203.4 696.6L204.9 687.5L206.5 678.6L208 670.1L209.6 661.9L211.1 654.4L212.7 647.5L214.2 641.5L215.8 636.4L217.3 632.3L218.9 629.3L220.4 627.5L222 626.9L223.6 627.5L225.1 629.3L226.7 632.3L228.2 636.4L229.8 641.5L231.3 647.5L232.9 654.4L234.4 661.9L236 670.1L237.5 678.6L239.1 687.5L240.6 696.6L242.2 705.7L243.8 714.8L245.3 723.7L246.9 732.3L248.4 740.6L250 748.5L251.5 755.9L253.1 762.9L254.6 769.3L256.2 775.2L257.7 780.6L259.3 785.5L260.9 790L262.4 793.9L264 797.4L265.5 800.5L267.1 803.3L268.6 805.7L270.2 807.8L271.7 809.6L273.3 811.2L274.8 812.6L276.4 813.8L277.9 814.8L279.5 815.7L281.1 816.5L282.6 817.1L284.2 817.7L285.7 818.1L287.3 818.4L288.8 818.7L290.4 818.9L291.9 819L293.5 819L295 819L296.6 818.9L298.1 818.8L299.7 818.6L301.3 818.4L302.8 818.1L304.4 817.8L305.9 817.5L307.5 817.2L309 816.9L310.6 816.5L312.1 816.2L313.7 815.9L315.2 815.5L316.8 815.2L318.3 814.9L319.9 814.6L321.5 814.3L323 814.1L324.6 813.9L326.1 813.7L327.7 813.5" fill="none" stroke="#f0a02a" stroke-width="2.6" stroke-linejoin="round"/>
<text x="332" y="639.3" font-size="17.5" text-anchor="end" font-family='"Liberation Sans", sans-serif' fill="#231f20" ><tspan font-family='"Liberation Serif", serif' font-style="italic" font-size="21">ν</tspan> = −2</text>
<text x="332" y="721" font-size="18" text-anchor="end" font-family='"Liberation Sans", sans-serif' fill="#231f20" ><tspan font-family='"Liberation Serif", serif' font-style="italic" font-size="20">∂</tspan><tspan font-size="12" dy="-8">2</tspan><tspan font-size="12" font-style="italic" dx="-7" dy="13">k</tspan><tspan dy="-5" font-style="italic">E</tspan>(<tspan font-style="italic">k</tspan>) = 0</text>
<text x="332.5" y="800.4" font-size="19" text-anchor="end" font-family='"Liberation Sans", sans-serif' fill="#231f20" ><tspan font-family='"Liberation Serif", serif' font-style="italic" font-size="22">ν</tspan> = − 3</text>
<text transform="translate(37.7,721.7) rotate(-90)" font-size="23.5" text-anchor="middle" font-family='"Liberation Sans", sans-serif' fill="#231f20"><tspan font-style="italic">E</tspan> (meV)</text>
<text x="221.3" y="909.8" font-size="22.5" text-anchor="middle" font-family='"Liberation Sans", sans-serif' fill="#231f20" ><tspan font-style="italic">k</tspan> (nm<tspan font-size="15" dy="-9">−1</tspan><tspan dy="9">)</tspan></text>
<rect x="452.8" y="596.2" width="202.3" height="250.7" fill="none" stroke="#231f20" stroke-width="1.3"/>
<text transform="translate(444.1,853.7) scale(1.08,1)" font-size="22" text-anchor="end" font-family='"Liberation Sans", sans-serif' fill="#231f20">0</text>
<line x1="452.8" y1="763.3" x2="463.8" y2="763.3" stroke="#231f20" stroke-width="1.1"/>
<text transform="translate(444.1,770.1) scale(1.08,1)" font-size="22" text-anchor="end" font-family='"Liberation Sans", sans-serif' fill="#231f20">2</text>
<line x1="452.8" y1="679.8" x2="463.8" y2="679.8" stroke="#231f20" stroke-width="1.1"/>
<text transform="translate(444.1,686.5) scale(1.08,1)" font-size="22" text-anchor="end" font-family='"Liberation Sans", sans-serif' fill="#231f20">4</text>
<text transform="translate(444.1,603) scale(1.08,1)" font-size="22" text-anchor="end" font-family='"Liberation Sans", sans-serif' fill="#231f20">6</text>
<text transform="translate(665.1,853.9) scale(1.08,1)" font-size="22" text-anchor="start" font-family='"Liberation Sans", sans-serif' fill="#231f20">0</text>
<line x1="655.1" y1="763.3" x2="644.1" y2="763.3" stroke="#231f20" stroke-width="1.1"/>
<text transform="translate(665.1,770.3) scale(1.08,1)" font-size="22" text-anchor="start" font-family='"Liberation Sans", sans-serif' fill="#231f20">0.5</text>
<line x1="655.1" y1="679.8" x2="644.1" y2="679.8" stroke="#231f20" stroke-width="1.1"/>
<text transform="translate(665.2,686.7) scale(1.08,1)" font-size="22" text-anchor="start" font-family='"Liberation Sans", sans-serif' fill="#231f20">1.0</text>
<text transform="translate(665.2,603.2) scale(1.08,1)" font-size="22" text-anchor="start" font-family='"Liberation Sans", sans-serif' fill="#231f20">1.5</text>
<text transform="translate(452.6,875.6) scale(1.08,1)" font-size="22" text-anchor="middle" font-family='"Liberation Sans", sans-serif' fill="#231f20">−3.0</text>
<line x1="554" y1="846.9" x2="554" y2="835.9" stroke="#231f20" stroke-width="1.1"/>
<text transform="translate(553.5,875.6) scale(1.08,1)" font-size="22" text-anchor="middle" font-family='"Liberation Sans", sans-serif' fill="#231f20">−2.5</text>
<text transform="translate(655.5,875.6) scale(1.08,1)" font-size="22" text-anchor="middle" font-family='"Liberation Sans", sans-serif' fill="#231f20">−2.0</text>
<path d="M452.8 811.3L453.7 811L454.6 810.6L455.5 810.3L456.4 810L457.3 809.6L458.2 809.3L459.1 809L460 808.6L460.9 808.3L461.8 807.9L462.7 807.6L463.6 807.2L464.5 806.9L465.4 806.5L466.3 806.2L467.2 805.8L468.1 805.5L469 805.1L469.9 804.8L470.8 804.4L471.7 804L472.6 803.6L473.5 803.2L474.3 802.8L475.2 802.5L476.1 802.1L477 801.7L477.9 801.3L478.8 801L479.7 800.6L480.6 800.3L481.5 800L482.4 799.7L483.3 799.5L484.2 799.2L485.1 799L486 798.8L486.9 798.5L487.8 798.2L488.7 797.8L489.6 797.4L490.5 796.6L491.4 795.6L492.3 794.4L493.2 793.1L494.1 791.7L495 790.2L495.9 788.8L496.8 787.4L497.7 786.2L498.6 785L499.5 783.7L500.4 782.5L501.3 781.2L502.2 780L503.1 778.7L504 777.4L504.9 776.2L505.8 775L506.7 773.7L507.6 772.5L508.5 771.3L509.4 770.1L510.3 768.9L511.2 767.8L512.1 766.6L513 765.4L513.9 764.2L514.8 763L515.7 761.9L516.5 760.7L517.4 759.6L518.3 758.5L519.2 757.5L520.1 756.5L521 755.5L521.9 754.6L522.8 753.7L523.7 752.9L524.6 752L525.5 751.2L526.4 750.5L527.3 749.7L528.2 749L529.1 748.3L530 747.7L530.9 747.1L531.8 746.6L532.7 746.1L533.6 745.7L534.5 745.3L535.4 744.8L536.3 744.4L537.2 743.9L538.1 743.4L539 742.9L539.9 742.3L540.8 741.7L541.7 741L542.6 740.2L543.5 739.3L544.4 738.2L545.3 736.9L546.2 735.6L547.1 734.3L548 732.9L548.9 731.5L549.8 730.1L550.7 728.8L551.6 727.4L552.5 726L553.4 724.5L554.3 723L555.2 721.6L556.1 720.1L557 718.6L557.9 717.1L558.7 715.7L559.6 714.2L560.5 712.8L561.4 711.3L562.3 709.7L563.2 708.1L564.1 706.4L565 704.6L565.9 702.8L566.8 700.8L567.7 698.7L568.6 696.1L569.5 693L570.4 689.3L571.3 685.2L572.2 680.9L573.1 676.5L574 672.2L574.9 667.9L575.8 663.2L576.7 658.5L577.6 653.8L578.5 649.6L579.4 646.1L580.3 643.4L581.2 640.9L582.1 638.9L583 637.4L583.9 636.7L584.8 636.1L585.7 636L586.6 636.3L587.5 637L588.4 638L589.3 639L590.2 640.2L591.1 641.9L592 643.8L592.9 645.9L593.8 648.1L594.7 650.3L595.6 652.5L596.5 654.8L597.4 657.1L598.3 659.6L599.2 662.2L600.1 664.9L601 667.7L601.8 670.8L602.7 674L603.6 677.6L604.5 681.7L605.4 686L606.3 690.5L607.2 695.1L608.1 699.6L609 704L609.9 708.1L610.8 712.1L611.7 716.2L612.6 720.3L613.5 724.3L614.4 728.2L615.3 732L616.2 735.5L617.1 738.7L618 741.7L618.9 744.5L619.8 747.1L620.7 749.6L621.6 751.9L622.5 754.3L623.4 756.5L624.3 758.7L625.2 761L626.1 763.2L627 765.6L627.9 767.8L628.8 770.1L629.7 772.3L630.6 774.4L631.5 776.6L632.4 778.7L633.3 780.9L634.2 783.1L635.1 785.3L636 787.6L636.9 790L637.8 792.5L638.7 795L639.6 797.6L640.5 800.3L641.4 803L642.3 805.8L643.2 808.7L644 811.6L644.9 814.6L645.8 817.6L646.7 820.7L647.6 823.8L648.5 827L649.4 830.2" fill="none" stroke="#9c5c9c" stroke-width="2.6" stroke-linejoin="round"/>
<path d="M452.8 726.6L453.6 725.9L454.5 725.3L455.3 724.7L456.2 724L457 723.4L457.9 722.8L458.7 722.2L459.6 721.5L460.4 720.9L461.3 720.3L462.1 719.6L463 719L463.8 718.4L464.7 717.8L465.5 717.1L466.3 716.5L467.2 715.9L468 715.2L468.9 714.6L469.7 714L470.6 713.3L471.4 712.7L472.3 712.1L473.1 711.5L474 710.8L474.8 710.2L475.7 709.6L476.5 708.9L477.3 708.3L478.2 707.7L479 707L479.9 706.4L480.7 705.8L481.6 705.1L482.4 704.5L483.3 703.9L484.1 703.2L485 702.6L485.8 702L486.7 701.4L487.5 700.7L488.4 700.1L489.2 699.5L490 698.8L490.9 698.2L491.7 697.6L492.6 697L493.4 696.4L494.3 695.7L495.1 695.1L496 694.5L496.8 693.9L497.7 693.3L498.5 692.6L499.4 692L500.2 691.4L501 690.8L501.9 690.2L502.7 689.6L503.6 689L504.4 688.4L505.3 687.7L506.1 687.1L507 686.5L507.8 685.9L508.7 685.3L509.5 684.7L510.4 684.1L511.2 683.5L512.1 682.9L512.9 682.3L513.7 681.7L514.6 681.1L515.4 680.5L516.3 679.9L517.1 679.3L518 678.7L518.8 678.1L519.7 677.5L520.5 676.9L521.4 676.3L522.2 675.7L523.1 675.1L523.9 674.5L524.7 673.9L525.6 673.3L526.4 672.7L527.3 672.1L528.1 671.5L529 670.9L529.8 670.4L530.7 669.8L531.5 669.2L532.4 668.6L533.2 668L534.1 667.4L534.9 666.8L535.8 666.3L536.6 665.7L537.4 665.1L538.3 664.5L539.1 664L540 663.4L540.8 662.8L541.7 662.3L542.5 661.7L543.4 661.2L544.2 660.6L545.1 660L545.9 659.5L546.8 658.9L547.6 658.3L548.4 657.7L549.3 657.2L550.1 656.6L551 656L551.8 655.4L552.7 654.8L553.5 654.2L554.4 653.6L555.2 652.9L556.1 652.3L556.9 651.6L557.8 651L558.6 650.3L559.5 649.6L560.3 649L561.1 648.3L562 647.6L562.8 646.9L563.7 646.3L564.5 645.6L565.4 644.9L566.2 644.3L567.1 643.6L567.9 643L568.8 642.4L569.6 641.8L570.5 641.2L571.3 640.6L572.1 640L573 639.4L573.8 638.8L574.7 638.2L575.5 637.6L576.4 637.1L577.2 636.5L578.1 636L578.9 635.5L579.8 635L580.6 634.5L581.5 634L582.3 633.5L583.2 633L584 632.5L584.8 632.1L585.7 631.6L586.5 631.2L587.4 630.9L588.2 630.5L589.1 630.2L589.9 629.8L590.8 629.4L591.6 629.1L592.5 628.7L593.3 628.4L594.2 628.2L595 627.9L595.8 627.8L596.7 627.7L597.5 627.8L598.4 627.8L599.2 627.8L600.1 627.9L600.9 628L601.8 628L602.6 628.1L603.5 628.2L604.3 628.3L605.2 628.5L606 628.7L606.9 628.9L607.7 629.2L608.5 629.5L609.4 629.8L610.2 630.2L611.1 630.6L611.9 631.1L612.8 631.5L613.6 632L614.5 632.5L615.3 633L616.2 633.5L617 634.1L617.9 634.8L618.7 635.5L619.5 636.2L620.4 637.1L621.2 637.9L622.1 638.8L622.9 639.8L623.8 640.9L624.6 642.1L625.5 643.3L626.3 644.6L627.2 646L628 647.4L628.9 649L629.7 650.6L630.6 652.3L631.4 654.2L632.2 656.2L633.1 658.3L633.9 660.6L634.8 662.9L635.6 665.4L636.5 668L637.3 670.8L638.2 673.9L639 677.2L639.9 680.9L640.7 684.9L641.6 689.3L642.4 694.4L643.2 700.1L644.1 706.1L644.9 712.5L645.8 719.1L646.6 725.7L647.5 732.2L648.3 739L649.2 746.6L650 755.5L650.9 766.1L651.7 782.8L652.6 805L653.4 825.6L654.3 838.7L655.1 846.9" fill="none" stroke="#f0a02a" stroke-width="2.6" stroke-linejoin="round"/>
<line x1="460.2" y1="619.9" x2="497" y2="619.9" stroke="#f0a02a" stroke-width="3.4"/>
<text x="507.8" y="625.7" font-size="20" text-anchor="start" font-family='"Liberation Sans", sans-serif' fill="#231f20" >Theory</text>
<line x1="459.2" y1="820.8" x2="494.7" y2="820.8" stroke="#9c5c9c" stroke-width="3.2"/>
<text x="512" y="817.5" font-size="15" text-anchor="middle" font-family='"Liberation Sans", sans-serif' fill="#231f20" ><tspan font-style="italic">w</tspan></text>
<line x1="501.3" y1="821.7" x2="526.7" y2="821.7" stroke="#231f20" stroke-width="1.1"/>
<text x="513.6" y="836.7" font-size="15" text-anchor="middle" font-family='"Liberation Sans", sans-serif' fill="#231f20" ><tspan font-style="italic">w</tspan><tspan font-size="11" dy="-5">*</tspan></text>
<text x="527.2" y="827" font-size="19.5" text-anchor="start" font-family='"Liberation Sans", sans-serif' fill="#231f20" >×</text>
<text x="542.5" y="826" font-size="19.5" text-anchor="start" font-family='"Liberation Sans", sans-serif' fill="#231f20" >experiment</text>
<text transform="translate(404.9,700) rotate(-90)" font-size="23.5" text-anchor="middle" font-family='"Liberation Sans", sans-serif' fill="#231f20"><tspan font-style="italic">ρ</tspan><tspan font-size="16" dy="4">s</tspan><tspan dy="-4"> (K)</tspan></text>
<line x1="399.4" y1="735.4" x2="399.4" y2="772" stroke="#f0a02a" stroke-width="3.3"/>
<text transform="translate(729.3,700) rotate(-90)" font-size="23.5" text-anchor="middle" font-family='"Liberation Sans", sans-serif' fill="#231f20"><tspan font-style="italic">ρ</tspan><tspan font-size="16" dy="4">s</tspan><tspan dy="-4"> (K)</tspan></text>
<line x1="723.4" y1="735.4" x2="723.4" y2="772" stroke="#9c5c9c" stroke-width="3.3"/>
<text x="548.1" y="904.6" font-size="23.6" font-family='"Liberation Serif", serif' font-style="italic" fill="#231f20">ν</text>
<rect x="844.3" y="596.2" width="350.2" height="250.7" fill="none" stroke="#231f20" stroke-width="1.3"/>
<text transform="translate(834.8,853.7) scale(1.08,1)" font-size="22" text-anchor="end" font-family='"Liberation Sans", sans-serif' fill="#231f20">0</text>
<line x1="844.3" y1="763.3" x2="855.3" y2="763.3" stroke="#231f20" stroke-width="1.1"/>
<text transform="translate(834.8,770.1) scale(1.08,1)" font-size="22" text-anchor="end" font-family='"Liberation Sans", sans-serif' fill="#231f20">10</text>
<line x1="844.3" y1="679.8" x2="855.3" y2="679.8" stroke="#231f20" stroke-width="1.1"/>
<text transform="translate(834.8,686.5) scale(1.08,1)" font-size="22" text-anchor="end" font-family='"Liberation Sans", sans-serif' fill="#231f20">20</text>
<text transform="translate(834.8,603) scale(1.08,1)" font-size="22" text-anchor="end" font-family='"Liberation Sans", sans-serif' fill="#231f20">30</text>
<line x1="969.5" y1="846.9" x2="969.5" y2="835.9" stroke="#231f20" stroke-width="1.1"/>
<text transform="translate(963.1,874.9) scale(1.08,1)" font-size="22" text-anchor="middle" font-family='"Liberation Sans", sans-serif' fill="#231f20">−2.4</text>
<line x1="1095.2" y1="846.9" x2="1095.2" y2="835.9" stroke="#231f20" stroke-width="1.1"/>
<text transform="translate(1088.7,874.9) scale(1.08,1)" font-size="22" text-anchor="middle" font-family='"Liberation Sans", sans-serif' fill="#231f20">−2.2</text>
<path d="M860.1 779.1L866.4 794.2L872.7 798.7L879.5 803L886 791.7L892.8 794.2L899.1 802.5L905.9 821.1L912.1 806.3L918.7 803L925.5 817.8L931.8 824.1L938 803L944.3 810L950.6 795.2L957.4 793.5L963.7 806.5L970.7 802.8L976.8 736.4L983.3 705L990.1 716.8L996.6 716L1003 642.1L1009.6 660.2L1016 694.4L1022.2 653.2L1028.7 709.5L1035.2 739.4L1041.8 687.9L1048.3 672L1054.6 736.1L1061.4 735.6L1067.9 748.2L1074.5 762.3L1081 792.2L1087.3 772.8L1093.8 731.6L1100.1 754L1106.6 736.6L1113.2 757.3L1119.7 785.2L1126.2 762.3L1132.8 775.9L1139.3 803.5L1145.9 794.2L1152.4 814.1L1158.9 821.6L1165.5 830.7L1171.7 836.6L1178.4 835.2" fill="none" stroke="#8db5e3" stroke-width="3" stroke-linejoin="round"/>
<line x1="860.1" y1="768.1" x2="860.1" y2="790.1" stroke="#8db5e3" stroke-width="2.6"/>
<line x1="866.4" y1="782.2" x2="866.4" y2="806.2" stroke="#8db5e3" stroke-width="2.6"/>
<line x1="872.7" y1="788.7" x2="872.7" y2="808.7" stroke="#8db5e3" stroke-width="2.6"/>
<line x1="879.5" y1="791" x2="879.5" y2="815" stroke="#8db5e3" stroke-width="2.6"/>
<line x1="886" y1="782.7" x2="886" y2="800.7" stroke="#8db5e3" stroke-width="2.6"/>
<line x1="892.8" y1="784.2" x2="892.8" y2="804.2" stroke="#8db5e3" stroke-width="2.6"/>
<line x1="899.1" y1="793.5" x2="899.1" y2="811.5" stroke="#8db5e3" stroke-width="2.6"/>
<line x1="905.9" y1="813.1" x2="905.9" y2="829.1" stroke="#8db5e3" stroke-width="2.6"/>
<line x1="912.1" y1="796.3" x2="912.1" y2="816.3" stroke="#8db5e3" stroke-width="2.6"/>
<line x1="918.7" y1="794" x2="918.7" y2="812" stroke="#8db5e3" stroke-width="2.6"/>
<line x1="925.5" y1="808.8" x2="925.5" y2="826.8" stroke="#8db5e3" stroke-width="2.6"/>
<line x1="931.8" y1="816.1" x2="931.8" y2="832.1" stroke="#8db5e3" stroke-width="2.6"/>
<line x1="938" y1="793" x2="938" y2="813" stroke="#8db5e3" stroke-width="2.6"/>
<line x1="944.3" y1="801" x2="944.3" y2="819" stroke="#8db5e3" stroke-width="2.6"/>
<line x1="950.6" y1="785.2" x2="950.6" y2="805.2" stroke="#8db5e3" stroke-width="2.6"/>
<line x1="957.4" y1="784.5" x2="957.4" y2="802.5" stroke="#8db5e3" stroke-width="2.6"/>
<line x1="963.7" y1="796.5" x2="963.7" y2="816.5" stroke="#8db5e3" stroke-width="2.6"/>
<line x1="970.7" y1="791.8" x2="970.7" y2="813.8" stroke="#8db5e3" stroke-width="2.6"/>
<line x1="976.8" y1="727.4" x2="976.8" y2="745.4" stroke="#8db5e3" stroke-width="2.6"/>
<line x1="983.3" y1="696" x2="983.3" y2="714" stroke="#8db5e3" stroke-width="2.6"/>
<line x1="990.1" y1="706.8" x2="990.1" y2="726.8" stroke="#8db5e3" stroke-width="2.6"/>
<line x1="996.6" y1="707" x2="996.6" y2="725" stroke="#8db5e3" stroke-width="2.6"/>
<line x1="1003" y1="627.1" x2="1003" y2="657.1" stroke="#8db5e3" stroke-width="2.6"/>
<line x1="1009.6" y1="649.2" x2="1009.6" y2="671.2" stroke="#8db5e3" stroke-width="2.6"/>
<line x1="1016" y1="683.4" x2="1016" y2="705.4" stroke="#8db5e3" stroke-width="2.6"/>
<line x1="1022.2" y1="633.2" x2="1022.2" y2="673.2" stroke="#8db5e3" stroke-width="2.6"/>
<line x1="1028.7" y1="695.5" x2="1028.7" y2="723.5" stroke="#8db5e3" stroke-width="2.6"/>
<line x1="1035.2" y1="730.4" x2="1035.2" y2="748.4" stroke="#8db5e3" stroke-width="2.6"/>
<line x1="1041.8" y1="675.9" x2="1041.8" y2="699.9" stroke="#8db5e3" stroke-width="2.6"/>
<line x1="1048.3" y1="644" x2="1048.3" y2="700" stroke="#8db5e3" stroke-width="2.6"/>
<line x1="1054.6" y1="726.1" x2="1054.6" y2="746.1" stroke="#8db5e3" stroke-width="2.6"/>
<line x1="1061.4" y1="719.6" x2="1061.4" y2="751.6" stroke="#8db5e3" stroke-width="2.6"/>
<line x1="1067.9" y1="733.2" x2="1067.9" y2="763.2" stroke="#8db5e3" stroke-width="2.6"/>
<line x1="1074.5" y1="745.3" x2="1074.5" y2="779.3" stroke="#8db5e3" stroke-width="2.6"/>
<line x1="1081" y1="762.2" x2="1081" y2="822.2" stroke="#8db5e3" stroke-width="2.6"/>
<line x1="1087.3" y1="716.8" x2="1087.3" y2="828.8" stroke="#8db5e3" stroke-width="2.6"/>
<line x1="1093.8" y1="679.6" x2="1093.8" y2="783.6" stroke="#8db5e3" stroke-width="2.6"/>
<line x1="1100.1" y1="724" x2="1100.1" y2="784" stroke="#8db5e3" stroke-width="2.6"/>
<line x1="1106.6" y1="719.6" x2="1106.6" y2="753.6" stroke="#8db5e3" stroke-width="2.6"/>
<line x1="1113.2" y1="745.3" x2="1113.2" y2="769.3" stroke="#8db5e3" stroke-width="2.6"/>
<line x1="1119.7" y1="775.2" x2="1119.7" y2="795.2" stroke="#8db5e3" stroke-width="2.6"/>
<line x1="1126.2" y1="742.3" x2="1126.2" y2="782.3" stroke="#8db5e3" stroke-width="2.6"/>
<line x1="1132.8" y1="755.9" x2="1132.8" y2="795.9" stroke="#8db5e3" stroke-width="2.6"/>
<line x1="1139.3" y1="793.5" x2="1139.3" y2="813.5" stroke="#8db5e3" stroke-width="2.6"/>
<line x1="1145.9" y1="783.2" x2="1145.9" y2="805.2" stroke="#8db5e3" stroke-width="2.6"/>
<line x1="1152.4" y1="805.1" x2="1152.4" y2="823.1" stroke="#8db5e3" stroke-width="2.6"/>
<line x1="1158.9" y1="813.6" x2="1158.9" y2="829.6" stroke="#8db5e3" stroke-width="2.6"/>
<line x1="1165.5" y1="823.7" x2="1165.5" y2="837.7" stroke="#8db5e3" stroke-width="2.6"/>
<line x1="1171.7" y1="830.6" x2="1171.7" y2="842.6" stroke="#8db5e3" stroke-width="2.6"/>
<line x1="1178.4" y1="830.2" x2="1178.4" y2="840.2" stroke="#8db5e3" stroke-width="2.6"/>
<line x1="989.1" y1="673.4" x2="989.1" y2="785.4" stroke="#d99bc6" stroke-width="2.6"/>
<line x1="1002.1" y1="620.5" x2="1002.1" y2="744.5" stroke="#d99bc6" stroke-width="2.6"/>
<line x1="1015.1" y1="609" x2="1015.1" y2="752" stroke="#d99bc6" stroke-width="2.6"/>
<line x1="1028.7" y1="754.4" x2="1028.7" y2="798.4" stroke="#d99bc6" stroke-width="2.6"/>
<line x1="1042" y1="733.6" x2="1042" y2="805.6" stroke="#d99bc6" stroke-width="2.6"/>
<line x1="1055.1" y1="745.3" x2="1055.1" y2="799.3" stroke="#d99bc6" stroke-width="2.6"/>
<line x1="1068.4" y1="748.4" x2="1068.4" y2="812.4" stroke="#d99bc6" stroke-width="2.6"/>
<line x1="1081" y1="783" x2="1081" y2="817" stroke="#d99bc6" stroke-width="2.6"/>
<line x1="1094.6" y1="713.4" x2="1094.6" y2="837.4" stroke="#d99bc6" stroke-width="2.6"/>
<circle cx="860.1" cy="779.1" r="5.6" fill="#1e87c8" stroke="#1a78b5" stroke-width="0.8"/>
<circle cx="866.4" cy="794.2" r="5.6" fill="#1e87c8" stroke="#1a78b5" stroke-width="0.8"/>
<circle cx="872.7" cy="798.7" r="5.6" fill="#1e87c8" stroke="#1a78b5" stroke-width="0.8"/>
<circle cx="879.5" cy="803" r="5.6" fill="#1e87c8" stroke="#1a78b5" stroke-width="0.8"/>
<circle cx="886" cy="791.7" r="5.6" fill="#1e87c8" stroke="#1a78b5" stroke-width="0.8"/>
<circle cx="892.8" cy="794.2" r="5.6" fill="#1e87c8" stroke="#1a78b5" stroke-width="0.8"/>
<circle cx="899.1" cy="802.5" r="5.6" fill="#1e87c8" stroke="#1a78b5" stroke-width="0.8"/>
<circle cx="905.9" cy="821.1" r="5.6" fill="#1e87c8" stroke="#1a78b5" stroke-width="0.8"/>
<circle cx="912.1" cy="806.3" r="5.6" fill="#1e87c8" stroke="#1a78b5" stroke-width="0.8"/>
<circle cx="918.7" cy="803" r="5.6" fill="#1e87c8" stroke="#1a78b5" stroke-width="0.8"/>
<circle cx="925.5" cy="817.8" r="5.6" fill="#1e87c8" stroke="#1a78b5" stroke-width="0.8"/>
<circle cx="931.8" cy="824.1" r="5.6" fill="#1e87c8" stroke="#1a78b5" stroke-width="0.8"/>
<circle cx="938" cy="803" r="5.6" fill="#1e87c8" stroke="#1a78b5" stroke-width="0.8"/>
<circle cx="944.3" cy="810" r="5.6" fill="#1e87c8" stroke="#1a78b5" stroke-width="0.8"/>
<circle cx="950.6" cy="795.2" r="5.6" fill="#1e87c8" stroke="#1a78b5" stroke-width="0.8"/>
<circle cx="957.4" cy="793.5" r="5.6" fill="#1e87c8" stroke="#1a78b5" stroke-width="0.8"/>
<circle cx="963.7" cy="806.5" r="5.6" fill="#1e87c8" stroke="#1a78b5" stroke-width="0.8"/>
<circle cx="970.7" cy="802.8" r="5.6" fill="#1e87c8" stroke="#1a78b5" stroke-width="0.8"/>
<circle cx="976.8" cy="736.4" r="5.6" fill="#1e87c8" stroke="#1a78b5" stroke-width="0.8"/>
<circle cx="983.3" cy="705" r="5.6" fill="#1e87c8" stroke="#1a78b5" stroke-width="0.8"/>
<circle cx="990.1" cy="716.8" r="5.6" fill="#1e87c8" stroke="#1a78b5" stroke-width="0.8"/>
<circle cx="996.6" cy="716" r="5.6" fill="#1e87c8" stroke="#1a78b5" stroke-width="0.8"/>
<circle cx="1003" cy="642.1" r="5.6" fill="#1e87c8" stroke="#1a78b5" stroke-width="0.8"/>
<circle cx="1009.6" cy="660.2" r="5.6" fill="#1e87c8" stroke="#1a78b5" stroke-width="0.8"/>
<circle cx="1016" cy="694.4" r="5.6" fill="#1e87c8" stroke="#1a78b5" stroke-width="0.8"/>
<circle cx="1022.2" cy="653.2" r="5.6" fill="#1e87c8" stroke="#1a78b5" stroke-width="0.8"/>
<circle cx="1028.7" cy="709.5" r="5.6" fill="#1e87c8" stroke="#1a78b5" stroke-width="0.8"/>
<circle cx="1035.2" cy="739.4" r="5.6" fill="#1e87c8" stroke="#1a78b5" stroke-width="0.8"/>
<circle cx="1041.8" cy="687.9" r="5.6" fill="#1e87c8" stroke="#1a78b5" stroke-width="0.8"/>
<circle cx="1048.3" cy="672" r="5.6" fill="#1e87c8" stroke="#1a78b5" stroke-width="0.8"/>
<circle cx="1054.6" cy="736.1" r="5.6" fill="#1e87c8" stroke="#1a78b5" stroke-width="0.8"/>
<circle cx="1061.4" cy="735.6" r="5.6" fill="#1e87c8" stroke="#1a78b5" stroke-width="0.8"/>
<circle cx="1067.9" cy="748.2" r="5.6" fill="#1e87c8" stroke="#1a78b5" stroke-width="0.8"/>
<circle cx="1074.5" cy="762.3" r="5.6" fill="#1e87c8" stroke="#1a78b5" stroke-width="0.8"/>
<circle cx="1081" cy="792.2" r="5.6" fill="#1e87c8" stroke="#1a78b5" stroke-width="0.8"/>
<circle cx="1087.3" cy="772.8" r="5.6" fill="#1e87c8" stroke="#1a78b5" stroke-width="0.8"/>
<circle cx="1093.8" cy="731.6" r="5.6" fill="#1e87c8" stroke="#1a78b5" stroke-width="0.8"/>
<circle cx="1100.1" cy="754" r="5.6" fill="#1e87c8" stroke="#1a78b5" stroke-width="0.8"/>
<circle cx="1106.6" cy="736.6" r="5.6" fill="#1e87c8" stroke="#1a78b5" stroke-width="0.8"/>
<circle cx="1113.2" cy="757.3" r="5.6" fill="#1e87c8" stroke="#1a78b5" stroke-width="0.8"/>
<circle cx="1119.7" cy="785.2" r="5.6" fill="#1e87c8" stroke="#1a78b5" stroke-width="0.8"/>
<circle cx="1126.2" cy="762.3" r="5.6" fill="#1e87c8" stroke="#1a78b5" stroke-width="0.8"/>
<circle cx="1132.8" cy="775.9" r="5.6" fill="#1e87c8" stroke="#1a78b5" stroke-width="0.8"/>
<circle cx="1139.3" cy="803.5" r="5.6" fill="#1e87c8" stroke="#1a78b5" stroke-width="0.8"/>
<circle cx="1145.9" cy="794.2" r="5.6" fill="#1e87c8" stroke="#1a78b5" stroke-width="0.8"/>
<circle cx="1152.4" cy="814.1" r="5.6" fill="#1e87c8" stroke="#1a78b5" stroke-width="0.8"/>
<circle cx="1158.9" cy="821.6" r="5.6" fill="#1e87c8" stroke="#1a78b5" stroke-width="0.8"/>
<circle cx="1165.5" cy="830.7" r="5.6" fill="#1e87c8" stroke="#1a78b5" stroke-width="0.8"/>
<circle cx="1171.7" cy="836.6" r="5.6" fill="#1e87c8" stroke="#1a78b5" stroke-width="0.8"/>
<circle cx="1178.4" cy="835.2" r="5.6" fill="#1e87c8" stroke="#1a78b5" stroke-width="0.8"/>
<circle cx="989.1" cy="729.4" r="5.6" fill="#c96ba6" stroke="#b95e98" stroke-width="0.8"/>
<circle cx="1002.1" cy="682.5" r="5.6" fill="#c96ba6" stroke="#b95e98" stroke-width="0.8"/>
<circle cx="1015.1" cy="682" r="5.6" fill="#c96ba6" stroke="#b95e98" stroke-width="0.8"/>
<circle cx="1028.7" cy="776.4" r="5.6" fill="#c96ba6" stroke="#b95e98" stroke-width="0.8"/>
<circle cx="1042" cy="769.6" r="5.6" fill="#c96ba6" stroke="#b95e98" stroke-width="0.8"/>
<circle cx="1055.1" cy="773.3" r="5.6" fill="#c96ba6" stroke="#b95e98" stroke-width="0.8"/>
<circle cx="1068.4" cy="778.4" r="5.6" fill="#c96ba6" stroke="#b95e98" stroke-width="0.8"/>
<circle cx="1081" cy="800" r="5.6" fill="#c96ba6" stroke="#b95e98" stroke-width="0.8"/>
<circle cx="1094.6" cy="775.4" r="5.6" fill="#c96ba6" stroke="#b95e98" stroke-width="0.8"/>
<line x1="859" y1="629.2" x2="883" y2="629.2" stroke="#8db5e3" stroke-width="2.6"/>
<line x1="870.8" y1="617.5" x2="870.8" y2="641" stroke="#8db5e3" stroke-width="2.6"/>
<circle cx="870.8" cy="629.2" r="5.8" fill="#1e87c8"/>
<line x1="870.8" y1="653.5" x2="870.8" y2="677" stroke="#d99bc6" stroke-width="2.6"/>
<circle cx="870.8" cy="665" r="5.8" fill="#c96ba6"/>
<text x="908.8" y="623.6" font-size="16" text-anchor="middle" font-family='"Liberation Sans", sans-serif' fill="#231f20" >2π</text><line x1="890.3" y1="626.9" x2="927.3" y2="626.9" stroke="#231f20" stroke-width="1.6"/><text x="908.8" y="643.3" font-size="16" text-anchor="middle" font-family='"Liberation Sans", sans-serif' fill="#231f20" >log 2</text>
<text x="944.6" y="623.6" font-size="16" text-anchor="middle" font-family='"Liberation Sans", sans-serif' fill="#231f20" >d<tspan font-style="italic">ρ</tspan><tspan font-size="10" dy="1">s</tspan></text><line x1="931" y1="626.9" x2="958.2" y2="626.9" stroke="#231f20" stroke-width="1.6"/><text x="944.6" y="643.3" font-size="16" text-anchor="middle" font-family='"Liberation Sans", sans-serif' fill="#231f20" >d<tspan font-style="italic">T</tspan></text>
<text x="974.8" y="623.6" font-size="16" text-anchor="middle" font-family='"Liberation Sans", sans-serif' fill="#231f20" ><tspan font-style="italic">w</tspan></text><line x1="962" y1="626.9" x2="987.6" y2="626.9" stroke="#231f20" stroke-width="1.6"/><text x="974.8" y="643.3" font-size="16" text-anchor="middle" font-family='"Liberation Sans", sans-serif' fill="#231f20" ><tspan font-style="italic">w</tspan>*</text>
<text x="893.5" y="672" font-size="19" text-anchor="start" font-family='"Liberation Sans", sans-serif' fill="#231f20" >from <tspan font-style="italic">ρ</tspan><tspan font-size="12" dy="3">s</tspan><tspan dy="-3">(</tspan><tspan font-style="italic">l</tspan>)</text>
<text transform="translate(786,723.4) rotate(-90)" font-size="22.5" text-anchor="middle" font-family='"Liberation Sans", sans-serif' fill="#231f20"><tspan font-style="italic">v</tspan><tspan font-size="14" dy="4">F</tspan><tspan dy="-4">/</tspan><tspan font-style="italic">v</tspan><tspan font-size="14" dy="4" font-style="italic">Δ</tspan></text>
<text x="1013.5" y="904.6" font-size="23.6" font-family='"Liberation Serif", serif' font-style="italic" fill="#231f20">ν</text>
<text x="0.3" y="19" font-size="26.5" font-weight="bold" font-family='"Liberation Sans", sans-serif' fill="#231f20" stroke="#231f20" stroke-width="0.9">a</text><text x="658.5" y="18.8" font-size="26.5" font-weight="bold" font-family='"Liberation Sans", sans-serif' fill="#231f20" stroke="#231f20" stroke-width="0.9">b</text><text x="0.8" y="599.5" font-size="26.5" font-weight="bold" font-family='"Liberation Sans", sans-serif' fill="#231f20" stroke="#231f20" stroke-width="0.9">c</text><text x="385.2" y="600.5" font-size="26.5" font-weight="bold" font-family='"Liberation Sans", sans-serif' fill="#231f20" stroke="#231f20" stroke-width="0.9">d</text><text x="767.2" y="600.8" font-size="26.5" font-weight="bold" font-family='"Liberation Sans", sans-serif' fill="#231f20" stroke="#231f20" stroke-width="0.9">e</text>
</svg>
</body></html>
